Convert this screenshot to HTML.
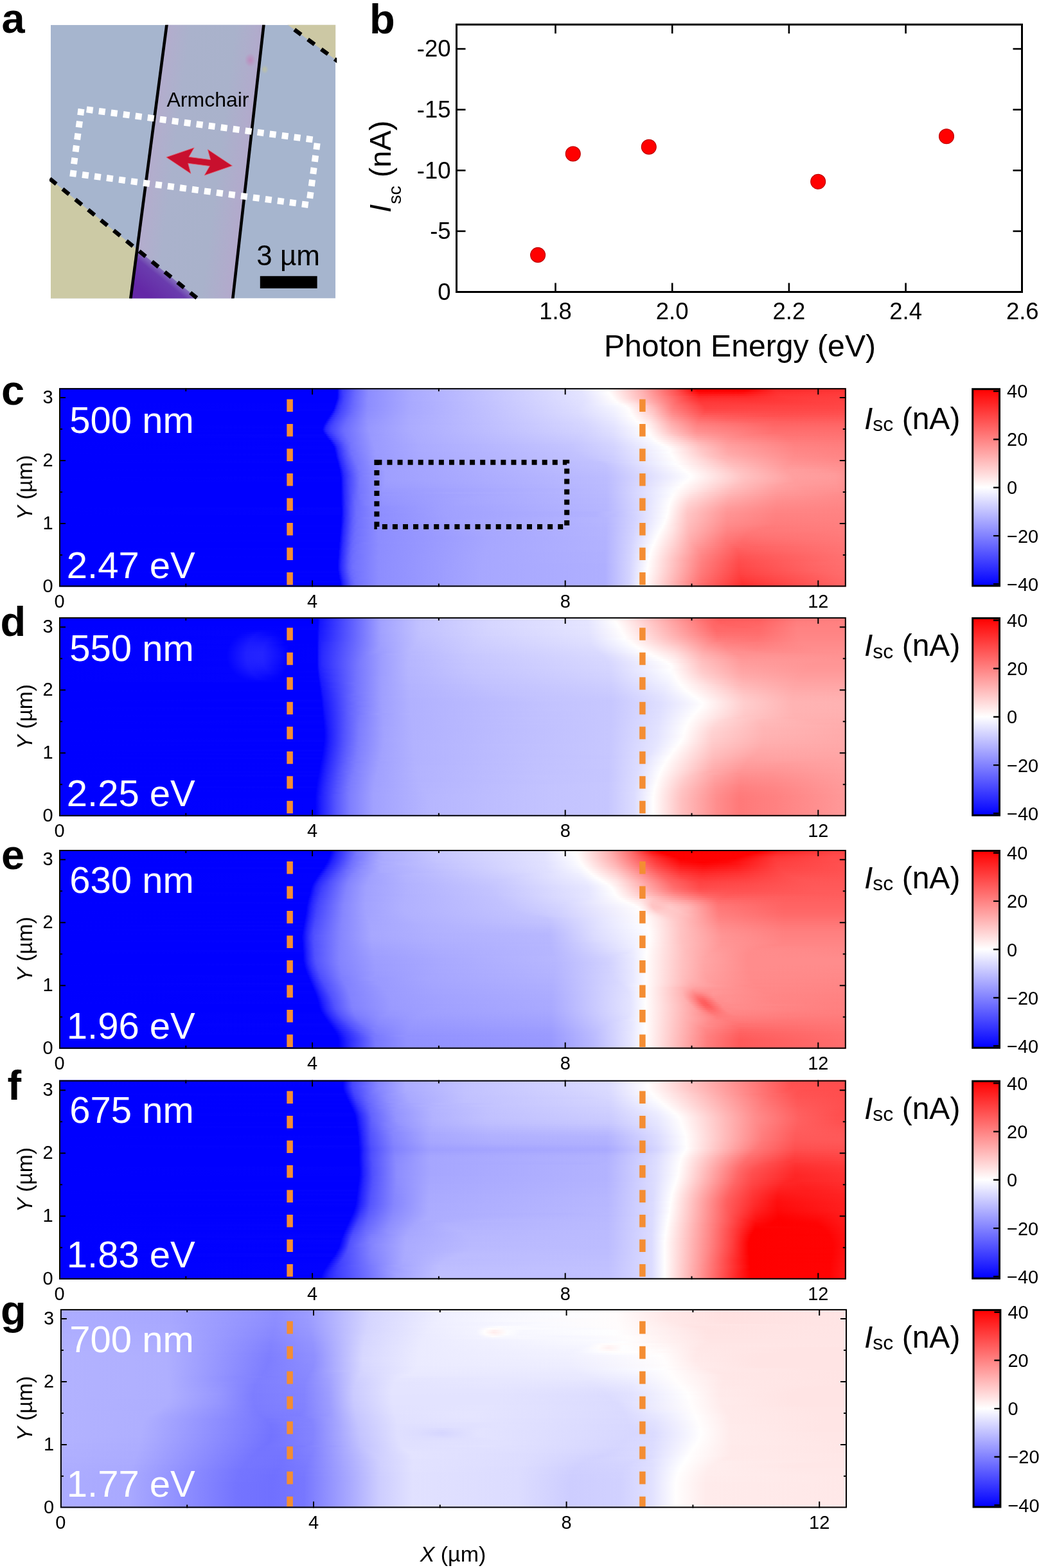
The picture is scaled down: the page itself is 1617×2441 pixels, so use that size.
<!DOCTYPE html><html><head><meta charset="utf-8"><title>Figure</title><style>html,body{margin:0;padding:0;background:#fff;}body{width:1617px;height:2441px;overflow:hidden;}svg{display:block;}</style></head><body><svg width="1617" height="2441" viewBox="0 0 1617 2441" font-family="'Liberation Sans', sans-serif" shape-rendering="auto"><defs><linearGradient id="c0"><stop offset="0.0004" stop-color="#0000ff"/><stop offset="0.3531" stop-color="#0000ff"/><stop offset="0.3539" stop-color="#0505ff"/><stop offset="0.3563" stop-color="#2222ff"/><stop offset="0.3604" stop-color="#3b3bff"/><stop offset="0.3792" stop-color="#7070ff"/><stop offset="0.3931" stop-color="#8d8dff"/><stop offset="0.4461" stop-color="#aaaaff"/><stop offset="0.6624" stop-color="#e5e5ff"/><stop offset="0.6959" stop-color="#fffefe"/><stop offset="0.7392" stop-color="#ffb3b3"/><stop offset="0.7816" stop-color="#ff5454"/><stop offset="0.8029" stop-color="#ff1616"/><stop offset="0.8086" stop-color="#ff0000"/><stop offset="0.8771" stop-color="#ff0202"/><stop offset="0.9106" stop-color="#ff2929"/><stop offset="0.9996" stop-color="#ff3535"/></linearGradient><linearGradient id="c1"><stop offset="0.0004" stop-color="#0000ff"/><stop offset="0.3531" stop-color="#0000ff"/><stop offset="0.3539" stop-color="#0505ff"/><stop offset="0.3563" stop-color="#2222ff"/><stop offset="0.3604" stop-color="#3b3bff"/><stop offset="0.3767" stop-color="#6a6aff"/><stop offset="0.3931" stop-color="#8d8dff"/><stop offset="0.4469" stop-color="#aaaaff"/><stop offset="0.6633" stop-color="#e5e5ff"/><stop offset="0.6976" stop-color="#fffdfd"/><stop offset="0.7408" stop-color="#ffb1b1"/><stop offset="0.7833" stop-color="#ff5353"/><stop offset="0.8037" stop-color="#ff1919"/><stop offset="0.8110" stop-color="#ff0101"/><stop offset="0.8714" stop-color="#ff0303"/><stop offset="0.9106" stop-color="#ff2c2c"/><stop offset="0.9996" stop-color="#ff3636"/></linearGradient><linearGradient id="c2"><stop offset="0.0004" stop-color="#0000ff"/><stop offset="0.3531" stop-color="#0000ff"/><stop offset="0.3539" stop-color="#0505ff"/><stop offset="0.3563" stop-color="#2222ff"/><stop offset="0.3604" stop-color="#3c3cff"/><stop offset="0.3751" stop-color="#6767ff"/><stop offset="0.3931" stop-color="#8d8dff"/><stop offset="0.4469" stop-color="#aaaaff"/><stop offset="0.6641" stop-color="#e4e4ff"/><stop offset="0.6984" stop-color="#fffefe"/><stop offset="0.7416" stop-color="#ffb2b2"/><stop offset="0.7873" stop-color="#ff4d4d"/><stop offset="0.8061" stop-color="#ff1a1a"/><stop offset="0.8135" stop-color="#ff0a0a"/><stop offset="0.8673" stop-color="#ff0c0c"/><stop offset="0.9122" stop-color="#ff3030"/><stop offset="0.9996" stop-color="#ff3939"/></linearGradient><linearGradient id="c3"><stop offset="0.0004" stop-color="#0000ff"/><stop offset="0.3531" stop-color="#0000ff"/><stop offset="0.3539" stop-color="#0505ff"/><stop offset="0.3571" stop-color="#2a2aff"/><stop offset="0.3620" stop-color="#4343ff"/><stop offset="0.3759" stop-color="#6a6aff"/><stop offset="0.3931" stop-color="#8d8dff"/><stop offset="0.4478" stop-color="#aaaaff"/><stop offset="0.6657" stop-color="#e4e4ff"/><stop offset="0.7000" stop-color="#fffefe"/><stop offset="0.7449" stop-color="#ffaeae"/><stop offset="0.8045" stop-color="#ff2a2a"/><stop offset="0.8135" stop-color="#ff1818"/><stop offset="0.8698" stop-color="#ff1b1b"/><stop offset="0.9147" stop-color="#ff3434"/><stop offset="0.9996" stop-color="#ff3c3c"/></linearGradient><linearGradient id="c4"><stop offset="0.0004" stop-color="#0000ff"/><stop offset="0.3531" stop-color="#0000ff"/><stop offset="0.3571" stop-color="#2a2aff"/><stop offset="0.3629" stop-color="#4646ff"/><stop offset="0.3767" stop-color="#6d6dff"/><stop offset="0.3931" stop-color="#8d8dff"/><stop offset="0.4478" stop-color="#aaaaff"/><stop offset="0.6673" stop-color="#e4e4ff"/><stop offset="0.7024" stop-color="#fffdfd"/><stop offset="0.7490" stop-color="#ffa8a8"/><stop offset="0.8127" stop-color="#ff2525"/><stop offset="0.8731" stop-color="#ff2727"/><stop offset="0.9188" stop-color="#ff3838"/><stop offset="0.9996" stop-color="#ff3e3e"/></linearGradient><linearGradient id="c5"><stop offset="0.0004" stop-color="#0000ff"/><stop offset="0.3531" stop-color="#0000ff"/><stop offset="0.3563" stop-color="#2626ff"/><stop offset="0.3612" stop-color="#4242ff"/><stop offset="0.3735" stop-color="#6666ff"/><stop offset="0.3922" stop-color="#8d8dff"/><stop offset="0.4469" stop-color="#aaaaff"/><stop offset="0.6682" stop-color="#e4e4ff"/><stop offset="0.7041" stop-color="#fffdfd"/><stop offset="0.7473" stop-color="#ffafaf"/><stop offset="0.8045" stop-color="#ff3a3a"/><stop offset="0.8151" stop-color="#ff2d2d"/><stop offset="0.8780" stop-color="#ff2f2f"/><stop offset="0.9302" stop-color="#ff3b3b"/><stop offset="0.9996" stop-color="#ff4040"/></linearGradient><linearGradient id="c6"><stop offset="0.0004" stop-color="#0000ff"/><stop offset="0.3522" stop-color="#0000ff"/><stop offset="0.3563" stop-color="#2b2bff"/><stop offset="0.3620" stop-color="#4747ff"/><stop offset="0.3751" stop-color="#6b6bff"/><stop offset="0.3922" stop-color="#8d8dff"/><stop offset="0.4469" stop-color="#aaaaff"/><stop offset="0.6673" stop-color="#e2e2ff"/><stop offset="0.7065" stop-color="#fffdfd"/><stop offset="0.7392" stop-color="#ffc6c6"/><stop offset="0.7922" stop-color="#ff5656"/><stop offset="0.8143" stop-color="#ff3333"/><stop offset="0.8804" stop-color="#ff3434"/><stop offset="0.9604" stop-color="#ff3f3f"/><stop offset="0.9996" stop-color="#ff4141"/></linearGradient><linearGradient id="c7"><stop offset="0.0004" stop-color="#0000ff"/><stop offset="0.3514" stop-color="#0000ff"/><stop offset="0.3555" stop-color="#2b2bff"/><stop offset="0.3612" stop-color="#4646ff"/><stop offset="0.3751" stop-color="#6c6cff"/><stop offset="0.3922" stop-color="#8d8dff"/><stop offset="0.4469" stop-color="#a9a9ff"/><stop offset="0.6665" stop-color="#e1e1ff"/><stop offset="0.7090" stop-color="#fffdfd"/><stop offset="0.7318" stop-color="#ffdbdb"/><stop offset="0.7645" stop-color="#ff9595"/><stop offset="0.7865" stop-color="#ff6565"/><stop offset="0.8151" stop-color="#ff3939"/><stop offset="0.8820" stop-color="#ff3838"/><stop offset="0.9996" stop-color="#ff4343"/></linearGradient><linearGradient id="c8"><stop offset="0.0004" stop-color="#0000ff"/><stop offset="0.3506" stop-color="#0101ff"/><stop offset="0.3547" stop-color="#2b2bff"/><stop offset="0.3604" stop-color="#4646ff"/><stop offset="0.3751" stop-color="#6c6cff"/><stop offset="0.3922" stop-color="#8d8dff"/><stop offset="0.4461" stop-color="#a9a9ff"/><stop offset="0.6641" stop-color="#e0e0ff"/><stop offset="0.7082" stop-color="#fbfbff"/><stop offset="0.7163" stop-color="#fffbfb"/><stop offset="0.7335" stop-color="#ffe0e0"/><stop offset="0.7604" stop-color="#ffa5a5"/><stop offset="0.7816" stop-color="#ff7272"/><stop offset="0.8176" stop-color="#ff3c3c"/><stop offset="0.9024" stop-color="#ff3e3e"/><stop offset="0.9996" stop-color="#ff4444"/></linearGradient><linearGradient id="c9"><stop offset="0.0004" stop-color="#0000ff"/><stop offset="0.3498" stop-color="#0101ff"/><stop offset="0.3531" stop-color="#2525ff"/><stop offset="0.3571" stop-color="#3d3dff"/><stop offset="0.3710" stop-color="#6565ff"/><stop offset="0.3922" stop-color="#8d8dff"/><stop offset="0.4461" stop-color="#a9a9ff"/><stop offset="0.6608" stop-color="#dedeff"/><stop offset="0.7049" stop-color="#f5f5ff"/><stop offset="0.7196" stop-color="#fffdfd"/><stop offset="0.7465" stop-color="#ffcccc"/><stop offset="0.7808" stop-color="#ff7878"/><stop offset="0.8200" stop-color="#ff3f3f"/><stop offset="0.9996" stop-color="#ff4646"/></linearGradient><linearGradient id="c10"><stop offset="0.0004" stop-color="#0000ff"/><stop offset="0.3490" stop-color="#0101ff"/><stop offset="0.3531" stop-color="#2b2bff"/><stop offset="0.3588" stop-color="#4545ff"/><stop offset="0.3743" stop-color="#6d6dff"/><stop offset="0.3922" stop-color="#8e8eff"/><stop offset="0.4461" stop-color="#a9a9ff"/><stop offset="0.6592" stop-color="#ddddff"/><stop offset="0.7033" stop-color="#f2f2ff"/><stop offset="0.7229" stop-color="#fffdfd"/><stop offset="0.7555" stop-color="#ffbcbc"/><stop offset="0.7800" stop-color="#ff7c7c"/><stop offset="0.8208" stop-color="#ff4242"/><stop offset="0.9286" stop-color="#ff4545"/><stop offset="0.9996" stop-color="#ff4747"/></linearGradient><linearGradient id="c11"><stop offset="0.0004" stop-color="#0000ff"/><stop offset="0.3482" stop-color="#0202ff"/><stop offset="0.3514" stop-color="#2626ff"/><stop offset="0.3563" stop-color="#4040ff"/><stop offset="0.3710" stop-color="#6868ff"/><stop offset="0.3914" stop-color="#8d8dff"/><stop offset="0.4453" stop-color="#a9a9ff"/><stop offset="0.6592" stop-color="#dcdcff"/><stop offset="0.7033" stop-color="#f1f1ff"/><stop offset="0.7245" stop-color="#fffdfd"/><stop offset="0.7555" stop-color="#ffc0c0"/><stop offset="0.7792" stop-color="#ff8282"/><stop offset="0.8208" stop-color="#ff4747"/><stop offset="0.9253" stop-color="#ff4747"/><stop offset="0.9996" stop-color="#ff4a4a"/></linearGradient><linearGradient id="c12"><stop offset="0.0004" stop-color="#0000ff"/><stop offset="0.3465" stop-color="#0000ff"/><stop offset="0.3514" stop-color="#2e2eff"/><stop offset="0.3588" stop-color="#4b4bff"/><stop offset="0.3767" stop-color="#7575ff"/><stop offset="0.3922" stop-color="#8f8fff"/><stop offset="0.4453" stop-color="#a9a9ff"/><stop offset="0.6600" stop-color="#dcdcff"/><stop offset="0.7041" stop-color="#f0f0ff"/><stop offset="0.7253" stop-color="#fffdfd"/><stop offset="0.7547" stop-color="#ffc6c6"/><stop offset="0.7792" stop-color="#ff8787"/><stop offset="0.8200" stop-color="#ff4d4d"/><stop offset="0.9212" stop-color="#ff4a4a"/><stop offset="0.9996" stop-color="#ff4d4d"/></linearGradient><linearGradient id="c13"><stop offset="0.0004" stop-color="#0000ff"/><stop offset="0.3449" stop-color="#0000ff"/><stop offset="0.3465" stop-color="#0d0dff"/><stop offset="0.3498" stop-color="#2c2cff"/><stop offset="0.3563" stop-color="#4747ff"/><stop offset="0.3718" stop-color="#6d6dff"/><stop offset="0.3914" stop-color="#8f8fff"/><stop offset="0.4445" stop-color="#a9a9ff"/><stop offset="0.6608" stop-color="#dbdbff"/><stop offset="0.7041" stop-color="#eeeeff"/><stop offset="0.7269" stop-color="#fffdfd"/><stop offset="0.7539" stop-color="#ffcccc"/><stop offset="0.7792" stop-color="#ff8c8c"/><stop offset="0.8184" stop-color="#ff5555"/><stop offset="0.9171" stop-color="#ff4d4d"/><stop offset="0.9996" stop-color="#ff5050"/></linearGradient><linearGradient id="c14"><stop offset="0.0004" stop-color="#0000ff"/><stop offset="0.3433" stop-color="#0000ff"/><stop offset="0.3449" stop-color="#0c0cff"/><stop offset="0.3482" stop-color="#2b2bff"/><stop offset="0.3539" stop-color="#4444ff"/><stop offset="0.3694" stop-color="#6b6bff"/><stop offset="0.3914" stop-color="#9090ff"/><stop offset="0.4445" stop-color="#aaaaff"/><stop offset="0.6616" stop-color="#dadaff"/><stop offset="0.7041" stop-color="#ededff"/><stop offset="0.7278" stop-color="#fffefe"/><stop offset="0.7522" stop-color="#ffd5d5"/><stop offset="0.7792" stop-color="#ff9292"/><stop offset="0.8159" stop-color="#ff5e5e"/><stop offset="0.8984" stop-color="#ff5050"/><stop offset="0.9996" stop-color="#ff5454"/></linearGradient><linearGradient id="c15"><stop offset="0.0004" stop-color="#0000ff"/><stop offset="0.3416" stop-color="#0000ff"/><stop offset="0.3433" stop-color="#0c0cff"/><stop offset="0.3465" stop-color="#2a2aff"/><stop offset="0.3522" stop-color="#4343ff"/><stop offset="0.3678" stop-color="#6b6bff"/><stop offset="0.3914" stop-color="#9191ff"/><stop offset="0.4445" stop-color="#aaaaff"/><stop offset="0.6633" stop-color="#d9d9ff"/><stop offset="0.7049" stop-color="#ebebff"/><stop offset="0.7302" stop-color="#fffdfd"/><stop offset="0.7522" stop-color="#ffdada"/><stop offset="0.7792" stop-color="#ff9999"/><stop offset="0.8143" stop-color="#ff6767"/><stop offset="0.8494" stop-color="#ff5d5d"/><stop offset="0.9180" stop-color="#ff5656"/><stop offset="0.9996" stop-color="#ff5858"/></linearGradient><linearGradient id="c16"><stop offset="0.0004" stop-color="#0000ff"/><stop offset="0.3400" stop-color="#0000ff"/><stop offset="0.3416" stop-color="#0c0cff"/><stop offset="0.3449" stop-color="#2a2aff"/><stop offset="0.3514" stop-color="#4545ff"/><stop offset="0.3669" stop-color="#6c6cff"/><stop offset="0.3922" stop-color="#9393ff"/><stop offset="0.4453" stop-color="#ababff"/><stop offset="0.6649" stop-color="#d8d8ff"/><stop offset="0.7049" stop-color="#eaeaff"/><stop offset="0.7318" stop-color="#fffdfd"/><stop offset="0.7514" stop-color="#ffe1e1"/><stop offset="0.7784" stop-color="#ffa0a0"/><stop offset="0.8127" stop-color="#ff6f6f"/><stop offset="0.8469" stop-color="#ff6464"/><stop offset="0.9155" stop-color="#ff5a5a"/><stop offset="0.9996" stop-color="#ff5c5c"/></linearGradient><linearGradient id="c17"><stop offset="0.0004" stop-color="#0000ff"/><stop offset="0.3384" stop-color="#0000ff"/><stop offset="0.3400" stop-color="#0c0cff"/><stop offset="0.3433" stop-color="#2a2aff"/><stop offset="0.3498" stop-color="#4545ff"/><stop offset="0.3653" stop-color="#6b6bff"/><stop offset="0.3922" stop-color="#9494ff"/><stop offset="0.4453" stop-color="#ababff"/><stop offset="0.6665" stop-color="#d7d7ff"/><stop offset="0.7041" stop-color="#e7e7ff"/><stop offset="0.7343" stop-color="#fffefe"/><stop offset="0.7506" stop-color="#ffe7e7"/><stop offset="0.7784" stop-color="#ffa7a7"/><stop offset="0.8118" stop-color="#ff7676"/><stop offset="0.8804" stop-color="#ff6363"/><stop offset="0.9294" stop-color="#ff5f5f"/><stop offset="0.9996" stop-color="#ff6060"/></linearGradient><linearGradient id="c18"><stop offset="0.0004" stop-color="#0000ff"/><stop offset="0.3367" stop-color="#0000ff"/><stop offset="0.3384" stop-color="#0b0bff"/><stop offset="0.3424" stop-color="#2e2eff"/><stop offset="0.3514" stop-color="#4d4dff"/><stop offset="0.3653" stop-color="#6d6dff"/><stop offset="0.3931" stop-color="#9595ff"/><stop offset="0.4461" stop-color="#ababff"/><stop offset="0.6682" stop-color="#d6d6ff"/><stop offset="0.7041" stop-color="#e6e6ff"/><stop offset="0.7376" stop-color="#fffefe"/><stop offset="0.7514" stop-color="#ffeaea"/><stop offset="0.7776" stop-color="#ffaeae"/><stop offset="0.8110" stop-color="#ff7d7d"/><stop offset="0.9098" stop-color="#ff6363"/><stop offset="0.9996" stop-color="#ff6464"/></linearGradient><linearGradient id="c19"><stop offset="0.0004" stop-color="#0000ff"/><stop offset="0.3359" stop-color="#0101ff"/><stop offset="0.3400" stop-color="#2727ff"/><stop offset="0.3457" stop-color="#4040ff"/><stop offset="0.3629" stop-color="#6b6bff"/><stop offset="0.3931" stop-color="#9696ff"/><stop offset="0.4461" stop-color="#acacff"/><stop offset="0.6698" stop-color="#d6d6ff"/><stop offset="0.7041" stop-color="#e4e4ff"/><stop offset="0.7408" stop-color="#fffefe"/><stop offset="0.7522" stop-color="#ffecec"/><stop offset="0.7776" stop-color="#ffb3b3"/><stop offset="0.8102" stop-color="#ff8383"/><stop offset="0.9090" stop-color="#ff6666"/><stop offset="0.9996" stop-color="#ff6767"/></linearGradient><linearGradient id="c20"><stop offset="0.0004" stop-color="#0000ff"/><stop offset="0.3351" stop-color="#0202ff"/><stop offset="0.3392" stop-color="#2828ff"/><stop offset="0.3457" stop-color="#4343ff"/><stop offset="0.3620" stop-color="#6b6bff"/><stop offset="0.3931" stop-color="#9797ff"/><stop offset="0.4461" stop-color="#acacff"/><stop offset="0.6706" stop-color="#d5d5ff"/><stop offset="0.7033" stop-color="#e2e2ff"/><stop offset="0.7449" stop-color="#fffdfd"/><stop offset="0.7784" stop-color="#ffb6b6"/><stop offset="0.8102" stop-color="#ff8888"/><stop offset="0.9090" stop-color="#ff6a6a"/><stop offset="0.9996" stop-color="#ff6a6a"/></linearGradient><linearGradient id="c21"><stop offset="0.0004" stop-color="#0000ff"/><stop offset="0.3343" stop-color="#0000ff"/><stop offset="0.3392" stop-color="#2a2aff"/><stop offset="0.3465" stop-color="#4646ff"/><stop offset="0.3620" stop-color="#6c6cff"/><stop offset="0.3931" stop-color="#9797ff"/><stop offset="0.4461" stop-color="#acacff"/><stop offset="0.6706" stop-color="#d4d4ff"/><stop offset="0.7033" stop-color="#e1e1ff"/><stop offset="0.7465" stop-color="#fffefe"/><stop offset="0.7776" stop-color="#ffbcbc"/><stop offset="0.8102" stop-color="#ff8c8c"/><stop offset="0.9090" stop-color="#ff6c6c"/><stop offset="0.9996" stop-color="#ff6c6c"/></linearGradient><linearGradient id="c22"><stop offset="0.0004" stop-color="#0000ff"/><stop offset="0.3351" stop-color="#0101ff"/><stop offset="0.3392" stop-color="#2626ff"/><stop offset="0.3449" stop-color="#3f3fff"/><stop offset="0.3612" stop-color="#6b6bff"/><stop offset="0.3939" stop-color="#9898ff"/><stop offset="0.4469" stop-color="#acacff"/><stop offset="0.6690" stop-color="#d3d3ff"/><stop offset="0.7024" stop-color="#e0e0ff"/><stop offset="0.7482" stop-color="#fffdfd"/><stop offset="0.7776" stop-color="#ffc0c0"/><stop offset="0.8102" stop-color="#ff9090"/><stop offset="0.9090" stop-color="#ff6f6f"/><stop offset="0.9996" stop-color="#ff6e6e"/></linearGradient><linearGradient id="c23"><stop offset="0.0004" stop-color="#0000ff"/><stop offset="0.3359" stop-color="#0000ff"/><stop offset="0.3376" stop-color="#0b0bff"/><stop offset="0.3416" stop-color="#2c2cff"/><stop offset="0.3514" stop-color="#5050ff"/><stop offset="0.3637" stop-color="#6e6eff"/><stop offset="0.3947" stop-color="#9898ff"/><stop offset="0.4486" stop-color="#acacff"/><stop offset="0.6665" stop-color="#d1d1ff"/><stop offset="0.7024" stop-color="#dedeff"/><stop offset="0.7490" stop-color="#fffefe"/><stop offset="0.7792" stop-color="#ffc3c3"/><stop offset="0.8102" stop-color="#ff9696"/><stop offset="0.9033" stop-color="#ff7272"/><stop offset="0.9996" stop-color="#ff7070"/></linearGradient><linearGradient id="c24"><stop offset="0.0004" stop-color="#0000ff"/><stop offset="0.3384" stop-color="#0303ff"/><stop offset="0.3433" stop-color="#2c2cff"/><stop offset="0.3522" stop-color="#4e4eff"/><stop offset="0.3645" stop-color="#6f6fff"/><stop offset="0.3955" stop-color="#9898ff"/><stop offset="0.4502" stop-color="#acacff"/><stop offset="0.6641" stop-color="#cfcfff"/><stop offset="0.7024" stop-color="#ddddff"/><stop offset="0.7506" stop-color="#fffdfd"/><stop offset="0.7865" stop-color="#ffbebe"/><stop offset="0.8110" stop-color="#ff9c9c"/><stop offset="0.8755" stop-color="#ff7f7f"/><stop offset="0.9253" stop-color="#ff7373"/><stop offset="0.9996" stop-color="#ff7272"/></linearGradient><linearGradient id="c25"><stop offset="0.0004" stop-color="#0000ff"/><stop offset="0.3400" stop-color="#0202ff"/><stop offset="0.3449" stop-color="#2a2aff"/><stop offset="0.3531" stop-color="#4c4cff"/><stop offset="0.3653" stop-color="#6f6fff"/><stop offset="0.3963" stop-color="#9999ff"/><stop offset="0.4518" stop-color="#acacff"/><stop offset="0.6608" stop-color="#cdcdff"/><stop offset="0.7024" stop-color="#dbdbff"/><stop offset="0.7498" stop-color="#fcfcff"/><stop offset="0.7547" stop-color="#fff9f9"/><stop offset="0.8094" stop-color="#ffa5a5"/><stop offset="0.8600" stop-color="#ff8888"/><stop offset="0.9229" stop-color="#ff7777"/><stop offset="0.9996" stop-color="#ff7474"/></linearGradient><linearGradient id="c26"><stop offset="0.0004" stop-color="#0000ff"/><stop offset="0.3416" stop-color="#0000ff"/><stop offset="0.3473" stop-color="#2d2dff"/><stop offset="0.3588" stop-color="#5b5bff"/><stop offset="0.3686" stop-color="#7373ff"/><stop offset="0.3971" stop-color="#9999ff"/><stop offset="0.4543" stop-color="#acacff"/><stop offset="0.6584" stop-color="#cbcbff"/><stop offset="0.7024" stop-color="#d9d9ff"/><stop offset="0.7498" stop-color="#f9f9ff"/><stop offset="0.7555" stop-color="#fffcfc"/><stop offset="0.8110" stop-color="#ffabab"/><stop offset="0.8551" stop-color="#ff8f8f"/><stop offset="0.9261" stop-color="#ff7979"/><stop offset="0.9996" stop-color="#ff7676"/></linearGradient><linearGradient id="c27"><stop offset="0.0004" stop-color="#0000ff"/><stop offset="0.3441" stop-color="#0202ff"/><stop offset="0.3490" stop-color="#2b2bff"/><stop offset="0.3588" stop-color="#5656ff"/><stop offset="0.3686" stop-color="#7373ff"/><stop offset="0.3980" stop-color="#9999ff"/><stop offset="0.4559" stop-color="#acacff"/><stop offset="0.6559" stop-color="#c9c9ff"/><stop offset="0.7033" stop-color="#d8d8ff"/><stop offset="0.7514" stop-color="#f8f8ff"/><stop offset="0.7580" stop-color="#fffdfd"/><stop offset="0.8118" stop-color="#ffb2b2"/><stop offset="0.8527" stop-color="#ff9494"/><stop offset="0.9302" stop-color="#ff7c7c"/><stop offset="0.9996" stop-color="#ff7979"/></linearGradient><linearGradient id="c28"><stop offset="0.0004" stop-color="#0000ff"/><stop offset="0.3457" stop-color="#0101ff"/><stop offset="0.3514" stop-color="#3030ff"/><stop offset="0.3645" stop-color="#6666ff"/><stop offset="0.3751" stop-color="#7c7cff"/><stop offset="0.3996" stop-color="#9a9aff"/><stop offset="0.4584" stop-color="#acacff"/><stop offset="0.6543" stop-color="#c7c7ff"/><stop offset="0.7033" stop-color="#d6d6ff"/><stop offset="0.7522" stop-color="#f6f6ff"/><stop offset="0.7620" stop-color="#fffdfd"/><stop offset="0.7890" stop-color="#ffd9d9"/><stop offset="0.8135" stop-color="#ffb8b8"/><stop offset="0.8510" stop-color="#ff9999"/><stop offset="0.9335" stop-color="#ff7f7f"/><stop offset="0.9996" stop-color="#ff7b7b"/></linearGradient><linearGradient id="c29"><stop offset="0.0004" stop-color="#0000ff"/><stop offset="0.3473" stop-color="#0101ff"/><stop offset="0.3522" stop-color="#2b2bff"/><stop offset="0.3629" stop-color="#5c5cff"/><stop offset="0.3710" stop-color="#7575ff"/><stop offset="0.3996" stop-color="#9a9aff"/><stop offset="0.4592" stop-color="#ababff"/><stop offset="0.6527" stop-color="#c5c5ff"/><stop offset="0.7041" stop-color="#d5d5ff"/><stop offset="0.7555" stop-color="#f6f6ff"/><stop offset="0.7669" stop-color="#fffdfd"/><stop offset="0.7898" stop-color="#ffdede"/><stop offset="0.8151" stop-color="#ffbcbc"/><stop offset="0.8502" stop-color="#ff9e9e"/><stop offset="0.9351" stop-color="#ff8181"/><stop offset="0.9996" stop-color="#ff7d7d"/></linearGradient><linearGradient id="c30"><stop offset="0.0004" stop-color="#0000ff"/><stop offset="0.3490" stop-color="#0202ff"/><stop offset="0.3531" stop-color="#2929ff"/><stop offset="0.3620" stop-color="#5555ff"/><stop offset="0.3710" stop-color="#7474ff"/><stop offset="0.4004" stop-color="#9a9aff"/><stop offset="0.4600" stop-color="#ababff"/><stop offset="0.6518" stop-color="#c4c4ff"/><stop offset="0.7049" stop-color="#d4d4ff"/><stop offset="0.7604" stop-color="#f7f7ff"/><stop offset="0.7718" stop-color="#fffdfd"/><stop offset="0.8143" stop-color="#ffc2c2"/><stop offset="0.8494" stop-color="#ffa1a1"/><stop offset="0.9351" stop-color="#ff8383"/><stop offset="0.9996" stop-color="#ff7e7e"/></linearGradient><linearGradient id="c31"><stop offset="0.0004" stop-color="#0000ff"/><stop offset="0.3498" stop-color="#0202ff"/><stop offset="0.3539" stop-color="#2929ff"/><stop offset="0.3629" stop-color="#5656ff"/><stop offset="0.3710" stop-color="#7373ff"/><stop offset="0.4004" stop-color="#9a9aff"/><stop offset="0.4600" stop-color="#ababff"/><stop offset="0.6518" stop-color="#c3c3ff"/><stop offset="0.7049" stop-color="#d3d3ff"/><stop offset="0.7694" stop-color="#fcfcff"/><stop offset="0.7759" stop-color="#fffcfc"/><stop offset="0.8135" stop-color="#ffc7c7"/><stop offset="0.8494" stop-color="#ffa4a4"/><stop offset="0.9351" stop-color="#ff8585"/><stop offset="0.9996" stop-color="#ff8080"/></linearGradient><linearGradient id="c32"><stop offset="0.0004" stop-color="#0000ff"/><stop offset="0.3498" stop-color="#0000ff"/><stop offset="0.3555" stop-color="#3030ff"/><stop offset="0.3686" stop-color="#6b6bff"/><stop offset="0.3800" stop-color="#8080ff"/><stop offset="0.4020" stop-color="#9a9aff"/><stop offset="0.4608" stop-color="#ababff"/><stop offset="0.6527" stop-color="#c3c3ff"/><stop offset="0.7041" stop-color="#d2d2ff"/><stop offset="0.7767" stop-color="#fffdfd"/><stop offset="0.8143" stop-color="#ffc9c9"/><stop offset="0.8494" stop-color="#ffa6a6"/><stop offset="0.9351" stop-color="#ff8686"/><stop offset="0.9996" stop-color="#ff8181"/></linearGradient><linearGradient id="c33"><stop offset="0.0004" stop-color="#0000ff"/><stop offset="0.3506" stop-color="#0000ff"/><stop offset="0.3547" stop-color="#2727ff"/><stop offset="0.3629" stop-color="#5151ff"/><stop offset="0.3718" stop-color="#7373ff"/><stop offset="0.4012" stop-color="#9a9aff"/><stop offset="0.4608" stop-color="#aaaaff"/><stop offset="0.6551" stop-color="#c2c2ff"/><stop offset="0.7041" stop-color="#d1d1ff"/><stop offset="0.7751" stop-color="#fefeff"/><stop offset="0.8200" stop-color="#ffc5c5"/><stop offset="0.8502" stop-color="#ffa8a8"/><stop offset="0.9351" stop-color="#ff8888"/><stop offset="0.9996" stop-color="#ff8282"/></linearGradient><linearGradient id="c34"><stop offset="0.0004" stop-color="#0000ff"/><stop offset="0.3514" stop-color="#0202ff"/><stop offset="0.3547" stop-color="#2323ff"/><stop offset="0.3612" stop-color="#4848ff"/><stop offset="0.3718" stop-color="#7171ff"/><stop offset="0.4004" stop-color="#9999ff"/><stop offset="0.4592" stop-color="#aaaaff"/><stop offset="0.6576" stop-color="#c2c2ff"/><stop offset="0.7033" stop-color="#d0d0ff"/><stop offset="0.7784" stop-color="#fffdfd"/><stop offset="0.8208" stop-color="#ffc7c7"/><stop offset="0.8502" stop-color="#ffabab"/><stop offset="0.9351" stop-color="#ff8a8a"/><stop offset="0.9996" stop-color="#ff8383"/></linearGradient><linearGradient id="c35"><stop offset="0.0004" stop-color="#0000ff"/><stop offset="0.3514" stop-color="#0000ff"/><stop offset="0.3563" stop-color="#2b2bff"/><stop offset="0.3669" stop-color="#5d5dff"/><stop offset="0.3751" stop-color="#7676ff"/><stop offset="0.4029" stop-color="#9a9aff"/><stop offset="0.4616" stop-color="#aaaaff"/><stop offset="0.6624" stop-color="#c2c2ff"/><stop offset="0.7033" stop-color="#ceceff"/><stop offset="0.7792" stop-color="#fffefe"/><stop offset="0.8290" stop-color="#ffc1c1"/><stop offset="0.8543" stop-color="#ffadad"/><stop offset="0.9351" stop-color="#ff8b8b"/><stop offset="0.9996" stop-color="#ff8484"/></linearGradient><linearGradient id="c36"><stop offset="0.0004" stop-color="#0000ff"/><stop offset="0.3522" stop-color="#0000ff"/><stop offset="0.3563" stop-color="#2626ff"/><stop offset="0.3637" stop-color="#4d4dff"/><stop offset="0.3743" stop-color="#7373ff"/><stop offset="0.4020" stop-color="#9999ff"/><stop offset="0.4600" stop-color="#a9a9ff"/><stop offset="0.6682" stop-color="#c2c2ff"/><stop offset="0.7041" stop-color="#ceceff"/><stop offset="0.7808" stop-color="#fffdfd"/><stop offset="0.8429" stop-color="#ffb7b7"/><stop offset="0.9310" stop-color="#ff8e8e"/><stop offset="0.9996" stop-color="#ff8686"/></linearGradient><linearGradient id="c37"><stop offset="0.0004" stop-color="#0000ff"/><stop offset="0.3531" stop-color="#0101ff"/><stop offset="0.3571" stop-color="#2828ff"/><stop offset="0.3653" stop-color="#5050ff"/><stop offset="0.3751" stop-color="#7373ff"/><stop offset="0.4020" stop-color="#9898ff"/><stop offset="0.4478" stop-color="#a7a7ff"/><stop offset="0.6763" stop-color="#c2c2ff"/><stop offset="0.7090" stop-color="#cfcfff"/><stop offset="0.7824" stop-color="#fffdfd"/><stop offset="0.8478" stop-color="#ffb8b8"/><stop offset="0.9327" stop-color="#ff9090"/><stop offset="0.9963" stop-color="#ff8888"/><stop offset="0.9996" stop-color="#ff8888"/></linearGradient><linearGradient id="c38"><stop offset="0.0004" stop-color="#0000ff"/><stop offset="0.3539" stop-color="#0202ff"/><stop offset="0.3580" stop-color="#2929ff"/><stop offset="0.3661" stop-color="#5151ff"/><stop offset="0.3767" stop-color="#7575ff"/><stop offset="0.4053" stop-color="#9a9aff"/><stop offset="0.4657" stop-color="#a8a8ff"/><stop offset="0.6878" stop-color="#c2c2ff"/><stop offset="0.7800" stop-color="#fcfcff"/><stop offset="0.7865" stop-color="#fffbfb"/><stop offset="0.8494" stop-color="#ffbbbb"/><stop offset="0.9302" stop-color="#ff9393"/><stop offset="0.9931" stop-color="#ff8b8b"/><stop offset="0.9996" stop-color="#ff8989"/></linearGradient><linearGradient id="c39"><stop offset="0.0004" stop-color="#0000ff"/><stop offset="0.3539" stop-color="#0000ff"/><stop offset="0.3547" stop-color="#0303ff"/><stop offset="0.3580" stop-color="#2424ff"/><stop offset="0.3645" stop-color="#4747ff"/><stop offset="0.3767" stop-color="#7373ff"/><stop offset="0.4012" stop-color="#9696ff"/><stop offset="0.4233" stop-color="#a1a1ff"/><stop offset="0.6927" stop-color="#c2c2ff"/><stop offset="0.7833" stop-color="#fefeff"/><stop offset="0.8518" stop-color="#ffbebe"/><stop offset="0.9286" stop-color="#ff9595"/><stop offset="0.9906" stop-color="#ff8e8e"/><stop offset="0.9996" stop-color="#ff8b8b"/></linearGradient><linearGradient id="c40"><stop offset="0.0004" stop-color="#0000ff"/><stop offset="0.3547" stop-color="#0000ff"/><stop offset="0.3596" stop-color="#2b2bff"/><stop offset="0.3686" stop-color="#5454ff"/><stop offset="0.3800" stop-color="#7979ff"/><stop offset="0.4102" stop-color="#9d9dff"/><stop offset="0.5457" stop-color="#afafff"/><stop offset="0.6951" stop-color="#c2c2ff"/><stop offset="0.7882" stop-color="#fffefe"/><stop offset="0.8535" stop-color="#ffc0c0"/><stop offset="0.9253" stop-color="#ff9999"/><stop offset="0.9898" stop-color="#ff9090"/><stop offset="0.9996" stop-color="#ff8d8d"/></linearGradient><linearGradient id="c41"><stop offset="0.0004" stop-color="#0000ff"/><stop offset="0.3555" stop-color="#0000ff"/><stop offset="0.3596" stop-color="#2626ff"/><stop offset="0.3669" stop-color="#4b4bff"/><stop offset="0.3800" stop-color="#7878ff"/><stop offset="0.4110" stop-color="#9e9eff"/><stop offset="0.6959" stop-color="#c1c1ff"/><stop offset="0.7914" stop-color="#fffdfd"/><stop offset="0.8559" stop-color="#ffc3c3"/><stop offset="0.9229" stop-color="#ff9c9c"/><stop offset="0.9890" stop-color="#ff9393"/><stop offset="0.9996" stop-color="#ff8e8e"/></linearGradient><linearGradient id="c42"><stop offset="0.0004" stop-color="#0000ff"/><stop offset="0.3563" stop-color="#0101ff"/><stop offset="0.3604" stop-color="#2828ff"/><stop offset="0.3678" stop-color="#4c4cff"/><stop offset="0.3808" stop-color="#7878ff"/><stop offset="0.4127" stop-color="#9f9fff"/><stop offset="0.6959" stop-color="#c0c0ff"/><stop offset="0.7939" stop-color="#fffefe"/><stop offset="0.8592" stop-color="#ffc4c4"/><stop offset="0.9220" stop-color="#ff9f9f"/><stop offset="0.9653" stop-color="#ff9a9a"/><stop offset="0.9914" stop-color="#ff9393"/><stop offset="0.9996" stop-color="#ff9090"/></linearGradient><linearGradient id="c43"><stop offset="0.0004" stop-color="#0000ff"/><stop offset="0.3563" stop-color="#0000ff"/><stop offset="0.3580" stop-color="#0e0eff"/><stop offset="0.3620" stop-color="#2f2fff"/><stop offset="0.3759" stop-color="#6868ff"/><stop offset="0.3849" stop-color="#7e7eff"/><stop offset="0.4143" stop-color="#9f9fff"/><stop offset="0.6959" stop-color="#bfbfff"/><stop offset="0.7971" stop-color="#fffefe"/><stop offset="0.8633" stop-color="#ffc3c3"/><stop offset="0.9253" stop-color="#ff9f9f"/><stop offset="0.9873" stop-color="#ff9797"/><stop offset="0.9996" stop-color="#ff9191"/></linearGradient><linearGradient id="c44"><stop offset="0.0004" stop-color="#0000ff"/><stop offset="0.3571" stop-color="#0000ff"/><stop offset="0.3612" stop-color="#2727ff"/><stop offset="0.3686" stop-color="#4a4aff"/><stop offset="0.3816" stop-color="#7878ff"/><stop offset="0.4143" stop-color="#9f9fff"/><stop offset="0.6959" stop-color="#bebeff"/><stop offset="0.8004" stop-color="#fffefe"/><stop offset="0.8657" stop-color="#ffc4c4"/><stop offset="0.9286" stop-color="#ff9f9f"/><stop offset="0.9857" stop-color="#ff9a9a"/><stop offset="0.9996" stop-color="#ff9292"/></linearGradient><linearGradient id="c45"><stop offset="0.0004" stop-color="#0000ff"/><stop offset="0.3571" stop-color="#0000ff"/><stop offset="0.3629" stop-color="#2f2fff"/><stop offset="0.3784" stop-color="#6e6eff"/><stop offset="0.3873" stop-color="#8181ff"/><stop offset="0.4151" stop-color="#9f9fff"/><stop offset="0.6959" stop-color="#bdbdff"/><stop offset="0.8020" stop-color="#fffefe"/><stop offset="0.8682" stop-color="#ffc3c3"/><stop offset="0.9318" stop-color="#ff9f9f"/><stop offset="0.9857" stop-color="#ff9b9b"/><stop offset="0.9996" stop-color="#ff9393"/></linearGradient><linearGradient id="c46"><stop offset="0.0004" stop-color="#0000ff"/><stop offset="0.3580" stop-color="#0202ff"/><stop offset="0.3612" stop-color="#2323ff"/><stop offset="0.3678" stop-color="#4545ff"/><stop offset="0.3824" stop-color="#7979ff"/><stop offset="0.4143" stop-color="#9f9fff"/><stop offset="0.6959" stop-color="#bcbcff"/><stop offset="0.8020" stop-color="#fffefe"/><stop offset="0.8690" stop-color="#ffc3c3"/><stop offset="0.9327" stop-color="#ff9f9f"/><stop offset="0.9857" stop-color="#ff9b9b"/><stop offset="0.9996" stop-color="#ff9393"/></linearGradient><linearGradient id="c47"><stop offset="0.0004" stop-color="#0000ff"/><stop offset="0.3580" stop-color="#0101ff"/><stop offset="0.3612" stop-color="#2222ff"/><stop offset="0.3669" stop-color="#4242ff"/><stop offset="0.3824" stop-color="#7979ff"/><stop offset="0.4143" stop-color="#9f9fff"/><stop offset="0.6959" stop-color="#bcbcff"/><stop offset="0.7996" stop-color="#fffefe"/><stop offset="0.8706" stop-color="#ffc0c0"/><stop offset="0.9343" stop-color="#ff9e9e"/><stop offset="0.9857" stop-color="#ff9a9a"/><stop offset="0.9996" stop-color="#ff9393"/></linearGradient><linearGradient id="c48"><stop offset="0.0004" stop-color="#0000ff"/><stop offset="0.3580" stop-color="#0101ff"/><stop offset="0.3612" stop-color="#2222ff"/><stop offset="0.3669" stop-color="#4242ff"/><stop offset="0.3816" stop-color="#7777ff"/><stop offset="0.4143" stop-color="#9e9eff"/><stop offset="0.6959" stop-color="#bcbcff"/><stop offset="0.7963" stop-color="#fffefe"/><stop offset="0.8714" stop-color="#ffbebe"/><stop offset="0.9351" stop-color="#ff9d9d"/><stop offset="0.9857" stop-color="#ff9999"/><stop offset="0.9996" stop-color="#ff9292"/></linearGradient><linearGradient id="c49"><stop offset="0.0004" stop-color="#0000ff"/><stop offset="0.3580" stop-color="#0000ff"/><stop offset="0.3612" stop-color="#2222ff"/><stop offset="0.3669" stop-color="#4242ff"/><stop offset="0.3816" stop-color="#7777ff"/><stop offset="0.4135" stop-color="#9d9dff"/><stop offset="0.6959" stop-color="#bcbcff"/><stop offset="0.7931" stop-color="#fffefe"/><stop offset="0.8673" stop-color="#ffbebe"/><stop offset="0.9286" stop-color="#ff9d9d"/><stop offset="0.9865" stop-color="#ff9898"/><stop offset="0.9996" stop-color="#ff9191"/></linearGradient><linearGradient id="c50"><stop offset="0.0004" stop-color="#0000ff"/><stop offset="0.3580" stop-color="#0000ff"/><stop offset="0.3612" stop-color="#2121ff"/><stop offset="0.3678" stop-color="#4545ff"/><stop offset="0.3816" stop-color="#7676ff"/><stop offset="0.4135" stop-color="#9c9cff"/><stop offset="0.6959" stop-color="#bbbbff"/><stop offset="0.7906" stop-color="#fffdfd"/><stop offset="0.8616" stop-color="#ffbfbf"/><stop offset="0.9147" stop-color="#ffa1a1"/><stop offset="0.9465" stop-color="#ff9a9a"/><stop offset="0.9873" stop-color="#ff9696"/><stop offset="0.9996" stop-color="#ff9090"/></linearGradient><linearGradient id="c51"><stop offset="0.0004" stop-color="#0000ff"/><stop offset="0.3580" stop-color="#0000ff"/><stop offset="0.3620" stop-color="#2727ff"/><stop offset="0.3694" stop-color="#4c4cff"/><stop offset="0.3816" stop-color="#7676ff"/><stop offset="0.4127" stop-color="#9b9bff"/><stop offset="0.6959" stop-color="#bbbbff"/><stop offset="0.7873" stop-color="#fffefe"/><stop offset="0.8567" stop-color="#ffc0c0"/><stop offset="0.9106" stop-color="#ffa1a1"/><stop offset="0.9449" stop-color="#ff9898"/><stop offset="0.9873" stop-color="#ff9595"/><stop offset="0.9996" stop-color="#ff8f8f"/></linearGradient><linearGradient id="c52"><stop offset="0.0004" stop-color="#0000ff"/><stop offset="0.3580" stop-color="#0000ff"/><stop offset="0.3620" stop-color="#2727ff"/><stop offset="0.3694" stop-color="#4c4cff"/><stop offset="0.3808" stop-color="#7474ff"/><stop offset="0.4110" stop-color="#9999ff"/><stop offset="0.6412" stop-color="#b3b3ff"/><stop offset="0.6967" stop-color="#bbbbff"/><stop offset="0.7808" stop-color="#fbfbff"/><stop offset="0.7865" stop-color="#fffcfc"/><stop offset="0.8535" stop-color="#ffbebe"/><stop offset="0.9098" stop-color="#ff9f9f"/><stop offset="0.9465" stop-color="#ff9797"/><stop offset="0.9890" stop-color="#ff9393"/><stop offset="0.9996" stop-color="#ff8e8e"/></linearGradient><linearGradient id="c53"><stop offset="0.0004" stop-color="#0000ff"/><stop offset="0.3580" stop-color="#0000ff"/><stop offset="0.3620" stop-color="#2626ff"/><stop offset="0.3694" stop-color="#4c4cff"/><stop offset="0.3808" stop-color="#7474ff"/><stop offset="0.4110" stop-color="#9898ff"/><stop offset="0.6094" stop-color="#b0b0ff"/><stop offset="0.6959" stop-color="#babaff"/><stop offset="0.7792" stop-color="#fbfbff"/><stop offset="0.7849" stop-color="#fffbfb"/><stop offset="0.8510" stop-color="#ffbcbc"/><stop offset="0.9090" stop-color="#ff9d9d"/><stop offset="0.9482" stop-color="#ff9595"/><stop offset="0.9898" stop-color="#ff9191"/><stop offset="0.9996" stop-color="#ff8d8d"/></linearGradient><linearGradient id="c54"><stop offset="0.0004" stop-color="#0000ff"/><stop offset="0.3580" stop-color="#0000ff"/><stop offset="0.3620" stop-color="#2626ff"/><stop offset="0.3694" stop-color="#4c4cff"/><stop offset="0.3800" stop-color="#7272ff"/><stop offset="0.4078" stop-color="#9595ff"/><stop offset="0.4976" stop-color="#a5a5ff"/><stop offset="0.6959" stop-color="#babaff"/><stop offset="0.7776" stop-color="#fbfbff"/><stop offset="0.7824" stop-color="#fffcfc"/><stop offset="0.8192" stop-color="#ffd4d4"/><stop offset="0.8567" stop-color="#ffb5b5"/><stop offset="0.9131" stop-color="#ff9999"/><stop offset="0.9563" stop-color="#ff9393"/><stop offset="0.9931" stop-color="#ff8e8e"/><stop offset="0.9996" stop-color="#ff8c8c"/></linearGradient><linearGradient id="c55"><stop offset="0.0004" stop-color="#0000ff"/><stop offset="0.3580" stop-color="#0000ff"/><stop offset="0.3629" stop-color="#2c2cff"/><stop offset="0.3735" stop-color="#5e5eff"/><stop offset="0.3833" stop-color="#7979ff"/><stop offset="0.4118" stop-color="#9797ff"/><stop offset="0.5857" stop-color="#adadff"/><stop offset="0.6959" stop-color="#b9b9ff"/><stop offset="0.7735" stop-color="#f7f7ff"/><stop offset="0.7800" stop-color="#fffefe"/><stop offset="0.8037" stop-color="#ffe0e0"/><stop offset="0.8518" stop-color="#ffb4b4"/><stop offset="0.9114" stop-color="#ff9797"/><stop offset="0.9596" stop-color="#ff9191"/><stop offset="0.9996" stop-color="#ff8b8b"/></linearGradient><linearGradient id="c56"><stop offset="0.0004" stop-color="#0000ff"/><stop offset="0.3580" stop-color="#0000ff"/><stop offset="0.3629" stop-color="#2b2bff"/><stop offset="0.3735" stop-color="#5e5eff"/><stop offset="0.3824" stop-color="#7777ff"/><stop offset="0.4102" stop-color="#9595ff"/><stop offset="0.5294" stop-color="#a7a7ff"/><stop offset="0.6959" stop-color="#b9b9ff"/><stop offset="0.7669" stop-color="#f2f2ff"/><stop offset="0.7792" stop-color="#fffdfd"/><stop offset="0.8020" stop-color="#ffdede"/><stop offset="0.8510" stop-color="#ffb0b0"/><stop offset="0.9114" stop-color="#ff9494"/><stop offset="0.9996" stop-color="#ff8a8a"/></linearGradient><linearGradient id="c57"><stop offset="0.0004" stop-color="#0000ff"/><stop offset="0.3580" stop-color="#0000ff"/><stop offset="0.3629" stop-color="#2b2bff"/><stop offset="0.3735" stop-color="#5f5fff"/><stop offset="0.3824" stop-color="#7777ff"/><stop offset="0.4094" stop-color="#9494ff"/><stop offset="0.5106" stop-color="#a5a5ff"/><stop offset="0.6959" stop-color="#b8b8ff"/><stop offset="0.7514" stop-color="#e5e5ff"/><stop offset="0.7776" stop-color="#fffefe"/><stop offset="0.8004" stop-color="#ffdbdb"/><stop offset="0.8510" stop-color="#ffacac"/><stop offset="0.9122" stop-color="#ff9292"/><stop offset="0.9996" stop-color="#ff8989"/></linearGradient><linearGradient id="c58"><stop offset="0.0004" stop-color="#0000ff"/><stop offset="0.3580" stop-color="#0000ff"/><stop offset="0.3637" stop-color="#3030ff"/><stop offset="0.3759" stop-color="#6868ff"/><stop offset="0.3882" stop-color="#7e7eff"/><stop offset="0.4110" stop-color="#9494ff"/><stop offset="0.5220" stop-color="#a6a6ff"/><stop offset="0.6959" stop-color="#b8b8ff"/><stop offset="0.7457" stop-color="#e0e0ff"/><stop offset="0.7767" stop-color="#fffefe"/><stop offset="0.7996" stop-color="#ffd8d8"/><stop offset="0.8502" stop-color="#ffa9a9"/><stop offset="0.9122" stop-color="#ff8f8f"/><stop offset="0.9996" stop-color="#ff8888"/></linearGradient><linearGradient id="c59"><stop offset="0.0004" stop-color="#0000ff"/><stop offset="0.3580" stop-color="#0000ff"/><stop offset="0.3596" stop-color="#0e0eff"/><stop offset="0.3645" stop-color="#3535ff"/><stop offset="0.3759" stop-color="#6969ff"/><stop offset="0.3890" stop-color="#7f7fff"/><stop offset="0.4110" stop-color="#9393ff"/><stop offset="0.5147" stop-color="#a5a5ff"/><stop offset="0.6959" stop-color="#b8b8ff"/><stop offset="0.7416" stop-color="#dcdcff"/><stop offset="0.7759" stop-color="#fffefe"/><stop offset="0.7996" stop-color="#ffd4d4"/><stop offset="0.8502" stop-color="#ffa5a5"/><stop offset="0.9122" stop-color="#ff8d8d"/><stop offset="0.9996" stop-color="#ff8787"/></linearGradient><linearGradient id="c60"><stop offset="0.0004" stop-color="#0000ff"/><stop offset="0.3580" stop-color="#0000ff"/><stop offset="0.3596" stop-color="#0e0eff"/><stop offset="0.3645" stop-color="#3535ff"/><stop offset="0.3759" stop-color="#6969ff"/><stop offset="0.3898" stop-color="#8080ff"/><stop offset="0.4102" stop-color="#9292ff"/><stop offset="0.5041" stop-color="#a3a3ff"/><stop offset="0.6959" stop-color="#b7b7ff"/><stop offset="0.7384" stop-color="#d9d9ff"/><stop offset="0.7751" stop-color="#fffefe"/><stop offset="0.7988" stop-color="#ffd2d2"/><stop offset="0.8494" stop-color="#ffa2a2"/><stop offset="0.9114" stop-color="#ff8b8b"/><stop offset="0.9996" stop-color="#ff8686"/></linearGradient><linearGradient id="c61"><stop offset="0.0004" stop-color="#0000ff"/><stop offset="0.3580" stop-color="#0000ff"/><stop offset="0.3588" stop-color="#0303ff"/><stop offset="0.3620" stop-color="#2424ff"/><stop offset="0.3694" stop-color="#4e4eff"/><stop offset="0.3776" stop-color="#6e6eff"/><stop offset="0.4053" stop-color="#8f8fff"/><stop offset="0.4869" stop-color="#a0a0ff"/><stop offset="0.6959" stop-color="#b7b7ff"/><stop offset="0.7367" stop-color="#d8d8ff"/><stop offset="0.7743" stop-color="#fffefe"/><stop offset="0.7988" stop-color="#ffcfcf"/><stop offset="0.8494" stop-color="#ff9e9e"/><stop offset="0.9114" stop-color="#ff8989"/><stop offset="0.9996" stop-color="#ff8585"/></linearGradient><linearGradient id="c62"><stop offset="0.0004" stop-color="#0000ff"/><stop offset="0.3588" stop-color="#0303ff"/><stop offset="0.3620" stop-color="#2424ff"/><stop offset="0.3702" stop-color="#5252ff"/><stop offset="0.3776" stop-color="#6e6eff"/><stop offset="0.4053" stop-color="#8e8eff"/><stop offset="0.4878" stop-color="#a0a0ff"/><stop offset="0.6959" stop-color="#b7b7ff"/><stop offset="0.7359" stop-color="#d7d7ff"/><stop offset="0.7743" stop-color="#fffdfd"/><stop offset="0.7988" stop-color="#ffcccc"/><stop offset="0.8486" stop-color="#ff9b9b"/><stop offset="0.9106" stop-color="#ff8787"/><stop offset="0.9996" stop-color="#ff8484"/></linearGradient><linearGradient id="c63"><stop offset="0.0004" stop-color="#0000ff"/><stop offset="0.3588" stop-color="#0202ff"/><stop offset="0.3620" stop-color="#2323ff"/><stop offset="0.3702" stop-color="#5252ff"/><stop offset="0.3776" stop-color="#6e6eff"/><stop offset="0.4053" stop-color="#8e8eff"/><stop offset="0.4886" stop-color="#a0a0ff"/><stop offset="0.6959" stop-color="#b6b6ff"/><stop offset="0.7343" stop-color="#d5d5ff"/><stop offset="0.7735" stop-color="#fffefe"/><stop offset="0.7980" stop-color="#ffcaca"/><stop offset="0.8486" stop-color="#ff9999"/><stop offset="0.9106" stop-color="#ff8585"/><stop offset="0.9996" stop-color="#ff8383"/></linearGradient><linearGradient id="c64"><stop offset="0.0004" stop-color="#0000ff"/><stop offset="0.3588" stop-color="#0202ff"/><stop offset="0.3620" stop-color="#2323ff"/><stop offset="0.3702" stop-color="#5252ff"/><stop offset="0.3776" stop-color="#6f6fff"/><stop offset="0.4053" stop-color="#8e8eff"/><stop offset="0.4886" stop-color="#a0a0ff"/><stop offset="0.6829" stop-color="#b2b2ff"/><stop offset="0.7098" stop-color="#c0c0ff"/><stop offset="0.7441" stop-color="#e0e0ff"/><stop offset="0.7735" stop-color="#fffdfd"/><stop offset="0.7980" stop-color="#ffc8c8"/><stop offset="0.8486" stop-color="#ff9696"/><stop offset="0.9106" stop-color="#ff8484"/><stop offset="0.9996" stop-color="#ff8383"/></linearGradient><linearGradient id="c65"><stop offset="0.0004" stop-color="#0000ff"/><stop offset="0.3588" stop-color="#0202ff"/><stop offset="0.3620" stop-color="#2323ff"/><stop offset="0.3702" stop-color="#5252ff"/><stop offset="0.3776" stop-color="#6f6fff"/><stop offset="0.4053" stop-color="#8d8dff"/><stop offset="0.4894" stop-color="#a0a0ff"/><stop offset="0.6812" stop-color="#b2b2ff"/><stop offset="0.7049" stop-color="#bcbcff"/><stop offset="0.7367" stop-color="#d8d8ff"/><stop offset="0.7727" stop-color="#fffefe"/><stop offset="0.7980" stop-color="#ffc6c6"/><stop offset="0.8486" stop-color="#ff9494"/><stop offset="0.9106" stop-color="#ff8282"/><stop offset="0.9996" stop-color="#ff8282"/></linearGradient><linearGradient id="c66"><stop offset="0.0004" stop-color="#0000ff"/><stop offset="0.3580" stop-color="#0000ff"/><stop offset="0.3588" stop-color="#0303ff"/><stop offset="0.3620" stop-color="#2424ff"/><stop offset="0.3702" stop-color="#5353ff"/><stop offset="0.3776" stop-color="#6f6fff"/><stop offset="0.4053" stop-color="#8d8dff"/><stop offset="0.4910" stop-color="#a0a0ff"/><stop offset="0.6812" stop-color="#b2b2ff"/><stop offset="0.7041" stop-color="#bbbbff"/><stop offset="0.7359" stop-color="#d7d7ff"/><stop offset="0.7718" stop-color="#fffefe"/><stop offset="0.7980" stop-color="#ffc5c5"/><stop offset="0.8486" stop-color="#ff9393"/><stop offset="0.9106" stop-color="#ff8181"/><stop offset="0.9996" stop-color="#ff8282"/></linearGradient><linearGradient id="c67"><stop offset="0.0004" stop-color="#0000ff"/><stop offset="0.3580" stop-color="#0000ff"/><stop offset="0.3596" stop-color="#0e0eff"/><stop offset="0.3645" stop-color="#3535ff"/><stop offset="0.3751" stop-color="#6969ff"/><stop offset="0.3873" stop-color="#7c7cff"/><stop offset="0.4069" stop-color="#8e8eff"/><stop offset="0.4951" stop-color="#a0a0ff"/><stop offset="0.6959" stop-color="#b6b6ff"/><stop offset="0.7327" stop-color="#d4d4ff"/><stop offset="0.7718" stop-color="#fffdfd"/><stop offset="0.7980" stop-color="#ffc4c4"/><stop offset="0.8486" stop-color="#ff9191"/><stop offset="0.9098" stop-color="#ff8080"/><stop offset="0.9996" stop-color="#ff8181"/></linearGradient><linearGradient id="c68"><stop offset="0.0004" stop-color="#0000ff"/><stop offset="0.3580" stop-color="#0000ff"/><stop offset="0.3629" stop-color="#2b2bff"/><stop offset="0.3735" stop-color="#6363ff"/><stop offset="0.3800" stop-color="#7373ff"/><stop offset="0.4061" stop-color="#8d8dff"/><stop offset="0.4976" stop-color="#a1a1ff"/><stop offset="0.6959" stop-color="#b6b6ff"/><stop offset="0.7327" stop-color="#d4d4ff"/><stop offset="0.7702" stop-color="#fffefe"/><stop offset="0.7988" stop-color="#ffc2c2"/><stop offset="0.8486" stop-color="#ff9090"/><stop offset="0.9098" stop-color="#ff7f7f"/><stop offset="0.9996" stop-color="#ff8181"/></linearGradient><linearGradient id="c69"><stop offset="0.0004" stop-color="#0000ff"/><stop offset="0.3580" stop-color="#0000ff"/><stop offset="0.3629" stop-color="#2c2cff"/><stop offset="0.3735" stop-color="#6464ff"/><stop offset="0.3808" stop-color="#7474ff"/><stop offset="0.4061" stop-color="#8d8dff"/><stop offset="0.5016" stop-color="#a1a1ff"/><stop offset="0.6959" stop-color="#b6b6ff"/><stop offset="0.7318" stop-color="#d4d4ff"/><stop offset="0.7694" stop-color="#fffefe"/><stop offset="0.7988" stop-color="#ffc1c1"/><stop offset="0.8486" stop-color="#ff8e8e"/><stop offset="0.9098" stop-color="#ff7e7e"/><stop offset="0.9996" stop-color="#ff8080"/></linearGradient><linearGradient id="c70"><stop offset="0.0004" stop-color="#0000ff"/><stop offset="0.3580" stop-color="#0000ff"/><stop offset="0.3620" stop-color="#2828ff"/><stop offset="0.3718" stop-color="#5d5dff"/><stop offset="0.3784" stop-color="#7171ff"/><stop offset="0.4061" stop-color="#8d8dff"/><stop offset="0.5073" stop-color="#a2a2ff"/><stop offset="0.6959" stop-color="#b5b5ff"/><stop offset="0.7318" stop-color="#d4d4ff"/><stop offset="0.7686" stop-color="#fffefe"/><stop offset="0.7865" stop-color="#ffd8d8"/><stop offset="0.8004" stop-color="#ffbdbd"/><stop offset="0.8486" stop-color="#ff8c8c"/><stop offset="0.9098" stop-color="#ff7d7d"/><stop offset="0.9996" stop-color="#ff7f7f"/></linearGradient><linearGradient id="c71"><stop offset="0.0004" stop-color="#0000ff"/><stop offset="0.3580" stop-color="#0101ff"/><stop offset="0.3612" stop-color="#2323ff"/><stop offset="0.3694" stop-color="#5252ff"/><stop offset="0.3767" stop-color="#6f6fff"/><stop offset="0.4053" stop-color="#8d8dff"/><stop offset="0.5131" stop-color="#a3a3ff"/><stop offset="0.6951" stop-color="#b5b5ff"/><stop offset="0.7310" stop-color="#d4d4ff"/><stop offset="0.7669" stop-color="#fffefe"/><stop offset="0.7816" stop-color="#ffe2e2"/><stop offset="0.7996" stop-color="#ffbdbd"/><stop offset="0.8486" stop-color="#ff8a8a"/><stop offset="0.9057" stop-color="#ff7b7b"/><stop offset="0.9996" stop-color="#ff7f7f"/></linearGradient><linearGradient id="c72"><stop offset="0.0004" stop-color="#0000ff"/><stop offset="0.3571" stop-color="#0000ff"/><stop offset="0.3580" stop-color="#0404ff"/><stop offset="0.3612" stop-color="#2424ff"/><stop offset="0.3694" stop-color="#5353ff"/><stop offset="0.3759" stop-color="#6d6dff"/><stop offset="0.4053" stop-color="#8d8dff"/><stop offset="0.5196" stop-color="#a4a4ff"/><stop offset="0.6951" stop-color="#b4b4ff"/><stop offset="0.7302" stop-color="#d3d3ff"/><stop offset="0.7661" stop-color="#fffefe"/><stop offset="0.7808" stop-color="#ffe3e3"/><stop offset="0.7996" stop-color="#ffbbbb"/><stop offset="0.8486" stop-color="#ff8787"/><stop offset="0.8992" stop-color="#ff7979"/><stop offset="0.9996" stop-color="#ff7e7e"/></linearGradient><linearGradient id="c73"><stop offset="0.0004" stop-color="#0000ff"/><stop offset="0.3571" stop-color="#0000ff"/><stop offset="0.3620" stop-color="#2c2cff"/><stop offset="0.3727" stop-color="#6363ff"/><stop offset="0.3800" stop-color="#7474ff"/><stop offset="0.4061" stop-color="#8d8dff"/><stop offset="0.5278" stop-color="#a5a5ff"/><stop offset="0.6951" stop-color="#b4b4ff"/><stop offset="0.7302" stop-color="#d4d4ff"/><stop offset="0.7645" stop-color="#fffefe"/><stop offset="0.7792" stop-color="#ffe5e5"/><stop offset="0.7996" stop-color="#ffbaba"/><stop offset="0.8494" stop-color="#ff8585"/><stop offset="0.8902" stop-color="#ff7979"/><stop offset="0.9996" stop-color="#ff7d7d"/></linearGradient><linearGradient id="c74"><stop offset="0.0004" stop-color="#0000ff"/><stop offset="0.3571" stop-color="#0000ff"/><stop offset="0.3612" stop-color="#2727ff"/><stop offset="0.3710" stop-color="#5d5dff"/><stop offset="0.3776" stop-color="#7171ff"/><stop offset="0.4061" stop-color="#8d8dff"/><stop offset="0.5343" stop-color="#a6a6ff"/><stop offset="0.6951" stop-color="#b4b4ff"/><stop offset="0.7294" stop-color="#d3d3ff"/><stop offset="0.7629" stop-color="#fffefe"/><stop offset="0.7792" stop-color="#ffe3e3"/><stop offset="0.7996" stop-color="#ffb8b8"/><stop offset="0.8494" stop-color="#ff8282"/><stop offset="0.8812" stop-color="#ff7878"/><stop offset="0.9841" stop-color="#ff7b7b"/><stop offset="0.9996" stop-color="#ff7c7c"/></linearGradient><linearGradient id="c75"><stop offset="0.0004" stop-color="#0000ff"/><stop offset="0.3571" stop-color="#0101ff"/><stop offset="0.3604" stop-color="#2222ff"/><stop offset="0.3686" stop-color="#5252ff"/><stop offset="0.3759" stop-color="#6f6fff"/><stop offset="0.4053" stop-color="#8d8dff"/><stop offset="0.5384" stop-color="#a6a6ff"/><stop offset="0.6951" stop-color="#b4b4ff"/><stop offset="0.7294" stop-color="#d4d4ff"/><stop offset="0.7620" stop-color="#fffefe"/><stop offset="0.7792" stop-color="#ffe1e1"/><stop offset="0.8004" stop-color="#ffb5b5"/><stop offset="0.8494" stop-color="#ff7f7f"/><stop offset="0.8763" stop-color="#ff7676"/><stop offset="0.9563" stop-color="#ff7878"/><stop offset="0.9996" stop-color="#ff7c7c"/></linearGradient><linearGradient id="c76"><stop offset="0.0004" stop-color="#0000ff"/><stop offset="0.3563" stop-color="#0000ff"/><stop offset="0.3571" stop-color="#0303ff"/><stop offset="0.3604" stop-color="#2424ff"/><stop offset="0.3686" stop-color="#5454ff"/><stop offset="0.3751" stop-color="#6d6dff"/><stop offset="0.4053" stop-color="#8d8dff"/><stop offset="0.5449" stop-color="#a7a7ff"/><stop offset="0.6951" stop-color="#b4b4ff"/><stop offset="0.7286" stop-color="#d3d3ff"/><stop offset="0.7604" stop-color="#fffefe"/><stop offset="0.7792" stop-color="#ffdfdf"/><stop offset="0.8004" stop-color="#ffb3b3"/><stop offset="0.8478" stop-color="#ff7e7e"/><stop offset="0.8722" stop-color="#ff7474"/><stop offset="0.9563" stop-color="#ff7777"/><stop offset="0.9996" stop-color="#ff7b7b"/></linearGradient><linearGradient id="c77"><stop offset="0.0004" stop-color="#0000ff"/><stop offset="0.3563" stop-color="#0000ff"/><stop offset="0.3612" stop-color="#2c2cff"/><stop offset="0.3718" stop-color="#6464ff"/><stop offset="0.3792" stop-color="#7474ff"/><stop offset="0.4061" stop-color="#8d8dff"/><stop offset="0.5498" stop-color="#a7a7ff"/><stop offset="0.6943" stop-color="#b3b3ff"/><stop offset="0.7286" stop-color="#d4d4ff"/><stop offset="0.7596" stop-color="#fffefe"/><stop offset="0.7792" stop-color="#ffdddd"/><stop offset="0.8012" stop-color="#ffb0b0"/><stop offset="0.8478" stop-color="#ff7b7b"/><stop offset="0.8706" stop-color="#ff7171"/><stop offset="0.9816" stop-color="#ff7878"/><stop offset="0.9996" stop-color="#ff7a7a"/></linearGradient><linearGradient id="c78"><stop offset="0.0004" stop-color="#0000ff"/><stop offset="0.3563" stop-color="#0000ff"/><stop offset="0.3604" stop-color="#2727ff"/><stop offset="0.3702" stop-color="#5e5eff"/><stop offset="0.3767" stop-color="#7171ff"/><stop offset="0.4061" stop-color="#8d8dff"/><stop offset="0.5490" stop-color="#a7a7ff"/><stop offset="0.6943" stop-color="#b3b3ff"/><stop offset="0.7278" stop-color="#d3d3ff"/><stop offset="0.7580" stop-color="#fffeff"/><stop offset="0.7792" stop-color="#ffdbdb"/><stop offset="0.8020" stop-color="#ffadad"/><stop offset="0.8469" stop-color="#ff7979"/><stop offset="0.8690" stop-color="#ff6e6e"/><stop offset="0.9996" stop-color="#ff7979"/></linearGradient><linearGradient id="c79"><stop offset="0.0004" stop-color="#0000ff"/><stop offset="0.3563" stop-color="#0101ff"/><stop offset="0.3596" stop-color="#2323ff"/><stop offset="0.3678" stop-color="#5353ff"/><stop offset="0.3743" stop-color="#6d6dff"/><stop offset="0.4053" stop-color="#8d8dff"/><stop offset="0.5473" stop-color="#a7a7ff"/><stop offset="0.6943" stop-color="#b2b2ff"/><stop offset="0.7278" stop-color="#d4d4ff"/><stop offset="0.7571" stop-color="#fffefe"/><stop offset="0.7800" stop-color="#ffd7d7"/><stop offset="0.8029" stop-color="#ffaaaa"/><stop offset="0.8478" stop-color="#ff7676"/><stop offset="0.8682" stop-color="#ff6b6b"/><stop offset="0.9996" stop-color="#ff7878"/></linearGradient><linearGradient id="c80"><stop offset="0.0004" stop-color="#0000ff"/><stop offset="0.3555" stop-color="#0000ff"/><stop offset="0.3571" stop-color="#0e0eff"/><stop offset="0.3620" stop-color="#3535ff"/><stop offset="0.3727" stop-color="#6969ff"/><stop offset="0.3873" stop-color="#7d7dff"/><stop offset="0.4078" stop-color="#8e8eff"/><stop offset="0.5465" stop-color="#a7a7ff"/><stop offset="0.6943" stop-color="#b2b2ff"/><stop offset="0.7269" stop-color="#d3d3ff"/><stop offset="0.7563" stop-color="#fffefe"/><stop offset="0.7800" stop-color="#ffd5d5"/><stop offset="0.8037" stop-color="#ffa6a6"/><stop offset="0.8478" stop-color="#ff7373"/><stop offset="0.8673" stop-color="#ff6868"/><stop offset="0.9996" stop-color="#ff7777"/></linearGradient><linearGradient id="c81"><stop offset="0.0004" stop-color="#0000ff"/><stop offset="0.3555" stop-color="#0000ff"/><stop offset="0.3604" stop-color="#2c2cff"/><stop offset="0.3710" stop-color="#6464ff"/><stop offset="0.3784" stop-color="#7474ff"/><stop offset="0.4069" stop-color="#8d8dff"/><stop offset="0.5449" stop-color="#a7a7ff"/><stop offset="0.6943" stop-color="#b2b2ff"/><stop offset="0.7269" stop-color="#d4d4ff"/><stop offset="0.7547" stop-color="#ffffff"/><stop offset="0.7808" stop-color="#ffd2d2"/><stop offset="0.8061" stop-color="#ffa0a0"/><stop offset="0.8543" stop-color="#ff6b6b"/><stop offset="0.8706" stop-color="#ff6565"/><stop offset="0.9996" stop-color="#ff7676"/></linearGradient><linearGradient id="c82"><stop offset="0.0004" stop-color="#0000ff"/><stop offset="0.3555" stop-color="#0000ff"/><stop offset="0.3596" stop-color="#2828ff"/><stop offset="0.3694" stop-color="#5e5eff"/><stop offset="0.3759" stop-color="#7171ff"/><stop offset="0.4061" stop-color="#8d8dff"/><stop offset="0.5441" stop-color="#a7a7ff"/><stop offset="0.6943" stop-color="#b2b2ff"/><stop offset="0.7269" stop-color="#d4d4ff"/><stop offset="0.7539" stop-color="#fffefe"/><stop offset="0.7816" stop-color="#ffcece"/><stop offset="0.8086" stop-color="#ff9a9a"/><stop offset="0.8576" stop-color="#ff6565"/><stop offset="0.8820" stop-color="#ff6363"/><stop offset="0.9996" stop-color="#ff7575"/></linearGradient><linearGradient id="c83"><stop offset="0.0004" stop-color="#0000ff"/><stop offset="0.3555" stop-color="#0202ff"/><stop offset="0.3588" stop-color="#2323ff"/><stop offset="0.3669" stop-color="#5454ff"/><stop offset="0.3735" stop-color="#6e6eff"/><stop offset="0.4053" stop-color="#8d8dff"/><stop offset="0.5424" stop-color="#a7a7ff"/><stop offset="0.6943" stop-color="#b2b2ff"/><stop offset="0.7261" stop-color="#d3d3ff"/><stop offset="0.7531" stop-color="#fffefe"/><stop offset="0.7824" stop-color="#ffcaca"/><stop offset="0.8110" stop-color="#ff9494"/><stop offset="0.8608" stop-color="#ff5f5f"/><stop offset="0.9996" stop-color="#ff7474"/></linearGradient><linearGradient id="c84"><stop offset="0.0004" stop-color="#0000ff"/><stop offset="0.3547" stop-color="#0000ff"/><stop offset="0.3563" stop-color="#0e0eff"/><stop offset="0.3612" stop-color="#3535ff"/><stop offset="0.3710" stop-color="#6767ff"/><stop offset="0.3800" stop-color="#7676ff"/><stop offset="0.4069" stop-color="#8d8dff"/><stop offset="0.5416" stop-color="#a7a7ff"/><stop offset="0.6943" stop-color="#b1b1ff"/><stop offset="0.7261" stop-color="#d4d4ff"/><stop offset="0.7522" stop-color="#fffefe"/><stop offset="0.7833" stop-color="#ffc7c7"/><stop offset="0.8127" stop-color="#ff9090"/><stop offset="0.8616" stop-color="#ff5c5c"/><stop offset="0.9996" stop-color="#ff7474"/></linearGradient><linearGradient id="c85"><stop offset="0.0004" stop-color="#0000ff"/><stop offset="0.3547" stop-color="#0000ff"/><stop offset="0.3596" stop-color="#2c2cff"/><stop offset="0.3702" stop-color="#6565ff"/><stop offset="0.3776" stop-color="#7474ff"/><stop offset="0.4069" stop-color="#8d8dff"/><stop offset="0.5408" stop-color="#a7a7ff"/><stop offset="0.6935" stop-color="#b0b0ff"/><stop offset="0.7261" stop-color="#d4d4ff"/><stop offset="0.7514" stop-color="#fffefe"/><stop offset="0.7849" stop-color="#ffc2c2"/><stop offset="0.8151" stop-color="#ff8b8b"/><stop offset="0.8624" stop-color="#ff5959"/><stop offset="0.9996" stop-color="#ff7373"/></linearGradient><linearGradient id="c86"><stop offset="0.0004" stop-color="#0000ff"/><stop offset="0.3547" stop-color="#0000ff"/><stop offset="0.3588" stop-color="#2727ff"/><stop offset="0.3686" stop-color="#5f5fff"/><stop offset="0.3743" stop-color="#7070ff"/><stop offset="0.4061" stop-color="#8d8dff"/><stop offset="0.5400" stop-color="#a7a7ff"/><stop offset="0.6935" stop-color="#b0b0ff"/><stop offset="0.7261" stop-color="#d5d5ff"/><stop offset="0.7506" stop-color="#ffffff"/><stop offset="0.7865" stop-color="#ffbdbd"/><stop offset="0.8159" stop-color="#ff8787"/><stop offset="0.8633" stop-color="#ff5656"/><stop offset="0.9996" stop-color="#ff7272"/></linearGradient><linearGradient id="c87"><stop offset="0.0004" stop-color="#0000ff"/><stop offset="0.3547" stop-color="#0101ff"/><stop offset="0.3580" stop-color="#2323ff"/><stop offset="0.3661" stop-color="#5454ff"/><stop offset="0.3727" stop-color="#6e6eff"/><stop offset="0.4053" stop-color="#8d8dff"/><stop offset="0.5400" stop-color="#a7a7ff"/><stop offset="0.6935" stop-color="#b0b0ff"/><stop offset="0.7253" stop-color="#d4d4ff"/><stop offset="0.7506" stop-color="#fffdfd"/><stop offset="0.7890" stop-color="#ffb6b6"/><stop offset="0.8159" stop-color="#ff8585"/><stop offset="0.8633" stop-color="#ff5353"/><stop offset="0.9996" stop-color="#ff7171"/></linearGradient><linearGradient id="c88"><stop offset="0.0004" stop-color="#0000ff"/><stop offset="0.3539" stop-color="#0000ff"/><stop offset="0.3547" stop-color="#0303ff"/><stop offset="0.3580" stop-color="#2424ff"/><stop offset="0.3669" stop-color="#5959ff"/><stop offset="0.3727" stop-color="#6e6eff"/><stop offset="0.4053" stop-color="#8d8dff"/><stop offset="0.5392" stop-color="#a7a7ff"/><stop offset="0.6935" stop-color="#b0b0ff"/><stop offset="0.7253" stop-color="#d4d4ff"/><stop offset="0.7498" stop-color="#fffefe"/><stop offset="0.7914" stop-color="#ffafaf"/><stop offset="0.8167" stop-color="#ff8383"/><stop offset="0.8633" stop-color="#ff5151"/><stop offset="0.9996" stop-color="#ff7171"/></linearGradient><linearGradient id="c89"><stop offset="0.0004" stop-color="#0000ff"/><stop offset="0.3539" stop-color="#0000ff"/><stop offset="0.3596" stop-color="#3131ff"/><stop offset="0.3702" stop-color="#6868ff"/><stop offset="0.3792" stop-color="#7676ff"/><stop offset="0.4069" stop-color="#8d8dff"/><stop offset="0.5384" stop-color="#a7a7ff"/><stop offset="0.6935" stop-color="#b0b0ff"/><stop offset="0.7253" stop-color="#d4d4ff"/><stop offset="0.7490" stop-color="#fffefe"/><stop offset="0.7963" stop-color="#ffa4a4"/><stop offset="0.8176" stop-color="#ff8080"/><stop offset="0.8633" stop-color="#ff4e4e"/><stop offset="0.9906" stop-color="#ff6e6e"/><stop offset="0.9996" stop-color="#ff7070"/></linearGradient><linearGradient id="c90"><stop offset="0.0004" stop-color="#0000ff"/><stop offset="0.3539" stop-color="#0000ff"/><stop offset="0.3588" stop-color="#2c2cff"/><stop offset="0.3694" stop-color="#6565ff"/><stop offset="0.3767" stop-color="#7474ff"/><stop offset="0.4069" stop-color="#8d8dff"/><stop offset="0.5384" stop-color="#a7a7ff"/><stop offset="0.6935" stop-color="#b0b0ff"/><stop offset="0.7253" stop-color="#d5d5ff"/><stop offset="0.7490" stop-color="#fffdfd"/><stop offset="0.8159" stop-color="#ff8080"/><stop offset="0.8633" stop-color="#ff4c4c"/><stop offset="0.9718" stop-color="#ff6a6a"/><stop offset="0.9996" stop-color="#ff6f6f"/></linearGradient><linearGradient id="c91"><stop offset="0.0004" stop-color="#0000ff"/><stop offset="0.3539" stop-color="#0000ff"/><stop offset="0.3580" stop-color="#2727ff"/><stop offset="0.3678" stop-color="#5f5fff"/><stop offset="0.3735" stop-color="#7070ff"/><stop offset="0.4061" stop-color="#8d8dff"/><stop offset="0.5376" stop-color="#a7a7ff"/><stop offset="0.6935" stop-color="#afafff"/><stop offset="0.7253" stop-color="#d5d5ff"/><stop offset="0.7482" stop-color="#fffefe"/><stop offset="0.8159" stop-color="#ff7f7f"/><stop offset="0.8633" stop-color="#ff4a4a"/><stop offset="0.9612" stop-color="#ff6767"/><stop offset="0.9996" stop-color="#ff6f6f"/></linearGradient><linearGradient id="c92"><stop offset="0.0004" stop-color="#0000ff"/><stop offset="0.3539" stop-color="#0000ff"/><stop offset="0.3580" stop-color="#2828ff"/><stop offset="0.3678" stop-color="#5f5fff"/><stop offset="0.3735" stop-color="#7171ff"/><stop offset="0.4061" stop-color="#8d8dff"/><stop offset="0.5376" stop-color="#a7a7ff"/><stop offset="0.6935" stop-color="#afafff"/><stop offset="0.7253" stop-color="#d5d5ff"/><stop offset="0.7482" stop-color="#fffefe"/><stop offset="0.8159" stop-color="#ff7e7e"/><stop offset="0.8633" stop-color="#ff4949"/><stop offset="0.9555" stop-color="#ff6464"/><stop offset="0.9996" stop-color="#ff6e6e"/></linearGradient><linearGradient id="c93"><stop offset="0.0004" stop-color="#0000ff"/><stop offset="0.3539" stop-color="#0000ff"/><stop offset="0.3580" stop-color="#2727ff"/><stop offset="0.3678" stop-color="#5f5fff"/><stop offset="0.3735" stop-color="#7171ff"/><stop offset="0.4061" stop-color="#8d8dff"/><stop offset="0.5376" stop-color="#a7a7ff"/><stop offset="0.6935" stop-color="#afafff"/><stop offset="0.7245" stop-color="#d4d4ff"/><stop offset="0.7473" stop-color="#fffefe"/><stop offset="0.8159" stop-color="#ff7c7c"/><stop offset="0.8633" stop-color="#ff4747"/><stop offset="0.9547" stop-color="#ff6363"/><stop offset="0.9996" stop-color="#ff6e6e"/></linearGradient><linearGradient id="c94"><stop offset="0.0004" stop-color="#0000ff"/><stop offset="0.3539" stop-color="#0000ff"/><stop offset="0.3588" stop-color="#2c2cff"/><stop offset="0.3694" stop-color="#6565ff"/><stop offset="0.3767" stop-color="#7474ff"/><stop offset="0.4069" stop-color="#8d8dff"/><stop offset="0.5367" stop-color="#a7a7ff"/><stop offset="0.6935" stop-color="#afafff"/><stop offset="0.7245" stop-color="#d4d4ff"/><stop offset="0.7473" stop-color="#fffefe"/><stop offset="0.8159" stop-color="#ff7b7b"/><stop offset="0.8641" stop-color="#ff4545"/><stop offset="0.9555" stop-color="#ff6363"/><stop offset="0.9996" stop-color="#ff6d6d"/></linearGradient><linearGradient id="c95"><stop offset="0.0004" stop-color="#0000ff"/><stop offset="0.3547" stop-color="#0202ff"/><stop offset="0.3580" stop-color="#2323ff"/><stop offset="0.3669" stop-color="#5959ff"/><stop offset="0.3727" stop-color="#6e6eff"/><stop offset="0.4053" stop-color="#8d8dff"/><stop offset="0.5367" stop-color="#a7a7ff"/><stop offset="0.6935" stop-color="#afafff"/><stop offset="0.7245" stop-color="#d4d4ff"/><stop offset="0.7465" stop-color="#ffffff"/><stop offset="0.8159" stop-color="#ff7a7a"/><stop offset="0.8641" stop-color="#ff4343"/><stop offset="0.9645" stop-color="#ff6464"/><stop offset="0.9996" stop-color="#ff6c6c"/></linearGradient><linearGradient id="c96"><stop offset="0.0004" stop-color="#0000ff"/><stop offset="0.3547" stop-color="#0000ff"/><stop offset="0.3596" stop-color="#2c2cff"/><stop offset="0.3702" stop-color="#6666ff"/><stop offset="0.3776" stop-color="#7474ff"/><stop offset="0.4061" stop-color="#8d8dff"/><stop offset="0.5367" stop-color="#a7a7ff"/><stop offset="0.6935" stop-color="#afafff"/><stop offset="0.7245" stop-color="#d4d4ff"/><stop offset="0.7465" stop-color="#fffefe"/><stop offset="0.8159" stop-color="#ff7878"/><stop offset="0.8641" stop-color="#ff4141"/><stop offset="0.9808" stop-color="#ff6767"/><stop offset="0.9996" stop-color="#ff6c6c"/></linearGradient><linearGradient id="c97"><stop offset="0.0004" stop-color="#0000ff"/><stop offset="0.3555" stop-color="#0101ff"/><stop offset="0.3596" stop-color="#2929ff"/><stop offset="0.3694" stop-color="#6060ff"/><stop offset="0.3751" stop-color="#7171ff"/><stop offset="0.4061" stop-color="#8d8dff"/><stop offset="0.5367" stop-color="#a7a7ff"/><stop offset="0.6935" stop-color="#afafff"/><stop offset="0.7245" stop-color="#d4d4ff"/><stop offset="0.7457" stop-color="#fffefe"/><stop offset="0.8159" stop-color="#ff7676"/><stop offset="0.8649" stop-color="#ff3e3e"/><stop offset="0.9873" stop-color="#ff6767"/><stop offset="0.9996" stop-color="#ff6b6b"/></linearGradient><linearGradient id="c98"><stop offset="0.0004" stop-color="#0000ff"/><stop offset="0.3555" stop-color="#0000ff"/><stop offset="0.3612" stop-color="#3131ff"/><stop offset="0.3718" stop-color="#6868ff"/><stop offset="0.3816" stop-color="#7878ff"/><stop offset="0.4069" stop-color="#8d8dff"/><stop offset="0.5367" stop-color="#a7a7ff"/><stop offset="0.6935" stop-color="#afafff"/><stop offset="0.7237" stop-color="#d3d3ff"/><stop offset="0.7457" stop-color="#fffdfd"/><stop offset="0.8159" stop-color="#ff7474"/><stop offset="0.8657" stop-color="#ff3b3b"/><stop offset="0.9873" stop-color="#ff6666"/><stop offset="0.9996" stop-color="#ff6969"/></linearGradient><linearGradient id="c99"><stop offset="0.0004" stop-color="#0000ff"/><stop offset="0.3563" stop-color="#0000ff"/><stop offset="0.3604" stop-color="#2727ff"/><stop offset="0.3702" stop-color="#5f5fff"/><stop offset="0.3759" stop-color="#7171ff"/><stop offset="0.4061" stop-color="#8d8dff"/><stop offset="0.5367" stop-color="#a7a7ff"/><stop offset="0.6935" stop-color="#afafff"/><stop offset="0.7237" stop-color="#d3d3ff"/><stop offset="0.7449" stop-color="#fffefe"/><stop offset="0.8159" stop-color="#ff7272"/><stop offset="0.8665" stop-color="#ff3838"/><stop offset="0.9824" stop-color="#ff6363"/><stop offset="0.9996" stop-color="#ff6868"/></linearGradient><linearGradient id="c100"><stop offset="0.0004" stop-color="#0000ff"/><stop offset="0.3571" stop-color="#0303ff"/><stop offset="0.3604" stop-color="#2424ff"/><stop offset="0.3694" stop-color="#5959ff"/><stop offset="0.3751" stop-color="#6f6fff"/><stop offset="0.4053" stop-color="#8d8dff"/><stop offset="0.5367" stop-color="#a7a7ff"/><stop offset="0.6935" stop-color="#afafff"/><stop offset="0.7237" stop-color="#d3d3ff"/><stop offset="0.7441" stop-color="#ffffff"/><stop offset="0.8061" stop-color="#ff8181"/><stop offset="0.8298" stop-color="#ff6060"/><stop offset="0.8673" stop-color="#ff3535"/><stop offset="0.9751" stop-color="#ff6060"/><stop offset="0.9996" stop-color="#ff6767"/></linearGradient><linearGradient id="c101"><stop offset="0.0004" stop-color="#0000ff"/><stop offset="0.3571" stop-color="#0000ff"/><stop offset="0.3612" stop-color="#2727ff"/><stop offset="0.3710" stop-color="#5f5fff"/><stop offset="0.3767" stop-color="#7171ff"/><stop offset="0.4053" stop-color="#8d8dff"/><stop offset="0.5367" stop-color="#a7a7ff"/><stop offset="0.6935" stop-color="#afafff"/><stop offset="0.7237" stop-color="#d3d3ff"/><stop offset="0.7441" stop-color="#fffefe"/><stop offset="0.8159" stop-color="#ff6f6f"/><stop offset="0.8682" stop-color="#ff3232"/><stop offset="0.9686" stop-color="#ff5c5c"/><stop offset="0.9996" stop-color="#ff6767"/></linearGradient><linearGradient id="c102"><stop offset="0.0004" stop-color="#0000ff"/><stop offset="0.3571" stop-color="#0000ff"/><stop offset="0.3629" stop-color="#3131ff"/><stop offset="0.3735" stop-color="#6868ff"/><stop offset="0.3833" stop-color="#7878ff"/><stop offset="0.4061" stop-color="#8d8dff"/><stop offset="0.5367" stop-color="#a7a7ff"/><stop offset="0.6935" stop-color="#afafff"/><stop offset="0.7237" stop-color="#d3d3ff"/><stop offset="0.7441" stop-color="#fffefe"/><stop offset="0.8053" stop-color="#ff8181"/><stop offset="0.8249" stop-color="#ff6363"/><stop offset="0.8682" stop-color="#ff3030"/><stop offset="0.9702" stop-color="#ff5c5c"/><stop offset="0.9996" stop-color="#ff6666"/></linearGradient><linearGradient id="c103"><stop offset="0.0004" stop-color="#0000ff"/><stop offset="0.3571" stop-color="#0000ff"/><stop offset="0.3580" stop-color="#0404ff"/><stop offset="0.3620" stop-color="#2a2aff"/><stop offset="0.3727" stop-color="#6565ff"/><stop offset="0.3792" stop-color="#7474ff"/><stop offset="0.4061" stop-color="#8d8dff"/><stop offset="0.5367" stop-color="#a7a7ff"/><stop offset="0.6935" stop-color="#afafff"/><stop offset="0.7237" stop-color="#d3d3ff"/><stop offset="0.7433" stop-color="#ffffff"/><stop offset="0.8020" stop-color="#ff8787"/><stop offset="0.8192" stop-color="#ff6a6a"/><stop offset="0.8682" stop-color="#ff2f2f"/><stop offset="0.9702" stop-color="#ff5b5b"/><stop offset="0.9996" stop-color="#ff6666"/></linearGradient><clipPath id="hcc"><rect x="92.0" y="604.2" width="1224.8" height="309.3"/></clipPath><linearGradient id="cbc" x1="0" y1="0" x2="0" y2="1"><stop offset="0" stop-color="#ff0000"/><stop offset="0.5" stop-color="#ffffff"/><stop offset="1" stop-color="#0000ff"/></linearGradient><linearGradient id="d0"><stop offset="0.0004" stop-color="#0000ff"/><stop offset="0.3286" stop-color="#0000ff"/><stop offset="0.3327" stop-color="#1515ff"/><stop offset="0.4086" stop-color="#a1a1ff"/><stop offset="0.4592" stop-color="#c2c2ff"/><stop offset="0.5482" stop-color="#d6d6ff"/><stop offset="0.6706" stop-color="#e4e4ff"/><stop offset="0.7041" stop-color="#fffefe"/><stop offset="0.8167" stop-color="#ff6f6f"/><stop offset="0.8388" stop-color="#ff5a5a"/><stop offset="0.8886" stop-color="#ff5e5e"/><stop offset="0.9384" stop-color="#ff7b7b"/><stop offset="0.9996" stop-color="#ff8080"/></linearGradient><linearGradient id="d1"><stop offset="0.0004" stop-color="#0000ff"/><stop offset="0.3286" stop-color="#0000ff"/><stop offset="0.3318" stop-color="#1414ff"/><stop offset="0.4086" stop-color="#a1a1ff"/><stop offset="0.4592" stop-color="#c2c2ff"/><stop offset="0.5482" stop-color="#d6d6ff"/><stop offset="0.6706" stop-color="#e4e4ff"/><stop offset="0.7049" stop-color="#fffefe"/><stop offset="0.8184" stop-color="#ff6f6f"/><stop offset="0.8388" stop-color="#ff5c5c"/><stop offset="0.8886" stop-color="#ff5f5f"/><stop offset="0.9384" stop-color="#ff7c7c"/><stop offset="0.9996" stop-color="#ff8080"/></linearGradient><linearGradient id="d2"><stop offset="0.0004" stop-color="#0000ff"/><stop offset="0.3286" stop-color="#0000ff"/><stop offset="0.3318" stop-color="#1515ff"/><stop offset="0.4086" stop-color="#a1a1ff"/><stop offset="0.4592" stop-color="#c2c2ff"/><stop offset="0.5482" stop-color="#d6d6ff"/><stop offset="0.6714" stop-color="#e5e5ff"/><stop offset="0.7065" stop-color="#fffdfd"/><stop offset="0.8224" stop-color="#ff6c6c"/><stop offset="0.8396" stop-color="#ff5e5e"/><stop offset="0.8886" stop-color="#ff6161"/><stop offset="0.9376" stop-color="#ff7d7d"/><stop offset="0.9996" stop-color="#ff8080"/></linearGradient><linearGradient id="d3"><stop offset="0.0004" stop-color="#0000ff"/><stop offset="0.3286" stop-color="#0000ff"/><stop offset="0.3318" stop-color="#1616ff"/><stop offset="0.4094" stop-color="#a2a2ff"/><stop offset="0.4592" stop-color="#c2c2ff"/><stop offset="0.5482" stop-color="#d6d6ff"/><stop offset="0.6714" stop-color="#e5e5ff"/><stop offset="0.7082" stop-color="#fffefe"/><stop offset="0.8273" stop-color="#ff6969"/><stop offset="0.8412" stop-color="#ff6060"/><stop offset="0.8894" stop-color="#ff6464"/><stop offset="0.9376" stop-color="#ff7f7f"/><stop offset="0.9996" stop-color="#ff8181"/></linearGradient><linearGradient id="d4"><stop offset="0.0004" stop-color="#0000ff"/><stop offset="0.3286" stop-color="#0000ff"/><stop offset="0.3310" stop-color="#1414ff"/><stop offset="0.4086" stop-color="#a1a1ff"/><stop offset="0.4592" stop-color="#c2c2ff"/><stop offset="0.5482" stop-color="#d6d6ff"/><stop offset="0.6714" stop-color="#e4e4ff"/><stop offset="0.7098" stop-color="#fffefe"/><stop offset="0.8314" stop-color="#ff6767"/><stop offset="0.8527" stop-color="#ff6262"/><stop offset="0.8894" stop-color="#ff6666"/><stop offset="0.9376" stop-color="#ff8080"/><stop offset="0.9996" stop-color="#ff8282"/></linearGradient><linearGradient id="d5"><stop offset="0.0004" stop-color="#0000ff"/><stop offset="0.3286" stop-color="#0101ff"/><stop offset="0.3310" stop-color="#1515ff"/><stop offset="0.4094" stop-color="#a2a2ff"/><stop offset="0.4592" stop-color="#c2c2ff"/><stop offset="0.5482" stop-color="#d6d6ff"/><stop offset="0.6722" stop-color="#e5e5ff"/><stop offset="0.7114" stop-color="#fffefe"/><stop offset="0.8322" stop-color="#ff6868"/><stop offset="0.8698" stop-color="#ff6464"/><stop offset="0.8935" stop-color="#ff6a6a"/><stop offset="0.9376" stop-color="#ff8282"/><stop offset="0.9996" stop-color="#ff8282"/></linearGradient><linearGradient id="d6"><stop offset="0.0004" stop-color="#0000ff"/><stop offset="0.2624" stop-color="#0101ff"/><stop offset="0.3286" stop-color="#0202ff"/><stop offset="0.3310" stop-color="#1616ff"/><stop offset="0.4094" stop-color="#a2a2ff"/><stop offset="0.4592" stop-color="#c2c2ff"/><stop offset="0.5473" stop-color="#d5d5ff"/><stop offset="0.6722" stop-color="#e4e4ff"/><stop offset="0.7131" stop-color="#fffdfd"/><stop offset="0.8339" stop-color="#ff6969"/><stop offset="0.8886" stop-color="#ff6969"/><stop offset="0.9376" stop-color="#ff8383"/><stop offset="0.9996" stop-color="#ff8383"/></linearGradient><linearGradient id="d7"><stop offset="0.0004" stop-color="#0000ff"/><stop offset="0.2347" stop-color="#0303ff"/><stop offset="0.2576" stop-color="#0707ff"/><stop offset="0.2812" stop-color="#0000ff"/><stop offset="0.3278" stop-color="#0000ff"/><stop offset="0.3318" stop-color="#1a1aff"/><stop offset="0.4094" stop-color="#a2a2ff"/><stop offset="0.4592" stop-color="#c2c2ff"/><stop offset="0.5465" stop-color="#d4d4ff"/><stop offset="0.6722" stop-color="#e3e3ff"/><stop offset="0.7139" stop-color="#fffdfd"/><stop offset="0.8355" stop-color="#ff6a6a"/><stop offset="0.8886" stop-color="#ff6b6b"/><stop offset="0.9384" stop-color="#ff8383"/><stop offset="0.9996" stop-color="#ff8383"/></linearGradient><linearGradient id="d8"><stop offset="0.0004" stop-color="#0000ff"/><stop offset="0.2298" stop-color="#0303ff"/><stop offset="0.2527" stop-color="#0c0cff"/><stop offset="0.2820" stop-color="#0000ff"/><stop offset="0.3278" stop-color="#0000ff"/><stop offset="0.3310" stop-color="#1818ff"/><stop offset="0.4086" stop-color="#a1a1ff"/><stop offset="0.4584" stop-color="#c1c1ff"/><stop offset="0.5433" stop-color="#d3d3ff"/><stop offset="0.6722" stop-color="#e3e3ff"/><stop offset="0.7155" stop-color="#fffdfd"/><stop offset="0.8355" stop-color="#ff6e6e"/><stop offset="0.8886" stop-color="#ff6d6d"/><stop offset="0.9384" stop-color="#ff8484"/><stop offset="0.9996" stop-color="#ff8484"/></linearGradient><linearGradient id="d9"><stop offset="0.0004" stop-color="#0000ff"/><stop offset="0.2265" stop-color="#0303ff"/><stop offset="0.2494" stop-color="#1010ff"/><stop offset="0.2722" stop-color="#0505ff"/><stop offset="0.2861" stop-color="#0000ff"/><stop offset="0.3278" stop-color="#0000ff"/><stop offset="0.3310" stop-color="#1919ff"/><stop offset="0.4086" stop-color="#a0a0ff"/><stop offset="0.4584" stop-color="#c1c1ff"/><stop offset="0.5424" stop-color="#d3d3ff"/><stop offset="0.6731" stop-color="#e2e2ff"/><stop offset="0.7171" stop-color="#fffdfd"/><stop offset="0.8355" stop-color="#ff7171"/><stop offset="0.8878" stop-color="#ff6f6f"/><stop offset="0.9392" stop-color="#ff8585"/><stop offset="0.9996" stop-color="#ff8585"/></linearGradient><linearGradient id="d10"><stop offset="0.0004" stop-color="#0000ff"/><stop offset="0.2233" stop-color="#0202ff"/><stop offset="0.2469" stop-color="#1313ff"/><stop offset="0.2690" stop-color="#0c0cff"/><stop offset="0.2845" stop-color="#0000ff"/><stop offset="0.3278" stop-color="#0000ff"/><stop offset="0.3310" stop-color="#1a1aff"/><stop offset="0.4086" stop-color="#a0a0ff"/><stop offset="0.4576" stop-color="#c0c0ff"/><stop offset="0.5400" stop-color="#d1d1ff"/><stop offset="0.6731" stop-color="#e1e1ff"/><stop offset="0.7188" stop-color="#fffdfd"/><stop offset="0.8363" stop-color="#ff7575"/><stop offset="0.8878" stop-color="#ff7272"/><stop offset="0.9400" stop-color="#ff8686"/><stop offset="0.9996" stop-color="#ff8686"/></linearGradient><linearGradient id="d11"><stop offset="0.0004" stop-color="#0000ff"/><stop offset="0.2208" stop-color="#0202ff"/><stop offset="0.2445" stop-color="#1616ff"/><stop offset="0.2657" stop-color="#1111ff"/><stop offset="0.2861" stop-color="#0000ff"/><stop offset="0.3278" stop-color="#0000ff"/><stop offset="0.3310" stop-color="#1b1bff"/><stop offset="0.4086" stop-color="#a0a0ff"/><stop offset="0.4567" stop-color="#bfbfff"/><stop offset="0.5376" stop-color="#d0d0ff"/><stop offset="0.6739" stop-color="#e0e0ff"/><stop offset="0.7180" stop-color="#fefeff"/><stop offset="0.7906" stop-color="#ffaeae"/><stop offset="0.8363" stop-color="#ff7a7a"/><stop offset="0.8861" stop-color="#ff7474"/><stop offset="0.9408" stop-color="#ff8787"/><stop offset="0.9996" stop-color="#ff8787"/></linearGradient><linearGradient id="d12"><stop offset="0.0004" stop-color="#0000ff"/><stop offset="0.2192" stop-color="#0303ff"/><stop offset="0.2429" stop-color="#1818ff"/><stop offset="0.2641" stop-color="#1515ff"/><stop offset="0.2869" stop-color="#0000ff"/><stop offset="0.3278" stop-color="#0000ff"/><stop offset="0.3310" stop-color="#1c1cff"/><stop offset="0.4086" stop-color="#a0a0ff"/><stop offset="0.4551" stop-color="#bebeff"/><stop offset="0.5351" stop-color="#cfcfff"/><stop offset="0.6747" stop-color="#e0e0ff"/><stop offset="0.7180" stop-color="#fbfbff"/><stop offset="0.7245" stop-color="#fffcfc"/><stop offset="0.7906" stop-color="#ffb3b3"/><stop offset="0.8347" stop-color="#ff7f7f"/><stop offset="0.8829" stop-color="#ff7676"/><stop offset="0.9424" stop-color="#ff8888"/><stop offset="0.9996" stop-color="#ff8888"/></linearGradient><linearGradient id="d13"><stop offset="0.0004" stop-color="#0000ff"/><stop offset="0.2176" stop-color="#0303ff"/><stop offset="0.2420" stop-color="#1b1bff"/><stop offset="0.2633" stop-color="#1919ff"/><stop offset="0.2886" stop-color="#0000ff"/><stop offset="0.3278" stop-color="#0000ff"/><stop offset="0.3302" stop-color="#1818ff"/><stop offset="0.3343" stop-color="#2525ff"/><stop offset="0.4086" stop-color="#9f9fff"/><stop offset="0.4543" stop-color="#bdbdff"/><stop offset="0.5327" stop-color="#ceceff"/><stop offset="0.6755" stop-color="#dfdfff"/><stop offset="0.7188" stop-color="#f9f9ff"/><stop offset="0.7269" stop-color="#fffcfc"/><stop offset="0.7873" stop-color="#ffbcbc"/><stop offset="0.8290" stop-color="#ff8a8a"/><stop offset="0.8559" stop-color="#ff7d7d"/><stop offset="0.8935" stop-color="#ff7d7d"/><stop offset="0.9449" stop-color="#ff8a8a"/><stop offset="0.9996" stop-color="#ff8a8a"/></linearGradient><linearGradient id="d14"><stop offset="0.0004" stop-color="#0000ff"/><stop offset="0.2159" stop-color="#0202ff"/><stop offset="0.2404" stop-color="#1c1cff"/><stop offset="0.2608" stop-color="#1c1cff"/><stop offset="0.2861" stop-color="#0101ff"/><stop offset="0.3278" stop-color="#0000ff"/><stop offset="0.3302" stop-color="#1919ff"/><stop offset="0.3343" stop-color="#2626ff"/><stop offset="0.4086" stop-color="#9f9fff"/><stop offset="0.4527" stop-color="#bcbcff"/><stop offset="0.5302" stop-color="#cdcdff"/><stop offset="0.6763" stop-color="#dedeff"/><stop offset="0.7196" stop-color="#f8f8ff"/><stop offset="0.7294" stop-color="#fffdfd"/><stop offset="0.7857" stop-color="#ffc3c3"/><stop offset="0.8249" stop-color="#ff9393"/><stop offset="0.8469" stop-color="#ff8484"/><stop offset="0.8869" stop-color="#ff7e7e"/><stop offset="0.9465" stop-color="#ff8b8b"/><stop offset="0.9996" stop-color="#ff8b8b"/></linearGradient><linearGradient id="d15"><stop offset="0.0004" stop-color="#0000ff"/><stop offset="0.2151" stop-color="#0303ff"/><stop offset="0.2396" stop-color="#1e1eff"/><stop offset="0.2600" stop-color="#1f1fff"/><stop offset="0.2845" stop-color="#0505ff"/><stop offset="0.2935" stop-color="#0000ff"/><stop offset="0.3278" stop-color="#0000ff"/><stop offset="0.3302" stop-color="#1a1aff"/><stop offset="0.3343" stop-color="#2727ff"/><stop offset="0.4078" stop-color="#9e9eff"/><stop offset="0.4510" stop-color="#bbbbff"/><stop offset="0.5278" stop-color="#ccccff"/><stop offset="0.6780" stop-color="#ddddff"/><stop offset="0.7204" stop-color="#f6f6ff"/><stop offset="0.7327" stop-color="#fffefe"/><stop offset="0.7841" stop-color="#ffcbcb"/><stop offset="0.8224" stop-color="#ff9a9a"/><stop offset="0.8469" stop-color="#ff8888"/><stop offset="0.8853" stop-color="#ff8181"/><stop offset="0.9514" stop-color="#ff8c8c"/><stop offset="0.9996" stop-color="#ff8c8c"/></linearGradient><linearGradient id="d16"><stop offset="0.0004" stop-color="#0000ff"/><stop offset="0.2143" stop-color="#0303ff"/><stop offset="0.2388" stop-color="#1f1fff"/><stop offset="0.2592" stop-color="#2121ff"/><stop offset="0.2829" stop-color="#0909ff"/><stop offset="0.2918" stop-color="#0000ff"/><stop offset="0.3278" stop-color="#0101ff"/><stop offset="0.3302" stop-color="#1a1aff"/><stop offset="0.3343" stop-color="#2828ff"/><stop offset="0.4061" stop-color="#9c9cff"/><stop offset="0.4486" stop-color="#babaff"/><stop offset="0.5245" stop-color="#cbcbff"/><stop offset="0.6796" stop-color="#dcdcff"/><stop offset="0.7220" stop-color="#f4f4ff"/><stop offset="0.7367" stop-color="#fffefe"/><stop offset="0.7833" stop-color="#ffd1d1"/><stop offset="0.8208" stop-color="#ffa0a0"/><stop offset="0.8486" stop-color="#ff8c8c"/><stop offset="0.8845" stop-color="#ff8484"/><stop offset="0.9580" stop-color="#ff8d8d"/><stop offset="0.9996" stop-color="#ff8d8d"/></linearGradient><linearGradient id="d17"><stop offset="0.0004" stop-color="#0000ff"/><stop offset="0.2135" stop-color="#0202ff"/><stop offset="0.2388" stop-color="#2020ff"/><stop offset="0.2592" stop-color="#2222ff"/><stop offset="0.2829" stop-color="#0a0aff"/><stop offset="0.2918" stop-color="#0000ff"/><stop offset="0.3278" stop-color="#0101ff"/><stop offset="0.3302" stop-color="#1b1bff"/><stop offset="0.3343" stop-color="#2828ff"/><stop offset="0.4045" stop-color="#9a9aff"/><stop offset="0.4469" stop-color="#b9b9ff"/><stop offset="0.5229" stop-color="#cacaff"/><stop offset="0.6820" stop-color="#dbdbff"/><stop offset="0.7261" stop-color="#f5f5ff"/><stop offset="0.7416" stop-color="#fffdfd"/><stop offset="0.7824" stop-color="#ffd7d7"/><stop offset="0.8192" stop-color="#ffa6a6"/><stop offset="0.8510" stop-color="#ff8f8f"/><stop offset="0.8861" stop-color="#ff8888"/><stop offset="0.9735" stop-color="#ff8f8f"/><stop offset="0.9996" stop-color="#ff8f8f"/></linearGradient><linearGradient id="d18"><stop offset="0.0004" stop-color="#0000ff"/><stop offset="0.2127" stop-color="#0202ff"/><stop offset="0.2380" stop-color="#2121ff"/><stop offset="0.2584" stop-color="#2424ff"/><stop offset="0.2812" stop-color="#0d0dff"/><stop offset="0.2918" stop-color="#0000ff"/><stop offset="0.3278" stop-color="#0101ff"/><stop offset="0.3302" stop-color="#1b1bff"/><stop offset="0.3343" stop-color="#2929ff"/><stop offset="0.4012" stop-color="#9696ff"/><stop offset="0.4437" stop-color="#b7b7ff"/><stop offset="0.5196" stop-color="#c9c9ff"/><stop offset="0.6853" stop-color="#dadaff"/><stop offset="0.7343" stop-color="#f8f8ff"/><stop offset="0.7465" stop-color="#fffdfd"/><stop offset="0.7824" stop-color="#ffdddd"/><stop offset="0.8184" stop-color="#ffacac"/><stop offset="0.8559" stop-color="#ff9191"/><stop offset="0.9008" stop-color="#ff8c8c"/><stop offset="0.9996" stop-color="#ff9090"/></linearGradient><linearGradient id="d19"><stop offset="0.0004" stop-color="#0000ff"/><stop offset="0.2127" stop-color="#0202ff"/><stop offset="0.2380" stop-color="#2121ff"/><stop offset="0.2584" stop-color="#2424ff"/><stop offset="0.2812" stop-color="#0d0dff"/><stop offset="0.2927" stop-color="#0000ff"/><stop offset="0.3278" stop-color="#0101ff"/><stop offset="0.3302" stop-color="#1b1bff"/><stop offset="0.3343" stop-color="#2929ff"/><stop offset="0.3955" stop-color="#8d8dff"/><stop offset="0.4184" stop-color="#a6a6ff"/><stop offset="0.4486" stop-color="#b9b9ff"/><stop offset="0.5237" stop-color="#c8c8ff"/><stop offset="0.6894" stop-color="#dadaff"/><stop offset="0.7506" stop-color="#fffdfd"/><stop offset="0.7816" stop-color="#ffe3e3"/><stop offset="0.8176" stop-color="#ffb1b1"/><stop offset="0.8616" stop-color="#ff9191"/><stop offset="0.9996" stop-color="#ff9191"/></linearGradient><linearGradient id="d20"><stop offset="0.0004" stop-color="#0000ff"/><stop offset="0.2127" stop-color="#0202ff"/><stop offset="0.2380" stop-color="#2121ff"/><stop offset="0.2584" stop-color="#2424ff"/><stop offset="0.2812" stop-color="#0e0eff"/><stop offset="0.2927" stop-color="#0000ff"/><stop offset="0.3278" stop-color="#0101ff"/><stop offset="0.3302" stop-color="#1c1cff"/><stop offset="0.3343" stop-color="#2a2aff"/><stop offset="0.3890" stop-color="#8383ff"/><stop offset="0.4110" stop-color="#9f9fff"/><stop offset="0.4453" stop-color="#b7b7ff"/><stop offset="0.5212" stop-color="#c7c7ff"/><stop offset="0.6918" stop-color="#d9d9ff"/><stop offset="0.7563" stop-color="#fffdfd"/><stop offset="0.7816" stop-color="#ffe7e7"/><stop offset="0.8176" stop-color="#ffb5b5"/><stop offset="0.8649" stop-color="#ff9494"/><stop offset="0.9996" stop-color="#ff9292"/></linearGradient><linearGradient id="d21"><stop offset="0.0004" stop-color="#0000ff"/><stop offset="0.2127" stop-color="#0202ff"/><stop offset="0.2380" stop-color="#2121ff"/><stop offset="0.2584" stop-color="#2424ff"/><stop offset="0.2812" stop-color="#0d0dff"/><stop offset="0.2927" stop-color="#0000ff"/><stop offset="0.3278" stop-color="#0101ff"/><stop offset="0.3302" stop-color="#1c1cff"/><stop offset="0.3343" stop-color="#2a2aff"/><stop offset="0.3865" stop-color="#8080ff"/><stop offset="0.4102" stop-color="#9e9eff"/><stop offset="0.4445" stop-color="#b7b7ff"/><stop offset="0.5212" stop-color="#c7c7ff"/><stop offset="0.6935" stop-color="#d8d8ff"/><stop offset="0.7612" stop-color="#fffdfd"/><stop offset="0.7824" stop-color="#ffeaea"/><stop offset="0.8167" stop-color="#ffb9b9"/><stop offset="0.8665" stop-color="#ff9696"/><stop offset="0.9996" stop-color="#ff9393"/></linearGradient><linearGradient id="d22"><stop offset="0.0004" stop-color="#0000ff"/><stop offset="0.2135" stop-color="#0303ff"/><stop offset="0.2388" stop-color="#2121ff"/><stop offset="0.2592" stop-color="#2323ff"/><stop offset="0.2829" stop-color="#0a0aff"/><stop offset="0.2918" stop-color="#0000ff"/><stop offset="0.3278" stop-color="#0101ff"/><stop offset="0.3302" stop-color="#1c1cff"/><stop offset="0.3343" stop-color="#2a2aff"/><stop offset="0.3841" stop-color="#7d7dff"/><stop offset="0.4102" stop-color="#9e9eff"/><stop offset="0.4445" stop-color="#b6b6ff"/><stop offset="0.5212" stop-color="#c6c6ff"/><stop offset="0.6959" stop-color="#d8d8ff"/><stop offset="0.7661" stop-color="#fffefe"/><stop offset="0.7833" stop-color="#ffeded"/><stop offset="0.8167" stop-color="#ffbdbd"/><stop offset="0.8673" stop-color="#ff9999"/><stop offset="0.9857" stop-color="#ff9494"/><stop offset="0.9996" stop-color="#ff9494"/></linearGradient><linearGradient id="d23"><stop offset="0.0004" stop-color="#0000ff"/><stop offset="0.2135" stop-color="#0202ff"/><stop offset="0.2388" stop-color="#2020ff"/><stop offset="0.2592" stop-color="#2222ff"/><stop offset="0.2829" stop-color="#0909ff"/><stop offset="0.2918" stop-color="#0000ff"/><stop offset="0.3278" stop-color="#0101ff"/><stop offset="0.3302" stop-color="#1b1bff"/><stop offset="0.3343" stop-color="#2a2aff"/><stop offset="0.3824" stop-color="#7b7bff"/><stop offset="0.4094" stop-color="#9d9dff"/><stop offset="0.4437" stop-color="#b6b6ff"/><stop offset="0.5204" stop-color="#c6c6ff"/><stop offset="0.6967" stop-color="#d7d7ff"/><stop offset="0.7718" stop-color="#fffdfd"/><stop offset="0.7947" stop-color="#ffdede"/><stop offset="0.8176" stop-color="#ffbfbf"/><stop offset="0.8673" stop-color="#ff9b9b"/><stop offset="0.9669" stop-color="#ff9595"/><stop offset="0.9996" stop-color="#ff9595"/></linearGradient><linearGradient id="d24"><stop offset="0.0004" stop-color="#0000ff"/><stop offset="0.2143" stop-color="#0202ff"/><stop offset="0.2396" stop-color="#1f1fff"/><stop offset="0.2600" stop-color="#2020ff"/><stop offset="0.2845" stop-color="#0606ff"/><stop offset="0.2927" stop-color="#0000ff"/><stop offset="0.3278" stop-color="#0000ff"/><stop offset="0.3302" stop-color="#1b1bff"/><stop offset="0.3343" stop-color="#2a2aff"/><stop offset="0.3816" stop-color="#7a7aff"/><stop offset="0.4094" stop-color="#9d9dff"/><stop offset="0.4437" stop-color="#b6b6ff"/><stop offset="0.5212" stop-color="#c5c5ff"/><stop offset="0.6984" stop-color="#d7d7ff"/><stop offset="0.7751" stop-color="#fffefe"/><stop offset="0.8167" stop-color="#ffc2c2"/><stop offset="0.8673" stop-color="#ff9d9d"/><stop offset="0.9588" stop-color="#ff9595"/><stop offset="0.9996" stop-color="#ff9595"/></linearGradient><linearGradient id="d25"><stop offset="0.0004" stop-color="#0000ff"/><stop offset="0.2151" stop-color="#0202ff"/><stop offset="0.2396" stop-color="#1d1dff"/><stop offset="0.2600" stop-color="#1e1eff"/><stop offset="0.2845" stop-color="#0404ff"/><stop offset="0.2943" stop-color="#0000ff"/><stop offset="0.3278" stop-color="#0000ff"/><stop offset="0.3302" stop-color="#1a1aff"/><stop offset="0.3343" stop-color="#2929ff"/><stop offset="0.3808" stop-color="#7979ff"/><stop offset="0.4094" stop-color="#9d9dff"/><stop offset="0.4437" stop-color="#b6b6ff"/><stop offset="0.5212" stop-color="#c5c5ff"/><stop offset="0.6984" stop-color="#d6d6ff"/><stop offset="0.7776" stop-color="#fffdfd"/><stop offset="0.8159" stop-color="#ffc5c5"/><stop offset="0.8673" stop-color="#ff9f9f"/><stop offset="0.9547" stop-color="#ff9696"/><stop offset="0.9996" stop-color="#ff9696"/></linearGradient><linearGradient id="d26"><stop offset="0.0004" stop-color="#0000ff"/><stop offset="0.2167" stop-color="#0303ff"/><stop offset="0.2412" stop-color="#1c1cff"/><stop offset="0.2616" stop-color="#1b1bff"/><stop offset="0.2894" stop-color="#0000ff"/><stop offset="0.3278" stop-color="#0000ff"/><stop offset="0.3310" stop-color="#1e1eff"/><stop offset="0.3384" stop-color="#3030ff"/><stop offset="0.3808" stop-color="#7979ff"/><stop offset="0.4094" stop-color="#9d9dff"/><stop offset="0.4429" stop-color="#b5b5ff"/><stop offset="0.5220" stop-color="#c5c5ff"/><stop offset="0.6992" stop-color="#d6d6ff"/><stop offset="0.7784" stop-color="#fffdfd"/><stop offset="0.8159" stop-color="#ffc7c7"/><stop offset="0.8673" stop-color="#ffa1a1"/><stop offset="0.9514" stop-color="#ff9797"/><stop offset="0.9996" stop-color="#ff9797"/></linearGradient><linearGradient id="d27"><stop offset="0.0004" stop-color="#0000ff"/><stop offset="0.2184" stop-color="#0303ff"/><stop offset="0.2429" stop-color="#1a1aff"/><stop offset="0.2641" stop-color="#1717ff"/><stop offset="0.2878" stop-color="#0000ff"/><stop offset="0.3278" stop-color="#0000ff"/><stop offset="0.3318" stop-color="#2121ff"/><stop offset="0.3784" stop-color="#7575ff"/><stop offset="0.4094" stop-color="#9d9dff"/><stop offset="0.4437" stop-color="#b5b5ff"/><stop offset="0.5229" stop-color="#c4c4ff"/><stop offset="0.6992" stop-color="#d5d5ff"/><stop offset="0.7767" stop-color="#fefeff"/><stop offset="0.8176" stop-color="#ffc8c8"/><stop offset="0.8673" stop-color="#ffa3a3"/><stop offset="0.9490" stop-color="#ff9898"/><stop offset="0.9996" stop-color="#ff9898"/></linearGradient><linearGradient id="d28"><stop offset="0.0004" stop-color="#0000ff"/><stop offset="0.2200" stop-color="#0303ff"/><stop offset="0.2437" stop-color="#1717ff"/><stop offset="0.2649" stop-color="#1313ff"/><stop offset="0.2869" stop-color="#0000ff"/><stop offset="0.3286" stop-color="#0202ff"/><stop offset="0.3310" stop-color="#1b1bff"/><stop offset="0.3359" stop-color="#2a2aff"/><stop offset="0.3800" stop-color="#7777ff"/><stop offset="0.4094" stop-color="#9d9dff"/><stop offset="0.4437" stop-color="#b5b5ff"/><stop offset="0.5237" stop-color="#c4c4ff"/><stop offset="0.6992" stop-color="#d4d4ff"/><stop offset="0.7767" stop-color="#fdfdff"/><stop offset="0.7824" stop-color="#fffafa"/><stop offset="0.8167" stop-color="#ffcbcb"/><stop offset="0.8673" stop-color="#ffa5a5"/><stop offset="0.9465" stop-color="#ff9999"/><stop offset="0.9996" stop-color="#ff9999"/></linearGradient><linearGradient id="d29"><stop offset="0.0004" stop-color="#0000ff"/><stop offset="0.2216" stop-color="#0202ff"/><stop offset="0.2453" stop-color="#1515ff"/><stop offset="0.2673" stop-color="#0f0fff"/><stop offset="0.2853" stop-color="#0000ff"/><stop offset="0.3286" stop-color="#0000ff"/><stop offset="0.3318" stop-color="#1d1dff"/><stop offset="0.3457" stop-color="#3a3aff"/><stop offset="0.3792" stop-color="#7676ff"/><stop offset="0.4094" stop-color="#9d9dff"/><stop offset="0.4437" stop-color="#b5b5ff"/><stop offset="0.5253" stop-color="#c4c4ff"/><stop offset="0.6992" stop-color="#d3d3ff"/><stop offset="0.7759" stop-color="#fbfbff"/><stop offset="0.7816" stop-color="#fffcfc"/><stop offset="0.8176" stop-color="#ffcdcd"/><stop offset="0.8673" stop-color="#ffa7a7"/><stop offset="0.9441" stop-color="#ff9b9b"/><stop offset="0.9996" stop-color="#ff9b9b"/></linearGradient><linearGradient id="d30"><stop offset="0.0004" stop-color="#0000ff"/><stop offset="0.2249" stop-color="#0303ff"/><stop offset="0.2486" stop-color="#1212ff"/><stop offset="0.2714" stop-color="#0808ff"/><stop offset="0.2845" stop-color="#0000ff"/><stop offset="0.3286" stop-color="#0000ff"/><stop offset="0.3327" stop-color="#1f1fff"/><stop offset="0.3776" stop-color="#7474ff"/><stop offset="0.4094" stop-color="#9d9dff"/><stop offset="0.4437" stop-color="#b5b5ff"/><stop offset="0.5269" stop-color="#c3c3ff"/><stop offset="0.6992" stop-color="#d3d3ff"/><stop offset="0.7759" stop-color="#f9f9ff"/><stop offset="0.7824" stop-color="#fffdfd"/><stop offset="0.8184" stop-color="#ffd0d0"/><stop offset="0.8673" stop-color="#ffaaaa"/><stop offset="0.9416" stop-color="#ff9c9c"/><stop offset="0.9996" stop-color="#ff9c9c"/></linearGradient><linearGradient id="d31"><stop offset="0.0004" stop-color="#0000ff"/><stop offset="0.2282" stop-color="#0303ff"/><stop offset="0.2510" stop-color="#0e0eff"/><stop offset="0.2837" stop-color="#0000ff"/><stop offset="0.3294" stop-color="#0101ff"/><stop offset="0.3318" stop-color="#1919ff"/><stop offset="0.3384" stop-color="#2b2bff"/><stop offset="0.3792" stop-color="#7676ff"/><stop offset="0.4094" stop-color="#9e9eff"/><stop offset="0.4437" stop-color="#b4b4ff"/><stop offset="0.5286" stop-color="#c3c3ff"/><stop offset="0.7000" stop-color="#d2d2ff"/><stop offset="0.7759" stop-color="#f8f8ff"/><stop offset="0.7833" stop-color="#fffdfd"/><stop offset="0.8192" stop-color="#ffd2d2"/><stop offset="0.8673" stop-color="#ffacac"/><stop offset="0.9400" stop-color="#ff9e9e"/><stop offset="0.9996" stop-color="#ff9e9e"/></linearGradient><linearGradient id="d32"><stop offset="0.0004" stop-color="#0000ff"/><stop offset="0.2322" stop-color="#0303ff"/><stop offset="0.2551" stop-color="#0a0aff"/><stop offset="0.2812" stop-color="#0000ff"/><stop offset="0.3294" stop-color="#0000ff"/><stop offset="0.3327" stop-color="#1b1bff"/><stop offset="0.3498" stop-color="#4040ff"/><stop offset="0.3792" stop-color="#7676ff"/><stop offset="0.4094" stop-color="#9e9eff"/><stop offset="0.4437" stop-color="#b4b4ff"/><stop offset="0.5310" stop-color="#c2c2ff"/><stop offset="0.7000" stop-color="#d1d1ff"/><stop offset="0.7751" stop-color="#f6f6ff"/><stop offset="0.7849" stop-color="#fffdfd"/><stop offset="0.8208" stop-color="#ffd5d5"/><stop offset="0.8682" stop-color="#ffafaf"/><stop offset="0.9392" stop-color="#ffa0a0"/><stop offset="0.9996" stop-color="#ffa0a0"/></linearGradient><linearGradient id="d33"><stop offset="0.0004" stop-color="#0000ff"/><stop offset="0.2380" stop-color="#0303ff"/><stop offset="0.2608" stop-color="#0404ff"/><stop offset="0.2967" stop-color="#0000ff"/><stop offset="0.3302" stop-color="#0303ff"/><stop offset="0.3327" stop-color="#1919ff"/><stop offset="0.3433" stop-color="#3333ff"/><stop offset="0.3784" stop-color="#7575ff"/><stop offset="0.4094" stop-color="#9e9eff"/><stop offset="0.4437" stop-color="#b4b4ff"/><stop offset="0.5343" stop-color="#c2c2ff"/><stop offset="0.7000" stop-color="#d0d0ff"/><stop offset="0.7743" stop-color="#f4f4ff"/><stop offset="0.7865" stop-color="#fffdfd"/><stop offset="0.8249" stop-color="#ffd5d5"/><stop offset="0.8682" stop-color="#ffb2b2"/><stop offset="0.9376" stop-color="#ffa2a2"/><stop offset="0.9996" stop-color="#ffa1a1"/></linearGradient><linearGradient id="d34"><stop offset="0.0004" stop-color="#0000ff"/><stop offset="0.3302" stop-color="#0000ff"/><stop offset="0.3335" stop-color="#1a1aff"/><stop offset="0.3727" stop-color="#6d6dff"/><stop offset="0.4094" stop-color="#9e9eff"/><stop offset="0.4445" stop-color="#b4b4ff"/><stop offset="0.5376" stop-color="#c2c2ff"/><stop offset="0.7008" stop-color="#cfcfff"/><stop offset="0.7735" stop-color="#f2f2ff"/><stop offset="0.7882" stop-color="#fffdfd"/><stop offset="0.8363" stop-color="#ffcece"/><stop offset="0.8690" stop-color="#ffb5b5"/><stop offset="0.9367" stop-color="#ffa4a4"/><stop offset="0.9996" stop-color="#ffa3a3"/></linearGradient><linearGradient id="d35"><stop offset="0.0004" stop-color="#0000ff"/><stop offset="0.3302" stop-color="#0000ff"/><stop offset="0.3343" stop-color="#1c1cff"/><stop offset="0.3767" stop-color="#7373ff"/><stop offset="0.4094" stop-color="#9e9eff"/><stop offset="0.4445" stop-color="#b3b3ff"/><stop offset="0.5416" stop-color="#c1c1ff"/><stop offset="0.7008" stop-color="#ceceff"/><stop offset="0.7718" stop-color="#efefff"/><stop offset="0.7898" stop-color="#fffefe"/><stop offset="0.8649" stop-color="#ffb9b9"/><stop offset="0.9351" stop-color="#ffa5a5"/><stop offset="0.9996" stop-color="#ffa5a5"/></linearGradient><linearGradient id="d36"><stop offset="0.0004" stop-color="#0000ff"/><stop offset="0.3310" stop-color="#0000ff"/><stop offset="0.3335" stop-color="#1616ff"/><stop offset="0.3449" stop-color="#3333ff"/><stop offset="0.3784" stop-color="#7575ff"/><stop offset="0.4102" stop-color="#9f9fff"/><stop offset="0.4445" stop-color="#b3b3ff"/><stop offset="0.5465" stop-color="#c1c1ff"/><stop offset="0.7008" stop-color="#cdcdff"/><stop offset="0.7710" stop-color="#ededff"/><stop offset="0.7922" stop-color="#fffdfd"/><stop offset="0.8673" stop-color="#ffbbbb"/><stop offset="0.9343" stop-color="#ffa7a7"/><stop offset="0.9996" stop-color="#ffa7a7"/></linearGradient><linearGradient id="d37"><stop offset="0.0004" stop-color="#0000ff"/><stop offset="0.3310" stop-color="#0000ff"/><stop offset="0.3351" stop-color="#1b1bff"/><stop offset="0.3767" stop-color="#7373ff"/><stop offset="0.4102" stop-color="#9f9fff"/><stop offset="0.4445" stop-color="#b3b3ff"/><stop offset="0.5522" stop-color="#c1c1ff"/><stop offset="0.7008" stop-color="#ccccff"/><stop offset="0.7694" stop-color="#ebebff"/><stop offset="0.7947" stop-color="#fffdfd"/><stop offset="0.8682" stop-color="#ffbebe"/><stop offset="0.9335" stop-color="#ffa9a9"/><stop offset="0.9996" stop-color="#ffa8a8"/></linearGradient><linearGradient id="d38"><stop offset="0.0004" stop-color="#0000ff"/><stop offset="0.3318" stop-color="#0101ff"/><stop offset="0.3343" stop-color="#1515ff"/><stop offset="0.3514" stop-color="#3f3fff"/><stop offset="0.3784" stop-color="#7575ff"/><stop offset="0.4102" stop-color="#9f9fff"/><stop offset="0.4453" stop-color="#b2b2ff"/><stop offset="0.5612" stop-color="#c1c1ff"/><stop offset="0.7016" stop-color="#ccccff"/><stop offset="0.7686" stop-color="#e9e9ff"/><stop offset="0.7971" stop-color="#fffefe"/><stop offset="0.8690" stop-color="#ffc1c1"/><stop offset="0.9335" stop-color="#ffabab"/><stop offset="0.9996" stop-color="#ffaaaa"/></linearGradient><linearGradient id="d39"><stop offset="0.0004" stop-color="#0000ff"/><stop offset="0.3318" stop-color="#0000ff"/><stop offset="0.3351" stop-color="#1717ff"/><stop offset="0.3612" stop-color="#5353ff"/><stop offset="0.3800" stop-color="#7878ff"/><stop offset="0.4102" stop-color="#9f9fff"/><stop offset="0.4453" stop-color="#b2b2ff"/><stop offset="0.5702" stop-color="#c1c1ff"/><stop offset="0.7016" stop-color="#cbcbff"/><stop offset="0.7678" stop-color="#e7e7ff"/><stop offset="0.8004" stop-color="#fffefe"/><stop offset="0.8690" stop-color="#ffc3c3"/><stop offset="0.9327" stop-color="#ffadad"/><stop offset="0.9996" stop-color="#ffacac"/></linearGradient><linearGradient id="d40"><stop offset="0.0004" stop-color="#0000ff"/><stop offset="0.3318" stop-color="#0000ff"/><stop offset="0.3359" stop-color="#1818ff"/><stop offset="0.3735" stop-color="#6e6eff"/><stop offset="0.4094" stop-color="#9e9eff"/><stop offset="0.4453" stop-color="#b2b2ff"/><stop offset="0.5816" stop-color="#c2c2ff"/><stop offset="0.7016" stop-color="#cacaff"/><stop offset="0.7669" stop-color="#e5e5ff"/><stop offset="0.8037" stop-color="#fffefe"/><stop offset="0.8698" stop-color="#ffc6c6"/><stop offset="0.9327" stop-color="#ffaeae"/><stop offset="0.9996" stop-color="#ffadad"/></linearGradient><linearGradient id="d41"><stop offset="0.0004" stop-color="#0000ff"/><stop offset="0.3327" stop-color="#0000ff"/><stop offset="0.3359" stop-color="#1717ff"/><stop offset="0.3678" stop-color="#6262ff"/><stop offset="0.3898" stop-color="#8585ff"/><stop offset="0.4110" stop-color="#a0a0ff"/><stop offset="0.4453" stop-color="#b2b2ff"/><stop offset="0.5955" stop-color="#c2c2ff"/><stop offset="0.7016" stop-color="#c9c9ff"/><stop offset="0.7661" stop-color="#e3e3ff"/><stop offset="0.8069" stop-color="#fffefe"/><stop offset="0.8698" stop-color="#ffc8c8"/><stop offset="0.9318" stop-color="#ffb0b0"/><stop offset="0.9996" stop-color="#ffafaf"/></linearGradient><linearGradient id="d42"><stop offset="0.0004" stop-color="#0000ff"/><stop offset="0.3327" stop-color="#0000ff"/><stop offset="0.3367" stop-color="#1818ff"/><stop offset="0.3743" stop-color="#6f6fff"/><stop offset="0.4102" stop-color="#9f9fff"/><stop offset="0.4453" stop-color="#b1b1ff"/><stop offset="0.6127" stop-color="#c3c3ff"/><stop offset="0.7016" stop-color="#c8c8ff"/><stop offset="0.7653" stop-color="#e2e2ff"/><stop offset="0.8110" stop-color="#fffefe"/><stop offset="0.8698" stop-color="#ffcaca"/><stop offset="0.9318" stop-color="#ffb1b1"/><stop offset="0.9996" stop-color="#ffb0b0"/></linearGradient><linearGradient id="d43"><stop offset="0.0004" stop-color="#0000ff"/><stop offset="0.3335" stop-color="#0303ff"/><stop offset="0.3367" stop-color="#1717ff"/><stop offset="0.3718" stop-color="#6a6aff"/><stop offset="0.4094" stop-color="#9f9fff"/><stop offset="0.4453" stop-color="#b1b1ff"/><stop offset="0.6216" stop-color="#c4c4ff"/><stop offset="0.7016" stop-color="#c7c7ff"/><stop offset="0.7653" stop-color="#e1e1ff"/><stop offset="0.8143" stop-color="#fffefe"/><stop offset="0.8698" stop-color="#ffcccc"/><stop offset="0.9318" stop-color="#ffb2b2"/><stop offset="0.9996" stop-color="#ffb1b1"/></linearGradient><linearGradient id="d44"><stop offset="0.0004" stop-color="#0000ff"/><stop offset="0.3335" stop-color="#0101ff"/><stop offset="0.3367" stop-color="#1515ff"/><stop offset="0.3645" stop-color="#5959ff"/><stop offset="0.3808" stop-color="#7979ff"/><stop offset="0.4102" stop-color="#9f9fff"/><stop offset="0.4461" stop-color="#b1b1ff"/><stop offset="0.6257" stop-color="#c3c3ff"/><stop offset="0.7016" stop-color="#c7c7ff"/><stop offset="0.7645" stop-color="#dfdfff"/><stop offset="0.8167" stop-color="#fffefe"/><stop offset="0.8690" stop-color="#ffcece"/><stop offset="0.9310" stop-color="#ffb3b3"/><stop offset="0.9996" stop-color="#ffb2b2"/></linearGradient><linearGradient id="d45"><stop offset="0.0004" stop-color="#0000ff"/><stop offset="0.3335" stop-color="#0000ff"/><stop offset="0.3367" stop-color="#1414ff"/><stop offset="0.3612" stop-color="#5151ff"/><stop offset="0.3792" stop-color="#7676ff"/><stop offset="0.4102" stop-color="#9f9fff"/><stop offset="0.4461" stop-color="#b1b1ff"/><stop offset="0.6273" stop-color="#c3c3ff"/><stop offset="0.7016" stop-color="#c7c7ff"/><stop offset="0.7645" stop-color="#dfdfff"/><stop offset="0.8176" stop-color="#fffdfd"/><stop offset="0.8690" stop-color="#ffcece"/><stop offset="0.9310" stop-color="#ffb3b3"/><stop offset="0.9996" stop-color="#ffb2b2"/></linearGradient><linearGradient id="d46"><stop offset="0.0004" stop-color="#0000ff"/><stop offset="0.3335" stop-color="#0000ff"/><stop offset="0.3376" stop-color="#1616ff"/><stop offset="0.3710" stop-color="#6868ff"/><stop offset="0.4094" stop-color="#9f9fff"/><stop offset="0.4461" stop-color="#b1b1ff"/><stop offset="0.6273" stop-color="#c3c3ff"/><stop offset="0.7016" stop-color="#c7c7ff"/><stop offset="0.7645" stop-color="#dfdfff"/><stop offset="0.8159" stop-color="#fffefe"/><stop offset="0.8698" stop-color="#ffcdcd"/><stop offset="0.9318" stop-color="#ffb3b3"/><stop offset="0.9996" stop-color="#ffb2b2"/></linearGradient><linearGradient id="d47"><stop offset="0.0004" stop-color="#0000ff"/><stop offset="0.3343" stop-color="#0303ff"/><stop offset="0.3376" stop-color="#1515ff"/><stop offset="0.3678" stop-color="#6060ff"/><stop offset="0.3849" stop-color="#7f7fff"/><stop offset="0.4110" stop-color="#a0a0ff"/><stop offset="0.4461" stop-color="#b1b1ff"/><stop offset="0.6257" stop-color="#c3c3ff"/><stop offset="0.7016" stop-color="#c7c7ff"/><stop offset="0.7637" stop-color="#dfdfff"/><stop offset="0.8143" stop-color="#fffefe"/><stop offset="0.8698" stop-color="#ffcdcd"/><stop offset="0.9318" stop-color="#ffb3b3"/><stop offset="0.9996" stop-color="#ffb2b2"/></linearGradient><linearGradient id="d48"><stop offset="0.0004" stop-color="#0000ff"/><stop offset="0.3343" stop-color="#0101ff"/><stop offset="0.3376" stop-color="#1414ff"/><stop offset="0.3645" stop-color="#5959ff"/><stop offset="0.3808" stop-color="#7979ff"/><stop offset="0.4110" stop-color="#a0a0ff"/><stop offset="0.4461" stop-color="#b1b1ff"/><stop offset="0.6241" stop-color="#c3c3ff"/><stop offset="0.7016" stop-color="#c7c7ff"/><stop offset="0.7637" stop-color="#e0e0ff"/><stop offset="0.8118" stop-color="#fffefe"/><stop offset="0.8706" stop-color="#ffcbcb"/><stop offset="0.9318" stop-color="#ffb3b3"/><stop offset="0.9996" stop-color="#ffb1b1"/></linearGradient><linearGradient id="d49"><stop offset="0.0004" stop-color="#0000ff"/><stop offset="0.3343" stop-color="#0000ff"/><stop offset="0.3384" stop-color="#1515ff"/><stop offset="0.3694" stop-color="#6464ff"/><stop offset="0.3890" stop-color="#8585ff"/><stop offset="0.4118" stop-color="#a1a1ff"/><stop offset="0.4469" stop-color="#b1b1ff"/><stop offset="0.6233" stop-color="#c2c2ff"/><stop offset="0.7016" stop-color="#c7c7ff"/><stop offset="0.7629" stop-color="#dfdfff"/><stop offset="0.8094" stop-color="#fffefe"/><stop offset="0.8706" stop-color="#ffcaca"/><stop offset="0.9327" stop-color="#ffb3b3"/><stop offset="0.9996" stop-color="#ffb1b1"/></linearGradient><linearGradient id="d50"><stop offset="0.0004" stop-color="#0000ff"/><stop offset="0.3343" stop-color="#0000ff"/><stop offset="0.3392" stop-color="#1717ff"/><stop offset="0.3710" stop-color="#6868ff"/><stop offset="0.4045" stop-color="#9b9bff"/><stop offset="0.4437" stop-color="#b1b1ff"/><stop offset="0.6078" stop-color="#c1c1ff"/><stop offset="0.7016" stop-color="#c7c7ff"/><stop offset="0.7629" stop-color="#e0e0ff"/><stop offset="0.8069" stop-color="#fffefe"/><stop offset="0.8706" stop-color="#ffc9c9"/><stop offset="0.9335" stop-color="#ffb2b2"/><stop offset="0.9996" stop-color="#ffb0b0"/></linearGradient><linearGradient id="d51"><stop offset="0.0004" stop-color="#0000ff"/><stop offset="0.3351" stop-color="#0202ff"/><stop offset="0.3392" stop-color="#1616ff"/><stop offset="0.3678" stop-color="#6060ff"/><stop offset="0.3833" stop-color="#7e7eff"/><stop offset="0.4110" stop-color="#a0a0ff"/><stop offset="0.4469" stop-color="#b1b1ff"/><stop offset="0.6143" stop-color="#c1c1ff"/><stop offset="0.7016" stop-color="#c7c7ff"/><stop offset="0.7620" stop-color="#e0e0ff"/><stop offset="0.8053" stop-color="#fffdfd"/><stop offset="0.8706" stop-color="#ffc7c7"/><stop offset="0.9343" stop-color="#ffb2b2"/><stop offset="0.9996" stop-color="#ffb0b0"/></linearGradient><linearGradient id="d52"><stop offset="0.0004" stop-color="#0000ff"/><stop offset="0.3351" stop-color="#0000ff"/><stop offset="0.3392" stop-color="#1515ff"/><stop offset="0.3645" stop-color="#5858ff"/><stop offset="0.3808" stop-color="#7a7aff"/><stop offset="0.4110" stop-color="#a0a0ff"/><stop offset="0.4469" stop-color="#b1b1ff"/><stop offset="0.6053" stop-color="#c1c1ff"/><stop offset="0.7016" stop-color="#c7c7ff"/><stop offset="0.7620" stop-color="#e0e0ff"/><stop offset="0.8029" stop-color="#fffefe"/><stop offset="0.8633" stop-color="#ffcaca"/><stop offset="0.9286" stop-color="#ffb2b2"/><stop offset="0.9996" stop-color="#ffafaf"/></linearGradient><linearGradient id="d53"><stop offset="0.0004" stop-color="#0000ff"/><stop offset="0.3351" stop-color="#0000ff"/><stop offset="0.3408" stop-color="#1919ff"/><stop offset="0.3678" stop-color="#6060ff"/><stop offset="0.3824" stop-color="#7d7dff"/><stop offset="0.4118" stop-color="#a1a1ff"/><stop offset="0.4478" stop-color="#b1b1ff"/><stop offset="0.6012" stop-color="#c0c0ff"/><stop offset="0.7008" stop-color="#c7c7ff"/><stop offset="0.7620" stop-color="#e1e1ff"/><stop offset="0.8012" stop-color="#fffefe"/><stop offset="0.8469" stop-color="#ffd4d4"/><stop offset="0.8943" stop-color="#ffbbbb"/><stop offset="0.9490" stop-color="#ffb0b0"/><stop offset="0.9996" stop-color="#ffaeae"/></linearGradient><linearGradient id="d54"><stop offset="0.0004" stop-color="#0000ff"/><stop offset="0.3359" stop-color="#0202ff"/><stop offset="0.3408" stop-color="#1818ff"/><stop offset="0.3653" stop-color="#5a5aff"/><stop offset="0.3816" stop-color="#7c7cff"/><stop offset="0.4118" stop-color="#a1a1ff"/><stop offset="0.4478" stop-color="#b1b1ff"/><stop offset="0.5939" stop-color="#bfbfff"/><stop offset="0.7008" stop-color="#c7c7ff"/><stop offset="0.7612" stop-color="#e1e1ff"/><stop offset="0.7996" stop-color="#fffefe"/><stop offset="0.8388" stop-color="#ffd8d8"/><stop offset="0.8902" stop-color="#ffbbbb"/><stop offset="0.9539" stop-color="#ffb0b0"/><stop offset="0.9996" stop-color="#ffaeae"/></linearGradient><linearGradient id="d55"><stop offset="0.0004" stop-color="#0000ff"/><stop offset="0.3359" stop-color="#0101ff"/><stop offset="0.3400" stop-color="#1515ff"/><stop offset="0.3629" stop-color="#5454ff"/><stop offset="0.3808" stop-color="#7c7cff"/><stop offset="0.4118" stop-color="#a1a1ff"/><stop offset="0.4478" stop-color="#b1b1ff"/><stop offset="0.5873" stop-color="#bfbfff"/><stop offset="0.7008" stop-color="#c7c7ff"/><stop offset="0.7612" stop-color="#e1e1ff"/><stop offset="0.7988" stop-color="#fffdfd"/><stop offset="0.8355" stop-color="#ffd8d8"/><stop offset="0.8910" stop-color="#ffb9b9"/><stop offset="0.9686" stop-color="#ffaeae"/><stop offset="0.9996" stop-color="#ffadad"/></linearGradient><linearGradient id="d56"><stop offset="0.0004" stop-color="#0000ff"/><stop offset="0.3359" stop-color="#0000ff"/><stop offset="0.3416" stop-color="#1919ff"/><stop offset="0.3637" stop-color="#5656ff"/><stop offset="0.3808" stop-color="#7c7cff"/><stop offset="0.4118" stop-color="#a1a1ff"/><stop offset="0.4486" stop-color="#b1b1ff"/><stop offset="0.5849" stop-color="#bebeff"/><stop offset="0.7008" stop-color="#c7c7ff"/><stop offset="0.7612" stop-color="#e2e2ff"/><stop offset="0.7971" stop-color="#fffefe"/><stop offset="0.8331" stop-color="#ffd8d8"/><stop offset="0.8927" stop-color="#ffb8b8"/><stop offset="0.9914" stop-color="#ffadad"/><stop offset="0.9996" stop-color="#ffadad"/></linearGradient><linearGradient id="d57"><stop offset="0.0004" stop-color="#0000ff"/><stop offset="0.3359" stop-color="#0000ff"/><stop offset="0.3433" stop-color="#1e1eff"/><stop offset="0.3653" stop-color="#5b5bff"/><stop offset="0.3816" stop-color="#7d7dff"/><stop offset="0.4118" stop-color="#a2a2ff"/><stop offset="0.4486" stop-color="#b1b1ff"/><stop offset="0.5800" stop-color="#bebeff"/><stop offset="0.7008" stop-color="#c7c7ff"/><stop offset="0.7604" stop-color="#e2e2ff"/><stop offset="0.7963" stop-color="#fffefe"/><stop offset="0.8314" stop-color="#ffd6d6"/><stop offset="0.8943" stop-color="#ffb6b6"/><stop offset="0.9996" stop-color="#ffacac"/></linearGradient><linearGradient id="d58"><stop offset="0.0004" stop-color="#0000ff"/><stop offset="0.3367" stop-color="#0202ff"/><stop offset="0.3424" stop-color="#1a1aff"/><stop offset="0.3629" stop-color="#5454ff"/><stop offset="0.3808" stop-color="#7d7dff"/><stop offset="0.4118" stop-color="#a2a2ff"/><stop offset="0.4486" stop-color="#b1b1ff"/><stop offset="0.5759" stop-color="#bdbdff"/><stop offset="0.7000" stop-color="#c7c7ff"/><stop offset="0.7604" stop-color="#e2e2ff"/><stop offset="0.7955" stop-color="#fffefe"/><stop offset="0.8306" stop-color="#ffd5d5"/><stop offset="0.8951" stop-color="#ffb5b5"/><stop offset="0.9996" stop-color="#ffabab"/></linearGradient><linearGradient id="d59"><stop offset="0.0004" stop-color="#0000ff"/><stop offset="0.3367" stop-color="#0101ff"/><stop offset="0.3424" stop-color="#1a1aff"/><stop offset="0.3620" stop-color="#5252ff"/><stop offset="0.3808" stop-color="#7d7dff"/><stop offset="0.4127" stop-color="#a2a2ff"/><stop offset="0.4494" stop-color="#b1b1ff"/><stop offset="0.5751" stop-color="#bdbdff"/><stop offset="0.7000" stop-color="#c7c7ff"/><stop offset="0.7604" stop-color="#e3e3ff"/><stop offset="0.7947" stop-color="#fffefe"/><stop offset="0.8298" stop-color="#ffd3d3"/><stop offset="0.8951" stop-color="#ffb4b4"/><stop offset="0.9996" stop-color="#ffabab"/></linearGradient><linearGradient id="d60"><stop offset="0.0004" stop-color="#0000ff"/><stop offset="0.3367" stop-color="#0000ff"/><stop offset="0.3416" stop-color="#1717ff"/><stop offset="0.3612" stop-color="#5050ff"/><stop offset="0.3808" stop-color="#7d7dff"/><stop offset="0.4127" stop-color="#a2a2ff"/><stop offset="0.4494" stop-color="#b1b1ff"/><stop offset="0.5727" stop-color="#bdbdff"/><stop offset="0.7000" stop-color="#c7c7ff"/><stop offset="0.7604" stop-color="#e3e3ff"/><stop offset="0.7939" stop-color="#fffefe"/><stop offset="0.8298" stop-color="#ffd2d2"/><stop offset="0.8951" stop-color="#ffb4b4"/><stop offset="0.9996" stop-color="#ffabab"/></linearGradient><linearGradient id="d61"><stop offset="0.0004" stop-color="#0000ff"/><stop offset="0.3367" stop-color="#0000ff"/><stop offset="0.3424" stop-color="#1919ff"/><stop offset="0.3612" stop-color="#5151ff"/><stop offset="0.3808" stop-color="#7d7dff"/><stop offset="0.4127" stop-color="#a2a2ff"/><stop offset="0.4494" stop-color="#b1b1ff"/><stop offset="0.5710" stop-color="#bdbdff"/><stop offset="0.7000" stop-color="#c7c7ff"/><stop offset="0.7596" stop-color="#e3e3ff"/><stop offset="0.7939" stop-color="#fffdfd"/><stop offset="0.8290" stop-color="#ffd1d1"/><stop offset="0.8951" stop-color="#ffb3b3"/><stop offset="0.9996" stop-color="#ffaaaa"/></linearGradient><linearGradient id="d62"><stop offset="0.0004" stop-color="#0000ff"/><stop offset="0.3367" stop-color="#0000ff"/><stop offset="0.3424" stop-color="#1919ff"/><stop offset="0.3612" stop-color="#5151ff"/><stop offset="0.3808" stop-color="#7e7eff"/><stop offset="0.4127" stop-color="#a2a2ff"/><stop offset="0.4494" stop-color="#b1b1ff"/><stop offset="0.5702" stop-color="#bdbdff"/><stop offset="0.7000" stop-color="#c7c7ff"/><stop offset="0.7596" stop-color="#e3e3ff"/><stop offset="0.7931" stop-color="#fffdfd"/><stop offset="0.8290" stop-color="#ffd0d0"/><stop offset="0.8951" stop-color="#ffb2b2"/><stop offset="0.9996" stop-color="#ffaaaa"/></linearGradient><linearGradient id="d63"><stop offset="0.0004" stop-color="#0000ff"/><stop offset="0.3367" stop-color="#0101ff"/><stop offset="0.3424" stop-color="#1a1aff"/><stop offset="0.3612" stop-color="#5151ff"/><stop offset="0.3808" stop-color="#7e7eff"/><stop offset="0.4127" stop-color="#a3a3ff"/><stop offset="0.4494" stop-color="#b1b1ff"/><stop offset="0.5710" stop-color="#bdbdff"/><stop offset="0.7000" stop-color="#c7c7ff"/><stop offset="0.7596" stop-color="#e4e4ff"/><stop offset="0.7914" stop-color="#fffefe"/><stop offset="0.8290" stop-color="#ffcece"/><stop offset="0.8943" stop-color="#ffb1b1"/><stop offset="0.9996" stop-color="#ffaaaa"/></linearGradient><linearGradient id="d64"><stop offset="0.0004" stop-color="#0000ff"/><stop offset="0.3367" stop-color="#0303ff"/><stop offset="0.3449" stop-color="#2323ff"/><stop offset="0.3645" stop-color="#5a5aff"/><stop offset="0.3808" stop-color="#7e7eff"/><stop offset="0.4127" stop-color="#a3a3ff"/><stop offset="0.4502" stop-color="#b2b2ff"/><stop offset="0.5743" stop-color="#bdbdff"/><stop offset="0.7000" stop-color="#c7c7ff"/><stop offset="0.7596" stop-color="#e5e5ff"/><stop offset="0.7898" stop-color="#fffefe"/><stop offset="0.8298" stop-color="#ffcdcd"/><stop offset="0.8943" stop-color="#ffb0b0"/><stop offset="0.9996" stop-color="#ffa9a9"/></linearGradient><linearGradient id="d65"><stop offset="0.0004" stop-color="#0000ff"/><stop offset="0.3359" stop-color="#0000ff"/><stop offset="0.3433" stop-color="#1e1eff"/><stop offset="0.3620" stop-color="#5555ff"/><stop offset="0.3800" stop-color="#7e7eff"/><stop offset="0.4118" stop-color="#a2a2ff"/><stop offset="0.4502" stop-color="#b2b2ff"/><stop offset="0.5759" stop-color="#bdbdff"/><stop offset="0.6992" stop-color="#c7c7ff"/><stop offset="0.7588" stop-color="#e5e5ff"/><stop offset="0.7882" stop-color="#fffefe"/><stop offset="0.8298" stop-color="#ffcbcb"/><stop offset="0.8935" stop-color="#ffafaf"/><stop offset="0.9996" stop-color="#ffa9a9"/></linearGradient><linearGradient id="d66"><stop offset="0.0004" stop-color="#0000ff"/><stop offset="0.3359" stop-color="#0101ff"/><stop offset="0.3424" stop-color="#1c1cff"/><stop offset="0.3612" stop-color="#5353ff"/><stop offset="0.3800" stop-color="#7e7eff"/><stop offset="0.4118" stop-color="#a2a2ff"/><stop offset="0.4502" stop-color="#b2b2ff"/><stop offset="0.5776" stop-color="#bebeff"/><stop offset="0.6992" stop-color="#c7c7ff"/><stop offset="0.7588" stop-color="#e6e6ff"/><stop offset="0.7865" stop-color="#fffefe"/><stop offset="0.8298" stop-color="#ffc9c9"/><stop offset="0.8935" stop-color="#ffadad"/><stop offset="0.9996" stop-color="#ffa8a8"/></linearGradient><linearGradient id="d67"><stop offset="0.0004" stop-color="#0000ff"/><stop offset="0.3351" stop-color="#0000ff"/><stop offset="0.3457" stop-color="#2828ff"/><stop offset="0.3694" stop-color="#6969ff"/><stop offset="0.3833" stop-color="#8383ff"/><stop offset="0.4118" stop-color="#a2a2ff"/><stop offset="0.4510" stop-color="#b2b2ff"/><stop offset="0.5824" stop-color="#bebeff"/><stop offset="0.6992" stop-color="#c7c7ff"/><stop offset="0.7571" stop-color="#e5e5ff"/><stop offset="0.7849" stop-color="#fffdfd"/><stop offset="0.8298" stop-color="#ffc8c8"/><stop offset="0.8927" stop-color="#ffacac"/><stop offset="0.9996" stop-color="#ffa8a8"/></linearGradient><linearGradient id="d68"><stop offset="0.0004" stop-color="#0000ff"/><stop offset="0.3351" stop-color="#0000ff"/><stop offset="0.3416" stop-color="#1c1cff"/><stop offset="0.3604" stop-color="#5353ff"/><stop offset="0.3792" stop-color="#7e7eff"/><stop offset="0.4110" stop-color="#a2a2ff"/><stop offset="0.4510" stop-color="#b2b2ff"/><stop offset="0.5841" stop-color="#bebeff"/><stop offset="0.6992" stop-color="#c7c7ff"/><stop offset="0.7555" stop-color="#e5e5ff"/><stop offset="0.7824" stop-color="#fffefe"/><stop offset="0.8306" stop-color="#ffc5c5"/><stop offset="0.8910" stop-color="#ffaaaa"/><stop offset="0.9996" stop-color="#ffa7a7"/></linearGradient><linearGradient id="d69"><stop offset="0.0004" stop-color="#0000ff"/><stop offset="0.3351" stop-color="#0303ff"/><stop offset="0.3441" stop-color="#2525ff"/><stop offset="0.3653" stop-color="#6060ff"/><stop offset="0.3808" stop-color="#8080ff"/><stop offset="0.4110" stop-color="#a2a2ff"/><stop offset="0.4510" stop-color="#b2b2ff"/><stop offset="0.5865" stop-color="#bfbfff"/><stop offset="0.6992" stop-color="#c7c7ff"/><stop offset="0.7539" stop-color="#e4e4ff"/><stop offset="0.7808" stop-color="#fffefe"/><stop offset="0.8306" stop-color="#ffc3c3"/><stop offset="0.8894" stop-color="#ffa8a8"/><stop offset="0.9996" stop-color="#ffa7a7"/></linearGradient><linearGradient id="d70"><stop offset="0.0004" stop-color="#0000ff"/><stop offset="0.3343" stop-color="#0000ff"/><stop offset="0.3416" stop-color="#1e1eff"/><stop offset="0.3604" stop-color="#5555ff"/><stop offset="0.3792" stop-color="#7f7fff"/><stop offset="0.4102" stop-color="#a2a2ff"/><stop offset="0.4510" stop-color="#b2b2ff"/><stop offset="0.5882" stop-color="#bfbfff"/><stop offset="0.6992" stop-color="#c7c7ff"/><stop offset="0.7522" stop-color="#e4e4ff"/><stop offset="0.7792" stop-color="#fffdfd"/><stop offset="0.8306" stop-color="#ffc1c1"/><stop offset="0.8869" stop-color="#ffa7a7"/><stop offset="0.9996" stop-color="#ffa6a6"/></linearGradient><linearGradient id="d71"><stop offset="0.0004" stop-color="#0000ff"/><stop offset="0.3343" stop-color="#0202ff"/><stop offset="0.3433" stop-color="#2525ff"/><stop offset="0.3645" stop-color="#6060ff"/><stop offset="0.3800" stop-color="#8080ff"/><stop offset="0.4102" stop-color="#a2a2ff"/><stop offset="0.4518" stop-color="#b2b2ff"/><stop offset="0.5914" stop-color="#bfbfff"/><stop offset="0.6992" stop-color="#c7c7ff"/><stop offset="0.7490" stop-color="#e2e2ff"/><stop offset="0.7776" stop-color="#fffdfd"/><stop offset="0.8306" stop-color="#ffbfbf"/><stop offset="0.8853" stop-color="#ffa5a5"/><stop offset="0.9996" stop-color="#ffa6a6"/></linearGradient><linearGradient id="d72"><stop offset="0.0004" stop-color="#0000ff"/><stop offset="0.3335" stop-color="#0000ff"/><stop offset="0.3408" stop-color="#1e1eff"/><stop offset="0.3596" stop-color="#5555ff"/><stop offset="0.3784" stop-color="#7f7fff"/><stop offset="0.4094" stop-color="#a2a2ff"/><stop offset="0.4518" stop-color="#b2b2ff"/><stop offset="0.5931" stop-color="#bfbfff"/><stop offset="0.6984" stop-color="#c6c6ff"/><stop offset="0.7449" stop-color="#e0e0ff"/><stop offset="0.7751" stop-color="#fffefe"/><stop offset="0.8306" stop-color="#ffbdbd"/><stop offset="0.8820" stop-color="#ffa4a4"/><stop offset="0.9996" stop-color="#ffa5a5"/></linearGradient><linearGradient id="d73"><stop offset="0.0004" stop-color="#0000ff"/><stop offset="0.3335" stop-color="#0303ff"/><stop offset="0.3433" stop-color="#2828ff"/><stop offset="0.3669" stop-color="#6969ff"/><stop offset="0.3824" stop-color="#8585ff"/><stop offset="0.4102" stop-color="#a2a2ff"/><stop offset="0.4535" stop-color="#b2b2ff"/><stop offset="0.5996" stop-color="#c0c0ff"/><stop offset="0.6984" stop-color="#c6c6ff"/><stop offset="0.7424" stop-color="#dfdfff"/><stop offset="0.7735" stop-color="#fffefe"/><stop offset="0.8306" stop-color="#ffbbbb"/><stop offset="0.8788" stop-color="#ffa2a2"/><stop offset="0.9996" stop-color="#ffa4a4"/></linearGradient><linearGradient id="d74"><stop offset="0.0004" stop-color="#0000ff"/><stop offset="0.3327" stop-color="#0000ff"/><stop offset="0.3400" stop-color="#1e1eff"/><stop offset="0.3588" stop-color="#5555ff"/><stop offset="0.3776" stop-color="#7f7fff"/><stop offset="0.4086" stop-color="#a2a2ff"/><stop offset="0.4527" stop-color="#b2b2ff"/><stop offset="0.5980" stop-color="#c0c0ff"/><stop offset="0.6984" stop-color="#c7c7ff"/><stop offset="0.7408" stop-color="#dfdfff"/><stop offset="0.7718" stop-color="#fffefe"/><stop offset="0.8306" stop-color="#ffb8b8"/><stop offset="0.8755" stop-color="#ffa1a1"/><stop offset="0.9767" stop-color="#ffa2a2"/><stop offset="0.9996" stop-color="#ffa4a4"/></linearGradient><linearGradient id="d75"><stop offset="0.0004" stop-color="#0000ff"/><stop offset="0.3318" stop-color="#0000ff"/><stop offset="0.3441" stop-color="#2d2dff"/><stop offset="0.3718" stop-color="#7676ff"/><stop offset="0.4045" stop-color="#9f9fff"/><stop offset="0.4502" stop-color="#b2b2ff"/><stop offset="0.5922" stop-color="#c0c0ff"/><stop offset="0.6984" stop-color="#c7c7ff"/><stop offset="0.7392" stop-color="#dedeff"/><stop offset="0.7710" stop-color="#fffdfd"/><stop offset="0.8306" stop-color="#ffb6b6"/><stop offset="0.8739" stop-color="#ff9f9f"/><stop offset="0.9343" stop-color="#ff9f9f"/><stop offset="0.9996" stop-color="#ffa3a3"/></linearGradient><linearGradient id="d76"><stop offset="0.0004" stop-color="#0000ff"/><stop offset="0.3318" stop-color="#0101ff"/><stop offset="0.3392" stop-color="#1f1fff"/><stop offset="0.3588" stop-color="#5757ff"/><stop offset="0.3767" stop-color="#7f7fff"/><stop offset="0.4069" stop-color="#a1a1ff"/><stop offset="0.4527" stop-color="#b2b2ff"/><stop offset="0.6004" stop-color="#c0c0ff"/><stop offset="0.6984" stop-color="#c7c7ff"/><stop offset="0.7376" stop-color="#ddddff"/><stop offset="0.7694" stop-color="#fffdfd"/><stop offset="0.8306" stop-color="#ffb3b3"/><stop offset="0.8722" stop-color="#ff9d9d"/><stop offset="0.9204" stop-color="#ff9c9c"/><stop offset="0.9996" stop-color="#ffa2a2"/></linearGradient><linearGradient id="d77"><stop offset="0.0004" stop-color="#0000ff"/><stop offset="0.3310" stop-color="#0000ff"/><stop offset="0.3408" stop-color="#2626ff"/><stop offset="0.3629" stop-color="#6363ff"/><stop offset="0.3784" stop-color="#8282ff"/><stop offset="0.4069" stop-color="#a1a1ff"/><stop offset="0.4543" stop-color="#b3b3ff"/><stop offset="0.6061" stop-color="#c1c1ff"/><stop offset="0.6984" stop-color="#c7c7ff"/><stop offset="0.7367" stop-color="#ddddff"/><stop offset="0.7678" stop-color="#fffefe"/><stop offset="0.8306" stop-color="#ffb1b1"/><stop offset="0.8706" stop-color="#ff9b9b"/><stop offset="0.9139" stop-color="#ff9a9a"/><stop offset="0.9996" stop-color="#ffa2a2"/></linearGradient><linearGradient id="d78"><stop offset="0.0004" stop-color="#0000ff"/><stop offset="0.3310" stop-color="#0101ff"/><stop offset="0.3392" stop-color="#2222ff"/><stop offset="0.3588" stop-color="#5a5aff"/><stop offset="0.3759" stop-color="#7f7fff"/><stop offset="0.4053" stop-color="#a1a1ff"/><stop offset="0.4535" stop-color="#b3b3ff"/><stop offset="0.6045" stop-color="#c1c1ff"/><stop offset="0.6984" stop-color="#c7c7ff"/><stop offset="0.7359" stop-color="#ddddff"/><stop offset="0.7661" stop-color="#fffefe"/><stop offset="0.8306" stop-color="#ffafaf"/><stop offset="0.8698" stop-color="#ff9999"/><stop offset="0.9122" stop-color="#ff9898"/><stop offset="0.9996" stop-color="#ffa1a1"/></linearGradient><linearGradient id="d79"><stop offset="0.0004" stop-color="#0000ff"/><stop offset="0.3302" stop-color="#0000ff"/><stop offset="0.3384" stop-color="#2121ff"/><stop offset="0.3580" stop-color="#5959ff"/><stop offset="0.3751" stop-color="#7f7fff"/><stop offset="0.4045" stop-color="#a0a0ff"/><stop offset="0.4535" stop-color="#b3b3ff"/><stop offset="0.6053" stop-color="#c1c1ff"/><stop offset="0.6976" stop-color="#c6c6ff"/><stop offset="0.7351" stop-color="#dcdcff"/><stop offset="0.7653" stop-color="#fffefe"/><stop offset="0.8306" stop-color="#ffacac"/><stop offset="0.8690" stop-color="#ff9696"/><stop offset="0.9114" stop-color="#ff9696"/><stop offset="0.9996" stop-color="#ffa0a0"/></linearGradient><linearGradient id="d80"><stop offset="0.0004" stop-color="#0000ff"/><stop offset="0.3302" stop-color="#0202ff"/><stop offset="0.3400" stop-color="#2727ff"/><stop offset="0.3645" stop-color="#6b6bff"/><stop offset="0.3808" stop-color="#8787ff"/><stop offset="0.4053" stop-color="#a1a1ff"/><stop offset="0.4551" stop-color="#b3b3ff"/><stop offset="0.6118" stop-color="#c1c1ff"/><stop offset="0.6976" stop-color="#c6c6ff"/><stop offset="0.7343" stop-color="#dcdcff"/><stop offset="0.7637" stop-color="#fffefe"/><stop offset="0.8273" stop-color="#ffacac"/><stop offset="0.8673" stop-color="#ff9494"/><stop offset="0.9082" stop-color="#ff9494"/><stop offset="0.9996" stop-color="#ffa0a0"/></linearGradient><linearGradient id="d81"><stop offset="0.0004" stop-color="#0000ff"/><stop offset="0.3294" stop-color="#0000ff"/><stop offset="0.3367" stop-color="#1e1eff"/><stop offset="0.3555" stop-color="#5555ff"/><stop offset="0.3735" stop-color="#7d7dff"/><stop offset="0.4029" stop-color="#a0a0ff"/><stop offset="0.4535" stop-color="#b3b3ff"/><stop offset="0.6069" stop-color="#c1c1ff"/><stop offset="0.6976" stop-color="#c6c6ff"/><stop offset="0.7343" stop-color="#dcdcff"/><stop offset="0.7629" stop-color="#fffefe"/><stop offset="0.8192" stop-color="#ffb3b3"/><stop offset="0.8624" stop-color="#ff9292"/><stop offset="0.9033" stop-color="#ff9191"/><stop offset="0.9996" stop-color="#ff9f9f"/></linearGradient><linearGradient id="d82"><stop offset="0.0004" stop-color="#0000ff"/><stop offset="0.3294" stop-color="#0303ff"/><stop offset="0.3416" stop-color="#3030ff"/><stop offset="0.3702" stop-color="#7979ff"/><stop offset="0.4020" stop-color="#a0a0ff"/><stop offset="0.4543" stop-color="#b3b3ff"/><stop offset="0.6102" stop-color="#c2c2ff"/><stop offset="0.6976" stop-color="#c6c6ff"/><stop offset="0.7335" stop-color="#dcdcff"/><stop offset="0.7620" stop-color="#fffefe"/><stop offset="0.8037" stop-color="#ffc4c4"/><stop offset="0.8331" stop-color="#ffa3a3"/><stop offset="0.8665" stop-color="#ff8f8f"/><stop offset="0.9082" stop-color="#ff9090"/><stop offset="0.9996" stop-color="#ff9e9e"/></linearGradient><linearGradient id="d83"><stop offset="0.0004" stop-color="#0000ff"/><stop offset="0.3286" stop-color="#0000ff"/><stop offset="0.3359" stop-color="#1e1eff"/><stop offset="0.3547" stop-color="#5555ff"/><stop offset="0.3727" stop-color="#7e7eff"/><stop offset="0.4020" stop-color="#a0a0ff"/><stop offset="0.4551" stop-color="#b3b3ff"/><stop offset="0.6135" stop-color="#c2c2ff"/><stop offset="0.6976" stop-color="#c6c6ff"/><stop offset="0.7335" stop-color="#dcdcff"/><stop offset="0.7612" stop-color="#fffdfd"/><stop offset="0.7980" stop-color="#ffc9c9"/><stop offset="0.8331" stop-color="#ffa1a1"/><stop offset="0.8665" stop-color="#ff8c8c"/><stop offset="0.9090" stop-color="#ff8e8e"/><stop offset="0.9996" stop-color="#ff9e9e"/></linearGradient><linearGradient id="d84"><stop offset="0.0004" stop-color="#0000ff"/><stop offset="0.3278" stop-color="#0000ff"/><stop offset="0.3408" stop-color="#3030ff"/><stop offset="0.3694" stop-color="#7979ff"/><stop offset="0.4012" stop-color="#a0a0ff"/><stop offset="0.4559" stop-color="#b3b3ff"/><stop offset="0.6167" stop-color="#c2c2ff"/><stop offset="0.6976" stop-color="#c6c6ff"/><stop offset="0.7327" stop-color="#dcdcff"/><stop offset="0.7604" stop-color="#fffdfd"/><stop offset="0.7955" stop-color="#ffcaca"/><stop offset="0.8331" stop-color="#ff9f9f"/><stop offset="0.8657" stop-color="#ff8a8a"/><stop offset="0.9082" stop-color="#ff8c8c"/><stop offset="0.9996" stop-color="#ff9d9d"/></linearGradient><linearGradient id="d85"><stop offset="0.0004" stop-color="#0000ff"/><stop offset="0.3278" stop-color="#0101ff"/><stop offset="0.3351" stop-color="#1e1eff"/><stop offset="0.3539" stop-color="#5555ff"/><stop offset="0.3718" stop-color="#7e7eff"/><stop offset="0.4012" stop-color="#a0a0ff"/><stop offset="0.4567" stop-color="#b3b3ff"/><stop offset="0.6200" stop-color="#c2c2ff"/><stop offset="0.6976" stop-color="#c6c6ff"/><stop offset="0.7327" stop-color="#dcdcff"/><stop offset="0.7596" stop-color="#fffdfd"/><stop offset="0.7939" stop-color="#ffcaca"/><stop offset="0.8331" stop-color="#ff9d9d"/><stop offset="0.8657" stop-color="#ff8888"/><stop offset="0.9090" stop-color="#ff8b8b"/><stop offset="0.9996" stop-color="#ff9c9c"/></linearGradient><linearGradient id="d86"><stop offset="0.0004" stop-color="#0000ff"/><stop offset="0.3269" stop-color="#0000ff"/><stop offset="0.3400" stop-color="#3030ff"/><stop offset="0.3686" stop-color="#7979ff"/><stop offset="0.4004" stop-color="#a0a0ff"/><stop offset="0.4576" stop-color="#b4b4ff"/><stop offset="0.6216" stop-color="#c2c2ff"/><stop offset="0.6976" stop-color="#c7c7ff"/><stop offset="0.7327" stop-color="#dcdcff"/><stop offset="0.7588" stop-color="#fffdfd"/><stop offset="0.7931" stop-color="#ffc9c9"/><stop offset="0.8331" stop-color="#ff9a9a"/><stop offset="0.8657" stop-color="#ff8686"/><stop offset="0.9098" stop-color="#ff8989"/><stop offset="0.9996" stop-color="#ff9c9c"/></linearGradient><linearGradient id="d87"><stop offset="0.0004" stop-color="#0000ff"/><stop offset="0.3269" stop-color="#0000ff"/><stop offset="0.3343" stop-color="#1e1eff"/><stop offset="0.3531" stop-color="#5555ff"/><stop offset="0.3710" stop-color="#7e7eff"/><stop offset="0.4004" stop-color="#a0a0ff"/><stop offset="0.4592" stop-color="#b4b4ff"/><stop offset="0.6208" stop-color="#c3c3ff"/><stop offset="0.6976" stop-color="#c7c7ff"/><stop offset="0.7318" stop-color="#dcdcff"/><stop offset="0.7580" stop-color="#fffefe"/><stop offset="0.7922" stop-color="#ffc8c8"/><stop offset="0.8339" stop-color="#ff9898"/><stop offset="0.8649" stop-color="#ff8383"/><stop offset="0.9090" stop-color="#ff8888"/><stop offset="0.9996" stop-color="#ff9b9b"/></linearGradient><linearGradient id="d88"><stop offset="0.0004" stop-color="#0000ff"/><stop offset="0.3269" stop-color="#0303ff"/><stop offset="0.3384" stop-color="#2d2dff"/><stop offset="0.3669" stop-color="#7878ff"/><stop offset="0.3996" stop-color="#a0a0ff"/><stop offset="0.4600" stop-color="#b4b4ff"/><stop offset="0.6200" stop-color="#c3c3ff"/><stop offset="0.6976" stop-color="#c7c7ff"/><stop offset="0.7318" stop-color="#dcdcff"/><stop offset="0.7571" stop-color="#fffefe"/><stop offset="0.7922" stop-color="#ffc6c6"/><stop offset="0.8339" stop-color="#ff9696"/><stop offset="0.8649" stop-color="#ff8181"/><stop offset="0.9090" stop-color="#ff8686"/><stop offset="0.9996" stop-color="#ff9b9b"/></linearGradient><linearGradient id="d89"><stop offset="0.0004" stop-color="#0000ff"/><stop offset="0.3261" stop-color="#0000ff"/><stop offset="0.3343" stop-color="#2020ff"/><stop offset="0.3531" stop-color="#5757ff"/><stop offset="0.3702" stop-color="#7d7dff"/><stop offset="0.4004" stop-color="#a1a1ff"/><stop offset="0.4624" stop-color="#b5b5ff"/><stop offset="0.6208" stop-color="#c3c3ff"/><stop offset="0.6976" stop-color="#c7c7ff"/><stop offset="0.7318" stop-color="#dcdcff"/><stop offset="0.7563" stop-color="#fffefe"/><stop offset="0.7914" stop-color="#ffc5c5"/><stop offset="0.8339" stop-color="#ff9494"/><stop offset="0.8649" stop-color="#ff8080"/><stop offset="0.9098" stop-color="#ff8585"/><stop offset="0.9996" stop-color="#ff9a9a"/></linearGradient><linearGradient id="d90"><stop offset="0.0004" stop-color="#0000ff"/><stop offset="0.3261" stop-color="#0101ff"/><stop offset="0.3343" stop-color="#2222ff"/><stop offset="0.3539" stop-color="#5a5aff"/><stop offset="0.3702" stop-color="#7e7eff"/><stop offset="0.3996" stop-color="#a0a0ff"/><stop offset="0.4633" stop-color="#b5b5ff"/><stop offset="0.6200" stop-color="#c3c3ff"/><stop offset="0.6967" stop-color="#c6c6ff"/><stop offset="0.7318" stop-color="#dcdcff"/><stop offset="0.7563" stop-color="#fffdfd"/><stop offset="0.7914" stop-color="#ffc3c3"/><stop offset="0.8347" stop-color="#ff9292"/><stop offset="0.8649" stop-color="#ff7e7e"/><stop offset="0.9106" stop-color="#ff8484"/><stop offset="0.9996" stop-color="#ff9a9a"/></linearGradient><linearGradient id="d91"><stop offset="0.0004" stop-color="#0000ff"/><stop offset="0.3253" stop-color="#0000ff"/><stop offset="0.3384" stop-color="#3030ff"/><stop offset="0.3678" stop-color="#7b7bff"/><stop offset="0.3996" stop-color="#a1a1ff"/><stop offset="0.4649" stop-color="#b5b5ff"/><stop offset="0.6200" stop-color="#c3c3ff"/><stop offset="0.6967" stop-color="#c6c6ff"/><stop offset="0.7318" stop-color="#ddddff"/><stop offset="0.7555" stop-color="#fffefe"/><stop offset="0.7906" stop-color="#ffc3c3"/><stop offset="0.8347" stop-color="#ff9191"/><stop offset="0.8641" stop-color="#ff7c7c"/><stop offset="0.9090" stop-color="#ff8383"/><stop offset="0.9996" stop-color="#ff9a9a"/></linearGradient><linearGradient id="d92"><stop offset="0.0004" stop-color="#0000ff"/><stop offset="0.3253" stop-color="#0000ff"/><stop offset="0.3335" stop-color="#2020ff"/><stop offset="0.3522" stop-color="#5757ff"/><stop offset="0.3694" stop-color="#7e7eff"/><stop offset="0.3996" stop-color="#a1a1ff"/><stop offset="0.4673" stop-color="#b6b6ff"/><stop offset="0.6200" stop-color="#c3c3ff"/><stop offset="0.6967" stop-color="#c6c6ff"/><stop offset="0.7310" stop-color="#dcdcff"/><stop offset="0.7555" stop-color="#fffdfd"/><stop offset="0.7906" stop-color="#ffc2c2"/><stop offset="0.8347" stop-color="#ff8f8f"/><stop offset="0.8641" stop-color="#ff7b7b"/><stop offset="0.9098" stop-color="#ff8282"/><stop offset="0.9996" stop-color="#ff9999"/></linearGradient><linearGradient id="d93"><stop offset="0.0004" stop-color="#0000ff"/><stop offset="0.3253" stop-color="#0000ff"/><stop offset="0.3318" stop-color="#1c1cff"/><stop offset="0.3506" stop-color="#5353ff"/><stop offset="0.3694" stop-color="#7e7eff"/><stop offset="0.3996" stop-color="#a1a1ff"/><stop offset="0.4682" stop-color="#b6b6ff"/><stop offset="0.6200" stop-color="#c3c3ff"/><stop offset="0.6967" stop-color="#c6c6ff"/><stop offset="0.7310" stop-color="#dcdcff"/><stop offset="0.7547" stop-color="#fffefe"/><stop offset="0.7906" stop-color="#ffc1c1"/><stop offset="0.8355" stop-color="#ff8e8e"/><stop offset="0.8641" stop-color="#ff7a7a"/><stop offset="0.9098" stop-color="#ff8181"/><stop offset="0.9996" stop-color="#ff9999"/></linearGradient><linearGradient id="d94"><stop offset="0.0004" stop-color="#0000ff"/><stop offset="0.3253" stop-color="#0101ff"/><stop offset="0.3327" stop-color="#1f1fff"/><stop offset="0.3514" stop-color="#5555ff"/><stop offset="0.3694" stop-color="#7e7eff"/><stop offset="0.3996" stop-color="#a1a1ff"/><stop offset="0.4690" stop-color="#b6b6ff"/><stop offset="0.6200" stop-color="#c3c3ff"/><stop offset="0.6967" stop-color="#c6c6ff"/><stop offset="0.7310" stop-color="#dcdcff"/><stop offset="0.7547" stop-color="#fffefe"/><stop offset="0.7906" stop-color="#ffc0c0"/><stop offset="0.8355" stop-color="#ff8d8d"/><stop offset="0.8641" stop-color="#ff7979"/><stop offset="0.9098" stop-color="#ff8181"/><stop offset="0.9996" stop-color="#ff9999"/></linearGradient><linearGradient id="d95"><stop offset="0.0004" stop-color="#0000ff"/><stop offset="0.3253" stop-color="#0101ff"/><stop offset="0.3335" stop-color="#2121ff"/><stop offset="0.3522" stop-color="#5757ff"/><stop offset="0.3694" stop-color="#7e7eff"/><stop offset="0.3996" stop-color="#a1a1ff"/><stop offset="0.4698" stop-color="#b6b6ff"/><stop offset="0.6208" stop-color="#c3c3ff"/><stop offset="0.6967" stop-color="#c6c6ff"/><stop offset="0.7310" stop-color="#dcdcff"/><stop offset="0.7547" stop-color="#fffefe"/><stop offset="0.7906" stop-color="#ffc0c0"/><stop offset="0.8355" stop-color="#ff8d8d"/><stop offset="0.8641" stop-color="#ff7979"/><stop offset="0.9106" stop-color="#ff8181"/><stop offset="0.9996" stop-color="#ff9999"/></linearGradient><linearGradient id="d96"><stop offset="0.0004" stop-color="#0000ff"/><stop offset="0.3253" stop-color="#0101ff"/><stop offset="0.3335" stop-color="#2121ff"/><stop offset="0.3522" stop-color="#5757ff"/><stop offset="0.3694" stop-color="#7e7eff"/><stop offset="0.3996" stop-color="#a1a1ff"/><stop offset="0.4698" stop-color="#b6b6ff"/><stop offset="0.6208" stop-color="#c3c3ff"/><stop offset="0.6967" stop-color="#c6c6ff"/><stop offset="0.7310" stop-color="#dcdcff"/><stop offset="0.7547" stop-color="#fffefe"/><stop offset="0.7906" stop-color="#ffc0c0"/><stop offset="0.8355" stop-color="#ff8d8d"/><stop offset="0.8641" stop-color="#ff7979"/><stop offset="0.9106" stop-color="#ff8181"/><stop offset="0.9996" stop-color="#ff9999"/></linearGradient><linearGradient id="d97"><stop offset="0.0004" stop-color="#0000ff"/><stop offset="0.3253" stop-color="#0101ff"/><stop offset="0.3335" stop-color="#2121ff"/><stop offset="0.3522" stop-color="#5757ff"/><stop offset="0.3694" stop-color="#7e7eff"/><stop offset="0.3996" stop-color="#a1a1ff"/><stop offset="0.4698" stop-color="#b6b6ff"/><stop offset="0.6208" stop-color="#c3c3ff"/><stop offset="0.6967" stop-color="#c6c6ff"/><stop offset="0.7310" stop-color="#dcdcff"/><stop offset="0.7547" stop-color="#fffefe"/><stop offset="0.7906" stop-color="#ffc0c0"/><stop offset="0.8355" stop-color="#ff8d8d"/><stop offset="0.8641" stop-color="#ff7979"/><stop offset="0.9106" stop-color="#ff8181"/><stop offset="0.9996" stop-color="#ff9999"/></linearGradient><linearGradient id="d98"><stop offset="0.0004" stop-color="#0000ff"/><stop offset="0.3253" stop-color="#0101ff"/><stop offset="0.3335" stop-color="#2121ff"/><stop offset="0.3522" stop-color="#5757ff"/><stop offset="0.3694" stop-color="#7e7eff"/><stop offset="0.3996" stop-color="#a1a1ff"/><stop offset="0.4698" stop-color="#b6b6ff"/><stop offset="0.6208" stop-color="#c3c3ff"/><stop offset="0.6967" stop-color="#c6c6ff"/><stop offset="0.7310" stop-color="#dcdcff"/><stop offset="0.7547" stop-color="#fffefe"/><stop offset="0.7906" stop-color="#ffc0c0"/><stop offset="0.8355" stop-color="#ff8d8d"/><stop offset="0.8641" stop-color="#ff7979"/><stop offset="0.9106" stop-color="#ff8181"/><stop offset="0.9996" stop-color="#ff9999"/></linearGradient><linearGradient id="d99"><stop offset="0.0004" stop-color="#0000ff"/><stop offset="0.3253" stop-color="#0101ff"/><stop offset="0.3335" stop-color="#2121ff"/><stop offset="0.3522" stop-color="#5757ff"/><stop offset="0.3694" stop-color="#7e7eff"/><stop offset="0.3996" stop-color="#a1a1ff"/><stop offset="0.4698" stop-color="#b6b6ff"/><stop offset="0.6208" stop-color="#c3c3ff"/><stop offset="0.6967" stop-color="#c6c6ff"/><stop offset="0.7310" stop-color="#dcdcff"/><stop offset="0.7547" stop-color="#fffefe"/><stop offset="0.7906" stop-color="#ffc0c0"/><stop offset="0.8355" stop-color="#ff8d8d"/><stop offset="0.8641" stop-color="#ff7979"/><stop offset="0.9106" stop-color="#ff8181"/><stop offset="0.9996" stop-color="#ff9999"/></linearGradient><linearGradient id="d100"><stop offset="0.0004" stop-color="#0000ff"/><stop offset="0.3253" stop-color="#0101ff"/><stop offset="0.3335" stop-color="#2121ff"/><stop offset="0.3522" stop-color="#5757ff"/><stop offset="0.3694" stop-color="#7e7eff"/><stop offset="0.3996" stop-color="#a1a1ff"/><stop offset="0.4698" stop-color="#b6b6ff"/><stop offset="0.6208" stop-color="#c3c3ff"/><stop offset="0.6967" stop-color="#c6c6ff"/><stop offset="0.7310" stop-color="#dcdcff"/><stop offset="0.7547" stop-color="#fffefe"/><stop offset="0.7906" stop-color="#ffc0c0"/><stop offset="0.8355" stop-color="#ff8d8d"/><stop offset="0.8641" stop-color="#ff7979"/><stop offset="0.9106" stop-color="#ff8181"/><stop offset="0.9996" stop-color="#ff9999"/></linearGradient><linearGradient id="d101"><stop offset="0.0004" stop-color="#0000ff"/><stop offset="0.3253" stop-color="#0101ff"/><stop offset="0.3335" stop-color="#2121ff"/><stop offset="0.3522" stop-color="#5757ff"/><stop offset="0.3694" stop-color="#7e7eff"/><stop offset="0.3996" stop-color="#a1a1ff"/><stop offset="0.4698" stop-color="#b6b6ff"/><stop offset="0.6208" stop-color="#c3c3ff"/><stop offset="0.6967" stop-color="#c6c6ff"/><stop offset="0.7310" stop-color="#dcdcff"/><stop offset="0.7547" stop-color="#fffefe"/><stop offset="0.7906" stop-color="#ffc0c0"/><stop offset="0.8355" stop-color="#ff8d8d"/><stop offset="0.8641" stop-color="#ff7979"/><stop offset="0.9106" stop-color="#ff8181"/><stop offset="0.9996" stop-color="#ff9999"/></linearGradient><linearGradient id="d102"><stop offset="0.0004" stop-color="#0000ff"/><stop offset="0.3253" stop-color="#0101ff"/><stop offset="0.3335" stop-color="#2121ff"/><stop offset="0.3522" stop-color="#5757ff"/><stop offset="0.3694" stop-color="#7e7eff"/><stop offset="0.3996" stop-color="#a1a1ff"/><stop offset="0.4698" stop-color="#b6b6ff"/><stop offset="0.6208" stop-color="#c3c3ff"/><stop offset="0.6967" stop-color="#c6c6ff"/><stop offset="0.7310" stop-color="#dcdcff"/><stop offset="0.7547" stop-color="#fffefe"/><stop offset="0.7906" stop-color="#ffc0c0"/><stop offset="0.8355" stop-color="#ff8d8d"/><stop offset="0.8641" stop-color="#ff7979"/><stop offset="0.9106" stop-color="#ff8181"/><stop offset="0.9996" stop-color="#ff9999"/></linearGradient><linearGradient id="d103"><stop offset="0.0004" stop-color="#0000ff"/><stop offset="0.3253" stop-color="#0101ff"/><stop offset="0.3335" stop-color="#2121ff"/><stop offset="0.3522" stop-color="#5757ff"/><stop offset="0.3694" stop-color="#7e7eff"/><stop offset="0.3996" stop-color="#a1a1ff"/><stop offset="0.4698" stop-color="#b6b6ff"/><stop offset="0.6208" stop-color="#c3c3ff"/><stop offset="0.6967" stop-color="#c6c6ff"/><stop offset="0.7310" stop-color="#dcdcff"/><stop offset="0.7547" stop-color="#fffefe"/><stop offset="0.7906" stop-color="#ffc0c0"/><stop offset="0.8355" stop-color="#ff8d8d"/><stop offset="0.8641" stop-color="#ff7979"/><stop offset="0.9106" stop-color="#ff8181"/><stop offset="0.9996" stop-color="#ff9999"/></linearGradient><clipPath id="hcd"><rect x="92.0" y="960.9" width="1224.8" height="309.8"/></clipPath><linearGradient id="cbd" x1="0" y1="0" x2="0" y2="1"><stop offset="0" stop-color="#ff0000"/><stop offset="0.5" stop-color="#ffffff"/><stop offset="1" stop-color="#0000ff"/></linearGradient><linearGradient id="e0"><stop offset="0.0004" stop-color="#0000ff"/><stop offset="0.3457" stop-color="#0000ff"/><stop offset="0.3514" stop-color="#1e1eff"/><stop offset="0.3743" stop-color="#6b6bff"/><stop offset="0.3865" stop-color="#8686ff"/><stop offset="0.4127" stop-color="#acacff"/><stop offset="0.4804" stop-color="#c6c6ff"/><stop offset="0.6167" stop-color="#e2e2ff"/><stop offset="0.6559" stop-color="#fffdfd"/><stop offset="0.6951" stop-color="#ffb7b7"/><stop offset="0.7253" stop-color="#ff6f6f"/><stop offset="0.7514" stop-color="#ff1616"/><stop offset="0.7612" stop-color="#ff0000"/><stop offset="0.8910" stop-color="#ff0202"/><stop offset="0.9147" stop-color="#ff1f1f"/><stop offset="0.9833" stop-color="#ff4242"/><stop offset="0.9996" stop-color="#ff4242"/></linearGradient><linearGradient id="e1"><stop offset="0.0004" stop-color="#0000ff"/><stop offset="0.3449" stop-color="#0000ff"/><stop offset="0.3522" stop-color="#2424ff"/><stop offset="0.3784" stop-color="#7878ff"/><stop offset="0.4110" stop-color="#ababff"/><stop offset="0.4804" stop-color="#c6c6ff"/><stop offset="0.6167" stop-color="#e2e2ff"/><stop offset="0.6535" stop-color="#fdfdff"/><stop offset="0.6584" stop-color="#fffbfb"/><stop offset="0.6976" stop-color="#ffb3b3"/><stop offset="0.7269" stop-color="#ff6d6d"/><stop offset="0.7522" stop-color="#ff1d1d"/><stop offset="0.7661" stop-color="#ff0000"/><stop offset="0.8853" stop-color="#ff0303"/><stop offset="0.9139" stop-color="#ff2525"/><stop offset="0.9841" stop-color="#ff4545"/><stop offset="0.9996" stop-color="#ff4545"/></linearGradient><linearGradient id="e2"><stop offset="0.0004" stop-color="#0000ff"/><stop offset="0.3441" stop-color="#0101ff"/><stop offset="0.3514" stop-color="#2525ff"/><stop offset="0.3776" stop-color="#7878ff"/><stop offset="0.4102" stop-color="#ababff"/><stop offset="0.4804" stop-color="#c6c6ff"/><stop offset="0.6167" stop-color="#e2e2ff"/><stop offset="0.6535" stop-color="#fcfcff"/><stop offset="0.6584" stop-color="#fffcfc"/><stop offset="0.6992" stop-color="#ffb3b3"/><stop offset="0.7294" stop-color="#ff6c6c"/><stop offset="0.7547" stop-color="#ff2424"/><stop offset="0.7727" stop-color="#ff0101"/><stop offset="0.8755" stop-color="#ff0303"/><stop offset="0.9122" stop-color="#ff2d2d"/><stop offset="0.9841" stop-color="#ff4848"/><stop offset="0.9996" stop-color="#ff4848"/></linearGradient><linearGradient id="e3"><stop offset="0.0004" stop-color="#0000ff"/><stop offset="0.3433" stop-color="#0202ff"/><stop offset="0.3498" stop-color="#2222ff"/><stop offset="0.3743" stop-color="#7171ff"/><stop offset="0.3996" stop-color="#9d9dff"/><stop offset="0.4135" stop-color="#adadff"/><stop offset="0.4820" stop-color="#c6c6ff"/><stop offset="0.6176" stop-color="#e3e3ff"/><stop offset="0.6535" stop-color="#fafaff"/><stop offset="0.6592" stop-color="#fffdfd"/><stop offset="0.7024" stop-color="#ffafaf"/><stop offset="0.7351" stop-color="#ff6363"/><stop offset="0.7563" stop-color="#ff2d2d"/><stop offset="0.7808" stop-color="#ff0101"/><stop offset="0.8665" stop-color="#ff0303"/><stop offset="0.9098" stop-color="#ff3434"/><stop offset="0.9824" stop-color="#ff4b4b"/><stop offset="0.9996" stop-color="#ff4b4b"/></linearGradient><linearGradient id="e4"><stop offset="0.0004" stop-color="#0000ff"/><stop offset="0.3424" stop-color="#0303ff"/><stop offset="0.3490" stop-color="#2323ff"/><stop offset="0.3735" stop-color="#7070ff"/><stop offset="0.3955" stop-color="#9898ff"/><stop offset="0.4118" stop-color="#acacff"/><stop offset="0.4820" stop-color="#c5c5ff"/><stop offset="0.6176" stop-color="#e2e2ff"/><stop offset="0.6543" stop-color="#fafaff"/><stop offset="0.6600" stop-color="#fffdfd"/><stop offset="0.7041" stop-color="#ffaeae"/><stop offset="0.7408" stop-color="#ff5a5a"/><stop offset="0.7588" stop-color="#ff3131"/><stop offset="0.7873" stop-color="#ff0101"/><stop offset="0.8592" stop-color="#ff0303"/><stop offset="0.9090" stop-color="#ff3838"/><stop offset="0.9824" stop-color="#ff4c4c"/><stop offset="0.9996" stop-color="#ff4c4c"/></linearGradient><linearGradient id="e5"><stop offset="0.0004" stop-color="#0000ff"/><stop offset="0.3408" stop-color="#0000ff"/><stop offset="0.3482" stop-color="#2424ff"/><stop offset="0.3735" stop-color="#7272ff"/><stop offset="0.4053" stop-color="#a7a7ff"/><stop offset="0.4788" stop-color="#c4c4ff"/><stop offset="0.6167" stop-color="#e2e2ff"/><stop offset="0.6543" stop-color="#f9f9ff"/><stop offset="0.6608" stop-color="#fffdfd"/><stop offset="0.7049" stop-color="#ffb0b0"/><stop offset="0.7588" stop-color="#ff3737"/><stop offset="0.7898" stop-color="#ff0404"/><stop offset="0.8339" stop-color="#ff0000"/><stop offset="0.8576" stop-color="#ff0808"/><stop offset="0.9098" stop-color="#ff3b3b"/><stop offset="0.9849" stop-color="#ff4d4d"/><stop offset="0.9996" stop-color="#ff4d4d"/></linearGradient><linearGradient id="e6"><stop offset="0.0004" stop-color="#0000ff"/><stop offset="0.3400" stop-color="#0101ff"/><stop offset="0.3465" stop-color="#2222ff"/><stop offset="0.3694" stop-color="#6a6aff"/><stop offset="0.3824" stop-color="#8686ff"/><stop offset="0.4094" stop-color="#ababff"/><stop offset="0.4829" stop-color="#c4c4ff"/><stop offset="0.6176" stop-color="#e1e1ff"/><stop offset="0.6551" stop-color="#f8f8ff"/><stop offset="0.6624" stop-color="#fffdfd"/><stop offset="0.7057" stop-color="#ffb3b3"/><stop offset="0.7588" stop-color="#ff3d3d"/><stop offset="0.7898" stop-color="#ff0b0b"/><stop offset="0.8167" stop-color="#ff0000"/><stop offset="0.8494" stop-color="#ff0808"/><stop offset="0.9131" stop-color="#ff3f3f"/><stop offset="0.9914" stop-color="#ff4e4e"/><stop offset="0.9996" stop-color="#ff4e4e"/></linearGradient><linearGradient id="e7"><stop offset="0.0004" stop-color="#0000ff"/><stop offset="0.3384" stop-color="#0000ff"/><stop offset="0.3457" stop-color="#2525ff"/><stop offset="0.3718" stop-color="#7373ff"/><stop offset="0.4020" stop-color="#a4a4ff"/><stop offset="0.4322" stop-color="#b4b4ff"/><stop offset="0.4943" stop-color="#c5c5ff"/><stop offset="0.6208" stop-color="#e2e2ff"/><stop offset="0.6576" stop-color="#f9f9ff"/><stop offset="0.6641" stop-color="#fffdfd"/><stop offset="0.7065" stop-color="#ffb6b6"/><stop offset="0.7588" stop-color="#ff4444"/><stop offset="0.7898" stop-color="#ff1212"/><stop offset="0.8200" stop-color="#ff0606"/><stop offset="0.8592" stop-color="#ff1313"/><stop offset="0.9114" stop-color="#ff4040"/><stop offset="0.9906" stop-color="#ff4f4f"/><stop offset="0.9996" stop-color="#ff4f4f"/></linearGradient><linearGradient id="e8"><stop offset="0.0004" stop-color="#0000ff"/><stop offset="0.3367" stop-color="#0000ff"/><stop offset="0.3441" stop-color="#2525ff"/><stop offset="0.3694" stop-color="#7070ff"/><stop offset="0.3882" stop-color="#9292ff"/><stop offset="0.4102" stop-color="#ababff"/><stop offset="0.4861" stop-color="#c3c3ff"/><stop offset="0.6184" stop-color="#e1e1ff"/><stop offset="0.6576" stop-color="#f7f7ff"/><stop offset="0.6657" stop-color="#fffdfd"/><stop offset="0.7073" stop-color="#ffb9b9"/><stop offset="0.7596" stop-color="#ff4949"/><stop offset="0.7898" stop-color="#ff1a1a"/><stop offset="0.8192" stop-color="#ff0d0d"/><stop offset="0.8608" stop-color="#ff1a1a"/><stop offset="0.9131" stop-color="#ff4242"/><stop offset="0.9955" stop-color="#ff5050"/><stop offset="0.9996" stop-color="#ff5050"/></linearGradient><linearGradient id="e9"><stop offset="0.0004" stop-color="#0000ff"/><stop offset="0.3359" stop-color="#0303ff"/><stop offset="0.3416" stop-color="#2222ff"/><stop offset="0.3604" stop-color="#5b5bff"/><stop offset="0.3767" stop-color="#8282ff"/><stop offset="0.4069" stop-color="#a9a9ff"/><stop offset="0.4853" stop-color="#c2c2ff"/><stop offset="0.6184" stop-color="#e0e0ff"/><stop offset="0.6592" stop-color="#f6f6ff"/><stop offset="0.6682" stop-color="#fffdfd"/><stop offset="0.7073" stop-color="#ffbfbf"/><stop offset="0.7596" stop-color="#ff5151"/><stop offset="0.7898" stop-color="#ff2222"/><stop offset="0.8184" stop-color="#ff1414"/><stop offset="0.8616" stop-color="#ff2020"/><stop offset="0.9147" stop-color="#ff4545"/><stop offset="0.9996" stop-color="#ff5151"/></linearGradient><linearGradient id="e10"><stop offset="0.0004" stop-color="#0000ff"/><stop offset="0.3335" stop-color="#0000ff"/><stop offset="0.3408" stop-color="#2626ff"/><stop offset="0.3661" stop-color="#6f6fff"/><stop offset="0.3824" stop-color="#8d8dff"/><stop offset="0.4086" stop-color="#aaaaff"/><stop offset="0.4886" stop-color="#c1c1ff"/><stop offset="0.6200" stop-color="#e0e0ff"/><stop offset="0.6600" stop-color="#f4f4ff"/><stop offset="0.6706" stop-color="#fffdfd"/><stop offset="0.7082" stop-color="#ffc4c4"/><stop offset="0.7604" stop-color="#ff5757"/><stop offset="0.7898" stop-color="#ff2a2a"/><stop offset="0.8184" stop-color="#ff1c1c"/><stop offset="0.8633" stop-color="#ff2727"/><stop offset="0.9163" stop-color="#ff4747"/><stop offset="0.9996" stop-color="#ff5151"/></linearGradient><linearGradient id="e11"><stop offset="0.0004" stop-color="#0000ff"/><stop offset="0.3318" stop-color="#0000ff"/><stop offset="0.3392" stop-color="#2727ff"/><stop offset="0.3653" stop-color="#7070ff"/><stop offset="0.3833" stop-color="#9090ff"/><stop offset="0.4094" stop-color="#aaaaff"/><stop offset="0.4918" stop-color="#c0c0ff"/><stop offset="0.6233" stop-color="#e0e0ff"/><stop offset="0.6624" stop-color="#f4f4ff"/><stop offset="0.6731" stop-color="#fffdfd"/><stop offset="0.7082" stop-color="#ffcaca"/><stop offset="0.7612" stop-color="#ff5d5d"/><stop offset="0.7890" stop-color="#ff3333"/><stop offset="0.8176" stop-color="#ff2323"/><stop offset="0.8649" stop-color="#ff2e2e"/><stop offset="0.9196" stop-color="#ff4a4a"/><stop offset="0.9996" stop-color="#ff5252"/></linearGradient><linearGradient id="e12"><stop offset="0.0004" stop-color="#0000ff"/><stop offset="0.3302" stop-color="#0101ff"/><stop offset="0.3367" stop-color="#2424ff"/><stop offset="0.3555" stop-color="#5b5bff"/><stop offset="0.3735" stop-color="#8484ff"/><stop offset="0.3996" stop-color="#a3a3ff"/><stop offset="0.4502" stop-color="#b7b7ff"/><stop offset="0.5963" stop-color="#d7d7ff"/><stop offset="0.6600" stop-color="#efefff"/><stop offset="0.6763" stop-color="#fffdfd"/><stop offset="0.7082" stop-color="#ffd0d0"/><stop offset="0.7629" stop-color="#ff6262"/><stop offset="0.7890" stop-color="#ff3b3b"/><stop offset="0.8167" stop-color="#ff2a2a"/><stop offset="0.8665" stop-color="#ff3434"/><stop offset="0.9237" stop-color="#ff4d4d"/><stop offset="0.9996" stop-color="#ff5353"/></linearGradient><linearGradient id="e13"><stop offset="0.0004" stop-color="#0000ff"/><stop offset="0.3286" stop-color="#0101ff"/><stop offset="0.3351" stop-color="#2525ff"/><stop offset="0.3531" stop-color="#5858ff"/><stop offset="0.3718" stop-color="#8383ff"/><stop offset="0.3963" stop-color="#a1a1ff"/><stop offset="0.4396" stop-color="#b4b4ff"/><stop offset="0.5857" stop-color="#d3d3ff"/><stop offset="0.6616" stop-color="#eeeeff"/><stop offset="0.6796" stop-color="#fffdfd"/><stop offset="0.7082" stop-color="#ffd6d6"/><stop offset="0.7653" stop-color="#ff6565"/><stop offset="0.7898" stop-color="#ff4242"/><stop offset="0.8167" stop-color="#ff3030"/><stop offset="0.8682" stop-color="#ff3939"/><stop offset="0.9294" stop-color="#ff5050"/><stop offset="0.9996" stop-color="#ff5454"/></linearGradient><linearGradient id="e14"><stop offset="0.0004" stop-color="#0000ff"/><stop offset="0.3269" stop-color="#0101ff"/><stop offset="0.3335" stop-color="#2626ff"/><stop offset="0.3506" stop-color="#5656ff"/><stop offset="0.3702" stop-color="#8383ff"/><stop offset="0.3947" stop-color="#a1a1ff"/><stop offset="0.4404" stop-color="#b3b3ff"/><stop offset="0.5727" stop-color="#cfcfff"/><stop offset="0.6641" stop-color="#ededff"/><stop offset="0.6829" stop-color="#fffefe"/><stop offset="0.7082" stop-color="#ffdcdc"/><stop offset="0.7686" stop-color="#ff6666"/><stop offset="0.7914" stop-color="#ff4747"/><stop offset="0.8159" stop-color="#ff3636"/><stop offset="0.8698" stop-color="#ff3e3e"/><stop offset="0.9351" stop-color="#ff5353"/><stop offset="0.9996" stop-color="#ff5555"/></linearGradient><linearGradient id="e15"><stop offset="0.0004" stop-color="#0000ff"/><stop offset="0.3253" stop-color="#0101ff"/><stop offset="0.3318" stop-color="#2626ff"/><stop offset="0.3473" stop-color="#5252ff"/><stop offset="0.3694" stop-color="#8484ff"/><stop offset="0.3931" stop-color="#a0a0ff"/><stop offset="0.4412" stop-color="#b3b3ff"/><stop offset="0.5637" stop-color="#cbcbff"/><stop offset="0.6665" stop-color="#ececff"/><stop offset="0.6869" stop-color="#fffefe"/><stop offset="0.7082" stop-color="#ffe2e2"/><stop offset="0.7735" stop-color="#ff6464"/><stop offset="0.8037" stop-color="#ff4242"/><stop offset="0.8208" stop-color="#ff3b3b"/><stop offset="0.8739" stop-color="#ff4343"/><stop offset="0.9424" stop-color="#ff5555"/><stop offset="0.9996" stop-color="#ff5656"/></linearGradient><linearGradient id="e16"><stop offset="0.0004" stop-color="#0000ff"/><stop offset="0.3237" stop-color="#0101ff"/><stop offset="0.3302" stop-color="#2626ff"/><stop offset="0.3433" stop-color="#4c4cff"/><stop offset="0.3678" stop-color="#8383ff"/><stop offset="0.3922" stop-color="#a0a0ff"/><stop offset="0.4420" stop-color="#b3b3ff"/><stop offset="0.5580" stop-color="#c9c9ff"/><stop offset="0.6690" stop-color="#ebebff"/><stop offset="0.6910" stop-color="#fffefe"/><stop offset="0.7090" stop-color="#ffe5e5"/><stop offset="0.7767" stop-color="#ff6464"/><stop offset="0.8135" stop-color="#ff4040"/><stop offset="0.8739" stop-color="#ff4646"/><stop offset="0.9473" stop-color="#ff5656"/><stop offset="0.9996" stop-color="#ff5757"/></linearGradient><linearGradient id="e17"><stop offset="0.0004" stop-color="#0000ff"/><stop offset="0.3220" stop-color="#0000ff"/><stop offset="0.3294" stop-color="#2929ff"/><stop offset="0.3441" stop-color="#5151ff"/><stop offset="0.3669" stop-color="#8484ff"/><stop offset="0.3914" stop-color="#a0a0ff"/><stop offset="0.4429" stop-color="#b2b2ff"/><stop offset="0.5531" stop-color="#c7c7ff"/><stop offset="0.6706" stop-color="#eaeaff"/><stop offset="0.6951" stop-color="#fffefe"/><stop offset="0.7106" stop-color="#ffe7e7"/><stop offset="0.7784" stop-color="#ff6767"/><stop offset="0.8143" stop-color="#ff4444"/><stop offset="0.8763" stop-color="#ff4a4a"/><stop offset="0.9514" stop-color="#ff5757"/><stop offset="0.9996" stop-color="#ff5858"/></linearGradient><linearGradient id="e18"><stop offset="0.0004" stop-color="#0000ff"/><stop offset="0.3212" stop-color="#0101ff"/><stop offset="0.3269" stop-color="#2323ff"/><stop offset="0.3359" stop-color="#4040ff"/><stop offset="0.3661" stop-color="#8484ff"/><stop offset="0.3906" stop-color="#a1a1ff"/><stop offset="0.4429" stop-color="#b2b2ff"/><stop offset="0.5498" stop-color="#c5c5ff"/><stop offset="0.6714" stop-color="#e8e8ff"/><stop offset="0.6992" stop-color="#fffdfd"/><stop offset="0.7310" stop-color="#ffc3c3"/><stop offset="0.7808" stop-color="#ff6868"/><stop offset="0.8143" stop-color="#ff4747"/><stop offset="0.8796" stop-color="#ff4d4d"/><stop offset="0.9547" stop-color="#ff5858"/><stop offset="0.9996" stop-color="#ff5858"/></linearGradient><linearGradient id="e19"><stop offset="0.0004" stop-color="#0000ff"/><stop offset="0.3204" stop-color="#0101ff"/><stop offset="0.3261" stop-color="#2424ff"/><stop offset="0.3351" stop-color="#4141ff"/><stop offset="0.3653" stop-color="#8484ff"/><stop offset="0.3898" stop-color="#a1a1ff"/><stop offset="0.4429" stop-color="#b2b2ff"/><stop offset="0.5482" stop-color="#c4c4ff"/><stop offset="0.6722" stop-color="#e7e7ff"/><stop offset="0.7016" stop-color="#fffefe"/><stop offset="0.7808" stop-color="#ff6c6c"/><stop offset="0.8143" stop-color="#ff4a4a"/><stop offset="0.8812" stop-color="#ff4f4f"/><stop offset="0.9571" stop-color="#ff5959"/><stop offset="0.9996" stop-color="#ff5959"/></linearGradient><linearGradient id="e20"><stop offset="0.0004" stop-color="#0000ff"/><stop offset="0.3196" stop-color="#0000ff"/><stop offset="0.3253" stop-color="#2323ff"/><stop offset="0.3335" stop-color="#3f3fff"/><stop offset="0.3653" stop-color="#8585ff"/><stop offset="0.3898" stop-color="#a1a1ff"/><stop offset="0.4437" stop-color="#b2b2ff"/><stop offset="0.5473" stop-color="#c3c3ff"/><stop offset="0.6722" stop-color="#e6e6ff"/><stop offset="0.7033" stop-color="#fffefe"/><stop offset="0.7808" stop-color="#ff7272"/><stop offset="0.8143" stop-color="#ff4f4f"/><stop offset="0.8796" stop-color="#ff5151"/><stop offset="0.9604" stop-color="#ff5a5a"/><stop offset="0.9996" stop-color="#ff5a5a"/></linearGradient><linearGradient id="e21"><stop offset="0.0004" stop-color="#0000ff"/><stop offset="0.3188" stop-color="#0000ff"/><stop offset="0.3261" stop-color="#2a2aff"/><stop offset="0.3359" stop-color="#4646ff"/><stop offset="0.3645" stop-color="#8484ff"/><stop offset="0.3898" stop-color="#a1a1ff"/><stop offset="0.4429" stop-color="#b2b2ff"/><stop offset="0.5482" stop-color="#c3c3ff"/><stop offset="0.6731" stop-color="#e6e6ff"/><stop offset="0.7049" stop-color="#fffdfd"/><stop offset="0.7808" stop-color="#ff7979"/><stop offset="0.8151" stop-color="#ff5555"/><stop offset="0.8698" stop-color="#ff5252"/><stop offset="0.9669" stop-color="#ff5b5b"/><stop offset="0.9996" stop-color="#ff5b5b"/></linearGradient><linearGradient id="e22"><stop offset="0.0004" stop-color="#0000ff"/><stop offset="0.3188" stop-color="#0202ff"/><stop offset="0.3237" stop-color="#2121ff"/><stop offset="0.3318" stop-color="#3f3fff"/><stop offset="0.3645" stop-color="#8585ff"/><stop offset="0.3898" stop-color="#a1a1ff"/><stop offset="0.4429" stop-color="#b2b2ff"/><stop offset="0.5498" stop-color="#c3c3ff"/><stop offset="0.6731" stop-color="#e6e6ff"/><stop offset="0.7057" stop-color="#fffefe"/><stop offset="0.7816" stop-color="#ff8282"/><stop offset="0.8167" stop-color="#ff5d5d"/><stop offset="0.8559" stop-color="#ff5555"/><stop offset="0.9922" stop-color="#ff5c5c"/><stop offset="0.9996" stop-color="#ff5c5c"/></linearGradient><linearGradient id="e23"><stop offset="0.0004" stop-color="#0000ff"/><stop offset="0.3180" stop-color="#0101ff"/><stop offset="0.3229" stop-color="#2020ff"/><stop offset="0.3310" stop-color="#3f3fff"/><stop offset="0.3637" stop-color="#8585ff"/><stop offset="0.3898" stop-color="#a1a1ff"/><stop offset="0.4420" stop-color="#b1b1ff"/><stop offset="0.5514" stop-color="#c3c3ff"/><stop offset="0.6739" stop-color="#e6e6ff"/><stop offset="0.7073" stop-color="#fffefe"/><stop offset="0.7637" stop-color="#ffa6a6"/><stop offset="0.7857" stop-color="#ff8888"/><stop offset="0.8184" stop-color="#ff6565"/><stop offset="0.8469" stop-color="#ff5a5a"/><stop offset="0.9996" stop-color="#ff5d5d"/></linearGradient><linearGradient id="e24"><stop offset="0.0004" stop-color="#0000ff"/><stop offset="0.3171" stop-color="#0000ff"/><stop offset="0.3229" stop-color="#2424ff"/><stop offset="0.3302" stop-color="#3f3fff"/><stop offset="0.3629" stop-color="#8484ff"/><stop offset="0.3898" stop-color="#a2a2ff"/><stop offset="0.4404" stop-color="#b1b1ff"/><stop offset="0.5531" stop-color="#c2c2ff"/><stop offset="0.6747" stop-color="#e6e6ff"/><stop offset="0.7098" stop-color="#fffdfd"/><stop offset="0.7465" stop-color="#ffcaca"/><stop offset="0.7833" stop-color="#ff9696"/><stop offset="0.8233" stop-color="#ff6a6a"/><stop offset="0.8453" stop-color="#ff5f5f"/><stop offset="0.9996" stop-color="#ff5e5e"/></linearGradient><linearGradient id="e25"><stop offset="0.0004" stop-color="#0000ff"/><stop offset="0.3163" stop-color="#0000ff"/><stop offset="0.3229" stop-color="#2727ff"/><stop offset="0.3302" stop-color="#4242ff"/><stop offset="0.3629" stop-color="#8585ff"/><stop offset="0.3890" stop-color="#a1a1ff"/><stop offset="0.4396" stop-color="#b1b1ff"/><stop offset="0.5555" stop-color="#c2c2ff"/><stop offset="0.6698" stop-color="#e3e3ff"/><stop offset="0.7131" stop-color="#fffdfd"/><stop offset="0.7408" stop-color="#ffdada"/><stop offset="0.7580" stop-color="#ffbfbf"/><stop offset="0.8069" stop-color="#ff8585"/><stop offset="0.8388" stop-color="#ff6666"/><stop offset="0.9286" stop-color="#ff5f5f"/><stop offset="0.9996" stop-color="#ff6060"/></linearGradient><linearGradient id="e26"><stop offset="0.0004" stop-color="#0000ff"/><stop offset="0.3155" stop-color="#0000ff"/><stop offset="0.3237" stop-color="#2e2eff"/><stop offset="0.3318" stop-color="#4848ff"/><stop offset="0.3629" stop-color="#8686ff"/><stop offset="0.3890" stop-color="#a1a1ff"/><stop offset="0.4388" stop-color="#b1b1ff"/><stop offset="0.5588" stop-color="#c2c2ff"/><stop offset="0.6567" stop-color="#dedeff"/><stop offset="0.7171" stop-color="#fffdfd"/><stop offset="0.7384" stop-color="#ffe5e5"/><stop offset="0.7539" stop-color="#ffc6c6"/><stop offset="0.7971" stop-color="#ff9f9f"/><stop offset="0.8355" stop-color="#ff6d6d"/><stop offset="0.9237" stop-color="#ff6060"/><stop offset="0.9996" stop-color="#ff6161"/></linearGradient><linearGradient id="e27"><stop offset="0.0004" stop-color="#0000ff"/><stop offset="0.3155" stop-color="#0202ff"/><stop offset="0.3204" stop-color="#2121ff"/><stop offset="0.3286" stop-color="#4242ff"/><stop offset="0.3620" stop-color="#8686ff"/><stop offset="0.3890" stop-color="#a2a2ff"/><stop offset="0.4380" stop-color="#b1b1ff"/><stop offset="0.5612" stop-color="#c2c2ff"/><stop offset="0.6445" stop-color="#d9d9ff"/><stop offset="0.7229" stop-color="#fffdfd"/><stop offset="0.7384" stop-color="#ffebeb"/><stop offset="0.7531" stop-color="#ffc6c6"/><stop offset="0.7767" stop-color="#ffbcbc"/><stop offset="0.8012" stop-color="#ffa3a3"/><stop offset="0.8380" stop-color="#ff7070"/><stop offset="0.9229" stop-color="#ff6262"/><stop offset="0.9996" stop-color="#ff6262"/></linearGradient><linearGradient id="e28"><stop offset="0.0004" stop-color="#0000ff"/><stop offset="0.3147" stop-color="#0000ff"/><stop offset="0.3204" stop-color="#2424ff"/><stop offset="0.3278" stop-color="#4242ff"/><stop offset="0.3612" stop-color="#8686ff"/><stop offset="0.3890" stop-color="#a2a2ff"/><stop offset="0.4371" stop-color="#b1b1ff"/><stop offset="0.5645" stop-color="#c2c2ff"/><stop offset="0.6396" stop-color="#d6d6ff"/><stop offset="0.7294" stop-color="#fffdfd"/><stop offset="0.7408" stop-color="#ffebeb"/><stop offset="0.7531" stop-color="#ffc4c4"/><stop offset="0.7620" stop-color="#ffc4c4"/><stop offset="0.7767" stop-color="#ffc4c4"/><stop offset="0.7996" stop-color="#ffaeae"/><stop offset="0.8371" stop-color="#ff7575"/><stop offset="0.9212" stop-color="#ff6363"/><stop offset="0.9996" stop-color="#ff6363"/></linearGradient><linearGradient id="e29"><stop offset="0.0004" stop-color="#0000ff"/><stop offset="0.3139" stop-color="#0000ff"/><stop offset="0.3229" stop-color="#3232ff"/><stop offset="0.3310" stop-color="#4b4bff"/><stop offset="0.3612" stop-color="#8686ff"/><stop offset="0.3890" stop-color="#a2a2ff"/><stop offset="0.4371" stop-color="#b1b1ff"/><stop offset="0.5678" stop-color="#c2c2ff"/><stop offset="0.6363" stop-color="#d4d4ff"/><stop offset="0.7343" stop-color="#fffdfd"/><stop offset="0.7433" stop-color="#ffeaea"/><stop offset="0.7539" stop-color="#ffc4c4"/><stop offset="0.7612" stop-color="#ffc2c2"/><stop offset="0.7759" stop-color="#ffc9c9"/><stop offset="0.7988" stop-color="#ffb5b5"/><stop offset="0.8371" stop-color="#ff7878"/><stop offset="0.9204" stop-color="#ff6464"/><stop offset="0.9996" stop-color="#ff6464"/></linearGradient><linearGradient id="e30"><stop offset="0.0004" stop-color="#0000ff"/><stop offset="0.3139" stop-color="#0000ff"/><stop offset="0.3196" stop-color="#2424ff"/><stop offset="0.3278" stop-color="#4545ff"/><stop offset="0.3612" stop-color="#8686ff"/><stop offset="0.3890" stop-color="#a2a2ff"/><stop offset="0.4371" stop-color="#b1b1ff"/><stop offset="0.5710" stop-color="#c2c2ff"/><stop offset="0.6347" stop-color="#d2d2ff"/><stop offset="0.7376" stop-color="#fffcfc"/><stop offset="0.7457" stop-color="#ffe7e7"/><stop offset="0.7555" stop-color="#ffc6c6"/><stop offset="0.7637" stop-color="#ffc4c4"/><stop offset="0.7784" stop-color="#ffcaca"/><stop offset="0.7996" stop-color="#ffb7b7"/><stop offset="0.8371" stop-color="#ff7a7a"/><stop offset="0.9196" stop-color="#ff6565"/><stop offset="0.9996" stop-color="#ff6565"/></linearGradient><linearGradient id="e31"><stop offset="0.0004" stop-color="#0000ff"/><stop offset="0.3139" stop-color="#0101ff"/><stop offset="0.3188" stop-color="#2121ff"/><stop offset="0.3269" stop-color="#4444ff"/><stop offset="0.3604" stop-color="#8686ff"/><stop offset="0.3898" stop-color="#a2a2ff"/><stop offset="0.4380" stop-color="#b1b1ff"/><stop offset="0.5759" stop-color="#c2c2ff"/><stop offset="0.6339" stop-color="#d1d1ff"/><stop offset="0.7392" stop-color="#fffdfd"/><stop offset="0.7482" stop-color="#ffe6e6"/><stop offset="0.7580" stop-color="#ffcaca"/><stop offset="0.7702" stop-color="#ffcaca"/><stop offset="0.7857" stop-color="#ffc6c6"/><stop offset="0.8029" stop-color="#ffb2b2"/><stop offset="0.8380" stop-color="#ff7b7b"/><stop offset="0.9204" stop-color="#ff6767"/><stop offset="0.9996" stop-color="#ff6767"/></linearGradient><linearGradient id="e32"><stop offset="0.0004" stop-color="#0000ff"/><stop offset="0.3131" stop-color="#0000ff"/><stop offset="0.3204" stop-color="#2b2bff"/><stop offset="0.3278" stop-color="#4747ff"/><stop offset="0.3612" stop-color="#8787ff"/><stop offset="0.3898" stop-color="#a2a2ff"/><stop offset="0.4396" stop-color="#b1b1ff"/><stop offset="0.5824" stop-color="#c2c2ff"/><stop offset="0.6331" stop-color="#d0d0ff"/><stop offset="0.7408" stop-color="#fffdfd"/><stop offset="0.7604" stop-color="#ffd0d0"/><stop offset="0.7890" stop-color="#ffc4c4"/><stop offset="0.8102" stop-color="#ffa7a7"/><stop offset="0.8380" stop-color="#ff7d7d"/><stop offset="0.9204" stop-color="#ff6868"/><stop offset="0.9996" stop-color="#ff6868"/></linearGradient><linearGradient id="e33"><stop offset="0.0004" stop-color="#0000ff"/><stop offset="0.3131" stop-color="#0101ff"/><stop offset="0.3180" stop-color="#2121ff"/><stop offset="0.3261" stop-color="#4545ff"/><stop offset="0.3604" stop-color="#8686ff"/><stop offset="0.3906" stop-color="#a3a3ff"/><stop offset="0.4412" stop-color="#b1b1ff"/><stop offset="0.5931" stop-color="#c3c3ff"/><stop offset="0.6339" stop-color="#cfcfff"/><stop offset="0.7424" stop-color="#fffdfd"/><stop offset="0.7645" stop-color="#ffd4d4"/><stop offset="0.7971" stop-color="#ffbcbc"/><stop offset="0.8380" stop-color="#ff7f7f"/><stop offset="0.9204" stop-color="#ff6a6a"/><stop offset="0.9996" stop-color="#ff6a6a"/></linearGradient><linearGradient id="e34"><stop offset="0.0004" stop-color="#0000ff"/><stop offset="0.3122" stop-color="#0000ff"/><stop offset="0.3204" stop-color="#2f2fff"/><stop offset="0.3278" stop-color="#4a4aff"/><stop offset="0.3604" stop-color="#8686ff"/><stop offset="0.3914" stop-color="#a3a3ff"/><stop offset="0.4445" stop-color="#b1b1ff"/><stop offset="0.6102" stop-color="#c4c4ff"/><stop offset="0.7441" stop-color="#fffdfd"/><stop offset="0.7702" stop-color="#ffd3d3"/><stop offset="0.8004" stop-color="#ffb7b7"/><stop offset="0.8380" stop-color="#ff8181"/><stop offset="0.9204" stop-color="#ff6c6c"/><stop offset="0.9996" stop-color="#ff6c6c"/></linearGradient><linearGradient id="e35"><stop offset="0.0004" stop-color="#0000ff"/><stop offset="0.3122" stop-color="#0101ff"/><stop offset="0.3171" stop-color="#2121ff"/><stop offset="0.3253" stop-color="#4646ff"/><stop offset="0.3596" stop-color="#8686ff"/><stop offset="0.3922" stop-color="#a4a4ff"/><stop offset="0.4478" stop-color="#b1b1ff"/><stop offset="0.6192" stop-color="#c4c4ff"/><stop offset="0.7082" stop-color="#eeeeff"/><stop offset="0.7449" stop-color="#fffdfd"/><stop offset="0.7759" stop-color="#ffd0d0"/><stop offset="0.8045" stop-color="#ffb1b1"/><stop offset="0.8388" stop-color="#ff8383"/><stop offset="0.9204" stop-color="#ff6f6f"/><stop offset="0.9996" stop-color="#ff6f6f"/></linearGradient><linearGradient id="e36"><stop offset="0.0004" stop-color="#0000ff"/><stop offset="0.3114" stop-color="#0000ff"/><stop offset="0.3188" stop-color="#2c2cff"/><stop offset="0.3261" stop-color="#4a4aff"/><stop offset="0.3596" stop-color="#8686ff"/><stop offset="0.3931" stop-color="#a4a4ff"/><stop offset="0.4527" stop-color="#b1b1ff"/><stop offset="0.6216" stop-color="#c3c3ff"/><stop offset="0.6992" stop-color="#eaeaff"/><stop offset="0.7457" stop-color="#fffdfd"/><stop offset="0.7808" stop-color="#ffcccc"/><stop offset="0.8094" stop-color="#ffabab"/><stop offset="0.8388" stop-color="#ff8585"/><stop offset="0.9204" stop-color="#ff7171"/><stop offset="0.9996" stop-color="#ff7171"/></linearGradient><linearGradient id="e37"><stop offset="0.0004" stop-color="#0000ff"/><stop offset="0.3114" stop-color="#0202ff"/><stop offset="0.3163" stop-color="#2222ff"/><stop offset="0.3253" stop-color="#4a4aff"/><stop offset="0.3596" stop-color="#8686ff"/><stop offset="0.3939" stop-color="#a5a5ff"/><stop offset="0.4584" stop-color="#b1b1ff"/><stop offset="0.6241" stop-color="#c3c3ff"/><stop offset="0.6943" stop-color="#e7e7ff"/><stop offset="0.7465" stop-color="#fffdfd"/><stop offset="0.7849" stop-color="#ffc8c8"/><stop offset="0.8396" stop-color="#ff8787"/><stop offset="0.9204" stop-color="#ff7474"/><stop offset="0.9996" stop-color="#ff7474"/></linearGradient><linearGradient id="e38"><stop offset="0.0004" stop-color="#0000ff"/><stop offset="0.3106" stop-color="#0000ff"/><stop offset="0.3163" stop-color="#2525ff"/><stop offset="0.3245" stop-color="#4949ff"/><stop offset="0.3588" stop-color="#8686ff"/><stop offset="0.3947" stop-color="#a5a5ff"/><stop offset="0.4649" stop-color="#b1b1ff"/><stop offset="0.6241" stop-color="#c1c1ff"/><stop offset="0.6894" stop-color="#e4e4ff"/><stop offset="0.7433" stop-color="#fdfdff"/><stop offset="0.7514" stop-color="#fff7f7"/><stop offset="0.7865" stop-color="#ffc6c6"/><stop offset="0.8396" stop-color="#ff8a8a"/><stop offset="0.9204" stop-color="#ff7676"/><stop offset="0.9996" stop-color="#ff7676"/></linearGradient><linearGradient id="e39"><stop offset="0.0004" stop-color="#0000ff"/><stop offset="0.3106" stop-color="#0303ff"/><stop offset="0.3163" stop-color="#2727ff"/><stop offset="0.3245" stop-color="#4b4bff"/><stop offset="0.3588" stop-color="#8686ff"/><stop offset="0.3955" stop-color="#a6a6ff"/><stop offset="0.4698" stop-color="#b1b1ff"/><stop offset="0.6241" stop-color="#bfbfff"/><stop offset="0.6853" stop-color="#e2e2ff"/><stop offset="0.7416" stop-color="#fbfbff"/><stop offset="0.7482" stop-color="#fffcfc"/><stop offset="0.7882" stop-color="#ffc4c4"/><stop offset="0.8404" stop-color="#ff8c8c"/><stop offset="0.9204" stop-color="#ff7979"/><stop offset="0.9996" stop-color="#ff7979"/></linearGradient><linearGradient id="e40"><stop offset="0.0004" stop-color="#0000ff"/><stop offset="0.3098" stop-color="#0000ff"/><stop offset="0.3155" stop-color="#2525ff"/><stop offset="0.3237" stop-color="#4b4bff"/><stop offset="0.3588" stop-color="#8686ff"/><stop offset="0.3963" stop-color="#a6a6ff"/><stop offset="0.4714" stop-color="#b1b1ff"/><stop offset="0.6233" stop-color="#bdbdff"/><stop offset="0.6829" stop-color="#e0e0ff"/><stop offset="0.7400" stop-color="#fafaff"/><stop offset="0.7482" stop-color="#fffdfd"/><stop offset="0.7898" stop-color="#ffc3c3"/><stop offset="0.8404" stop-color="#ff8e8e"/><stop offset="0.9204" stop-color="#ff7b7b"/><stop offset="0.9996" stop-color="#ff7b7b"/></linearGradient><linearGradient id="e41"><stop offset="0.0004" stop-color="#0000ff"/><stop offset="0.3098" stop-color="#0303ff"/><stop offset="0.3155" stop-color="#2727ff"/><stop offset="0.3237" stop-color="#4d4dff"/><stop offset="0.3588" stop-color="#8686ff"/><stop offset="0.3963" stop-color="#a6a6ff"/><stop offset="0.4722" stop-color="#b1b1ff"/><stop offset="0.6233" stop-color="#bbbbff"/><stop offset="0.6812" stop-color="#dedeff"/><stop offset="0.7384" stop-color="#f8f8ff"/><stop offset="0.7490" stop-color="#fffdfd"/><stop offset="0.7898" stop-color="#ffc3c3"/><stop offset="0.8412" stop-color="#ff9090"/><stop offset="0.9212" stop-color="#ff7d7d"/><stop offset="0.9996" stop-color="#ff7d7d"/></linearGradient><linearGradient id="e42"><stop offset="0.0004" stop-color="#0000ff"/><stop offset="0.3090" stop-color="#0000ff"/><stop offset="0.3147" stop-color="#2525ff"/><stop offset="0.3237" stop-color="#4e4eff"/><stop offset="0.3580" stop-color="#8686ff"/><stop offset="0.3971" stop-color="#a7a7ff"/><stop offset="0.4739" stop-color="#b1b1ff"/><stop offset="0.6233" stop-color="#babaff"/><stop offset="0.6796" stop-color="#ddddff"/><stop offset="0.7367" stop-color="#f7f7ff"/><stop offset="0.7490" stop-color="#fffefe"/><stop offset="0.7898" stop-color="#ffc3c3"/><stop offset="0.8412" stop-color="#ff9191"/><stop offset="0.9212" stop-color="#ff7f7f"/><stop offset="0.9996" stop-color="#ff7f7f"/></linearGradient><linearGradient id="e43"><stop offset="0.0004" stop-color="#0000ff"/><stop offset="0.3090" stop-color="#0101ff"/><stop offset="0.3139" stop-color="#2222ff"/><stop offset="0.3229" stop-color="#4d4dff"/><stop offset="0.3580" stop-color="#8686ff"/><stop offset="0.3971" stop-color="#a7a7ff"/><stop offset="0.4739" stop-color="#b0b0ff"/><stop offset="0.6224" stop-color="#b8b8ff"/><stop offset="0.6788" stop-color="#dcdcff"/><stop offset="0.7351" stop-color="#f5f5ff"/><stop offset="0.7498" stop-color="#fffdfd"/><stop offset="0.7898" stop-color="#ffc3c3"/><stop offset="0.8412" stop-color="#ff9393"/><stop offset="0.9212" stop-color="#ff8080"/><stop offset="0.9996" stop-color="#ff8080"/></linearGradient><linearGradient id="e44"><stop offset="0.0004" stop-color="#0000ff"/><stop offset="0.3082" stop-color="#0000ff"/><stop offset="0.3188" stop-color="#3d3dff"/><stop offset="0.3253" stop-color="#5454ff"/><stop offset="0.3588" stop-color="#8787ff"/><stop offset="0.3971" stop-color="#a7a7ff"/><stop offset="0.4739" stop-color="#b0b0ff"/><stop offset="0.6224" stop-color="#b7b7ff"/><stop offset="0.6788" stop-color="#dbdbff"/><stop offset="0.7343" stop-color="#f4f4ff"/><stop offset="0.7498" stop-color="#fffdfd"/><stop offset="0.7906" stop-color="#ffc2c2"/><stop offset="0.8420" stop-color="#ff9494"/><stop offset="0.9212" stop-color="#ff8181"/><stop offset="0.9996" stop-color="#ff8181"/></linearGradient><linearGradient id="e45"><stop offset="0.0004" stop-color="#0000ff"/><stop offset="0.3082" stop-color="#0000ff"/><stop offset="0.3180" stop-color="#3939ff"/><stop offset="0.3245" stop-color="#5252ff"/><stop offset="0.3588" stop-color="#8787ff"/><stop offset="0.3971" stop-color="#a6a6ff"/><stop offset="0.4747" stop-color="#b0b0ff"/><stop offset="0.6224" stop-color="#b7b7ff"/><stop offset="0.6788" stop-color="#dadaff"/><stop offset="0.7335" stop-color="#f3f3ff"/><stop offset="0.7498" stop-color="#fffdfd"/><stop offset="0.7906" stop-color="#ffc2c2"/><stop offset="0.8420" stop-color="#ff9595"/><stop offset="0.9212" stop-color="#ff8282"/><stop offset="0.9996" stop-color="#ff8282"/></linearGradient><linearGradient id="e46"><stop offset="0.0004" stop-color="#0000ff"/><stop offset="0.3082" stop-color="#0000ff"/><stop offset="0.3188" stop-color="#3d3dff"/><stop offset="0.3253" stop-color="#5454ff"/><stop offset="0.3588" stop-color="#8787ff"/><stop offset="0.3971" stop-color="#a6a6ff"/><stop offset="0.4747" stop-color="#afafff"/><stop offset="0.6233" stop-color="#b7b7ff"/><stop offset="0.6796" stop-color="#dadaff"/><stop offset="0.7327" stop-color="#f2f2ff"/><stop offset="0.7498" stop-color="#fffdfd"/><stop offset="0.7906" stop-color="#ffc2c2"/><stop offset="0.8420" stop-color="#ff9595"/><stop offset="0.9212" stop-color="#ff8383"/><stop offset="0.9996" stop-color="#ff8383"/></linearGradient><linearGradient id="e47"><stop offset="0.0004" stop-color="#0000ff"/><stop offset="0.3090" stop-color="#0202ff"/><stop offset="0.3139" stop-color="#2323ff"/><stop offset="0.3229" stop-color="#4e4eff"/><stop offset="0.3563" stop-color="#8484ff"/><stop offset="0.3971" stop-color="#a5a5ff"/><stop offset="0.4755" stop-color="#afafff"/><stop offset="0.6233" stop-color="#b7b7ff"/><stop offset="0.6812" stop-color="#d9d9ff"/><stop offset="0.7318" stop-color="#f1f1ff"/><stop offset="0.7490" stop-color="#fffefe"/><stop offset="0.7914" stop-color="#ffc1c1"/><stop offset="0.8420" stop-color="#ff9595"/><stop offset="0.9212" stop-color="#ff8484"/><stop offset="0.9996" stop-color="#ff8484"/></linearGradient><linearGradient id="e48"><stop offset="0.0004" stop-color="#0000ff"/><stop offset="0.3090" stop-color="#0000ff"/><stop offset="0.3139" stop-color="#2222ff"/><stop offset="0.3237" stop-color="#5050ff"/><stop offset="0.3571" stop-color="#8585ff"/><stop offset="0.3980" stop-color="#a4a4ff"/><stop offset="0.4763" stop-color="#aeaeff"/><stop offset="0.6233" stop-color="#b6b6ff"/><stop offset="0.6845" stop-color="#d8d8ff"/><stop offset="0.7318" stop-color="#f1f1ff"/><stop offset="0.7490" stop-color="#fffdfd"/><stop offset="0.7914" stop-color="#ffc1c1"/><stop offset="0.8420" stop-color="#ff9696"/><stop offset="0.9180" stop-color="#ff8585"/><stop offset="0.9996" stop-color="#ff8585"/></linearGradient><linearGradient id="e49"><stop offset="0.0004" stop-color="#0000ff"/><stop offset="0.3090" stop-color="#0000ff"/><stop offset="0.3139" stop-color="#2121ff"/><stop offset="0.3237" stop-color="#4f4fff"/><stop offset="0.3571" stop-color="#8585ff"/><stop offset="0.3980" stop-color="#a3a3ff"/><stop offset="0.4771" stop-color="#adadff"/><stop offset="0.6241" stop-color="#b7b7ff"/><stop offset="0.7302" stop-color="#efefff"/><stop offset="0.7482" stop-color="#fffefe"/><stop offset="0.7931" stop-color="#ffc0c0"/><stop offset="0.8404" stop-color="#ff9797"/><stop offset="0.9090" stop-color="#ff8686"/><stop offset="0.9996" stop-color="#ff8686"/></linearGradient><linearGradient id="e50"><stop offset="0.0004" stop-color="#0000ff"/><stop offset="0.3090" stop-color="#0000ff"/><stop offset="0.3155" stop-color="#2929ff"/><stop offset="0.3237" stop-color="#4f4fff"/><stop offset="0.3563" stop-color="#8484ff"/><stop offset="0.3980" stop-color="#a2a2ff"/><stop offset="0.4780" stop-color="#adadff"/><stop offset="0.6241" stop-color="#b6b6ff"/><stop offset="0.7294" stop-color="#eeeeff"/><stop offset="0.7473" stop-color="#fffefe"/><stop offset="0.7939" stop-color="#ffbfbf"/><stop offset="0.8380" stop-color="#ff9999"/><stop offset="0.8918" stop-color="#ff8989"/><stop offset="0.9996" stop-color="#ff8787"/></linearGradient><linearGradient id="e51"><stop offset="0.0004" stop-color="#0000ff"/><stop offset="0.3090" stop-color="#0000ff"/><stop offset="0.3180" stop-color="#3535ff"/><stop offset="0.3253" stop-color="#5353ff"/><stop offset="0.3571" stop-color="#8585ff"/><stop offset="0.3988" stop-color="#a1a1ff"/><stop offset="0.4796" stop-color="#acacff"/><stop offset="0.6249" stop-color="#b6b6ff"/><stop offset="0.7278" stop-color="#ebebff"/><stop offset="0.7473" stop-color="#fffdfd"/><stop offset="0.7947" stop-color="#ffbebe"/><stop offset="0.8339" stop-color="#ff9c9c"/><stop offset="0.8820" stop-color="#ff8b8b"/><stop offset="0.9996" stop-color="#ff8888"/></linearGradient><linearGradient id="e52"><stop offset="0.0004" stop-color="#0000ff"/><stop offset="0.3098" stop-color="#0303ff"/><stop offset="0.3155" stop-color="#2727ff"/><stop offset="0.3245" stop-color="#5151ff"/><stop offset="0.3563" stop-color="#8484ff"/><stop offset="0.3988" stop-color="#a0a0ff"/><stop offset="0.4804" stop-color="#ababff"/><stop offset="0.6257" stop-color="#b6b6ff"/><stop offset="0.7253" stop-color="#e8e8ff"/><stop offset="0.7465" stop-color="#fffefe"/><stop offset="0.7963" stop-color="#ffbcbc"/><stop offset="0.8306" stop-color="#ff9e9e"/><stop offset="0.8780" stop-color="#ff8c8c"/><stop offset="0.9996" stop-color="#ff8888"/></linearGradient><linearGradient id="e53"><stop offset="0.0004" stop-color="#0000ff"/><stop offset="0.3098" stop-color="#0101ff"/><stop offset="0.3147" stop-color="#2222ff"/><stop offset="0.3245" stop-color="#5050ff"/><stop offset="0.3563" stop-color="#8484ff"/><stop offset="0.3996" stop-color="#a0a0ff"/><stop offset="0.4820" stop-color="#ababff"/><stop offset="0.6265" stop-color="#b6b6ff"/><stop offset="0.7212" stop-color="#e3e3ff"/><stop offset="0.7465" stop-color="#fffefe"/><stop offset="0.7963" stop-color="#ffbcbc"/><stop offset="0.8257" stop-color="#ffa2a2"/><stop offset="0.8755" stop-color="#ff8c8c"/><stop offset="0.9996" stop-color="#ff8989"/></linearGradient><linearGradient id="e54"><stop offset="0.0004" stop-color="#0000ff"/><stop offset="0.3098" stop-color="#0000ff"/><stop offset="0.3147" stop-color="#2121ff"/><stop offset="0.3245" stop-color="#5050ff"/><stop offset="0.3563" stop-color="#8484ff"/><stop offset="0.3996" stop-color="#9f9fff"/><stop offset="0.4837" stop-color="#aaaaff"/><stop offset="0.6273" stop-color="#b6b6ff"/><stop offset="0.7090" stop-color="#dbdbff"/><stop offset="0.7310" stop-color="#ededff"/><stop offset="0.7457" stop-color="#fffefe"/><stop offset="0.7955" stop-color="#ffbdbd"/><stop offset="0.8233" stop-color="#ffa4a4"/><stop offset="0.8747" stop-color="#ff8c8c"/><stop offset="0.9996" stop-color="#ff8a8a"/></linearGradient><linearGradient id="e55"><stop offset="0.0004" stop-color="#0000ff"/><stop offset="0.3098" stop-color="#0000ff"/><stop offset="0.3155" stop-color="#2525ff"/><stop offset="0.3253" stop-color="#5252ff"/><stop offset="0.3563" stop-color="#8484ff"/><stop offset="0.4004" stop-color="#9e9eff"/><stop offset="0.4853" stop-color="#aaaaff"/><stop offset="0.6290" stop-color="#b7b7ff"/><stop offset="0.7024" stop-color="#d6d6ff"/><stop offset="0.7294" stop-color="#ebebff"/><stop offset="0.7457" stop-color="#fffefe"/><stop offset="0.7939" stop-color="#ffbfbf"/><stop offset="0.8208" stop-color="#ffa5a5"/><stop offset="0.8747" stop-color="#ff8c8c"/><stop offset="0.9996" stop-color="#ff8b8b"/></linearGradient><linearGradient id="e56"><stop offset="0.0004" stop-color="#0000ff"/><stop offset="0.3098" stop-color="#0000ff"/><stop offset="0.3171" stop-color="#2d2dff"/><stop offset="0.3253" stop-color="#5252ff"/><stop offset="0.3563" stop-color="#8484ff"/><stop offset="0.4012" stop-color="#9e9eff"/><stop offset="0.4869" stop-color="#a9a9ff"/><stop offset="0.6298" stop-color="#b7b7ff"/><stop offset="0.6992" stop-color="#d3d3ff"/><stop offset="0.7286" stop-color="#e9e9ff"/><stop offset="0.7457" stop-color="#fffefe"/><stop offset="0.7931" stop-color="#ffc0c0"/><stop offset="0.8200" stop-color="#ffa6a6"/><stop offset="0.8747" stop-color="#ff8c8c"/><stop offset="0.9996" stop-color="#ff8c8c"/></linearGradient><linearGradient id="e57"><stop offset="0.0004" stop-color="#0000ff"/><stop offset="0.3098" stop-color="#0000ff"/><stop offset="0.3204" stop-color="#3c3cff"/><stop offset="0.3269" stop-color="#5555ff"/><stop offset="0.3571" stop-color="#8484ff"/><stop offset="0.4012" stop-color="#9d9dff"/><stop offset="0.4861" stop-color="#a9a9ff"/><stop offset="0.6306" stop-color="#b7b7ff"/><stop offset="0.6976" stop-color="#d2d2ff"/><stop offset="0.7286" stop-color="#e9e9ff"/><stop offset="0.7457" stop-color="#fffdfd"/><stop offset="0.7922" stop-color="#ffc0c0"/><stop offset="0.8192" stop-color="#ffa6a6"/><stop offset="0.8739" stop-color="#ff8c8c"/><stop offset="0.9996" stop-color="#ff8c8c"/></linearGradient><linearGradient id="e58"><stop offset="0.0004" stop-color="#0000ff"/><stop offset="0.3106" stop-color="#0000ff"/><stop offset="0.3163" stop-color="#2525ff"/><stop offset="0.3261" stop-color="#5252ff"/><stop offset="0.3563" stop-color="#8383ff"/><stop offset="0.4012" stop-color="#9d9dff"/><stop offset="0.4853" stop-color="#a9a9ff"/><stop offset="0.6306" stop-color="#b6b6ff"/><stop offset="0.6976" stop-color="#d1d1ff"/><stop offset="0.7278" stop-color="#e8e8ff"/><stop offset="0.7457" stop-color="#fffdfd"/><stop offset="0.7914" stop-color="#ffc1c1"/><stop offset="0.8192" stop-color="#ffa6a6"/><stop offset="0.8747" stop-color="#ff8c8c"/><stop offset="0.9996" stop-color="#ff8c8c"/></linearGradient><linearGradient id="e59"><stop offset="0.0004" stop-color="#0000ff"/><stop offset="0.3114" stop-color="#0202ff"/><stop offset="0.3163" stop-color="#2222ff"/><stop offset="0.3261" stop-color="#5050ff"/><stop offset="0.3563" stop-color="#8383ff"/><stop offset="0.4012" stop-color="#9c9cff"/><stop offset="0.4837" stop-color="#a8a8ff"/><stop offset="0.6306" stop-color="#b6b6ff"/><stop offset="0.6976" stop-color="#d1d1ff"/><stop offset="0.7278" stop-color="#e8e8ff"/><stop offset="0.7457" stop-color="#fffdfd"/><stop offset="0.7914" stop-color="#ffc1c1"/><stop offset="0.8192" stop-color="#ffa5a5"/><stop offset="0.8747" stop-color="#ff8c8c"/><stop offset="0.9996" stop-color="#ff8c8c"/></linearGradient><linearGradient id="e60"><stop offset="0.0004" stop-color="#0000ff"/><stop offset="0.3114" stop-color="#0000ff"/><stop offset="0.3212" stop-color="#3838ff"/><stop offset="0.3286" stop-color="#5454ff"/><stop offset="0.3580" stop-color="#8383ff"/><stop offset="0.4020" stop-color="#9c9cff"/><stop offset="0.4820" stop-color="#a8a8ff"/><stop offset="0.6298" stop-color="#b5b5ff"/><stop offset="0.6984" stop-color="#d2d2ff"/><stop offset="0.7278" stop-color="#e8e8ff"/><stop offset="0.7457" stop-color="#fffdfd"/><stop offset="0.7914" stop-color="#ffc1c1"/><stop offset="0.8192" stop-color="#ffa5a5"/><stop offset="0.8747" stop-color="#ff8c8c"/><stop offset="0.9996" stop-color="#ff8b8b"/></linearGradient><linearGradient id="e61"><stop offset="0.0004" stop-color="#0000ff"/><stop offset="0.3122" stop-color="#0000ff"/><stop offset="0.3204" stop-color="#3030ff"/><stop offset="0.3286" stop-color="#5252ff"/><stop offset="0.3580" stop-color="#8383ff"/><stop offset="0.4020" stop-color="#9c9cff"/><stop offset="0.4804" stop-color="#a8a8ff"/><stop offset="0.6298" stop-color="#b5b5ff"/><stop offset="0.6992" stop-color="#d2d2ff"/><stop offset="0.7278" stop-color="#e8e8ff"/><stop offset="0.7457" stop-color="#fffdfd"/><stop offset="0.7914" stop-color="#ffc1c1"/><stop offset="0.8200" stop-color="#ffa4a4"/><stop offset="0.8755" stop-color="#ff8c8c"/><stop offset="0.9996" stop-color="#ff8b8b"/></linearGradient><linearGradient id="e62"><stop offset="0.0004" stop-color="#0000ff"/><stop offset="0.3131" stop-color="#0000ff"/><stop offset="0.3204" stop-color="#2b2bff"/><stop offset="0.3286" stop-color="#4f4fff"/><stop offset="0.3580" stop-color="#8282ff"/><stop offset="0.4020" stop-color="#9c9cff"/><stop offset="0.4780" stop-color="#a7a7ff"/><stop offset="0.6290" stop-color="#b4b4ff"/><stop offset="0.7000" stop-color="#d3d3ff"/><stop offset="0.7278" stop-color="#e7e7ff"/><stop offset="0.7457" stop-color="#fffdfd"/><stop offset="0.7914" stop-color="#ffc0c0"/><stop offset="0.8200" stop-color="#ffa4a4"/><stop offset="0.8755" stop-color="#ff8c8c"/><stop offset="0.9996" stop-color="#ff8a8a"/></linearGradient><linearGradient id="e63"><stop offset="0.0004" stop-color="#0000ff"/><stop offset="0.3139" stop-color="#0000ff"/><stop offset="0.3220" stop-color="#2f2fff"/><stop offset="0.3302" stop-color="#5050ff"/><stop offset="0.3588" stop-color="#8282ff"/><stop offset="0.4029" stop-color="#9b9bff"/><stop offset="0.4771" stop-color="#a7a7ff"/><stop offset="0.6290" stop-color="#b4b4ff"/><stop offset="0.7008" stop-color="#d3d3ff"/><stop offset="0.7278" stop-color="#e7e7ff"/><stop offset="0.7457" stop-color="#fffdfd"/><stop offset="0.7914" stop-color="#ffc0c0"/><stop offset="0.8200" stop-color="#ffa3a3"/><stop offset="0.8763" stop-color="#ff8b8b"/><stop offset="0.9996" stop-color="#ff8a8a"/></linearGradient><linearGradient id="e64"><stop offset="0.0004" stop-color="#0000ff"/><stop offset="0.3147" stop-color="#0000ff"/><stop offset="0.3237" stop-color="#3232ff"/><stop offset="0.3318" stop-color="#5151ff"/><stop offset="0.3596" stop-color="#8282ff"/><stop offset="0.4029" stop-color="#9b9bff"/><stop offset="0.4755" stop-color="#a6a6ff"/><stop offset="0.6282" stop-color="#b3b3ff"/><stop offset="0.7016" stop-color="#d4d4ff"/><stop offset="0.7286" stop-color="#e8e8ff"/><stop offset="0.7457" stop-color="#fffdfd"/><stop offset="0.7914" stop-color="#ffc0c0"/><stop offset="0.8208" stop-color="#ffa2a2"/><stop offset="0.8771" stop-color="#ff8b8b"/><stop offset="0.9996" stop-color="#ff8989"/></linearGradient><linearGradient id="e65"><stop offset="0.0004" stop-color="#0000ff"/><stop offset="0.3163" stop-color="#0202ff"/><stop offset="0.3220" stop-color="#2525ff"/><stop offset="0.3310" stop-color="#4c4cff"/><stop offset="0.3580" stop-color="#7f7fff"/><stop offset="0.4004" stop-color="#9a9aff"/><stop offset="0.4714" stop-color="#a6a6ff"/><stop offset="0.6282" stop-color="#b3b3ff"/><stop offset="0.7033" stop-color="#d5d5ff"/><stop offset="0.7286" stop-color="#e8e8ff"/><stop offset="0.7457" stop-color="#fffdfd"/><stop offset="0.7922" stop-color="#ffbebe"/><stop offset="0.8216" stop-color="#ffa1a1"/><stop offset="0.8780" stop-color="#ff8b8b"/><stop offset="0.9996" stop-color="#ff8989"/></linearGradient><linearGradient id="e66"><stop offset="0.0004" stop-color="#0000ff"/><stop offset="0.3171" stop-color="#0101ff"/><stop offset="0.3229" stop-color="#2424ff"/><stop offset="0.3318" stop-color="#4b4bff"/><stop offset="0.3580" stop-color="#7d7dff"/><stop offset="0.3939" stop-color="#9797ff"/><stop offset="0.4641" stop-color="#a5a5ff"/><stop offset="0.6273" stop-color="#b2b2ff"/><stop offset="0.7049" stop-color="#d6d6ff"/><stop offset="0.7286" stop-color="#e8e8ff"/><stop offset="0.7457" stop-color="#fffdfd"/><stop offset="0.7939" stop-color="#ffbcbc"/><stop offset="0.8224" stop-color="#ffa0a0"/><stop offset="0.8788" stop-color="#ff8b8b"/><stop offset="0.9996" stop-color="#ff8888"/></linearGradient><linearGradient id="e67"><stop offset="0.0004" stop-color="#0000ff"/><stop offset="0.3180" stop-color="#0101ff"/><stop offset="0.3245" stop-color="#2727ff"/><stop offset="0.3335" stop-color="#4c4cff"/><stop offset="0.3596" stop-color="#7e7eff"/><stop offset="0.3971" stop-color="#9898ff"/><stop offset="0.4657" stop-color="#a5a5ff"/><stop offset="0.6273" stop-color="#b1b1ff"/><stop offset="0.7073" stop-color="#d7d7ff"/><stop offset="0.7286" stop-color="#e8e8ff"/><stop offset="0.7457" stop-color="#fffdfd"/><stop offset="0.7963" stop-color="#ffb8b8"/><stop offset="0.8241" stop-color="#ff9f9f"/><stop offset="0.8796" stop-color="#ff8a8a"/><stop offset="0.9996" stop-color="#ff8787"/></linearGradient><linearGradient id="e68"><stop offset="0.0004" stop-color="#0000ff"/><stop offset="0.3188" stop-color="#0000ff"/><stop offset="0.3269" stop-color="#2d2dff"/><stop offset="0.3359" stop-color="#4f4fff"/><stop offset="0.3629" stop-color="#8181ff"/><stop offset="0.4061" stop-color="#9a9aff"/><stop offset="0.4731" stop-color="#a5a5ff"/><stop offset="0.6273" stop-color="#b1b1ff"/><stop offset="0.7098" stop-color="#d8d8ff"/><stop offset="0.7294" stop-color="#e9e9ff"/><stop offset="0.7457" stop-color="#fffdfd"/><stop offset="0.7996" stop-color="#ffb3b3"/><stop offset="0.8282" stop-color="#ff9c9c"/><stop offset="0.8820" stop-color="#ff8a8a"/><stop offset="0.9996" stop-color="#ff8787"/></linearGradient><linearGradient id="e69"><stop offset="0.0004" stop-color="#0000ff"/><stop offset="0.3204" stop-color="#0303ff"/><stop offset="0.3261" stop-color="#2424ff"/><stop offset="0.3359" stop-color="#4b4bff"/><stop offset="0.3620" stop-color="#7f7fff"/><stop offset="0.4029" stop-color="#9999ff"/><stop offset="0.4673" stop-color="#a4a4ff"/><stop offset="0.6265" stop-color="#b0b0ff"/><stop offset="0.7131" stop-color="#dadaff"/><stop offset="0.7310" stop-color="#ececff"/><stop offset="0.7457" stop-color="#fffdfd"/><stop offset="0.8029" stop-color="#ffadad"/><stop offset="0.8355" stop-color="#ff9999"/><stop offset="0.8845" stop-color="#ff8989"/><stop offset="0.9996" stop-color="#ff8686"/></linearGradient><linearGradient id="e70"><stop offset="0.0004" stop-color="#0000ff"/><stop offset="0.3212" stop-color="#0101ff"/><stop offset="0.3269" stop-color="#2323ff"/><stop offset="0.3376" stop-color="#4c4cff"/><stop offset="0.3645" stop-color="#8181ff"/><stop offset="0.4086" stop-color="#9a9aff"/><stop offset="0.4731" stop-color="#a4a4ff"/><stop offset="0.6265" stop-color="#afafff"/><stop offset="0.7171" stop-color="#ddddff"/><stop offset="0.7400" stop-color="#f8f8ff"/><stop offset="0.7457" stop-color="#fffdfd"/><stop offset="0.8037" stop-color="#ffa9a9"/><stop offset="0.8722" stop-color="#ff8b8b"/><stop offset="0.9996" stop-color="#ff8585"/></linearGradient><linearGradient id="e71"><stop offset="0.0004" stop-color="#0000ff"/><stop offset="0.3220" stop-color="#0000ff"/><stop offset="0.3294" stop-color="#2929ff"/><stop offset="0.3400" stop-color="#5050ff"/><stop offset="0.3661" stop-color="#8282ff"/><stop offset="0.4118" stop-color="#9a9aff"/><stop offset="0.4755" stop-color="#a4a4ff"/><stop offset="0.6265" stop-color="#afafff"/><stop offset="0.7204" stop-color="#dfdfff"/><stop offset="0.7457" stop-color="#fffdfd"/><stop offset="0.7947" stop-color="#ffb0b0"/><stop offset="0.8086" stop-color="#ffa0a0"/><stop offset="0.8878" stop-color="#ff8888"/><stop offset="0.9996" stop-color="#ff8585"/></linearGradient><linearGradient id="e72"><stop offset="0.0004" stop-color="#0000ff"/><stop offset="0.3229" stop-color="#0000ff"/><stop offset="0.3310" stop-color="#2b2bff"/><stop offset="0.3424" stop-color="#5353ff"/><stop offset="0.3678" stop-color="#8383ff"/><stop offset="0.4143" stop-color="#9b9bff"/><stop offset="0.4771" stop-color="#a3a3ff"/><stop offset="0.6257" stop-color="#aeaeff"/><stop offset="0.7220" stop-color="#e0e0ff"/><stop offset="0.7449" stop-color="#fffefe"/><stop offset="0.7914" stop-color="#ffb5b5"/><stop offset="0.8053" stop-color="#ff9b9b"/><stop offset="0.8461" stop-color="#ff9393"/><stop offset="0.8951" stop-color="#ff8888"/><stop offset="0.9996" stop-color="#ff8484"/></linearGradient><linearGradient id="e73"><stop offset="0.0004" stop-color="#0000ff"/><stop offset="0.3245" stop-color="#0303ff"/><stop offset="0.3302" stop-color="#2222ff"/><stop offset="0.3416" stop-color="#4e4eff"/><stop offset="0.3678" stop-color="#8282ff"/><stop offset="0.4151" stop-color="#9a9aff"/><stop offset="0.4763" stop-color="#a3a3ff"/><stop offset="0.6257" stop-color="#adadff"/><stop offset="0.7229" stop-color="#e0e0ff"/><stop offset="0.7449" stop-color="#fffefe"/><stop offset="0.7906" stop-color="#ffb7b7"/><stop offset="0.8053" stop-color="#ff9393"/><stop offset="0.8159" stop-color="#ff9393"/><stop offset="0.8339" stop-color="#ff9797"/><stop offset="0.8927" stop-color="#ff8888"/><stop offset="0.9996" stop-color="#ff8484"/></linearGradient><linearGradient id="e74"><stop offset="0.0004" stop-color="#0000ff"/><stop offset="0.3253" stop-color="#0202ff"/><stop offset="0.3310" stop-color="#2121ff"/><stop offset="0.3433" stop-color="#4f4fff"/><stop offset="0.3686" stop-color="#8282ff"/><stop offset="0.4167" stop-color="#9b9bff"/><stop offset="0.4780" stop-color="#a3a3ff"/><stop offset="0.6257" stop-color="#adadff"/><stop offset="0.7237" stop-color="#e1e1ff"/><stop offset="0.7449" stop-color="#fffefe"/><stop offset="0.7914" stop-color="#ffb5b5"/><stop offset="0.8069" stop-color="#ff8989"/><stop offset="0.8151" stop-color="#ff8888"/><stop offset="0.8306" stop-color="#ff9797"/><stop offset="0.8984" stop-color="#ff8787"/><stop offset="0.9996" stop-color="#ff8383"/></linearGradient><linearGradient id="e75"><stop offset="0.0004" stop-color="#0000ff"/><stop offset="0.3261" stop-color="#0101ff"/><stop offset="0.3318" stop-color="#2020ff"/><stop offset="0.3449" stop-color="#5151ff"/><stop offset="0.3694" stop-color="#8282ff"/><stop offset="0.4184" stop-color="#9b9bff"/><stop offset="0.4804" stop-color="#a2a2ff"/><stop offset="0.6257" stop-color="#acacff"/><stop offset="0.7245" stop-color="#e2e2ff"/><stop offset="0.7449" stop-color="#fffefe"/><stop offset="0.7922" stop-color="#ffb4b4"/><stop offset="0.8086" stop-color="#ff7e7e"/><stop offset="0.8151" stop-color="#ff7b7b"/><stop offset="0.8306" stop-color="#ff9494"/><stop offset="0.9073" stop-color="#ff8686"/><stop offset="0.9996" stop-color="#ff8282"/></linearGradient><linearGradient id="e76"><stop offset="0.0004" stop-color="#0000ff"/><stop offset="0.3269" stop-color="#0101ff"/><stop offset="0.3335" stop-color="#2323ff"/><stop offset="0.3465" stop-color="#5252ff"/><stop offset="0.3702" stop-color="#8383ff"/><stop offset="0.4200" stop-color="#9b9bff"/><stop offset="0.4829" stop-color="#a2a2ff"/><stop offset="0.6257" stop-color="#acacff"/><stop offset="0.7245" stop-color="#e2e2ff"/><stop offset="0.7449" stop-color="#fffefe"/><stop offset="0.7931" stop-color="#ffb4b4"/><stop offset="0.8037" stop-color="#ff8d8d"/><stop offset="0.8110" stop-color="#ff7373"/><stop offset="0.8176" stop-color="#ff7171"/><stop offset="0.8314" stop-color="#ff9090"/><stop offset="0.8486" stop-color="#ff9191"/><stop offset="0.9024" stop-color="#ff8686"/><stop offset="0.9996" stop-color="#ff8282"/></linearGradient><linearGradient id="e77"><stop offset="0.0004" stop-color="#0000ff"/><stop offset="0.3278" stop-color="#0101ff"/><stop offset="0.3335" stop-color="#1f1fff"/><stop offset="0.3473" stop-color="#5252ff"/><stop offset="0.3710" stop-color="#8383ff"/><stop offset="0.4216" stop-color="#9b9bff"/><stop offset="0.4878" stop-color="#a2a2ff"/><stop offset="0.6249" stop-color="#ababff"/><stop offset="0.7253" stop-color="#e3e3ff"/><stop offset="0.7449" stop-color="#fffefe"/><stop offset="0.7947" stop-color="#ffb2b2"/><stop offset="0.8037" stop-color="#ff9191"/><stop offset="0.8127" stop-color="#ff6a6a"/><stop offset="0.8184" stop-color="#ff6666"/><stop offset="0.8339" stop-color="#ff8e8e"/><stop offset="0.8494" stop-color="#ff9191"/><stop offset="0.9041" stop-color="#ff8686"/><stop offset="0.9996" stop-color="#ff8181"/></linearGradient><linearGradient id="e78"><stop offset="0.0004" stop-color="#0000ff"/><stop offset="0.3286" stop-color="#0101ff"/><stop offset="0.3343" stop-color="#1f1fff"/><stop offset="0.3482" stop-color="#5252ff"/><stop offset="0.3718" stop-color="#8383ff"/><stop offset="0.4224" stop-color="#9b9bff"/><stop offset="0.4894" stop-color="#a2a2ff"/><stop offset="0.6249" stop-color="#aaaaff"/><stop offset="0.7261" stop-color="#e4e4ff"/><stop offset="0.7449" stop-color="#fffefe"/><stop offset="0.7971" stop-color="#ffaeae"/><stop offset="0.8061" stop-color="#ff8b8b"/><stop offset="0.8151" stop-color="#ff6363"/><stop offset="0.8200" stop-color="#ff5f5f"/><stop offset="0.8355" stop-color="#ff8c8c"/><stop offset="0.8478" stop-color="#ff9191"/><stop offset="0.9049" stop-color="#ff8585"/><stop offset="0.9996" stop-color="#ff8181"/></linearGradient><linearGradient id="e79"><stop offset="0.0004" stop-color="#0000ff"/><stop offset="0.3294" stop-color="#0202ff"/><stop offset="0.3351" stop-color="#1f1fff"/><stop offset="0.3490" stop-color="#5252ff"/><stop offset="0.3718" stop-color="#8282ff"/><stop offset="0.4224" stop-color="#9b9bff"/><stop offset="0.4878" stop-color="#a2a2ff"/><stop offset="0.6249" stop-color="#aaaaff"/><stop offset="0.7261" stop-color="#e4e4ff"/><stop offset="0.7449" stop-color="#fffefe"/><stop offset="0.7988" stop-color="#ffadad"/><stop offset="0.8078" stop-color="#ff8b8b"/><stop offset="0.8167" stop-color="#ff6161"/><stop offset="0.8216" stop-color="#ff5c5c"/><stop offset="0.8298" stop-color="#ff7373"/><stop offset="0.8388" stop-color="#ff8c8c"/><stop offset="0.8535" stop-color="#ff8f8f"/><stop offset="0.9073" stop-color="#ff8585"/><stop offset="0.9996" stop-color="#ff8080"/></linearGradient><linearGradient id="e80"><stop offset="0.0004" stop-color="#0000ff"/><stop offset="0.3294" stop-color="#0000ff"/><stop offset="0.3392" stop-color="#2d2dff"/><stop offset="0.3506" stop-color="#5555ff"/><stop offset="0.3727" stop-color="#8383ff"/><stop offset="0.4233" stop-color="#9b9bff"/><stop offset="0.4910" stop-color="#a1a1ff"/><stop offset="0.6249" stop-color="#aaaaff"/><stop offset="0.7261" stop-color="#e4e4ff"/><stop offset="0.7449" stop-color="#fffefe"/><stop offset="0.7890" stop-color="#ffbdbd"/><stop offset="0.8029" stop-color="#ffa5a5"/><stop offset="0.8118" stop-color="#ff8080"/><stop offset="0.8192" stop-color="#ff6060"/><stop offset="0.8241" stop-color="#ff5c5c"/><stop offset="0.8339" stop-color="#ff7a7a"/><stop offset="0.8429" stop-color="#ff8d8d"/><stop offset="0.8673" stop-color="#ff8b8b"/><stop offset="0.9612" stop-color="#ff8282"/><stop offset="0.9996" stop-color="#ff8080"/></linearGradient><linearGradient id="e81"><stop offset="0.0004" stop-color="#0000ff"/><stop offset="0.3302" stop-color="#0000ff"/><stop offset="0.3376" stop-color="#2424ff"/><stop offset="0.3506" stop-color="#5353ff"/><stop offset="0.3727" stop-color="#8282ff"/><stop offset="0.4224" stop-color="#9a9aff"/><stop offset="0.4845" stop-color="#a1a1ff"/><stop offset="0.6249" stop-color="#a9a9ff"/><stop offset="0.7261" stop-color="#e4e4ff"/><stop offset="0.7449" stop-color="#fffefe"/><stop offset="0.7882" stop-color="#ffbebe"/><stop offset="0.8045" stop-color="#ffa5a5"/><stop offset="0.8143" stop-color="#ff7f7f"/><stop offset="0.8216" stop-color="#ff6363"/><stop offset="0.8273" stop-color="#ff6161"/><stop offset="0.8429" stop-color="#ff8a8a"/><stop offset="0.8576" stop-color="#ff8d8d"/><stop offset="0.9114" stop-color="#ff8484"/><stop offset="0.9996" stop-color="#ff8080"/></linearGradient><linearGradient id="e82"><stop offset="0.0004" stop-color="#0000ff"/><stop offset="0.3310" stop-color="#0000ff"/><stop offset="0.3392" stop-color="#2727ff"/><stop offset="0.3514" stop-color="#5353ff"/><stop offset="0.3735" stop-color="#8181ff"/><stop offset="0.4224" stop-color="#9a9aff"/><stop offset="0.4820" stop-color="#a0a0ff"/><stop offset="0.6249" stop-color="#a9a9ff"/><stop offset="0.7261" stop-color="#e4e4ff"/><stop offset="0.7449" stop-color="#fffefe"/><stop offset="0.7890" stop-color="#ffbdbd"/><stop offset="0.8069" stop-color="#ffa2a2"/><stop offset="0.8233" stop-color="#ff6969"/><stop offset="0.8298" stop-color="#ff6767"/><stop offset="0.8453" stop-color="#ff8989"/><stop offset="0.8633" stop-color="#ff8b8b"/><stop offset="0.9253" stop-color="#ff8383"/><stop offset="0.9996" stop-color="#ff7f7f"/></linearGradient><linearGradient id="e83"><stop offset="0.0004" stop-color="#0000ff"/><stop offset="0.3318" stop-color="#0000ff"/><stop offset="0.3416" stop-color="#2d2dff"/><stop offset="0.3531" stop-color="#5353ff"/><stop offset="0.3735" stop-color="#7f7fff"/><stop offset="0.4200" stop-color="#9898ff"/><stop offset="0.4722" stop-color="#a0a0ff"/><stop offset="0.6249" stop-color="#a8a8ff"/><stop offset="0.7261" stop-color="#e4e4ff"/><stop offset="0.7449" stop-color="#fffefe"/><stop offset="0.7890" stop-color="#ffbdbd"/><stop offset="0.8102" stop-color="#ff9d9d"/><stop offset="0.8257" stop-color="#ff6f6f"/><stop offset="0.8331" stop-color="#ff6e6e"/><stop offset="0.8486" stop-color="#ff8989"/><stop offset="0.9743" stop-color="#ff7f7f"/><stop offset="0.9996" stop-color="#ff7e7e"/></linearGradient><linearGradient id="e84"><stop offset="0.0004" stop-color="#0000ff"/><stop offset="0.3335" stop-color="#0101ff"/><stop offset="0.3408" stop-color="#2424ff"/><stop offset="0.3539" stop-color="#5151ff"/><stop offset="0.3743" stop-color="#7d7dff"/><stop offset="0.4176" stop-color="#9696ff"/><stop offset="0.4657" stop-color="#9f9fff"/><stop offset="0.6249" stop-color="#a7a7ff"/><stop offset="0.7253" stop-color="#e3e3ff"/><stop offset="0.7449" stop-color="#fffefe"/><stop offset="0.7898" stop-color="#ffbbbb"/><stop offset="0.8135" stop-color="#ff9898"/><stop offset="0.8290" stop-color="#ff7474"/><stop offset="0.8371" stop-color="#ff7676"/><stop offset="0.8518" stop-color="#ff8787"/><stop offset="0.9327" stop-color="#ff8080"/><stop offset="0.9996" stop-color="#ff7e7e"/></linearGradient><linearGradient id="e85"><stop offset="0.0004" stop-color="#0000ff"/><stop offset="0.3351" stop-color="#0202ff"/><stop offset="0.3433" stop-color="#2828ff"/><stop offset="0.3555" stop-color="#5151ff"/><stop offset="0.3759" stop-color="#7c7cff"/><stop offset="0.4151" stop-color="#9595ff"/><stop offset="0.4616" stop-color="#9e9eff"/><stop offset="0.6249" stop-color="#a6a6ff"/><stop offset="0.7245" stop-color="#e2e2ff"/><stop offset="0.7449" stop-color="#fffefe"/><stop offset="0.7906" stop-color="#ffbaba"/><stop offset="0.8176" stop-color="#ff9292"/><stop offset="0.8331" stop-color="#ff7878"/><stop offset="0.8576" stop-color="#ff8585"/><stop offset="0.9253" stop-color="#ff7e7e"/><stop offset="0.9996" stop-color="#ff7d7d"/></linearGradient><linearGradient id="e86"><stop offset="0.0004" stop-color="#0000ff"/><stop offset="0.3367" stop-color="#0202ff"/><stop offset="0.3449" stop-color="#2828ff"/><stop offset="0.3571" stop-color="#4f4fff"/><stop offset="0.3767" stop-color="#7979ff"/><stop offset="0.4110" stop-color="#9292ff"/><stop offset="0.4567" stop-color="#9d9dff"/><stop offset="0.6249" stop-color="#a5a5ff"/><stop offset="0.7229" stop-color="#e0e0ff"/><stop offset="0.7449" stop-color="#fffefe"/><stop offset="0.7922" stop-color="#ffb7b7"/><stop offset="0.8363" stop-color="#ff7c7c"/><stop offset="0.8633" stop-color="#ff8080"/><stop offset="0.9971" stop-color="#ff7b7b"/><stop offset="0.9996" stop-color="#ff7b7b"/></linearGradient><linearGradient id="e87"><stop offset="0.0004" stop-color="#0000ff"/><stop offset="0.3384" stop-color="#0202ff"/><stop offset="0.3465" stop-color="#2727ff"/><stop offset="0.3596" stop-color="#5050ff"/><stop offset="0.3784" stop-color="#7777ff"/><stop offset="0.4086" stop-color="#8f8fff"/><stop offset="0.4535" stop-color="#9c9cff"/><stop offset="0.6249" stop-color="#a4a4ff"/><stop offset="0.7204" stop-color="#dedeff"/><stop offset="0.7449" stop-color="#fffefe"/><stop offset="0.7947" stop-color="#ffb3b3"/><stop offset="0.8363" stop-color="#ff7f7f"/><stop offset="0.9359" stop-color="#ff7a7a"/><stop offset="0.9996" stop-color="#ff7a7a"/></linearGradient><linearGradient id="e88"><stop offset="0.0004" stop-color="#0000ff"/><stop offset="0.3400" stop-color="#0101ff"/><stop offset="0.3482" stop-color="#2525ff"/><stop offset="0.3620" stop-color="#5050ff"/><stop offset="0.3800" stop-color="#7575ff"/><stop offset="0.4061" stop-color="#8c8cff"/><stop offset="0.4510" stop-color="#9a9aff"/><stop offset="0.6249" stop-color="#a3a3ff"/><stop offset="0.7106" stop-color="#d7d7ff"/><stop offset="0.7310" stop-color="#ececff"/><stop offset="0.7449" stop-color="#fffefe"/><stop offset="0.7971" stop-color="#ffafaf"/><stop offset="0.8282" stop-color="#ff8989"/><stop offset="0.8486" stop-color="#ff7c7c"/><stop offset="0.9196" stop-color="#ff7777"/><stop offset="0.9996" stop-color="#ff7979"/></linearGradient><linearGradient id="e89"><stop offset="0.0004" stop-color="#0000ff"/><stop offset="0.3416" stop-color="#0101ff"/><stop offset="0.3514" stop-color="#2a2aff"/><stop offset="0.3669" stop-color="#5555ff"/><stop offset="0.3833" stop-color="#7575ff"/><stop offset="0.4053" stop-color="#8a8aff"/><stop offset="0.4486" stop-color="#9999ff"/><stop offset="0.6249" stop-color="#a2a2ff"/><stop offset="0.7008" stop-color="#d0d0ff"/><stop offset="0.7278" stop-color="#e7e7ff"/><stop offset="0.7449" stop-color="#fffefe"/><stop offset="0.8004" stop-color="#ffa9a9"/><stop offset="0.8257" stop-color="#ff8a8a"/><stop offset="0.8567" stop-color="#ff7777"/><stop offset="0.9335" stop-color="#ff7575"/><stop offset="0.9996" stop-color="#ff7878"/></linearGradient><linearGradient id="e90"><stop offset="0.0004" stop-color="#0000ff"/><stop offset="0.3441" stop-color="#0303ff"/><stop offset="0.3522" stop-color="#2525ff"/><stop offset="0.3678" stop-color="#5151ff"/><stop offset="0.3849" stop-color="#7373ff"/><stop offset="0.4045" stop-color="#8888ff"/><stop offset="0.4469" stop-color="#9898ff"/><stop offset="0.6249" stop-color="#a1a1ff"/><stop offset="0.6943" stop-color="#cbcbff"/><stop offset="0.7278" stop-color="#e7e7ff"/><stop offset="0.7449" stop-color="#fffefe"/><stop offset="0.8061" stop-color="#ffa0a0"/><stop offset="0.8265" stop-color="#ff8888"/><stop offset="0.8649" stop-color="#ff7171"/><stop offset="0.9996" stop-color="#ff7676"/></linearGradient><linearGradient id="e91"><stop offset="0.0004" stop-color="#0000ff"/><stop offset="0.3457" stop-color="#0202ff"/><stop offset="0.3539" stop-color="#2323ff"/><stop offset="0.3710" stop-color="#5353ff"/><stop offset="0.3898" stop-color="#7676ff"/><stop offset="0.4069" stop-color="#8787ff"/><stop offset="0.4469" stop-color="#9797ff"/><stop offset="0.6249" stop-color="#a0a0ff"/><stop offset="0.6902" stop-color="#c7c7ff"/><stop offset="0.7269" stop-color="#e6e6ff"/><stop offset="0.7449" stop-color="#fffefe"/><stop offset="0.8143" stop-color="#ff9393"/><stop offset="0.8576" stop-color="#ff7070"/><stop offset="0.9310" stop-color="#ff7070"/><stop offset="0.9996" stop-color="#ff7575"/></linearGradient><linearGradient id="e92"><stop offset="0.0004" stop-color="#0000ff"/><stop offset="0.3473" stop-color="#0101ff"/><stop offset="0.3563" stop-color="#2525ff"/><stop offset="0.3767" stop-color="#5a5aff"/><stop offset="0.3996" stop-color="#8181ff"/><stop offset="0.4445" stop-color="#9696ff"/><stop offset="0.6249" stop-color="#9e9eff"/><stop offset="0.6869" stop-color="#c4c4ff"/><stop offset="0.7269" stop-color="#e6e6ff"/><stop offset="0.7449" stop-color="#fffefe"/><stop offset="0.8184" stop-color="#ff8b8b"/><stop offset="0.8657" stop-color="#ff6a6a"/><stop offset="0.9996" stop-color="#ff7474"/></linearGradient><linearGradient id="e93"><stop offset="0.0004" stop-color="#0000ff"/><stop offset="0.3490" stop-color="#0101ff"/><stop offset="0.3580" stop-color="#2323ff"/><stop offset="0.3800" stop-color="#5c5cff"/><stop offset="0.4012" stop-color="#8080ff"/><stop offset="0.4437" stop-color="#9595ff"/><stop offset="0.6249" stop-color="#9d9dff"/><stop offset="0.6845" stop-color="#c1c1ff"/><stop offset="0.7269" stop-color="#e6e6ff"/><stop offset="0.7449" stop-color="#fffefe"/><stop offset="0.8208" stop-color="#ff8787"/><stop offset="0.8657" stop-color="#ff6666"/><stop offset="0.9996" stop-color="#ff7373"/></linearGradient><linearGradient id="e94"><stop offset="0.0004" stop-color="#0000ff"/><stop offset="0.3506" stop-color="#0101ff"/><stop offset="0.3596" stop-color="#2222ff"/><stop offset="0.3841" stop-color="#6060ff"/><stop offset="0.4020" stop-color="#7f7fff"/><stop offset="0.4437" stop-color="#9494ff"/><stop offset="0.6249" stop-color="#9c9cff"/><stop offset="0.6829" stop-color="#bfbfff"/><stop offset="0.7269" stop-color="#e7e7ff"/><stop offset="0.7449" stop-color="#fffefe"/><stop offset="0.8216" stop-color="#ff8585"/><stop offset="0.8657" stop-color="#ff6363"/><stop offset="0.9996" stop-color="#ff7171"/></linearGradient><linearGradient id="e95"><stop offset="0.0004" stop-color="#0000ff"/><stop offset="0.3522" stop-color="#0202ff"/><stop offset="0.3620" stop-color="#2424ff"/><stop offset="0.3906" stop-color="#6969ff"/><stop offset="0.4037" stop-color="#7e7eff"/><stop offset="0.4429" stop-color="#9393ff"/><stop offset="0.6249" stop-color="#9b9bff"/><stop offset="0.6820" stop-color="#bebeff"/><stop offset="0.7261" stop-color="#e6e6ff"/><stop offset="0.7449" stop-color="#fffefe"/><stop offset="0.8233" stop-color="#ff8282"/><stop offset="0.8649" stop-color="#ff6060"/><stop offset="0.9996" stop-color="#ff7070"/></linearGradient><linearGradient id="e96"><stop offset="0.0004" stop-color="#0000ff"/><stop offset="0.3531" stop-color="#0000ff"/><stop offset="0.3637" stop-color="#2525ff"/><stop offset="0.3980" stop-color="#7676ff"/><stop offset="0.4347" stop-color="#9191ff"/><stop offset="0.6249" stop-color="#9a9aff"/><stop offset="0.6804" stop-color="#bcbcff"/><stop offset="0.7261" stop-color="#e6e6ff"/><stop offset="0.7449" stop-color="#fffefe"/><stop offset="0.8233" stop-color="#ff8080"/><stop offset="0.8649" stop-color="#ff5e5e"/><stop offset="0.9996" stop-color="#ff6f6f"/></linearGradient><linearGradient id="e97"><stop offset="0.0004" stop-color="#0000ff"/><stop offset="0.3539" stop-color="#0000ff"/><stop offset="0.3669" stop-color="#2a2aff"/><stop offset="0.4012" stop-color="#7979ff"/><stop offset="0.4420" stop-color="#9292ff"/><stop offset="0.6249" stop-color="#9a9aff"/><stop offset="0.6796" stop-color="#bbbbff"/><stop offset="0.7261" stop-color="#e6e6ff"/><stop offset="0.7449" stop-color="#fffefe"/><stop offset="0.8233" stop-color="#ff7f7f"/><stop offset="0.8649" stop-color="#ff5c5c"/><stop offset="0.9996" stop-color="#ff6f6f"/></linearGradient><linearGradient id="e98"><stop offset="0.0004" stop-color="#0000ff"/><stop offset="0.3547" stop-color="#0000ff"/><stop offset="0.3645" stop-color="#2121ff"/><stop offset="0.4004" stop-color="#7777ff"/><stop offset="0.4412" stop-color="#9191ff"/><stop offset="0.6249" stop-color="#9999ff"/><stop offset="0.6796" stop-color="#babaff"/><stop offset="0.7261" stop-color="#e6e6ff"/><stop offset="0.7449" stop-color="#fffefe"/><stop offset="0.8233" stop-color="#ff7f7f"/><stop offset="0.8649" stop-color="#ff5a5a"/><stop offset="0.9996" stop-color="#ff6e6e"/></linearGradient><linearGradient id="e99"><stop offset="0.0004" stop-color="#0000ff"/><stop offset="0.3547" stop-color="#0000ff"/><stop offset="0.3694" stop-color="#2e2eff"/><stop offset="0.4020" stop-color="#7979ff"/><stop offset="0.4420" stop-color="#9191ff"/><stop offset="0.6249" stop-color="#9999ff"/><stop offset="0.6796" stop-color="#babaff"/><stop offset="0.7261" stop-color="#e6e6ff"/><stop offset="0.7449" stop-color="#fffefe"/><stop offset="0.8233" stop-color="#ff7e7e"/><stop offset="0.8649" stop-color="#ff5a5a"/><stop offset="0.9996" stop-color="#ff6e6e"/></linearGradient><linearGradient id="e100"><stop offset="0.0004" stop-color="#0000ff"/><stop offset="0.3547" stop-color="#0000ff"/><stop offset="0.3710" stop-color="#3232ff"/><stop offset="0.4020" stop-color="#7979ff"/><stop offset="0.4420" stop-color="#9191ff"/><stop offset="0.6249" stop-color="#9999ff"/><stop offset="0.6796" stop-color="#babaff"/><stop offset="0.7261" stop-color="#e6e6ff"/><stop offset="0.7449" stop-color="#fffefe"/><stop offset="0.8233" stop-color="#ff7e7e"/><stop offset="0.8649" stop-color="#ff5a5a"/><stop offset="0.9996" stop-color="#ff6e6e"/></linearGradient><linearGradient id="e101"><stop offset="0.0004" stop-color="#0000ff"/><stop offset="0.3547" stop-color="#0000ff"/><stop offset="0.3710" stop-color="#3232ff"/><stop offset="0.4020" stop-color="#7979ff"/><stop offset="0.4420" stop-color="#9191ff"/><stop offset="0.6249" stop-color="#9999ff"/><stop offset="0.6796" stop-color="#babaff"/><stop offset="0.7261" stop-color="#e6e6ff"/><stop offset="0.7449" stop-color="#fffefe"/><stop offset="0.8233" stop-color="#ff7e7e"/><stop offset="0.8649" stop-color="#ff5a5a"/><stop offset="0.9996" stop-color="#ff6e6e"/></linearGradient><linearGradient id="e102"><stop offset="0.0004" stop-color="#0000ff"/><stop offset="0.3555" stop-color="#0303ff"/><stop offset="0.3751" stop-color="#3c3cff"/><stop offset="0.4029" stop-color="#7a7aff"/><stop offset="0.4420" stop-color="#9191ff"/><stop offset="0.6249" stop-color="#9999ff"/><stop offset="0.6796" stop-color="#babaff"/><stop offset="0.7261" stop-color="#e6e6ff"/><stop offset="0.7449" stop-color="#fffefe"/><stop offset="0.8233" stop-color="#ff7e7e"/><stop offset="0.8649" stop-color="#ff5a5a"/><stop offset="0.9996" stop-color="#ff6e6e"/></linearGradient><linearGradient id="e103"><stop offset="0.0004" stop-color="#0000ff"/><stop offset="0.3555" stop-color="#0303ff"/><stop offset="0.3751" stop-color="#3c3cff"/><stop offset="0.4029" stop-color="#7a7aff"/><stop offset="0.4420" stop-color="#9191ff"/><stop offset="0.6249" stop-color="#9999ff"/><stop offset="0.6796" stop-color="#babaff"/><stop offset="0.7261" stop-color="#e6e6ff"/><stop offset="0.7449" stop-color="#fffefe"/><stop offset="0.8233" stop-color="#ff7e7e"/><stop offset="0.8649" stop-color="#ff5a5a"/><stop offset="0.9996" stop-color="#ff6e6e"/></linearGradient><clipPath id="hce"><rect x="92.0" y="1323.0" width="1224.8" height="309.7"/></clipPath><linearGradient id="cbe" x1="0" y1="0" x2="0" y2="1"><stop offset="0" stop-color="#ff0000"/><stop offset="0.5" stop-color="#ffffff"/><stop offset="1" stop-color="#0000ff"/></linearGradient><linearGradient id="f0"><stop offset="0.0004" stop-color="#0000ff"/><stop offset="0.3604" stop-color="#0303ff"/><stop offset="0.3727" stop-color="#4747ff"/><stop offset="0.4053" stop-color="#8686ff"/><stop offset="0.4404" stop-color="#acacff"/><stop offset="0.5171" stop-color="#c2c2ff"/><stop offset="0.6567" stop-color="#d5d5ff"/><stop offset="0.6976" stop-color="#dbdbff"/><stop offset="0.7482" stop-color="#fffdfd"/><stop offset="0.7955" stop-color="#ffcaca"/><stop offset="0.9302" stop-color="#ff5151"/><stop offset="0.9996" stop-color="#ff4d4d"/></linearGradient><linearGradient id="f1"><stop offset="0.0004" stop-color="#0000ff"/><stop offset="0.3604" stop-color="#0303ff"/><stop offset="0.3727" stop-color="#4747ff"/><stop offset="0.4053" stop-color="#8686ff"/><stop offset="0.4404" stop-color="#acacff"/><stop offset="0.5171" stop-color="#c2c2ff"/><stop offset="0.6567" stop-color="#d5d5ff"/><stop offset="0.6976" stop-color="#dbdbff"/><stop offset="0.7482" stop-color="#fffdfd"/><stop offset="0.7955" stop-color="#ffcaca"/><stop offset="0.9302" stop-color="#ff5151"/><stop offset="0.9996" stop-color="#ff4d4d"/></linearGradient><linearGradient id="f2"><stop offset="0.0004" stop-color="#0000ff"/><stop offset="0.3604" stop-color="#0202ff"/><stop offset="0.3727" stop-color="#4747ff"/><stop offset="0.4053" stop-color="#8686ff"/><stop offset="0.4404" stop-color="#acacff"/><stop offset="0.5171" stop-color="#c2c2ff"/><stop offset="0.6567" stop-color="#d5d5ff"/><stop offset="0.6976" stop-color="#dbdbff"/><stop offset="0.7482" stop-color="#fffefe"/><stop offset="0.7955" stop-color="#ffcaca"/><stop offset="0.9302" stop-color="#ff5151"/><stop offset="0.9996" stop-color="#ff4d4d"/></linearGradient><linearGradient id="f3"><stop offset="0.0004" stop-color="#0000ff"/><stop offset="0.3604" stop-color="#0101ff"/><stop offset="0.3718" stop-color="#4343ff"/><stop offset="0.3873" stop-color="#6666ff"/><stop offset="0.4086" stop-color="#8a8aff"/><stop offset="0.4412" stop-color="#acacff"/><stop offset="0.5171" stop-color="#c2c2ff"/><stop offset="0.6576" stop-color="#d5d5ff"/><stop offset="0.6976" stop-color="#dbdbff"/><stop offset="0.7482" stop-color="#fffefe"/><stop offset="0.7963" stop-color="#ffcaca"/><stop offset="0.9294" stop-color="#ff5252"/><stop offset="0.9996" stop-color="#ff4d4d"/></linearGradient><linearGradient id="f4"><stop offset="0.0004" stop-color="#0000ff"/><stop offset="0.3604" stop-color="#0000ff"/><stop offset="0.3735" stop-color="#4747ff"/><stop offset="0.4053" stop-color="#8686ff"/><stop offset="0.4404" stop-color="#ababff"/><stop offset="0.5171" stop-color="#c2c2ff"/><stop offset="0.6584" stop-color="#d4d4ff"/><stop offset="0.6976" stop-color="#dbdbff"/><stop offset="0.7490" stop-color="#fffefe"/><stop offset="0.7971" stop-color="#ffcbcb"/><stop offset="0.9286" stop-color="#ff5353"/><stop offset="0.9996" stop-color="#ff4d4d"/></linearGradient><linearGradient id="f5"><stop offset="0.0004" stop-color="#0000ff"/><stop offset="0.3612" stop-color="#0000ff"/><stop offset="0.3735" stop-color="#4444ff"/><stop offset="0.4020" stop-color="#8080ff"/><stop offset="0.4404" stop-color="#ababff"/><stop offset="0.5163" stop-color="#c2c2ff"/><stop offset="0.6600" stop-color="#d4d4ff"/><stop offset="0.6976" stop-color="#dadaff"/><stop offset="0.7506" stop-color="#fffdfd"/><stop offset="0.8004" stop-color="#ffc9c9"/><stop offset="0.9245" stop-color="#ff5757"/><stop offset="0.9457" stop-color="#ff5050"/><stop offset="0.9996" stop-color="#ff4d4d"/></linearGradient><linearGradient id="f6"><stop offset="0.0004" stop-color="#0000ff"/><stop offset="0.3620" stop-color="#0000ff"/><stop offset="0.3743" stop-color="#4444ff"/><stop offset="0.3996" stop-color="#7b7bff"/><stop offset="0.4388" stop-color="#a9a9ff"/><stop offset="0.5155" stop-color="#c2c2ff"/><stop offset="0.6616" stop-color="#d3d3ff"/><stop offset="0.6976" stop-color="#d9d9ff"/><stop offset="0.7522" stop-color="#fffdfd"/><stop offset="0.8086" stop-color="#ffc4c4"/><stop offset="0.9188" stop-color="#ff5d5d"/><stop offset="0.9392" stop-color="#ff5252"/><stop offset="0.9996" stop-color="#ff4d4d"/></linearGradient><linearGradient id="f7"><stop offset="0.0004" stop-color="#0000ff"/><stop offset="0.3637" stop-color="#0303ff"/><stop offset="0.3751" stop-color="#4343ff"/><stop offset="0.3963" stop-color="#7373ff"/><stop offset="0.4224" stop-color="#9898ff"/><stop offset="0.4453" stop-color="#ababff"/><stop offset="0.5180" stop-color="#c2c2ff"/><stop offset="0.6657" stop-color="#d3d3ff"/><stop offset="0.6984" stop-color="#d9d9ff"/><stop offset="0.7539" stop-color="#fffefe"/><stop offset="0.8886" stop-color="#ff7878"/><stop offset="0.9367" stop-color="#ff5353"/><stop offset="0.9996" stop-color="#ff4d4d"/></linearGradient><linearGradient id="f8"><stop offset="0.0004" stop-color="#0000ff"/><stop offset="0.3645" stop-color="#0101ff"/><stop offset="0.3751" stop-color="#3e3eff"/><stop offset="0.3898" stop-color="#6565ff"/><stop offset="0.4127" stop-color="#8b8bff"/><stop offset="0.4429" stop-color="#a9a9ff"/><stop offset="0.5171" stop-color="#c1c1ff"/><stop offset="0.6682" stop-color="#d2d2ff"/><stop offset="0.6992" stop-color="#d8d8ff"/><stop offset="0.7563" stop-color="#fffdfd"/><stop offset="0.9049" stop-color="#ff6b6b"/><stop offset="0.9376" stop-color="#ff5454"/><stop offset="0.9996" stop-color="#ff4d4d"/></linearGradient><linearGradient id="f9"><stop offset="0.0004" stop-color="#0000ff"/><stop offset="0.3653" stop-color="#0000ff"/><stop offset="0.3767" stop-color="#4040ff"/><stop offset="0.3939" stop-color="#6c6cff"/><stop offset="0.4184" stop-color="#9191ff"/><stop offset="0.4445" stop-color="#a9a9ff"/><stop offset="0.5180" stop-color="#c1c1ff"/><stop offset="0.6739" stop-color="#d1d1ff"/><stop offset="0.7016" stop-color="#d8d8ff"/><stop offset="0.7588" stop-color="#fffdfd"/><stop offset="0.9024" stop-color="#ff6f6f"/><stop offset="0.9376" stop-color="#ff5555"/><stop offset="0.9996" stop-color="#ff4e4e"/></linearGradient><linearGradient id="f10"><stop offset="0.0004" stop-color="#0000ff"/><stop offset="0.3669" stop-color="#0101ff"/><stop offset="0.3767" stop-color="#3a3aff"/><stop offset="0.3906" stop-color="#6464ff"/><stop offset="0.4151" stop-color="#8c8cff"/><stop offset="0.4445" stop-color="#a8a8ff"/><stop offset="0.5139" stop-color="#c0c0ff"/><stop offset="0.6976" stop-color="#d5d5ff"/><stop offset="0.7563" stop-color="#fbfbff"/><stop offset="0.7629" stop-color="#fffcfc"/><stop offset="0.9008" stop-color="#ff7272"/><stop offset="0.9376" stop-color="#ff5757"/><stop offset="0.9996" stop-color="#ff4e4e"/></linearGradient><linearGradient id="f11"><stop offset="0.0004" stop-color="#0000ff"/><stop offset="0.3678" stop-color="#0000ff"/><stop offset="0.3784" stop-color="#3c3cff"/><stop offset="0.3931" stop-color="#6767ff"/><stop offset="0.4200" stop-color="#9292ff"/><stop offset="0.4478" stop-color="#a9a9ff"/><stop offset="0.5147" stop-color="#c0c0ff"/><stop offset="0.6984" stop-color="#d4d4ff"/><stop offset="0.7571" stop-color="#f9f9ff"/><stop offset="0.7645" stop-color="#fffdfd"/><stop offset="0.8984" stop-color="#ff7676"/><stop offset="0.9376" stop-color="#ff5858"/><stop offset="0.9996" stop-color="#ff4e4e"/></linearGradient><linearGradient id="f12"><stop offset="0.0004" stop-color="#0000ff"/><stop offset="0.3694" stop-color="#0101ff"/><stop offset="0.3776" stop-color="#3232ff"/><stop offset="0.3882" stop-color="#5858ff"/><stop offset="0.4045" stop-color="#7a7aff"/><stop offset="0.4331" stop-color="#9e9eff"/><stop offset="0.4820" stop-color="#b7b7ff"/><stop offset="0.5669" stop-color="#c6c6ff"/><stop offset="0.6984" stop-color="#d3d3ff"/><stop offset="0.7580" stop-color="#f7f7ff"/><stop offset="0.7678" stop-color="#fffdfd"/><stop offset="0.8959" stop-color="#ff7979"/><stop offset="0.9384" stop-color="#ff5959"/><stop offset="0.9996" stop-color="#ff4e4e"/></linearGradient><linearGradient id="f13"><stop offset="0.0004" stop-color="#0000ff"/><stop offset="0.3702" stop-color="#0000ff"/><stop offset="0.3800" stop-color="#3737ff"/><stop offset="0.3939" stop-color="#6565ff"/><stop offset="0.4233" stop-color="#9494ff"/><stop offset="0.4592" stop-color="#aeaeff"/><stop offset="0.5335" stop-color="#c2c2ff"/><stop offset="0.6984" stop-color="#d2d2ff"/><stop offset="0.7580" stop-color="#f5f5ff"/><stop offset="0.7702" stop-color="#fffdfd"/><stop offset="0.8935" stop-color="#ff7d7d"/><stop offset="0.9384" stop-color="#ff5a5a"/><stop offset="0.9971" stop-color="#ff4f4f"/><stop offset="0.9996" stop-color="#ff4e4e"/></linearGradient><linearGradient id="f14"><stop offset="0.0004" stop-color="#0000ff"/><stop offset="0.3718" stop-color="#0101ff"/><stop offset="0.3792" stop-color="#2d2dff"/><stop offset="0.3914" stop-color="#5c5cff"/><stop offset="0.4086" stop-color="#7e7eff"/><stop offset="0.4331" stop-color="#9c9cff"/><stop offset="0.4788" stop-color="#b5b5ff"/><stop offset="0.5522" stop-color="#c3c3ff"/><stop offset="0.6984" stop-color="#d0d0ff"/><stop offset="0.7588" stop-color="#f3f3ff"/><stop offset="0.7735" stop-color="#fffdfd"/><stop offset="0.8918" stop-color="#ff8080"/><stop offset="0.9384" stop-color="#ff5c5c"/><stop offset="0.9947" stop-color="#ff4f4f"/><stop offset="0.9996" stop-color="#ff4f4f"/></linearGradient><linearGradient id="f15"><stop offset="0.0004" stop-color="#0000ff"/><stop offset="0.3727" stop-color="#0000ff"/><stop offset="0.3808" stop-color="#3030ff"/><stop offset="0.3947" stop-color="#6363ff"/><stop offset="0.4249" stop-color="#9494ff"/><stop offset="0.4714" stop-color="#b2b2ff"/><stop offset="0.5465" stop-color="#c2c2ff"/><stop offset="0.6992" stop-color="#d0d0ff"/><stop offset="0.7596" stop-color="#f1f1ff"/><stop offset="0.7767" stop-color="#fffdfd"/><stop offset="0.8894" stop-color="#ff8383"/><stop offset="0.9392" stop-color="#ff5d5d"/><stop offset="0.9931" stop-color="#ff4f4f"/><stop offset="0.9996" stop-color="#ff4f4f"/></linearGradient><linearGradient id="f16"><stop offset="0.0004" stop-color="#0000ff"/><stop offset="0.3735" stop-color="#0000ff"/><stop offset="0.3833" stop-color="#3636ff"/><stop offset="0.3963" stop-color="#6666ff"/><stop offset="0.4273" stop-color="#9595ff"/><stop offset="0.4755" stop-color="#b3b3ff"/><stop offset="0.5465" stop-color="#c2c2ff"/><stop offset="0.6992" stop-color="#cfcfff"/><stop offset="0.7596" stop-color="#eeeeff"/><stop offset="0.7800" stop-color="#fffdfd"/><stop offset="0.8878" stop-color="#ff8686"/><stop offset="0.9392" stop-color="#ff5e5e"/><stop offset="0.9914" stop-color="#ff4f4f"/><stop offset="0.9996" stop-color="#ff4f4f"/></linearGradient><linearGradient id="f17"><stop offset="0.0004" stop-color="#0000ff"/><stop offset="0.3751" stop-color="#0202ff"/><stop offset="0.3808" stop-color="#2525ff"/><stop offset="0.3955" stop-color="#6161ff"/><stop offset="0.4249" stop-color="#9292ff"/><stop offset="0.4739" stop-color="#b2b2ff"/><stop offset="0.5449" stop-color="#c1c1ff"/><stop offset="0.6992" stop-color="#ceceff"/><stop offset="0.7596" stop-color="#ececff"/><stop offset="0.7824" stop-color="#fffefe"/><stop offset="0.8861" stop-color="#ff8989"/><stop offset="0.9392" stop-color="#ff5f5f"/><stop offset="0.9906" stop-color="#ff4f4f"/><stop offset="0.9996" stop-color="#ff4f4f"/></linearGradient><linearGradient id="f18"><stop offset="0.0004" stop-color="#0000ff"/><stop offset="0.3759" stop-color="#0202ff"/><stop offset="0.3816" stop-color="#2525ff"/><stop offset="0.3963" stop-color="#6262ff"/><stop offset="0.4273" stop-color="#9494ff"/><stop offset="0.4747" stop-color="#b2b2ff"/><stop offset="0.5441" stop-color="#c1c1ff"/><stop offset="0.6992" stop-color="#cdcdff"/><stop offset="0.7604" stop-color="#ebebff"/><stop offset="0.7857" stop-color="#fffdfd"/><stop offset="0.8845" stop-color="#ff8b8b"/><stop offset="0.9400" stop-color="#ff5f5f"/><stop offset="0.9898" stop-color="#ff4f4f"/><stop offset="0.9996" stop-color="#ff4f4f"/></linearGradient><linearGradient id="f19"><stop offset="0.0004" stop-color="#0000ff"/><stop offset="0.3759" stop-color="#0000ff"/><stop offset="0.3841" stop-color="#2e2eff"/><stop offset="0.3980" stop-color="#6565ff"/><stop offset="0.4290" stop-color="#9595ff"/><stop offset="0.4755" stop-color="#b2b2ff"/><stop offset="0.5441" stop-color="#c1c1ff"/><stop offset="0.7000" stop-color="#ccccff"/><stop offset="0.7604" stop-color="#e9e9ff"/><stop offset="0.7873" stop-color="#fffefe"/><stop offset="0.8845" stop-color="#ff8c8c"/><stop offset="0.9400" stop-color="#ff6060"/><stop offset="0.9898" stop-color="#ff5050"/><stop offset="0.9996" stop-color="#ff5050"/></linearGradient><linearGradient id="f20"><stop offset="0.0004" stop-color="#0000ff"/><stop offset="0.3767" stop-color="#0000ff"/><stop offset="0.3816" stop-color="#2020ff"/><stop offset="0.3971" stop-color="#6262ff"/><stop offset="0.4282" stop-color="#9494ff"/><stop offset="0.4747" stop-color="#b2b2ff"/><stop offset="0.5433" stop-color="#c0c0ff"/><stop offset="0.6992" stop-color="#cbcbff"/><stop offset="0.7604" stop-color="#e8e8ff"/><stop offset="0.7890" stop-color="#fffdfd"/><stop offset="0.8837" stop-color="#ff8d8d"/><stop offset="0.9400" stop-color="#ff6060"/><stop offset="0.9898" stop-color="#ff5050"/><stop offset="0.9996" stop-color="#ff5050"/></linearGradient><linearGradient id="f21"><stop offset="0.0004" stop-color="#0000ff"/><stop offset="0.3767" stop-color="#0000ff"/><stop offset="0.3849" stop-color="#2e2eff"/><stop offset="0.3980" stop-color="#6363ff"/><stop offset="0.4290" stop-color="#9494ff"/><stop offset="0.4747" stop-color="#b1b1ff"/><stop offset="0.5433" stop-color="#bfbfff"/><stop offset="0.6992" stop-color="#c9c9ff"/><stop offset="0.7604" stop-color="#e7e7ff"/><stop offset="0.7898" stop-color="#fffdfd"/><stop offset="0.8845" stop-color="#ff8c8c"/><stop offset="0.9392" stop-color="#ff6060"/><stop offset="0.9906" stop-color="#ff5151"/><stop offset="0.9996" stop-color="#ff5151"/></linearGradient><linearGradient id="f22"><stop offset="0.0004" stop-color="#0000ff"/><stop offset="0.3776" stop-color="#0101ff"/><stop offset="0.3824" stop-color="#2121ff"/><stop offset="0.3963" stop-color="#5d5dff"/><stop offset="0.4135" stop-color="#7d7dff"/><stop offset="0.4322" stop-color="#9595ff"/><stop offset="0.4747" stop-color="#b0b0ff"/><stop offset="0.5441" stop-color="#bebeff"/><stop offset="0.6992" stop-color="#c8c8ff"/><stop offset="0.7604" stop-color="#e6e6ff"/><stop offset="0.7906" stop-color="#fffdfd"/><stop offset="0.8861" stop-color="#ff8a8a"/><stop offset="0.9384" stop-color="#ff6060"/><stop offset="0.9914" stop-color="#ff5151"/><stop offset="0.9996" stop-color="#ff5151"/></linearGradient><linearGradient id="f23"><stop offset="0.0004" stop-color="#0000ff"/><stop offset="0.3776" stop-color="#0000ff"/><stop offset="0.3833" stop-color="#2323ff"/><stop offset="0.3963" stop-color="#5b5bff"/><stop offset="0.4151" stop-color="#7f7fff"/><stop offset="0.4339" stop-color="#9595ff"/><stop offset="0.4739" stop-color="#afafff"/><stop offset="0.5449" stop-color="#bcbcff"/><stop offset="0.6984" stop-color="#c5c5ff"/><stop offset="0.7604" stop-color="#e5e5ff"/><stop offset="0.7914" stop-color="#fffdfd"/><stop offset="0.8878" stop-color="#ff8787"/><stop offset="0.9384" stop-color="#ff5f5f"/><stop offset="0.9939" stop-color="#ff5252"/><stop offset="0.9996" stop-color="#ff5252"/></linearGradient><linearGradient id="f24"><stop offset="0.0004" stop-color="#0000ff"/><stop offset="0.3784" stop-color="#0303ff"/><stop offset="0.3841" stop-color="#2626ff"/><stop offset="0.3963" stop-color="#5a5aff"/><stop offset="0.4192" stop-color="#8484ff"/><stop offset="0.4469" stop-color="#9d9dff"/><stop offset="0.4763" stop-color="#aeaeff"/><stop offset="0.5465" stop-color="#babaff"/><stop offset="0.6976" stop-color="#c2c2ff"/><stop offset="0.7604" stop-color="#e3e3ff"/><stop offset="0.7922" stop-color="#fffdfd"/><stop offset="0.8894" stop-color="#ff8585"/><stop offset="0.9376" stop-color="#ff5e5e"/><stop offset="0.9971" stop-color="#ff5353"/><stop offset="0.9996" stop-color="#ff5353"/></linearGradient><linearGradient id="f25"><stop offset="0.0004" stop-color="#0000ff"/><stop offset="0.3784" stop-color="#0000ff"/><stop offset="0.3833" stop-color="#2020ff"/><stop offset="0.3955" stop-color="#5555ff"/><stop offset="0.4127" stop-color="#7878ff"/><stop offset="0.4314" stop-color="#9090ff"/><stop offset="0.4731" stop-color="#acacff"/><stop offset="0.5465" stop-color="#b8b8ff"/><stop offset="0.6976" stop-color="#bfbfff"/><stop offset="0.7604" stop-color="#e2e2ff"/><stop offset="0.7931" stop-color="#fffdfd"/><stop offset="0.8902" stop-color="#ff8383"/><stop offset="0.9367" stop-color="#ff5e5e"/><stop offset="0.9996" stop-color="#ff5454"/></linearGradient><linearGradient id="f26"><stop offset="0.0004" stop-color="#0000ff"/><stop offset="0.3784" stop-color="#0000ff"/><stop offset="0.3873" stop-color="#3232ff"/><stop offset="0.3971" stop-color="#5959ff"/><stop offset="0.4257" stop-color="#8a8aff"/><stop offset="0.4722" stop-color="#ababff"/><stop offset="0.5473" stop-color="#b6b6ff"/><stop offset="0.6967" stop-color="#bcbcff"/><stop offset="0.7604" stop-color="#e0e0ff"/><stop offset="0.7939" stop-color="#fffefe"/><stop offset="0.8918" stop-color="#ff8181"/><stop offset="0.9367" stop-color="#ff5d5d"/><stop offset="0.9996" stop-color="#ff5656"/></linearGradient><linearGradient id="f27"><stop offset="0.0004" stop-color="#0000ff"/><stop offset="0.3792" stop-color="#0000ff"/><stop offset="0.3841" stop-color="#2121ff"/><stop offset="0.3955" stop-color="#5353ff"/><stop offset="0.4224" stop-color="#8585ff"/><stop offset="0.4714" stop-color="#a9a9ff"/><stop offset="0.5482" stop-color="#b4b4ff"/><stop offset="0.6967" stop-color="#b9b9ff"/><stop offset="0.7604" stop-color="#dfdfff"/><stop offset="0.7947" stop-color="#fffefe"/><stop offset="0.8927" stop-color="#ff7f7f"/><stop offset="0.9359" stop-color="#ff5c5c"/><stop offset="0.9996" stop-color="#ff5757"/></linearGradient><linearGradient id="f28"><stop offset="0.0004" stop-color="#0000ff"/><stop offset="0.3792" stop-color="#0000ff"/><stop offset="0.3865" stop-color="#2c2cff"/><stop offset="0.3955" stop-color="#5252ff"/><stop offset="0.4241" stop-color="#8686ff"/><stop offset="0.4714" stop-color="#a8a8ff"/><stop offset="0.5490" stop-color="#b2b2ff"/><stop offset="0.6967" stop-color="#b7b7ff"/><stop offset="0.7604" stop-color="#ddddff"/><stop offset="0.7955" stop-color="#fffefe"/><stop offset="0.8927" stop-color="#ff7e7e"/><stop offset="0.9359" stop-color="#ff5b5b"/><stop offset="0.9996" stop-color="#ff5858"/></linearGradient><linearGradient id="f29"><stop offset="0.0004" stop-color="#0000ff"/><stop offset="0.3800" stop-color="#0202ff"/><stop offset="0.3849" stop-color="#2222ff"/><stop offset="0.3955" stop-color="#5151ff"/><stop offset="0.4249" stop-color="#8686ff"/><stop offset="0.4714" stop-color="#a8a8ff"/><stop offset="0.5498" stop-color="#b1b1ff"/><stop offset="0.6959" stop-color="#b4b4ff"/><stop offset="0.7604" stop-color="#dcdcff"/><stop offset="0.7963" stop-color="#fffdfd"/><stop offset="0.8927" stop-color="#ff7d7d"/><stop offset="0.9359" stop-color="#ff5a5a"/><stop offset="0.9996" stop-color="#ff5858"/></linearGradient><linearGradient id="f30"><stop offset="0.0004" stop-color="#0000ff"/><stop offset="0.3800" stop-color="#0101ff"/><stop offset="0.3849" stop-color="#2121ff"/><stop offset="0.3955" stop-color="#5050ff"/><stop offset="0.4249" stop-color="#8585ff"/><stop offset="0.4714" stop-color="#a7a7ff"/><stop offset="0.5506" stop-color="#b0b0ff"/><stop offset="0.6959" stop-color="#b3b3ff"/><stop offset="0.7596" stop-color="#dbdbff"/><stop offset="0.7963" stop-color="#fffefe"/><stop offset="0.8927" stop-color="#ff7c7c"/><stop offset="0.9359" stop-color="#ff5959"/><stop offset="0.9996" stop-color="#ff5959"/></linearGradient><linearGradient id="f31"><stop offset="0.0004" stop-color="#0000ff"/><stop offset="0.3800" stop-color="#0000ff"/><stop offset="0.3849" stop-color="#2020ff"/><stop offset="0.3955" stop-color="#5050ff"/><stop offset="0.4249" stop-color="#8585ff"/><stop offset="0.4714" stop-color="#a7a7ff"/><stop offset="0.5522" stop-color="#afafff"/><stop offset="0.6959" stop-color="#b2b2ff"/><stop offset="0.7596" stop-color="#dadaff"/><stop offset="0.7963" stop-color="#fffefe"/><stop offset="0.8927" stop-color="#ff7b7b"/><stop offset="0.9359" stop-color="#ff5858"/><stop offset="0.9996" stop-color="#ff5858"/></linearGradient><linearGradient id="f32"><stop offset="0.0004" stop-color="#0000ff"/><stop offset="0.3800" stop-color="#0000ff"/><stop offset="0.3857" stop-color="#2424ff"/><stop offset="0.3955" stop-color="#4f4fff"/><stop offset="0.4249" stop-color="#8484ff"/><stop offset="0.4714" stop-color="#a6a6ff"/><stop offset="0.5539" stop-color="#aeaeff"/><stop offset="0.6959" stop-color="#b1b1ff"/><stop offset="0.7596" stop-color="#dadaff"/><stop offset="0.7963" stop-color="#fffefe"/><stop offset="0.8918" stop-color="#ff7979"/><stop offset="0.9351" stop-color="#ff5656"/><stop offset="0.9996" stop-color="#ff5757"/></linearGradient><linearGradient id="f33"><stop offset="0.0004" stop-color="#0000ff"/><stop offset="0.3800" stop-color="#0000ff"/><stop offset="0.3882" stop-color="#2f2fff"/><stop offset="0.3963" stop-color="#5050ff"/><stop offset="0.4249" stop-color="#8383ff"/><stop offset="0.4714" stop-color="#a4a4ff"/><stop offset="0.5555" stop-color="#acacff"/><stop offset="0.6959" stop-color="#b0b0ff"/><stop offset="0.7596" stop-color="#d9d9ff"/><stop offset="0.7963" stop-color="#fffefe"/><stop offset="0.8902" stop-color="#ff7979"/><stop offset="0.9351" stop-color="#ff5454"/><stop offset="0.9996" stop-color="#ff5555"/></linearGradient><linearGradient id="f34"><stop offset="0.0004" stop-color="#0000ff"/><stop offset="0.3808" stop-color="#0303ff"/><stop offset="0.3873" stop-color="#2929ff"/><stop offset="0.3963" stop-color="#4e4eff"/><stop offset="0.4257" stop-color="#8282ff"/><stop offset="0.4714" stop-color="#a2a2ff"/><stop offset="0.5596" stop-color="#a9a9ff"/><stop offset="0.6959" stop-color="#adadff"/><stop offset="0.7596" stop-color="#d7d7ff"/><stop offset="0.7971" stop-color="#fffdfd"/><stop offset="0.8886" stop-color="#ff7878"/><stop offset="0.9351" stop-color="#ff5252"/><stop offset="0.9996" stop-color="#ff5353"/></linearGradient><linearGradient id="f35"><stop offset="0.0004" stop-color="#0000ff"/><stop offset="0.3808" stop-color="#0101ff"/><stop offset="0.3865" stop-color="#2323ff"/><stop offset="0.3963" stop-color="#4c4cff"/><stop offset="0.4257" stop-color="#8181ff"/><stop offset="0.4714" stop-color="#a0a0ff"/><stop offset="0.5645" stop-color="#a6a6ff"/><stop offset="0.6959" stop-color="#ababff"/><stop offset="0.7596" stop-color="#d6d6ff"/><stop offset="0.7971" stop-color="#fffefe"/><stop offset="0.8869" stop-color="#ff7878"/><stop offset="0.9351" stop-color="#ff5050"/><stop offset="0.9996" stop-color="#ff5252"/></linearGradient><linearGradient id="f36"><stop offset="0.0004" stop-color="#0000ff"/><stop offset="0.3808" stop-color="#0000ff"/><stop offset="0.3873" stop-color="#2626ff"/><stop offset="0.3963" stop-color="#4b4bff"/><stop offset="0.4257" stop-color="#8181ff"/><stop offset="0.4714" stop-color="#9f9fff"/><stop offset="0.5702" stop-color="#a5a5ff"/><stop offset="0.6959" stop-color="#aaaaff"/><stop offset="0.7596" stop-color="#d5d5ff"/><stop offset="0.7963" stop-color="#fffefe"/><stop offset="0.8845" stop-color="#ff7777"/><stop offset="0.9351" stop-color="#ff4d4d"/><stop offset="0.9996" stop-color="#ff4f4f"/></linearGradient><linearGradient id="f37"><stop offset="0.0004" stop-color="#0000ff"/><stop offset="0.3808" stop-color="#0000ff"/><stop offset="0.3873" stop-color="#2727ff"/><stop offset="0.3971" stop-color="#4e4eff"/><stop offset="0.4265" stop-color="#8383ff"/><stop offset="0.4714" stop-color="#a1a1ff"/><stop offset="0.5751" stop-color="#a7a7ff"/><stop offset="0.6959" stop-color="#acacff"/><stop offset="0.7596" stop-color="#d7d7ff"/><stop offset="0.7947" stop-color="#fffefe"/><stop offset="0.8812" stop-color="#ff7777"/><stop offset="0.9351" stop-color="#ff4949"/><stop offset="0.9996" stop-color="#ff4d4d"/></linearGradient><linearGradient id="f38"><stop offset="0.0004" stop-color="#0000ff"/><stop offset="0.3808" stop-color="#0000ff"/><stop offset="0.3865" stop-color="#2424ff"/><stop offset="0.3963" stop-color="#4d4dff"/><stop offset="0.4265" stop-color="#8585ff"/><stop offset="0.4714" stop-color="#a3a3ff"/><stop offset="0.5792" stop-color="#aaaaff"/><stop offset="0.6959" stop-color="#afafff"/><stop offset="0.7596" stop-color="#dadaff"/><stop offset="0.7931" stop-color="#fffefe"/><stop offset="0.8788" stop-color="#ff7575"/><stop offset="0.9351" stop-color="#ff4545"/><stop offset="0.9996" stop-color="#ff4a4a"/></linearGradient><linearGradient id="f39"><stop offset="0.0004" stop-color="#0000ff"/><stop offset="0.3808" stop-color="#0000ff"/><stop offset="0.3857" stop-color="#2020ff"/><stop offset="0.3963" stop-color="#4d4dff"/><stop offset="0.4265" stop-color="#8787ff"/><stop offset="0.4714" stop-color="#a5a5ff"/><stop offset="0.5857" stop-color="#acacff"/><stop offset="0.6959" stop-color="#b1b1ff"/><stop offset="0.7596" stop-color="#dcdcff"/><stop offset="0.7914" stop-color="#fffefe"/><stop offset="0.8763" stop-color="#ff7373"/><stop offset="0.9343" stop-color="#ff4242"/><stop offset="0.9996" stop-color="#ff4747"/></linearGradient><linearGradient id="f40"><stop offset="0.0004" stop-color="#0000ff"/><stop offset="0.3808" stop-color="#0000ff"/><stop offset="0.3857" stop-color="#2020ff"/><stop offset="0.3963" stop-color="#4e4eff"/><stop offset="0.4273" stop-color="#8989ff"/><stop offset="0.4714" stop-color="#a6a6ff"/><stop offset="0.5947" stop-color="#adadff"/><stop offset="0.6959" stop-color="#b2b2ff"/><stop offset="0.7588" stop-color="#dcdcff"/><stop offset="0.7906" stop-color="#fffdfd"/><stop offset="0.8747" stop-color="#ff7070"/><stop offset="0.9343" stop-color="#ff3e3e"/><stop offset="0.9996" stop-color="#ff4444"/></linearGradient><linearGradient id="f41"><stop offset="0.0004" stop-color="#0000ff"/><stop offset="0.3808" stop-color="#0000ff"/><stop offset="0.3865" stop-color="#2424ff"/><stop offset="0.3971" stop-color="#5050ff"/><stop offset="0.4273" stop-color="#8989ff"/><stop offset="0.4714" stop-color="#a6a6ff"/><stop offset="0.6094" stop-color="#aeaeff"/><stop offset="0.6959" stop-color="#b2b2ff"/><stop offset="0.7588" stop-color="#ddddff"/><stop offset="0.7898" stop-color="#fffdfd"/><stop offset="0.8731" stop-color="#ff6e6e"/><stop offset="0.9327" stop-color="#ff3b3b"/><stop offset="0.9996" stop-color="#ff4242"/></linearGradient><linearGradient id="f42"><stop offset="0.0004" stop-color="#0000ff"/><stop offset="0.3808" stop-color="#0000ff"/><stop offset="0.3873" stop-color="#2727ff"/><stop offset="0.3980" stop-color="#5151ff"/><stop offset="0.4282" stop-color="#8a8aff"/><stop offset="0.4714" stop-color="#a6a6ff"/><stop offset="0.6322" stop-color="#aeaeff"/><stop offset="0.6959" stop-color="#b2b2ff"/><stop offset="0.7588" stop-color="#ddddff"/><stop offset="0.7890" stop-color="#fffefe"/><stop offset="0.8714" stop-color="#ff6c6c"/><stop offset="0.9278" stop-color="#ff3a3a"/><stop offset="0.9735" stop-color="#ff3b3b"/><stop offset="0.9996" stop-color="#ff3f3f"/></linearGradient><linearGradient id="f43"><stop offset="0.0004" stop-color="#0000ff"/><stop offset="0.3808" stop-color="#0000ff"/><stop offset="0.3882" stop-color="#2b2bff"/><stop offset="0.3988" stop-color="#5353ff"/><stop offset="0.4282" stop-color="#8b8bff"/><stop offset="0.4714" stop-color="#a6a6ff"/><stop offset="0.6714" stop-color="#afafff"/><stop offset="0.6984" stop-color="#b4b4ff"/><stop offset="0.7588" stop-color="#ddddff"/><stop offset="0.7882" stop-color="#fffefe"/><stop offset="0.8690" stop-color="#ff6c6c"/><stop offset="0.9000" stop-color="#ff4d4d"/><stop offset="0.9359" stop-color="#ff3434"/><stop offset="0.9996" stop-color="#ff3d3d"/></linearGradient><linearGradient id="f44"><stop offset="0.0004" stop-color="#0000ff"/><stop offset="0.3808" stop-color="#0000ff"/><stop offset="0.3890" stop-color="#2e2eff"/><stop offset="0.3988" stop-color="#5353ff"/><stop offset="0.4290" stop-color="#8c8cff"/><stop offset="0.4722" stop-color="#a6a6ff"/><stop offset="0.6959" stop-color="#b3b3ff"/><stop offset="0.7588" stop-color="#dedeff"/><stop offset="0.7882" stop-color="#fffefe"/><stop offset="0.8665" stop-color="#ff6c6c"/><stop offset="0.8878" stop-color="#ff5454"/><stop offset="0.9351" stop-color="#ff3131"/><stop offset="0.9996" stop-color="#ff3a3a"/></linearGradient><linearGradient id="f45"><stop offset="0.0004" stop-color="#0000ff"/><stop offset="0.3816" stop-color="#0202ff"/><stop offset="0.3865" stop-color="#2222ff"/><stop offset="0.3980" stop-color="#5050ff"/><stop offset="0.4290" stop-color="#8c8cff"/><stop offset="0.4722" stop-color="#a6a6ff"/><stop offset="0.6959" stop-color="#b3b3ff"/><stop offset="0.7588" stop-color="#dedeff"/><stop offset="0.7873" stop-color="#fffefe"/><stop offset="0.8649" stop-color="#ff6b6b"/><stop offset="0.8837" stop-color="#ff5454"/><stop offset="0.9351" stop-color="#ff2e2e"/><stop offset="0.9996" stop-color="#ff3838"/></linearGradient><linearGradient id="f46"><stop offset="0.0004" stop-color="#0000ff"/><stop offset="0.3816" stop-color="#0202ff"/><stop offset="0.3865" stop-color="#2121ff"/><stop offset="0.3980" stop-color="#5050ff"/><stop offset="0.4290" stop-color="#8c8cff"/><stop offset="0.4722" stop-color="#a6a6ff"/><stop offset="0.6959" stop-color="#b3b3ff"/><stop offset="0.7588" stop-color="#dedeff"/><stop offset="0.7873" stop-color="#fffefe"/><stop offset="0.8641" stop-color="#ff6a6a"/><stop offset="0.8820" stop-color="#ff5252"/><stop offset="0.9351" stop-color="#ff2c2c"/><stop offset="0.9996" stop-color="#ff3636"/></linearGradient><linearGradient id="f47"><stop offset="0.0004" stop-color="#0000ff"/><stop offset="0.3816" stop-color="#0101ff"/><stop offset="0.3865" stop-color="#2121ff"/><stop offset="0.3980" stop-color="#4f4fff"/><stop offset="0.4290" stop-color="#8d8dff"/><stop offset="0.4722" stop-color="#a6a6ff"/><stop offset="0.6959" stop-color="#b3b3ff"/><stop offset="0.7588" stop-color="#dfdfff"/><stop offset="0.7873" stop-color="#fffdfd"/><stop offset="0.8633" stop-color="#ff6868"/><stop offset="0.8812" stop-color="#ff5151"/><stop offset="0.9351" stop-color="#ff2a2a"/><stop offset="0.9996" stop-color="#ff3535"/></linearGradient><linearGradient id="f48"><stop offset="0.0004" stop-color="#0000ff"/><stop offset="0.3816" stop-color="#0101ff"/><stop offset="0.3865" stop-color="#2121ff"/><stop offset="0.3980" stop-color="#4f4fff"/><stop offset="0.4290" stop-color="#8d8dff"/><stop offset="0.4722" stop-color="#a6a6ff"/><stop offset="0.6959" stop-color="#b3b3ff"/><stop offset="0.7588" stop-color="#dfdfff"/><stop offset="0.7865" stop-color="#fffefe"/><stop offset="0.8624" stop-color="#ff6868"/><stop offset="0.8804" stop-color="#ff4f4f"/><stop offset="0.9351" stop-color="#ff2828"/><stop offset="0.9996" stop-color="#ff3333"/></linearGradient><linearGradient id="f49"><stop offset="0.0004" stop-color="#0000ff"/><stop offset="0.3816" stop-color="#0101ff"/><stop offset="0.3865" stop-color="#2121ff"/><stop offset="0.3980" stop-color="#4f4fff"/><stop offset="0.4290" stop-color="#8d8dff"/><stop offset="0.4722" stop-color="#a6a6ff"/><stop offset="0.6959" stop-color="#b3b3ff"/><stop offset="0.7580" stop-color="#dedeff"/><stop offset="0.7865" stop-color="#fffdfd"/><stop offset="0.8616" stop-color="#ff6767"/><stop offset="0.8796" stop-color="#ff4e4e"/><stop offset="0.9351" stop-color="#ff2626"/><stop offset="0.9996" stop-color="#ff3232"/></linearGradient><linearGradient id="f50"><stop offset="0.0004" stop-color="#0000ff"/><stop offset="0.3808" stop-color="#0000ff"/><stop offset="0.3890" stop-color="#2d2dff"/><stop offset="0.3996" stop-color="#5454ff"/><stop offset="0.4290" stop-color="#8d8dff"/><stop offset="0.4722" stop-color="#a7a7ff"/><stop offset="0.6959" stop-color="#b3b3ff"/><stop offset="0.7580" stop-color="#dedeff"/><stop offset="0.7857" stop-color="#fffefe"/><stop offset="0.8616" stop-color="#ff6666"/><stop offset="0.8804" stop-color="#ff4c4c"/><stop offset="0.9351" stop-color="#ff2525"/><stop offset="0.9996" stop-color="#ff3131"/></linearGradient><linearGradient id="f51"><stop offset="0.0004" stop-color="#0000ff"/><stop offset="0.3808" stop-color="#0000ff"/><stop offset="0.3873" stop-color="#2727ff"/><stop offset="0.3988" stop-color="#5252ff"/><stop offset="0.4290" stop-color="#8c8cff"/><stop offset="0.4714" stop-color="#a7a7ff"/><stop offset="0.6959" stop-color="#b3b3ff"/><stop offset="0.7580" stop-color="#dedeff"/><stop offset="0.7849" stop-color="#fffefe"/><stop offset="0.8608" stop-color="#ff6565"/><stop offset="0.8804" stop-color="#ff4a4a"/><stop offset="0.9327" stop-color="#ff2424"/><stop offset="0.9996" stop-color="#ff3030"/></linearGradient><linearGradient id="f52"><stop offset="0.0004" stop-color="#0000ff"/><stop offset="0.3808" stop-color="#0101ff"/><stop offset="0.3857" stop-color="#2020ff"/><stop offset="0.3980" stop-color="#5151ff"/><stop offset="0.4290" stop-color="#8c8cff"/><stop offset="0.4714" stop-color="#a7a7ff"/><stop offset="0.6959" stop-color="#b3b3ff"/><stop offset="0.7571" stop-color="#ddddff"/><stop offset="0.7841" stop-color="#fffefe"/><stop offset="0.8592" stop-color="#ff6666"/><stop offset="0.8804" stop-color="#ff4848"/><stop offset="0.9286" stop-color="#ff2424"/><stop offset="0.9996" stop-color="#ff2f2f"/></linearGradient><linearGradient id="f53"><stop offset="0.0004" stop-color="#0000ff"/><stop offset="0.3800" stop-color="#0000ff"/><stop offset="0.3873" stop-color="#2929ff"/><stop offset="0.3988" stop-color="#5454ff"/><stop offset="0.4290" stop-color="#8c8cff"/><stop offset="0.4714" stop-color="#a7a7ff"/><stop offset="0.6959" stop-color="#b4b4ff"/><stop offset="0.7571" stop-color="#dedeff"/><stop offset="0.7833" stop-color="#fffefe"/><stop offset="0.8584" stop-color="#ff6565"/><stop offset="0.8804" stop-color="#ff4646"/><stop offset="0.9220" stop-color="#ff2626"/><stop offset="0.9441" stop-color="#ff2323"/><stop offset="0.9996" stop-color="#ff2d2d"/></linearGradient><linearGradient id="f54"><stop offset="0.0004" stop-color="#0000ff"/><stop offset="0.3800" stop-color="#0000ff"/><stop offset="0.3849" stop-color="#1f1fff"/><stop offset="0.3971" stop-color="#5050ff"/><stop offset="0.4282" stop-color="#8b8bff"/><stop offset="0.4714" stop-color="#a8a8ff"/><stop offset="0.6959" stop-color="#b4b4ff"/><stop offset="0.7563" stop-color="#ddddff"/><stop offset="0.7824" stop-color="#fffefe"/><stop offset="0.8567" stop-color="#ff6565"/><stop offset="0.8804" stop-color="#ff4444"/><stop offset="0.9188" stop-color="#ff2525"/><stop offset="0.9424" stop-color="#ff2121"/><stop offset="0.9996" stop-color="#ff2c2c"/></linearGradient><linearGradient id="f55"><stop offset="0.0004" stop-color="#0000ff"/><stop offset="0.3792" stop-color="#0000ff"/><stop offset="0.3882" stop-color="#2f2fff"/><stop offset="0.3988" stop-color="#5555ff"/><stop offset="0.4282" stop-color="#8a8aff"/><stop offset="0.4706" stop-color="#a8a8ff"/><stop offset="0.6959" stop-color="#b4b4ff"/><stop offset="0.7563" stop-color="#ddddff"/><stop offset="0.7816" stop-color="#fffefe"/><stop offset="0.8551" stop-color="#ff6565"/><stop offset="0.8804" stop-color="#ff4141"/><stop offset="0.9163" stop-color="#ff2323"/><stop offset="0.9433" stop-color="#ff1f1f"/><stop offset="0.9996" stop-color="#ff2a2a"/></linearGradient><linearGradient id="f56"><stop offset="0.0004" stop-color="#0000ff"/><stop offset="0.3792" stop-color="#0000ff"/><stop offset="0.3849" stop-color="#2222ff"/><stop offset="0.3971" stop-color="#5252ff"/><stop offset="0.4273" stop-color="#8989ff"/><stop offset="0.4706" stop-color="#a8a8ff"/><stop offset="0.6959" stop-color="#b5b5ff"/><stop offset="0.7563" stop-color="#ddddff"/><stop offset="0.7808" stop-color="#fffefe"/><stop offset="0.8543" stop-color="#ff6464"/><stop offset="0.8812" stop-color="#ff3e3e"/><stop offset="0.9155" stop-color="#ff2020"/><stop offset="0.9465" stop-color="#ff1e1e"/><stop offset="0.9996" stop-color="#ff2929"/></linearGradient><linearGradient id="f57"><stop offset="0.0004" stop-color="#0000ff"/><stop offset="0.3792" stop-color="#0303ff"/><stop offset="0.3849" stop-color="#2323ff"/><stop offset="0.3971" stop-color="#5353ff"/><stop offset="0.4273" stop-color="#8989ff"/><stop offset="0.4706" stop-color="#a9a9ff"/><stop offset="0.6959" stop-color="#b5b5ff"/><stop offset="0.7555" stop-color="#dcdcff"/><stop offset="0.7800" stop-color="#fffefe"/><stop offset="0.8527" stop-color="#ff6464"/><stop offset="0.8812" stop-color="#ff3b3b"/><stop offset="0.9147" stop-color="#ff1d1d"/><stop offset="0.9506" stop-color="#ff1d1d"/><stop offset="0.9996" stop-color="#ff2727"/></linearGradient><linearGradient id="f58"><stop offset="0.0004" stop-color="#0000ff"/><stop offset="0.3784" stop-color="#0000ff"/><stop offset="0.3841" stop-color="#2121ff"/><stop offset="0.3963" stop-color="#5252ff"/><stop offset="0.4273" stop-color="#8989ff"/><stop offset="0.4706" stop-color="#a9a9ff"/><stop offset="0.6959" stop-color="#b5b5ff"/><stop offset="0.7555" stop-color="#dcdcff"/><stop offset="0.7792" stop-color="#fffefe"/><stop offset="0.8518" stop-color="#ff6363"/><stop offset="0.8812" stop-color="#ff3939"/><stop offset="0.9139" stop-color="#ff1a1a"/><stop offset="0.9604" stop-color="#ff1e1e"/><stop offset="0.9996" stop-color="#ff2626"/></linearGradient><linearGradient id="f59"><stop offset="0.0004" stop-color="#0000ff"/><stop offset="0.3784" stop-color="#0202ff"/><stop offset="0.3841" stop-color="#2222ff"/><stop offset="0.3963" stop-color="#5353ff"/><stop offset="0.4265" stop-color="#8787ff"/><stop offset="0.4706" stop-color="#aaaaff"/><stop offset="0.6959" stop-color="#b6b6ff"/><stop offset="0.7555" stop-color="#dcdcff"/><stop offset="0.7784" stop-color="#fffefe"/><stop offset="0.8510" stop-color="#ff6262"/><stop offset="0.8812" stop-color="#ff3737"/><stop offset="0.9131" stop-color="#ff1717"/><stop offset="0.9816" stop-color="#ff2020"/><stop offset="0.9996" stop-color="#ff2424"/></linearGradient><linearGradient id="f60"><stop offset="0.0004" stop-color="#0000ff"/><stop offset="0.3776" stop-color="#0000ff"/><stop offset="0.3849" stop-color="#2727ff"/><stop offset="0.3963" stop-color="#5454ff"/><stop offset="0.4265" stop-color="#8787ff"/><stop offset="0.4706" stop-color="#aaaaff"/><stop offset="0.6959" stop-color="#b6b6ff"/><stop offset="0.7547" stop-color="#dbdbff"/><stop offset="0.7784" stop-color="#fffefe"/><stop offset="0.8502" stop-color="#ff6161"/><stop offset="0.8820" stop-color="#ff3434"/><stop offset="0.9131" stop-color="#ff1414"/><stop offset="0.9996" stop-color="#ff2323"/></linearGradient><linearGradient id="f61"><stop offset="0.0004" stop-color="#0000ff"/><stop offset="0.3776" stop-color="#0000ff"/><stop offset="0.3824" stop-color="#1d1dff"/><stop offset="0.3955" stop-color="#5252ff"/><stop offset="0.4257" stop-color="#8686ff"/><stop offset="0.4698" stop-color="#aaaaff"/><stop offset="0.6967" stop-color="#b7b7ff"/><stop offset="0.7547" stop-color="#dbdbff"/><stop offset="0.7776" stop-color="#fffefe"/><stop offset="0.8494" stop-color="#ff6060"/><stop offset="0.8820" stop-color="#ff3232"/><stop offset="0.9131" stop-color="#ff1212"/><stop offset="0.9996" stop-color="#ff2222"/></linearGradient><linearGradient id="f62"><stop offset="0.0004" stop-color="#0000ff"/><stop offset="0.3776" stop-color="#0303ff"/><stop offset="0.3841" stop-color="#2525ff"/><stop offset="0.3955" stop-color="#5353ff"/><stop offset="0.4257" stop-color="#8686ff"/><stop offset="0.4698" stop-color="#aaaaff"/><stop offset="0.6967" stop-color="#b7b7ff"/><stop offset="0.7547" stop-color="#dbdbff"/><stop offset="0.7776" stop-color="#fffefe"/><stop offset="0.8486" stop-color="#ff6060"/><stop offset="0.8820" stop-color="#ff3030"/><stop offset="0.9122" stop-color="#ff1010"/><stop offset="0.9996" stop-color="#ff2121"/></linearGradient><linearGradient id="f63"><stop offset="0.0004" stop-color="#0000ff"/><stop offset="0.3767" stop-color="#0000ff"/><stop offset="0.3841" stop-color="#2727ff"/><stop offset="0.3955" stop-color="#5454ff"/><stop offset="0.4257" stop-color="#8686ff"/><stop offset="0.4698" stop-color="#aaaaff"/><stop offset="0.6967" stop-color="#b7b7ff"/><stop offset="0.7547" stop-color="#dcdcff"/><stop offset="0.7767" stop-color="#ffffff"/><stop offset="0.8486" stop-color="#ff5f5f"/><stop offset="0.8829" stop-color="#ff2e2e"/><stop offset="0.9122" stop-color="#ff0e0e"/><stop offset="0.9996" stop-color="#ff2020"/></linearGradient><linearGradient id="f64"><stop offset="0.0004" stop-color="#0000ff"/><stop offset="0.3767" stop-color="#0202ff"/><stop offset="0.3824" stop-color="#2121ff"/><stop offset="0.3947" stop-color="#5353ff"/><stop offset="0.4257" stop-color="#8686ff"/><stop offset="0.4698" stop-color="#ababff"/><stop offset="0.6967" stop-color="#b7b7ff"/><stop offset="0.7547" stop-color="#dcdcff"/><stop offset="0.7767" stop-color="#fffefe"/><stop offset="0.8486" stop-color="#ff5e5e"/><stop offset="0.8837" stop-color="#ff2b2b"/><stop offset="0.9122" stop-color="#ff0d0d"/><stop offset="0.9996" stop-color="#ff1f1f"/></linearGradient><linearGradient id="f65"><stop offset="0.0004" stop-color="#0000ff"/><stop offset="0.3759" stop-color="#0101ff"/><stop offset="0.3824" stop-color="#2424ff"/><stop offset="0.3947" stop-color="#5555ff"/><stop offset="0.4249" stop-color="#8686ff"/><stop offset="0.4698" stop-color="#ababff"/><stop offset="0.6967" stop-color="#b7b7ff"/><stop offset="0.7547" stop-color="#dcdcff"/><stop offset="0.7767" stop-color="#fffefe"/><stop offset="0.8486" stop-color="#ff5d5d"/><stop offset="0.8837" stop-color="#ff2929"/><stop offset="0.9122" stop-color="#ff0c0c"/><stop offset="0.9996" stop-color="#ff1f1f"/></linearGradient><linearGradient id="f66"><stop offset="0.0004" stop-color="#0000ff"/><stop offset="0.3751" stop-color="#0000ff"/><stop offset="0.3833" stop-color="#2c2cff"/><stop offset="0.3939" stop-color="#5555ff"/><stop offset="0.4249" stop-color="#8787ff"/><stop offset="0.4698" stop-color="#ababff"/><stop offset="0.6967" stop-color="#b8b8ff"/><stop offset="0.7547" stop-color="#dcdcff"/><stop offset="0.7759" stop-color="#ffffff"/><stop offset="0.8494" stop-color="#ff5b5b"/><stop offset="0.8845" stop-color="#ff2525"/><stop offset="0.9122" stop-color="#ff0a0a"/><stop offset="0.9996" stop-color="#ff1e1e"/></linearGradient><linearGradient id="f67"><stop offset="0.0004" stop-color="#0000ff"/><stop offset="0.3743" stop-color="#0000ff"/><stop offset="0.3841" stop-color="#3434ff"/><stop offset="0.3947" stop-color="#5959ff"/><stop offset="0.4249" stop-color="#8888ff"/><stop offset="0.4698" stop-color="#ababff"/><stop offset="0.6967" stop-color="#b8b8ff"/><stop offset="0.7547" stop-color="#dcdcff"/><stop offset="0.7759" stop-color="#fffefe"/><stop offset="0.8494" stop-color="#ff5b5b"/><stop offset="0.8845" stop-color="#ff2323"/><stop offset="0.9131" stop-color="#ff0909"/><stop offset="0.9996" stop-color="#ff1e1e"/></linearGradient><linearGradient id="f68"><stop offset="0.0004" stop-color="#0000ff"/><stop offset="0.3735" stop-color="#0101ff"/><stop offset="0.3833" stop-color="#3535ff"/><stop offset="0.3939" stop-color="#5a5aff"/><stop offset="0.4249" stop-color="#8989ff"/><stop offset="0.4706" stop-color="#acacff"/><stop offset="0.6967" stop-color="#b8b8ff"/><stop offset="0.7547" stop-color="#dcdcff"/><stop offset="0.7759" stop-color="#fffdfd"/><stop offset="0.8502" stop-color="#ff5959"/><stop offset="0.8845" stop-color="#ff2020"/><stop offset="0.9131" stop-color="#ff0707"/><stop offset="0.9849" stop-color="#ff1919"/><stop offset="0.9996" stop-color="#ff1d1d"/></linearGradient><linearGradient id="f69"><stop offset="0.0004" stop-color="#0000ff"/><stop offset="0.3727" stop-color="#0101ff"/><stop offset="0.3824" stop-color="#3737ff"/><stop offset="0.3931" stop-color="#5a5aff"/><stop offset="0.4241" stop-color="#8a8aff"/><stop offset="0.4698" stop-color="#acacff"/><stop offset="0.6461" stop-color="#b4b4ff"/><stop offset="0.6976" stop-color="#b9b9ff"/><stop offset="0.7539" stop-color="#dbdbff"/><stop offset="0.7751" stop-color="#fffefe"/><stop offset="0.8510" stop-color="#ff5757"/><stop offset="0.8853" stop-color="#ff1c1c"/><stop offset="0.9131" stop-color="#ff0505"/><stop offset="0.9759" stop-color="#ff1414"/><stop offset="0.9996" stop-color="#ff1d1d"/></linearGradient><linearGradient id="f70"><stop offset="0.0004" stop-color="#0000ff"/><stop offset="0.3718" stop-color="#0303ff"/><stop offset="0.3824" stop-color="#3c3cff"/><stop offset="0.3931" stop-color="#5d5dff"/><stop offset="0.4241" stop-color="#8b8bff"/><stop offset="0.4690" stop-color="#acacff"/><stop offset="0.6208" stop-color="#b4b4ff"/><stop offset="0.6967" stop-color="#b8b8ff"/><stop offset="0.7539" stop-color="#dbdbff"/><stop offset="0.7743" stop-color="#ffffff"/><stop offset="0.8535" stop-color="#ff5151"/><stop offset="0.8853" stop-color="#ff1818"/><stop offset="0.9139" stop-color="#ff0303"/><stop offset="0.9710" stop-color="#ff1010"/><stop offset="0.9996" stop-color="#ff1c1c"/></linearGradient><linearGradient id="f71"><stop offset="0.0004" stop-color="#0000ff"/><stop offset="0.3702" stop-color="#0000ff"/><stop offset="0.3816" stop-color="#3e3eff"/><stop offset="0.3922" stop-color="#5e5eff"/><stop offset="0.4233" stop-color="#8c8cff"/><stop offset="0.4673" stop-color="#acacff"/><stop offset="0.5955" stop-color="#b4b4ff"/><stop offset="0.6967" stop-color="#b9b9ff"/><stop offset="0.7539" stop-color="#dcdcff"/><stop offset="0.7743" stop-color="#fffefe"/><stop offset="0.8592" stop-color="#ff4444"/><stop offset="0.8861" stop-color="#ff1414"/><stop offset="0.9139" stop-color="#ff0101"/><stop offset="0.9678" stop-color="#ff0d0d"/><stop offset="0.9996" stop-color="#ff1b1b"/></linearGradient><linearGradient id="f72"><stop offset="0.0004" stop-color="#0000ff"/><stop offset="0.3694" stop-color="#0202ff"/><stop offset="0.3808" stop-color="#4141ff"/><stop offset="0.3922" stop-color="#6161ff"/><stop offset="0.4233" stop-color="#8d8dff"/><stop offset="0.4649" stop-color="#acacff"/><stop offset="0.5637" stop-color="#b4b4ff"/><stop offset="0.6967" stop-color="#b9b9ff"/><stop offset="0.7539" stop-color="#dcdcff"/><stop offset="0.7735" stop-color="#ffffff"/><stop offset="0.8714" stop-color="#ff2929"/><stop offset="0.8878" stop-color="#ff0f0f"/><stop offset="0.9131" stop-color="#ff0000"/><stop offset="0.9645" stop-color="#ff0909"/><stop offset="0.9996" stop-color="#ff1a1a"/></linearGradient><linearGradient id="f73"><stop offset="0.0004" stop-color="#0000ff"/><stop offset="0.3678" stop-color="#0000ff"/><stop offset="0.3800" stop-color="#4343ff"/><stop offset="0.3922" stop-color="#6464ff"/><stop offset="0.4224" stop-color="#8e8eff"/><stop offset="0.4592" stop-color="#a9a9ff"/><stop offset="0.5327" stop-color="#b4b4ff"/><stop offset="0.6967" stop-color="#b9b9ff"/><stop offset="0.7539" stop-color="#dcdcff"/><stop offset="0.7735" stop-color="#fffefe"/><stop offset="0.8820" stop-color="#ff1212"/><stop offset="0.9090" stop-color="#ff0000"/><stop offset="0.9612" stop-color="#ff0505"/><stop offset="0.9996" stop-color="#ff1a1a"/></linearGradient><linearGradient id="f74"><stop offset="0.0004" stop-color="#0000ff"/><stop offset="0.3669" stop-color="#0101ff"/><stop offset="0.3784" stop-color="#4343ff"/><stop offset="0.3906" stop-color="#6363ff"/><stop offset="0.4200" stop-color="#8d8dff"/><stop offset="0.4527" stop-color="#a6a6ff"/><stop offset="0.4894" stop-color="#b1b1ff"/><stop offset="0.6967" stop-color="#babaff"/><stop offset="0.7539" stop-color="#dcdcff"/><stop offset="0.7727" stop-color="#fffefe"/><stop offset="0.8306" stop-color="#ff8080"/><stop offset="0.8845" stop-color="#ff0a0a"/><stop offset="0.9065" stop-color="#ff0000"/><stop offset="0.9629" stop-color="#ff0303"/><stop offset="0.9996" stop-color="#ff1919"/></linearGradient><linearGradient id="f75"><stop offset="0.0004" stop-color="#0000ff"/><stop offset="0.3661" stop-color="#0303ff"/><stop offset="0.3776" stop-color="#4545ff"/><stop offset="0.3906" stop-color="#6666ff"/><stop offset="0.4200" stop-color="#8f8fff"/><stop offset="0.4510" stop-color="#a6a6ff"/><stop offset="0.4918" stop-color="#b2b2ff"/><stop offset="0.6967" stop-color="#babaff"/><stop offset="0.7539" stop-color="#dcdcff"/><stop offset="0.7727" stop-color="#fffefe"/><stop offset="0.8306" stop-color="#ff7f7f"/><stop offset="0.8845" stop-color="#ff0707"/><stop offset="0.9049" stop-color="#ff0000"/><stop offset="0.9661" stop-color="#ff0303"/><stop offset="0.9996" stop-color="#ff1818"/></linearGradient><linearGradient id="f76"><stop offset="0.0004" stop-color="#0000ff"/><stop offset="0.3645" stop-color="#0101ff"/><stop offset="0.3767" stop-color="#4848ff"/><stop offset="0.3906" stop-color="#6969ff"/><stop offset="0.4192" stop-color="#8f8fff"/><stop offset="0.4486" stop-color="#a6a6ff"/><stop offset="0.4943" stop-color="#b3b3ff"/><stop offset="0.6967" stop-color="#babaff"/><stop offset="0.7539" stop-color="#dcdcff"/><stop offset="0.7718" stop-color="#fffefe"/><stop offset="0.8290" stop-color="#ff8383"/><stop offset="0.8845" stop-color="#ff0303"/><stop offset="0.9686" stop-color="#ff0202"/><stop offset="0.9996" stop-color="#ff1717"/></linearGradient><linearGradient id="f77"><stop offset="0.0004" stop-color="#0000ff"/><stop offset="0.3637" stop-color="#0202ff"/><stop offset="0.3751" stop-color="#4747ff"/><stop offset="0.3890" stop-color="#6868ff"/><stop offset="0.4159" stop-color="#8e8eff"/><stop offset="0.4461" stop-color="#a6a6ff"/><stop offset="0.4992" stop-color="#b4b4ff"/><stop offset="0.6967" stop-color="#babaff"/><stop offset="0.7531" stop-color="#dbdbff"/><stop offset="0.7718" stop-color="#fffefe"/><stop offset="0.8290" stop-color="#ff8282"/><stop offset="0.8665" stop-color="#ff2929"/><stop offset="0.8845" stop-color="#ff0000"/><stop offset="0.9718" stop-color="#ff0303"/><stop offset="0.9996" stop-color="#ff1616"/></linearGradient><linearGradient id="f78"><stop offset="0.0004" stop-color="#0000ff"/><stop offset="0.3620" stop-color="#0000ff"/><stop offset="0.3743" stop-color="#4949ff"/><stop offset="0.3898" stop-color="#6c6cff"/><stop offset="0.4167" stop-color="#9090ff"/><stop offset="0.4453" stop-color="#a7a7ff"/><stop offset="0.5082" stop-color="#b6b6ff"/><stop offset="0.6967" stop-color="#bbbbff"/><stop offset="0.7531" stop-color="#dbdbff"/><stop offset="0.7710" stop-color="#fffefe"/><stop offset="0.8273" stop-color="#ff8585"/><stop offset="0.8616" stop-color="#ff3434"/><stop offset="0.8829" stop-color="#ff0000"/><stop offset="0.9743" stop-color="#ff0303"/><stop offset="0.9996" stop-color="#ff1616"/></linearGradient><linearGradient id="f79"><stop offset="0.0004" stop-color="#0000ff"/><stop offset="0.3612" stop-color="#0101ff"/><stop offset="0.3735" stop-color="#4b4bff"/><stop offset="0.3906" stop-color="#7070ff"/><stop offset="0.4200" stop-color="#9494ff"/><stop offset="0.4453" stop-color="#a8a8ff"/><stop offset="0.5155" stop-color="#b6b6ff"/><stop offset="0.6967" stop-color="#bbbbff"/><stop offset="0.7531" stop-color="#dcdcff"/><stop offset="0.7710" stop-color="#fffefe"/><stop offset="0.8273" stop-color="#ff8585"/><stop offset="0.8592" stop-color="#ff3939"/><stop offset="0.8812" stop-color="#ff0000"/><stop offset="0.9759" stop-color="#ff0303"/><stop offset="0.9996" stop-color="#ff1515"/></linearGradient><linearGradient id="f80"><stop offset="0.0004" stop-color="#0000ff"/><stop offset="0.3604" stop-color="#0202ff"/><stop offset="0.3694" stop-color="#3b3bff"/><stop offset="0.3735" stop-color="#5050ff"/><stop offset="0.3971" stop-color="#7d7dff"/><stop offset="0.4412" stop-color="#a7a7ff"/><stop offset="0.5180" stop-color="#b7b7ff"/><stop offset="0.6967" stop-color="#bbbbff"/><stop offset="0.7531" stop-color="#dcdcff"/><stop offset="0.7702" stop-color="#ffffff"/><stop offset="0.8265" stop-color="#ff8686"/><stop offset="0.8576" stop-color="#ff3c3c"/><stop offset="0.8796" stop-color="#ff0000"/><stop offset="0.9776" stop-color="#ff0202"/><stop offset="0.9996" stop-color="#ff1414"/></linearGradient><linearGradient id="f81"><stop offset="0.0004" stop-color="#0000ff"/><stop offset="0.3596" stop-color="#0303ff"/><stop offset="0.3678" stop-color="#3636ff"/><stop offset="0.3718" stop-color="#4f4fff"/><stop offset="0.3947" stop-color="#7c7cff"/><stop offset="0.4404" stop-color="#a8a8ff"/><stop offset="0.5229" stop-color="#b8b8ff"/><stop offset="0.6967" stop-color="#bbbbff"/><stop offset="0.7531" stop-color="#dcdcff"/><stop offset="0.7702" stop-color="#fffefe"/><stop offset="0.8265" stop-color="#ff8686"/><stop offset="0.8567" stop-color="#ff3d3d"/><stop offset="0.8788" stop-color="#ff0000"/><stop offset="0.9792" stop-color="#ff0303"/><stop offset="0.9996" stop-color="#ff1414"/></linearGradient><linearGradient id="f82"><stop offset="0.0004" stop-color="#0000ff"/><stop offset="0.3580" stop-color="#0000ff"/><stop offset="0.3661" stop-color="#3030ff"/><stop offset="0.3710" stop-color="#5050ff"/><stop offset="0.3955" stop-color="#7f7fff"/><stop offset="0.4404" stop-color="#a9a9ff"/><stop offset="0.5237" stop-color="#b8b8ff"/><stop offset="0.6967" stop-color="#bbbbff"/><stop offset="0.7531" stop-color="#dcdcff"/><stop offset="0.7702" stop-color="#fffdfd"/><stop offset="0.8273" stop-color="#ff8383"/><stop offset="0.8559" stop-color="#ff3f3f"/><stop offset="0.8780" stop-color="#ff0000"/><stop offset="0.9808" stop-color="#ff0303"/><stop offset="0.9996" stop-color="#ff1313"/></linearGradient><linearGradient id="f83"><stop offset="0.0004" stop-color="#0000ff"/><stop offset="0.3580" stop-color="#0303ff"/><stop offset="0.3653" stop-color="#2f2fff"/><stop offset="0.3702" stop-color="#5151ff"/><stop offset="0.3963" stop-color="#8181ff"/><stop offset="0.4412" stop-color="#aaaaff"/><stop offset="0.5245" stop-color="#b8b8ff"/><stop offset="0.6967" stop-color="#bcbcff"/><stop offset="0.7531" stop-color="#dcdcff"/><stop offset="0.7694" stop-color="#ffffff"/><stop offset="0.8265" stop-color="#ff8585"/><stop offset="0.8551" stop-color="#ff4141"/><stop offset="0.8771" stop-color="#ff0000"/><stop offset="0.9816" stop-color="#ff0303"/><stop offset="0.9996" stop-color="#ff1313"/></linearGradient><linearGradient id="f84"><stop offset="0.0004" stop-color="#0000ff"/><stop offset="0.3571" stop-color="#0202ff"/><stop offset="0.3645" stop-color="#2e2eff"/><stop offset="0.3694" stop-color="#5151ff"/><stop offset="0.3939" stop-color="#7f7fff"/><stop offset="0.4404" stop-color="#aaaaff"/><stop offset="0.5245" stop-color="#b9b9ff"/><stop offset="0.6967" stop-color="#bcbcff"/><stop offset="0.7531" stop-color="#dcdcff"/><stop offset="0.7694" stop-color="#fffefe"/><stop offset="0.8273" stop-color="#ff8383"/><stop offset="0.8551" stop-color="#ff4040"/><stop offset="0.8763" stop-color="#ff0000"/><stop offset="0.9824" stop-color="#ff0303"/><stop offset="0.9996" stop-color="#ff1212"/></linearGradient><linearGradient id="f85"><stop offset="0.0004" stop-color="#0000ff"/><stop offset="0.3563" stop-color="#0101ff"/><stop offset="0.3645" stop-color="#3333ff"/><stop offset="0.3686" stop-color="#5050ff"/><stop offset="0.3824" stop-color="#6d6dff"/><stop offset="0.4020" stop-color="#8989ff"/><stop offset="0.4412" stop-color="#ababff"/><stop offset="0.5245" stop-color="#b9b9ff"/><stop offset="0.6967" stop-color="#bcbcff"/><stop offset="0.7531" stop-color="#dcdcff"/><stop offset="0.7694" stop-color="#fffefe"/><stop offset="0.8273" stop-color="#ff8282"/><stop offset="0.8551" stop-color="#ff3f3f"/><stop offset="0.8763" stop-color="#ff0000"/><stop offset="0.9833" stop-color="#ff0303"/><stop offset="0.9996" stop-color="#ff1212"/></linearGradient><linearGradient id="f86"><stop offset="0.0004" stop-color="#0000ff"/><stop offset="0.3555" stop-color="#0101ff"/><stop offset="0.3637" stop-color="#3232ff"/><stop offset="0.3678" stop-color="#4f4fff"/><stop offset="0.3784" stop-color="#6666ff"/><stop offset="0.4004" stop-color="#8787ff"/><stop offset="0.4404" stop-color="#ababff"/><stop offset="0.5237" stop-color="#b9b9ff"/><stop offset="0.6967" stop-color="#bcbcff"/><stop offset="0.7531" stop-color="#dcdcff"/><stop offset="0.7694" stop-color="#fffefe"/><stop offset="0.8265" stop-color="#ff8484"/><stop offset="0.8551" stop-color="#ff3f3f"/><stop offset="0.8763" stop-color="#ff0000"/><stop offset="0.9833" stop-color="#ff0303"/><stop offset="0.9996" stop-color="#ff1212"/></linearGradient><linearGradient id="f87"><stop offset="0.0004" stop-color="#0000ff"/><stop offset="0.3547" stop-color="#0202ff"/><stop offset="0.3678" stop-color="#5151ff"/><stop offset="0.3971" stop-color="#8383ff"/><stop offset="0.4404" stop-color="#ababff"/><stop offset="0.5229" stop-color="#babaff"/><stop offset="0.6967" stop-color="#bcbcff"/><stop offset="0.7531" stop-color="#dcdcff"/><stop offset="0.7694" stop-color="#fffefe"/><stop offset="0.8249" stop-color="#ff8787"/><stop offset="0.8551" stop-color="#ff3e3e"/><stop offset="0.8763" stop-color="#ff0000"/><stop offset="0.9824" stop-color="#ff0202"/><stop offset="0.9996" stop-color="#ff1212"/></linearGradient><linearGradient id="f88"><stop offset="0.0004" stop-color="#0000ff"/><stop offset="0.3531" stop-color="#0101ff"/><stop offset="0.3620" stop-color="#3535ff"/><stop offset="0.3669" stop-color="#5151ff"/><stop offset="0.3971" stop-color="#8383ff"/><stop offset="0.4404" stop-color="#ababff"/><stop offset="0.5212" stop-color="#babaff"/><stop offset="0.6967" stop-color="#bdbdff"/><stop offset="0.7531" stop-color="#dcdcff"/><stop offset="0.7694" stop-color="#fffefe"/><stop offset="0.8241" stop-color="#ff8888"/><stop offset="0.8559" stop-color="#ff3b3b"/><stop offset="0.8763" stop-color="#ff0000"/><stop offset="0.9824" stop-color="#ff0303"/><stop offset="0.9996" stop-color="#ff1313"/></linearGradient><linearGradient id="f89"><stop offset="0.0004" stop-color="#0000ff"/><stop offset="0.3514" stop-color="#0000ff"/><stop offset="0.3612" stop-color="#3737ff"/><stop offset="0.3661" stop-color="#5050ff"/><stop offset="0.3971" stop-color="#8282ff"/><stop offset="0.4396" stop-color="#aaaaff"/><stop offset="0.5171" stop-color="#bbbbff"/><stop offset="0.6967" stop-color="#bdbdff"/><stop offset="0.7531" stop-color="#dcdcff"/><stop offset="0.7694" stop-color="#fffefe"/><stop offset="0.8224" stop-color="#ff8b8b"/><stop offset="0.8567" stop-color="#ff3838"/><stop offset="0.8763" stop-color="#ff0000"/><stop offset="0.9824" stop-color="#ff0303"/><stop offset="0.9996" stop-color="#ff1313"/></linearGradient><linearGradient id="f90"><stop offset="0.0004" stop-color="#0000ff"/><stop offset="0.3506" stop-color="#0303ff"/><stop offset="0.3637" stop-color="#4b4bff"/><stop offset="0.3947" stop-color="#7f7fff"/><stop offset="0.4388" stop-color="#aaaaff"/><stop offset="0.5106" stop-color="#bcbcff"/><stop offset="0.6967" stop-color="#bdbdff"/><stop offset="0.7531" stop-color="#dcdcff"/><stop offset="0.7694" stop-color="#fffefe"/><stop offset="0.8216" stop-color="#ff8c8c"/><stop offset="0.8576" stop-color="#ff3434"/><stop offset="0.8763" stop-color="#ff0000"/><stop offset="0.9816" stop-color="#ff0202"/><stop offset="0.9996" stop-color="#ff1313"/></linearGradient><linearGradient id="f91"><stop offset="0.0004" stop-color="#0000ff"/><stop offset="0.3490" stop-color="#0303ff"/><stop offset="0.3629" stop-color="#4b4bff"/><stop offset="0.3963" stop-color="#8080ff"/><stop offset="0.4388" stop-color="#aaaaff"/><stop offset="0.5057" stop-color="#bcbcff"/><stop offset="0.6967" stop-color="#bebeff"/><stop offset="0.7531" stop-color="#dcdcff"/><stop offset="0.7694" stop-color="#fffefe"/><stop offset="0.8200" stop-color="#ff8f8f"/><stop offset="0.8592" stop-color="#ff2f2f"/><stop offset="0.8771" stop-color="#ff0000"/><stop offset="0.9816" stop-color="#ff0303"/><stop offset="0.9996" stop-color="#ff1414"/></linearGradient><linearGradient id="f92"><stop offset="0.0004" stop-color="#0000ff"/><stop offset="0.3465" stop-color="#0000ff"/><stop offset="0.3612" stop-color="#4848ff"/><stop offset="0.3963" stop-color="#7f7fff"/><stop offset="0.4380" stop-color="#a9a9ff"/><stop offset="0.4976" stop-color="#bcbcff"/><stop offset="0.6967" stop-color="#bebeff"/><stop offset="0.7531" stop-color="#dcdcff"/><stop offset="0.7694" stop-color="#fffefe"/><stop offset="0.8192" stop-color="#ff9090"/><stop offset="0.8624" stop-color="#ff2525"/><stop offset="0.8771" stop-color="#ff0000"/><stop offset="0.9808" stop-color="#ff0202"/><stop offset="0.9996" stop-color="#ff1414"/></linearGradient><linearGradient id="f93"><stop offset="0.0004" stop-color="#0000ff"/><stop offset="0.3449" stop-color="#0101ff"/><stop offset="0.3596" stop-color="#4646ff"/><stop offset="0.3963" stop-color="#7e7eff"/><stop offset="0.4371" stop-color="#a9a9ff"/><stop offset="0.4918" stop-color="#bbbbff"/><stop offset="0.6976" stop-color="#bfbfff"/><stop offset="0.7531" stop-color="#dcdcff"/><stop offset="0.7694" stop-color="#fffefe"/><stop offset="0.8184" stop-color="#ff9292"/><stop offset="0.8698" stop-color="#ff1111"/><stop offset="0.8771" stop-color="#ff0000"/><stop offset="0.9808" stop-color="#ff0303"/><stop offset="0.9996" stop-color="#ff1515"/></linearGradient><linearGradient id="f94"><stop offset="0.0004" stop-color="#0000ff"/><stop offset="0.3433" stop-color="#0101ff"/><stop offset="0.3580" stop-color="#4343ff"/><stop offset="0.3971" stop-color="#7e7eff"/><stop offset="0.4363" stop-color="#a8a8ff"/><stop offset="0.4878" stop-color="#bcbcff"/><stop offset="0.6976" stop-color="#c0c0ff"/><stop offset="0.7531" stop-color="#dcdcff"/><stop offset="0.7694" stop-color="#fffefe"/><stop offset="0.8167" stop-color="#ff9595"/><stop offset="0.8771" stop-color="#ff0000"/><stop offset="0.9800" stop-color="#ff0202"/><stop offset="0.9996" stop-color="#ff1515"/></linearGradient><linearGradient id="f95"><stop offset="0.0004" stop-color="#0000ff"/><stop offset="0.3416" stop-color="#0202ff"/><stop offset="0.3555" stop-color="#3f3fff"/><stop offset="0.3955" stop-color="#7b7bff"/><stop offset="0.4355" stop-color="#a7a7ff"/><stop offset="0.4853" stop-color="#bcbcff"/><stop offset="0.6976" stop-color="#c0c0ff"/><stop offset="0.7531" stop-color="#dcdcff"/><stop offset="0.7694" stop-color="#fffefe"/><stop offset="0.8159" stop-color="#ff9696"/><stop offset="0.8771" stop-color="#ff0000"/><stop offset="0.9800" stop-color="#ff0303"/><stop offset="0.9996" stop-color="#ff1616"/></linearGradient><linearGradient id="f96"><stop offset="0.0004" stop-color="#0000ff"/><stop offset="0.3400" stop-color="#0202ff"/><stop offset="0.3531" stop-color="#3a3aff"/><stop offset="0.3718" stop-color="#5a5aff"/><stop offset="0.4273" stop-color="#a1a1ff"/><stop offset="0.4820" stop-color="#bdbdff"/><stop offset="0.6053" stop-color="#bfbfff"/><stop offset="0.6976" stop-color="#c0c0ff"/><stop offset="0.7531" stop-color="#dcdcff"/><stop offset="0.7694" stop-color="#fffefe"/><stop offset="0.8159" stop-color="#ff9595"/><stop offset="0.8780" stop-color="#ff0000"/><stop offset="0.9800" stop-color="#ff0303"/><stop offset="0.9996" stop-color="#ff1616"/></linearGradient><linearGradient id="f97"><stop offset="0.0004" stop-color="#0000ff"/><stop offset="0.3384" stop-color="#0202ff"/><stop offset="0.3490" stop-color="#2f2fff"/><stop offset="0.3571" stop-color="#4444ff"/><stop offset="0.4110" stop-color="#8d8dff"/><stop offset="0.4371" stop-color="#a8a8ff"/><stop offset="0.4837" stop-color="#bebeff"/><stop offset="0.6976" stop-color="#c1c1ff"/><stop offset="0.7531" stop-color="#dcdcff"/><stop offset="0.7694" stop-color="#fffefe"/><stop offset="0.8151" stop-color="#ff9797"/><stop offset="0.8780" stop-color="#ff0000"/><stop offset="0.9792" stop-color="#ff0303"/><stop offset="0.9996" stop-color="#ff1717"/></linearGradient><linearGradient id="f98"><stop offset="0.0004" stop-color="#0000ff"/><stop offset="0.3367" stop-color="#0202ff"/><stop offset="0.3457" stop-color="#2727ff"/><stop offset="0.3547" stop-color="#4040ff"/><stop offset="0.4167" stop-color="#9494ff"/><stop offset="0.4420" stop-color="#aaaaff"/><stop offset="0.4829" stop-color="#bebeff"/><stop offset="0.6976" stop-color="#c1c1ff"/><stop offset="0.7531" stop-color="#dcdcff"/><stop offset="0.7694" stop-color="#fffefe"/><stop offset="0.8143" stop-color="#ff9898"/><stop offset="0.8771" stop-color="#ff0000"/><stop offset="0.9792" stop-color="#ff0303"/><stop offset="0.9996" stop-color="#ff1717"/></linearGradient><linearGradient id="f99"><stop offset="0.0004" stop-color="#0000ff"/><stop offset="0.3351" stop-color="#0101ff"/><stop offset="0.3441" stop-color="#2626ff"/><stop offset="0.3531" stop-color="#3e3eff"/><stop offset="0.4241" stop-color="#9d9dff"/><stop offset="0.4804" stop-color="#bfbfff"/><stop offset="0.6216" stop-color="#c0c0ff"/><stop offset="0.6984" stop-color="#c2c2ff"/><stop offset="0.7531" stop-color="#dcdcff"/><stop offset="0.7694" stop-color="#fffefe"/><stop offset="0.8143" stop-color="#ff9898"/><stop offset="0.8690" stop-color="#ff1313"/><stop offset="0.8788" stop-color="#ff0000"/><stop offset="0.9784" stop-color="#ff0202"/><stop offset="0.9996" stop-color="#ff1717"/></linearGradient><linearGradient id="f100"><stop offset="0.0004" stop-color="#0000ff"/><stop offset="0.3343" stop-color="#0202ff"/><stop offset="0.3424" stop-color="#2424ff"/><stop offset="0.3522" stop-color="#3d3dff"/><stop offset="0.4265" stop-color="#a0a0ff"/><stop offset="0.4804" stop-color="#bfbfff"/><stop offset="0.6363" stop-color="#c0c0ff"/><stop offset="0.6992" stop-color="#c2c2ff"/><stop offset="0.7531" stop-color="#dcdcff"/><stop offset="0.7694" stop-color="#fffefe"/><stop offset="0.8135" stop-color="#ff9999"/><stop offset="0.8641" stop-color="#ff1e1e"/><stop offset="0.8788" stop-color="#ff0000"/><stop offset="0.9784" stop-color="#ff0303"/><stop offset="0.9996" stop-color="#ff1818"/></linearGradient><linearGradient id="f101"><stop offset="0.0004" stop-color="#0000ff"/><stop offset="0.3327" stop-color="#0000ff"/><stop offset="0.3433" stop-color="#2929ff"/><stop offset="0.3539" stop-color="#3f3fff"/><stop offset="0.4290" stop-color="#a2a2ff"/><stop offset="0.4804" stop-color="#c0c0ff"/><stop offset="0.6494" stop-color="#c0c0ff"/><stop offset="0.6992" stop-color="#c3c3ff"/><stop offset="0.7531" stop-color="#dcdcff"/><stop offset="0.7694" stop-color="#fffefe"/><stop offset="0.8135" stop-color="#ff9999"/><stop offset="0.8616" stop-color="#ff2323"/><stop offset="0.8788" stop-color="#ff0000"/><stop offset="0.9784" stop-color="#ff0303"/><stop offset="0.9996" stop-color="#ff1818"/></linearGradient><linearGradient id="f102"><stop offset="0.0004" stop-color="#0000ff"/><stop offset="0.3327" stop-color="#0101ff"/><stop offset="0.3400" stop-color="#2020ff"/><stop offset="0.3498" stop-color="#3939ff"/><stop offset="0.4282" stop-color="#a1a1ff"/><stop offset="0.4804" stop-color="#c0c0ff"/><stop offset="0.6576" stop-color="#c0c0ff"/><stop offset="0.7000" stop-color="#c3c3ff"/><stop offset="0.7531" stop-color="#dcdcff"/><stop offset="0.7694" stop-color="#fffefe"/><stop offset="0.8135" stop-color="#ff9999"/><stop offset="0.8608" stop-color="#ff2424"/><stop offset="0.8788" stop-color="#ff0000"/><stop offset="0.9784" stop-color="#ff0303"/><stop offset="0.9996" stop-color="#ff1818"/></linearGradient><linearGradient id="f103"><stop offset="0.0004" stop-color="#0000ff"/><stop offset="0.3327" stop-color="#0202ff"/><stop offset="0.3416" stop-color="#2626ff"/><stop offset="0.3514" stop-color="#3b3bff"/><stop offset="0.4290" stop-color="#a1a1ff"/><stop offset="0.4804" stop-color="#c0c0ff"/><stop offset="0.6600" stop-color="#c0c0ff"/><stop offset="0.7008" stop-color="#c3c3ff"/><stop offset="0.7531" stop-color="#dcdcff"/><stop offset="0.7694" stop-color="#fffefe"/><stop offset="0.8135" stop-color="#ff9999"/><stop offset="0.8600" stop-color="#ff2626"/><stop offset="0.8788" stop-color="#ff0000"/><stop offset="0.9784" stop-color="#ff0303"/><stop offset="0.9996" stop-color="#ff1818"/></linearGradient><clipPath id="hcf"><rect x="92.0" y="1681.6" width="1224.8" height="310.1"/></clipPath><linearGradient id="cbf" x1="0" y1="0" x2="0" y2="1"><stop offset="0" stop-color="#ff0000"/><stop offset="0.5" stop-color="#ffffff"/><stop offset="1" stop-color="#0000ff"/></linearGradient><linearGradient id="g0"><stop offset="0.0004" stop-color="#acacff"/><stop offset="0.1384" stop-color="#a8a8ff"/><stop offset="0.2747" stop-color="#8e8eff"/><stop offset="0.3155" stop-color="#9b9bff"/><stop offset="0.3931" stop-color="#d5d5ff"/><stop offset="0.4845" stop-color="#efefff"/><stop offset="0.5604" stop-color="#f7f7ff"/><stop offset="0.6404" stop-color="#fcfcff"/><stop offset="0.7065" stop-color="#fffcfc"/><stop offset="0.7702" stop-color="#ffe8e8"/><stop offset="0.8445" stop-color="#ffe1e1"/><stop offset="0.9996" stop-color="#ffe5e5"/></linearGradient><linearGradient id="g1"><stop offset="0.0004" stop-color="#acacff"/><stop offset="0.1384" stop-color="#a8a8ff"/><stop offset="0.2747" stop-color="#8e8eff"/><stop offset="0.3155" stop-color="#9b9bff"/><stop offset="0.3931" stop-color="#d5d5ff"/><stop offset="0.4845" stop-color="#efefff"/><stop offset="0.5604" stop-color="#f7f7ff"/><stop offset="0.6404" stop-color="#fcfcff"/><stop offset="0.7065" stop-color="#fffcfc"/><stop offset="0.7702" stop-color="#ffe8e8"/><stop offset="0.8445" stop-color="#ffe1e1"/><stop offset="0.9996" stop-color="#ffe5e5"/></linearGradient><linearGradient id="g2"><stop offset="0.0004" stop-color="#acacff"/><stop offset="0.1384" stop-color="#a8a8ff"/><stop offset="0.2747" stop-color="#8e8eff"/><stop offset="0.3155" stop-color="#9b9bff"/><stop offset="0.3931" stop-color="#d5d5ff"/><stop offset="0.4845" stop-color="#efefff"/><stop offset="0.5604" stop-color="#f7f7ff"/><stop offset="0.6404" stop-color="#fcfcff"/><stop offset="0.7065" stop-color="#fffcfc"/><stop offset="0.7702" stop-color="#ffe8e8"/><stop offset="0.8445" stop-color="#ffe1e1"/><stop offset="0.9996" stop-color="#ffe5e5"/></linearGradient><linearGradient id="g3"><stop offset="0.0004" stop-color="#acacff"/><stop offset="0.1384" stop-color="#a8a8ff"/><stop offset="0.2747" stop-color="#8e8eff"/><stop offset="0.3155" stop-color="#9b9bff"/><stop offset="0.3931" stop-color="#d5d5ff"/><stop offset="0.4845" stop-color="#efefff"/><stop offset="0.5604" stop-color="#f7f7ff"/><stop offset="0.6412" stop-color="#fcfcff"/><stop offset="0.7065" stop-color="#fffcfc"/><stop offset="0.7702" stop-color="#ffe8e8"/><stop offset="0.8445" stop-color="#ffe1e1"/><stop offset="0.9996" stop-color="#ffe5e5"/></linearGradient><linearGradient id="g4"><stop offset="0.0004" stop-color="#acacff"/><stop offset="0.1384" stop-color="#a8a8ff"/><stop offset="0.2747" stop-color="#8e8eff"/><stop offset="0.3155" stop-color="#9b9bff"/><stop offset="0.3931" stop-color="#d5d5ff"/><stop offset="0.4837" stop-color="#efefff"/><stop offset="0.5620" stop-color="#f7f7ff"/><stop offset="0.6518" stop-color="#fcfcff"/><stop offset="0.7065" stop-color="#fffcfc"/><stop offset="0.7702" stop-color="#ffe8e8"/><stop offset="0.8445" stop-color="#ffe1e1"/><stop offset="0.9996" stop-color="#ffe5e5"/></linearGradient><linearGradient id="g5"><stop offset="0.0004" stop-color="#acacff"/><stop offset="0.1384" stop-color="#a8a8ff"/><stop offset="0.2739" stop-color="#8d8dff"/><stop offset="0.3155" stop-color="#9a9aff"/><stop offset="0.3922" stop-color="#d5d5ff"/><stop offset="0.4820" stop-color="#efefff"/><stop offset="0.5669" stop-color="#f8f8ff"/><stop offset="0.7065" stop-color="#fffcfc"/><stop offset="0.7718" stop-color="#ffe8e8"/><stop offset="0.8445" stop-color="#ffe1e1"/><stop offset="0.9996" stop-color="#ffe5e5"/></linearGradient><linearGradient id="g6"><stop offset="0.0004" stop-color="#adadff"/><stop offset="0.1384" stop-color="#a8a8ff"/><stop offset="0.2739" stop-color="#8d8dff"/><stop offset="0.3155" stop-color="#9a9aff"/><stop offset="0.3922" stop-color="#d5d5ff"/><stop offset="0.4804" stop-color="#eeeeff"/><stop offset="0.5735" stop-color="#f9f9ff"/><stop offset="0.7073" stop-color="#fffcfc"/><stop offset="0.7751" stop-color="#ffe8e8"/><stop offset="0.8461" stop-color="#ffe1e1"/><stop offset="0.9996" stop-color="#ffe5e5"/></linearGradient><linearGradient id="g7"><stop offset="0.0004" stop-color="#adadff"/><stop offset="0.1384" stop-color="#a8a8ff"/><stop offset="0.2731" stop-color="#8c8cff"/><stop offset="0.3163" stop-color="#9a9aff"/><stop offset="0.3914" stop-color="#d5d5ff"/><stop offset="0.4771" stop-color="#eeeeff"/><stop offset="0.6233" stop-color="#fafaff"/><stop offset="0.7082" stop-color="#fffcfc"/><stop offset="0.7808" stop-color="#ffe8e8"/><stop offset="0.8527" stop-color="#ffe1e1"/><stop offset="0.9996" stop-color="#ffe5e5"/></linearGradient><linearGradient id="g8"><stop offset="0.0004" stop-color="#adadff"/><stop offset="0.1384" stop-color="#a9a9ff"/><stop offset="0.2731" stop-color="#8c8cff"/><stop offset="0.3163" stop-color="#9999ff"/><stop offset="0.3914" stop-color="#d5d5ff"/><stop offset="0.4747" stop-color="#ededff"/><stop offset="0.6069" stop-color="#fafaff"/><stop offset="0.7098" stop-color="#fffcfc"/><stop offset="0.7971" stop-color="#ffe5e5"/><stop offset="0.9694" stop-color="#ffe4e4"/><stop offset="0.9996" stop-color="#ffe5e5"/></linearGradient><linearGradient id="g9"><stop offset="0.0004" stop-color="#adadff"/><stop offset="0.1384" stop-color="#a9a9ff"/><stop offset="0.2722" stop-color="#8b8bff"/><stop offset="0.3163" stop-color="#9999ff"/><stop offset="0.3906" stop-color="#d5d5ff"/><stop offset="0.4722" stop-color="#ededff"/><stop offset="0.5351" stop-color="#f4f4ff"/><stop offset="0.5580" stop-color="#fcfcff"/><stop offset="0.6110" stop-color="#f9f9ff"/><stop offset="0.7106" stop-color="#fffcfc"/><stop offset="0.8102" stop-color="#ffe3e3"/><stop offset="0.9996" stop-color="#ffe5e5"/></linearGradient><linearGradient id="g10"><stop offset="0.0004" stop-color="#aeaeff"/><stop offset="0.1384" stop-color="#a9a9ff"/><stop offset="0.2722" stop-color="#8a8aff"/><stop offset="0.3171" stop-color="#9898ff"/><stop offset="0.3906" stop-color="#d5d5ff"/><stop offset="0.4706" stop-color="#ececff"/><stop offset="0.5310" stop-color="#f3f3ff"/><stop offset="0.5449" stop-color="#fffdfd"/><stop offset="0.5580" stop-color="#fffbfb"/><stop offset="0.5686" stop-color="#fbfbff"/><stop offset="0.6665" stop-color="#fafaff"/><stop offset="0.7122" stop-color="#fffcfc"/><stop offset="0.8192" stop-color="#ffe3e3"/><stop offset="0.9996" stop-color="#ffe5e5"/></linearGradient><linearGradient id="g11"><stop offset="0.0004" stop-color="#aeaeff"/><stop offset="0.1384" stop-color="#a9a9ff"/><stop offset="0.2714" stop-color="#8989ff"/><stop offset="0.3180" stop-color="#9898ff"/><stop offset="0.3898" stop-color="#d5d5ff"/><stop offset="0.4682" stop-color="#ececff"/><stop offset="0.5294" stop-color="#f3f3ff"/><stop offset="0.5400" stop-color="#fffefe"/><stop offset="0.5522" stop-color="#fff0f0"/><stop offset="0.5686" stop-color="#fdfdff"/><stop offset="0.5898" stop-color="#f7f7ff"/><stop offset="0.7033" stop-color="#fefeff"/><stop offset="0.8224" stop-color="#ffe3e3"/><stop offset="0.9996" stop-color="#ffe5e5"/></linearGradient><linearGradient id="g12"><stop offset="0.0004" stop-color="#aeaeff"/><stop offset="0.1384" stop-color="#aaaaff"/><stop offset="0.2706" stop-color="#8888ff"/><stop offset="0.3180" stop-color="#9797ff"/><stop offset="0.3890" stop-color="#d5d5ff"/><stop offset="0.4665" stop-color="#ececff"/><stop offset="0.5294" stop-color="#f3f3ff"/><stop offset="0.5392" stop-color="#fffefe"/><stop offset="0.5514" stop-color="#ffeded"/><stop offset="0.5629" stop-color="#fff8f8"/><stop offset="0.5686" stop-color="#fdfdff"/><stop offset="0.5865" stop-color="#f7f7ff"/><stop offset="0.7041" stop-color="#fefeff"/><stop offset="0.8233" stop-color="#ffe3e3"/><stop offset="0.9996" stop-color="#ffe5e5"/></linearGradient><linearGradient id="g13"><stop offset="0.0004" stop-color="#afafff"/><stop offset="0.1384" stop-color="#aaaaff"/><stop offset="0.2706" stop-color="#8888ff"/><stop offset="0.3188" stop-color="#9797ff"/><stop offset="0.3890" stop-color="#d6d6ff"/><stop offset="0.4649" stop-color="#ebebff"/><stop offset="0.5302" stop-color="#f3f3ff"/><stop offset="0.5416" stop-color="#fffdfd"/><stop offset="0.5539" stop-color="#fff4f4"/><stop offset="0.5669" stop-color="#fdfdff"/><stop offset="0.5857" stop-color="#f6f6ff"/><stop offset="0.7057" stop-color="#fefeff"/><stop offset="0.8241" stop-color="#ffe4e4"/><stop offset="0.9996" stop-color="#ffe5e5"/></linearGradient><linearGradient id="g14"><stop offset="0.0004" stop-color="#afafff"/><stop offset="0.1384" stop-color="#ababff"/><stop offset="0.2698" stop-color="#8787ff"/><stop offset="0.3196" stop-color="#9696ff"/><stop offset="0.3882" stop-color="#d6d6ff"/><stop offset="0.4633" stop-color="#ebebff"/><stop offset="0.5327" stop-color="#f2f2ff"/><stop offset="0.5498" stop-color="#fefcfd"/><stop offset="0.5678" stop-color="#f8f8ff"/><stop offset="0.6396" stop-color="#f6f6ff"/><stop offset="0.7204" stop-color="#fffdfd"/><stop offset="0.8241" stop-color="#ffe4e4"/><stop offset="0.9996" stop-color="#ffe5e5"/></linearGradient><linearGradient id="g15"><stop offset="0.0004" stop-color="#afafff"/><stop offset="0.1384" stop-color="#ababff"/><stop offset="0.2690" stop-color="#8686ff"/><stop offset="0.3196" stop-color="#9595ff"/><stop offset="0.3873" stop-color="#d6d6ff"/><stop offset="0.4616" stop-color="#ebebff"/><stop offset="0.5392" stop-color="#f3f3ff"/><stop offset="0.5620" stop-color="#f6f6ff"/><stop offset="0.6714" stop-color="#f8f8ff"/><stop offset="0.7220" stop-color="#fffdfd"/><stop offset="0.8241" stop-color="#ffe4e4"/><stop offset="0.9996" stop-color="#ffe5e5"/></linearGradient><linearGradient id="g16"><stop offset="0.0004" stop-color="#b0b0ff"/><stop offset="0.1384" stop-color="#ababff"/><stop offset="0.2690" stop-color="#8585ff"/><stop offset="0.3204" stop-color="#9595ff"/><stop offset="0.3873" stop-color="#d6d6ff"/><stop offset="0.4608" stop-color="#ebebff"/><stop offset="0.6910" stop-color="#fbfbff"/><stop offset="0.7278" stop-color="#fffcfc"/><stop offset="0.8241" stop-color="#ffe5e5"/><stop offset="0.9996" stop-color="#ffe5e5"/></linearGradient><linearGradient id="g17"><stop offset="0.0004" stop-color="#b0b0ff"/><stop offset="0.1384" stop-color="#acacff"/><stop offset="0.2682" stop-color="#8484ff"/><stop offset="0.3212" stop-color="#9494ff"/><stop offset="0.3865" stop-color="#d6d6ff"/><stop offset="0.4600" stop-color="#ebebff"/><stop offset="0.6804" stop-color="#f9f9ff"/><stop offset="0.7139" stop-color="#fefeff"/><stop offset="0.7792" stop-color="#fff0f0"/><stop offset="0.8265" stop-color="#ffe5e5"/><stop offset="0.9996" stop-color="#ffe5e5"/></linearGradient><linearGradient id="g18"><stop offset="0.0004" stop-color="#b0b0ff"/><stop offset="0.1384" stop-color="#acacff"/><stop offset="0.2682" stop-color="#8383ff"/><stop offset="0.3212" stop-color="#9393ff"/><stop offset="0.3865" stop-color="#d6d6ff"/><stop offset="0.4592" stop-color="#ebebff"/><stop offset="0.6747" stop-color="#f8f8ff"/><stop offset="0.6902" stop-color="#fffcfc"/><stop offset="0.7065" stop-color="#fffdfd"/><stop offset="0.7498" stop-color="#fffafa"/><stop offset="0.8200" stop-color="#ffe6e6"/><stop offset="0.9996" stop-color="#ffe5e5"/></linearGradient><linearGradient id="g19"><stop offset="0.0004" stop-color="#b1b1ff"/><stop offset="0.1376" stop-color="#adadff"/><stop offset="0.2673" stop-color="#8282ff"/><stop offset="0.3220" stop-color="#9393ff"/><stop offset="0.3865" stop-color="#d7d7ff"/><stop offset="0.4584" stop-color="#ebebff"/><stop offset="0.6698" stop-color="#f6f6ff"/><stop offset="0.6853" stop-color="#fffdfd"/><stop offset="0.6976" stop-color="#fff4f4"/><stop offset="0.7163" stop-color="#fefeff"/><stop offset="0.7743" stop-color="#fff4f4"/><stop offset="0.8159" stop-color="#ffe7e7"/><stop offset="0.9996" stop-color="#ffe5e5"/></linearGradient><linearGradient id="g20"><stop offset="0.0004" stop-color="#b1b1ff"/><stop offset="0.1376" stop-color="#adadff"/><stop offset="0.2673" stop-color="#8282ff"/><stop offset="0.3220" stop-color="#9292ff"/><stop offset="0.3857" stop-color="#d7d7ff"/><stop offset="0.4576" stop-color="#ebebff"/><stop offset="0.6641" stop-color="#f5f5ff"/><stop offset="0.6845" stop-color="#fffdfd"/><stop offset="0.6967" stop-color="#fff1f1"/><stop offset="0.7155" stop-color="#fefeff"/><stop offset="0.7694" stop-color="#fff7f7"/><stop offset="0.8127" stop-color="#ffe7e7"/><stop offset="0.9433" stop-color="#ffe4e4"/><stop offset="0.9996" stop-color="#ffe4e4"/></linearGradient><linearGradient id="g21"><stop offset="0.0004" stop-color="#b1b1ff"/><stop offset="0.1367" stop-color="#aeaeff"/><stop offset="0.2665" stop-color="#8181ff"/><stop offset="0.3229" stop-color="#9292ff"/><stop offset="0.3857" stop-color="#d7d7ff"/><stop offset="0.4567" stop-color="#ebebff"/><stop offset="0.6576" stop-color="#f3f3ff"/><stop offset="0.6820" stop-color="#fcfcff"/><stop offset="0.6886" stop-color="#fffafa"/><stop offset="0.7000" stop-color="#fff6f6"/><stop offset="0.7139" stop-color="#fefeff"/><stop offset="0.7661" stop-color="#fffafa"/><stop offset="0.8102" stop-color="#ffe8e8"/><stop offset="0.9155" stop-color="#ffe4e4"/><stop offset="0.9996" stop-color="#ffe4e4"/></linearGradient><linearGradient id="g22"><stop offset="0.0004" stop-color="#b2b2ff"/><stop offset="0.1367" stop-color="#aeaeff"/><stop offset="0.2665" stop-color="#8080ff"/><stop offset="0.3229" stop-color="#9191ff"/><stop offset="0.3857" stop-color="#d7d7ff"/><stop offset="0.4567" stop-color="#ebebff"/><stop offset="0.6527" stop-color="#f2f2ff"/><stop offset="0.6845" stop-color="#fcfcff"/><stop offset="0.7033" stop-color="#fffdfd"/><stop offset="0.7392" stop-color="#ffffff"/><stop offset="0.7751" stop-color="#fff6f6"/><stop offset="0.8127" stop-color="#ffe8e8"/><stop offset="0.9180" stop-color="#ffe4e4"/><stop offset="0.9996" stop-color="#ffe4e4"/></linearGradient><linearGradient id="g23"><stop offset="0.0004" stop-color="#b2b2ff"/><stop offset="0.1367" stop-color="#aeaeff"/><stop offset="0.2657" stop-color="#7f7fff"/><stop offset="0.3229" stop-color="#9090ff"/><stop offset="0.3849" stop-color="#d7d7ff"/><stop offset="0.4559" stop-color="#ebebff"/><stop offset="0.6486" stop-color="#f1f1ff"/><stop offset="0.7057" stop-color="#fcfcff"/><stop offset="0.7653" stop-color="#fffcfc"/><stop offset="0.8086" stop-color="#ffe9e9"/><stop offset="0.8951" stop-color="#ffe4e4"/><stop offset="0.9996" stop-color="#ffe4e4"/></linearGradient><linearGradient id="g24"><stop offset="0.0004" stop-color="#b2b2ff"/><stop offset="0.1359" stop-color="#afafff"/><stop offset="0.2657" stop-color="#7f7fff"/><stop offset="0.3237" stop-color="#9090ff"/><stop offset="0.3849" stop-color="#d7d7ff"/><stop offset="0.4559" stop-color="#ebebff"/><stop offset="0.6461" stop-color="#f1f1ff"/><stop offset="0.7629" stop-color="#fffefe"/><stop offset="0.8086" stop-color="#ffe9e9"/><stop offset="0.8910" stop-color="#ffe4e4"/><stop offset="0.9996" stop-color="#ffe4e4"/></linearGradient><linearGradient id="g25"><stop offset="0.0004" stop-color="#b2b2ff"/><stop offset="0.1359" stop-color="#afafff"/><stop offset="0.2657" stop-color="#7e7eff"/><stop offset="0.3237" stop-color="#9090ff"/><stop offset="0.3849" stop-color="#d8d8ff"/><stop offset="0.4551" stop-color="#ebebff"/><stop offset="0.6445" stop-color="#f0f0ff"/><stop offset="0.7661" stop-color="#fffdfd"/><stop offset="0.8078" stop-color="#ffeaea"/><stop offset="0.8869" stop-color="#ffe4e4"/><stop offset="0.9996" stop-color="#ffe4e4"/></linearGradient><linearGradient id="g26"><stop offset="0.0004" stop-color="#b2b2ff"/><stop offset="0.1359" stop-color="#afafff"/><stop offset="0.2649" stop-color="#7e7eff"/><stop offset="0.3237" stop-color="#9090ff"/><stop offset="0.3849" stop-color="#d8d8ff"/><stop offset="0.4551" stop-color="#ebebff"/><stop offset="0.6437" stop-color="#efefff"/><stop offset="0.7678" stop-color="#fffdfd"/><stop offset="0.8078" stop-color="#ffeaea"/><stop offset="0.8845" stop-color="#ffe4e4"/><stop offset="0.9996" stop-color="#ffe4e4"/></linearGradient><linearGradient id="g27"><stop offset="0.0004" stop-color="#b2b2ff"/><stop offset="0.1359" stop-color="#afafff"/><stop offset="0.2649" stop-color="#7e7eff"/><stop offset="0.3237" stop-color="#8f8fff"/><stop offset="0.3849" stop-color="#d8d8ff"/><stop offset="0.4551" stop-color="#ebebff"/><stop offset="0.6437" stop-color="#efefff"/><stop offset="0.7686" stop-color="#fffdfd"/><stop offset="0.8086" stop-color="#ffeaea"/><stop offset="0.8837" stop-color="#ffe4e4"/><stop offset="0.9996" stop-color="#ffe4e4"/></linearGradient><linearGradient id="g28"><stop offset="0.0004" stop-color="#b2b2ff"/><stop offset="0.1359" stop-color="#afafff"/><stop offset="0.2641" stop-color="#7e7eff"/><stop offset="0.3229" stop-color="#8e8eff"/><stop offset="0.3849" stop-color="#d7d7ff"/><stop offset="0.4543" stop-color="#ebebff"/><stop offset="0.6453" stop-color="#eeeeff"/><stop offset="0.7694" stop-color="#fffdfd"/><stop offset="0.8102" stop-color="#ffebeb"/><stop offset="0.8845" stop-color="#ffe4e4"/><stop offset="0.9996" stop-color="#ffe4e4"/></linearGradient><linearGradient id="g29"><stop offset="0.0004" stop-color="#b2b2ff"/><stop offset="0.1359" stop-color="#afafff"/><stop offset="0.2633" stop-color="#7e7eff"/><stop offset="0.3220" stop-color="#8d8dff"/><stop offset="0.3849" stop-color="#d7d7ff"/><stop offset="0.4543" stop-color="#ebebff"/><stop offset="0.6469" stop-color="#eeeeff"/><stop offset="0.7710" stop-color="#fffcfc"/><stop offset="0.8118" stop-color="#ffebeb"/><stop offset="0.8845" stop-color="#ffe4e4"/><stop offset="0.9996" stop-color="#ffe4e4"/></linearGradient><linearGradient id="g30"><stop offset="0.0004" stop-color="#b2b2ff"/><stop offset="0.1359" stop-color="#afafff"/><stop offset="0.2624" stop-color="#7e7eff"/><stop offset="0.3220" stop-color="#8d8dff"/><stop offset="0.3841" stop-color="#d6d6ff"/><stop offset="0.4535" stop-color="#eaeaff"/><stop offset="0.6486" stop-color="#ededff"/><stop offset="0.7718" stop-color="#fffdfd"/><stop offset="0.8151" stop-color="#ffebeb"/><stop offset="0.8902" stop-color="#ffe4e4"/><stop offset="0.9996" stop-color="#ffe4e4"/></linearGradient><linearGradient id="g31"><stop offset="0.0004" stop-color="#b2b2ff"/><stop offset="0.1359" stop-color="#afafff"/><stop offset="0.2616" stop-color="#7e7eff"/><stop offset="0.3204" stop-color="#8c8cff"/><stop offset="0.3841" stop-color="#d6d6ff"/><stop offset="0.4527" stop-color="#eaeaff"/><stop offset="0.6510" stop-color="#ececff"/><stop offset="0.7661" stop-color="#fefeff"/><stop offset="0.8233" stop-color="#ffe9e9"/><stop offset="0.9588" stop-color="#ffe4e4"/><stop offset="0.9996" stop-color="#ffe4e4"/></linearGradient><linearGradient id="g32"><stop offset="0.0004" stop-color="#b2b2ff"/><stop offset="0.1367" stop-color="#afafff"/><stop offset="0.2600" stop-color="#7e7eff"/><stop offset="0.3196" stop-color="#8b8bff"/><stop offset="0.3612" stop-color="#bdbdff"/><stop offset="0.3865" stop-color="#d7d7ff"/><stop offset="0.4518" stop-color="#eaeaff"/><stop offset="0.6535" stop-color="#ebebff"/><stop offset="0.7580" stop-color="#fbfbff"/><stop offset="0.7751" stop-color="#fffdfd"/><stop offset="0.8298" stop-color="#ffe8e8"/><stop offset="0.9996" stop-color="#ffe4e4"/></linearGradient><linearGradient id="g33"><stop offset="0.0004" stop-color="#b2b2ff"/><stop offset="0.1367" stop-color="#afafff"/><stop offset="0.2584" stop-color="#7e7eff"/><stop offset="0.3171" stop-color="#8a8aff"/><stop offset="0.3490" stop-color="#acacff"/><stop offset="0.3824" stop-color="#d4d4ff"/><stop offset="0.4461" stop-color="#e9e9ff"/><stop offset="0.6567" stop-color="#eaeaff"/><stop offset="0.7449" stop-color="#f7f7ff"/><stop offset="0.7759" stop-color="#fffdfd"/><stop offset="0.8363" stop-color="#ffe7e7"/><stop offset="0.9996" stop-color="#ffe4e4"/></linearGradient><linearGradient id="g34"><stop offset="0.0004" stop-color="#b2b2ff"/><stop offset="0.1367" stop-color="#afafff"/><stop offset="0.2567" stop-color="#7e7eff"/><stop offset="0.3155" stop-color="#8989ff"/><stop offset="0.3449" stop-color="#a6a6ff"/><stop offset="0.3808" stop-color="#d3d3ff"/><stop offset="0.4412" stop-color="#e9e9ff"/><stop offset="0.6608" stop-color="#e9e9ff"/><stop offset="0.7384" stop-color="#f4f4ff"/><stop offset="0.7776" stop-color="#fffdfd"/><stop offset="0.8437" stop-color="#ffe7e7"/><stop offset="0.9996" stop-color="#ffe4e4"/></linearGradient><linearGradient id="g35"><stop offset="0.0004" stop-color="#b2b2ff"/><stop offset="0.1367" stop-color="#afafff"/><stop offset="0.2257" stop-color="#8989ff"/><stop offset="0.2633" stop-color="#7e7eff"/><stop offset="0.3163" stop-color="#8989ff"/><stop offset="0.3457" stop-color="#a7a7ff"/><stop offset="0.3792" stop-color="#d1d1ff"/><stop offset="0.4339" stop-color="#e7e7ff"/><stop offset="0.6706" stop-color="#e9e9ff"/><stop offset="0.7359" stop-color="#f2f2ff"/><stop offset="0.7792" stop-color="#fffdfd"/><stop offset="0.8437" stop-color="#ffe7e7"/><stop offset="0.9996" stop-color="#ffe4e4"/></linearGradient><linearGradient id="g36"><stop offset="0.0004" stop-color="#b2b2ff"/><stop offset="0.1367" stop-color="#afafff"/><stop offset="0.2167" stop-color="#8d8dff"/><stop offset="0.2551" stop-color="#7e7eff"/><stop offset="0.3131" stop-color="#8787ff"/><stop offset="0.3416" stop-color="#a1a1ff"/><stop offset="0.3776" stop-color="#cfcfff"/><stop offset="0.4290" stop-color="#e5e5ff"/><stop offset="0.5645" stop-color="#e7e7ff"/><stop offset="0.6804" stop-color="#e8e8ff"/><stop offset="0.7343" stop-color="#f0f0ff"/><stop offset="0.7816" stop-color="#fffdfd"/><stop offset="0.8437" stop-color="#ffe7e7"/><stop offset="0.9996" stop-color="#ffe4e4"/></linearGradient><linearGradient id="g37"><stop offset="0.0004" stop-color="#b2b2ff"/><stop offset="0.1376" stop-color="#afafff"/><stop offset="0.2127" stop-color="#8f8fff"/><stop offset="0.2518" stop-color="#7f7fff"/><stop offset="0.3122" stop-color="#8686ff"/><stop offset="0.3416" stop-color="#a0a0ff"/><stop offset="0.3767" stop-color="#ceceff"/><stop offset="0.4265" stop-color="#e5e5ff"/><stop offset="0.5522" stop-color="#e7e7ff"/><stop offset="0.6755" stop-color="#e6e6ff"/><stop offset="0.7302" stop-color="#ededff"/><stop offset="0.7833" stop-color="#fffdfd"/><stop offset="0.8437" stop-color="#ffe8e8"/><stop offset="0.9996" stop-color="#ffe4e4"/></linearGradient><linearGradient id="g38"><stop offset="0.0004" stop-color="#b2b2ff"/><stop offset="0.1376" stop-color="#afafff"/><stop offset="0.2086" stop-color="#9292ff"/><stop offset="0.2502" stop-color="#7f7fff"/><stop offset="0.3114" stop-color="#8686ff"/><stop offset="0.3416" stop-color="#a0a0ff"/><stop offset="0.3759" stop-color="#cdcdff"/><stop offset="0.4249" stop-color="#e4e4ff"/><stop offset="0.5424" stop-color="#e7e7ff"/><stop offset="0.6747" stop-color="#e4e4ff"/><stop offset="0.7278" stop-color="#ebebff"/><stop offset="0.7857" stop-color="#fffdfd"/><stop offset="0.8429" stop-color="#ffe8e8"/><stop offset="0.9996" stop-color="#ffe4e4"/></linearGradient><linearGradient id="g39"><stop offset="0.0004" stop-color="#b2b2ff"/><stop offset="0.1376" stop-color="#afafff"/><stop offset="0.2061" stop-color="#9393ff"/><stop offset="0.2486" stop-color="#7e7eff"/><stop offset="0.3114" stop-color="#8585ff"/><stop offset="0.3424" stop-color="#a0a0ff"/><stop offset="0.3751" stop-color="#ccccff"/><stop offset="0.4241" stop-color="#e4e4ff"/><stop offset="0.5441" stop-color="#e6e6ff"/><stop offset="0.6788" stop-color="#e3e3ff"/><stop offset="0.7269" stop-color="#e9e9ff"/><stop offset="0.7882" stop-color="#fffdfd"/><stop offset="0.8420" stop-color="#ffe8e8"/><stop offset="0.9922" stop-color="#ffe4e4"/><stop offset="0.9996" stop-color="#ffe4e4"/></linearGradient><linearGradient id="g40"><stop offset="0.0004" stop-color="#b2b2ff"/><stop offset="0.1376" stop-color="#afafff"/><stop offset="0.2045" stop-color="#9494ff"/><stop offset="0.2478" stop-color="#7e7eff"/><stop offset="0.3106" stop-color="#8585ff"/><stop offset="0.3416" stop-color="#9f9fff"/><stop offset="0.3743" stop-color="#ccccff"/><stop offset="0.4233" stop-color="#e4e4ff"/><stop offset="0.5457" stop-color="#e6e6ff"/><stop offset="0.6820" stop-color="#e2e2ff"/><stop offset="0.7261" stop-color="#e7e7ff"/><stop offset="0.7898" stop-color="#fffefe"/><stop offset="0.8412" stop-color="#ffe9e9"/><stop offset="0.9661" stop-color="#ffe4e4"/><stop offset="0.9996" stop-color="#ffe4e4"/></linearGradient><linearGradient id="g41"><stop offset="0.0004" stop-color="#b2b2ff"/><stop offset="0.1384" stop-color="#afafff"/><stop offset="0.2029" stop-color="#9696ff"/><stop offset="0.2469" stop-color="#7e7eff"/><stop offset="0.3106" stop-color="#8484ff"/><stop offset="0.3416" stop-color="#9e9eff"/><stop offset="0.3743" stop-color="#cbcbff"/><stop offset="0.4233" stop-color="#e4e4ff"/><stop offset="0.5539" stop-color="#e5e5ff"/><stop offset="0.6878" stop-color="#e0e0ff"/><stop offset="0.7261" stop-color="#e6e6ff"/><stop offset="0.7922" stop-color="#fffefe"/><stop offset="0.8404" stop-color="#ffe9e9"/><stop offset="0.9506" stop-color="#ffe4e4"/><stop offset="0.9996" stop-color="#ffe4e4"/></linearGradient><linearGradient id="g42"><stop offset="0.0004" stop-color="#b2b2ff"/><stop offset="0.1384" stop-color="#afafff"/><stop offset="0.2020" stop-color="#9696ff"/><stop offset="0.2469" stop-color="#7e7eff"/><stop offset="0.3106" stop-color="#8484ff"/><stop offset="0.3416" stop-color="#9e9eff"/><stop offset="0.3735" stop-color="#cbcbff"/><stop offset="0.4224" stop-color="#e4e4ff"/><stop offset="0.5547" stop-color="#e4e4ff"/><stop offset="0.6894" stop-color="#dfdfff"/><stop offset="0.7261" stop-color="#e5e5ff"/><stop offset="0.7947" stop-color="#fffdfd"/><stop offset="0.8396" stop-color="#ffeaea"/><stop offset="0.9408" stop-color="#ffe4e4"/><stop offset="0.9996" stop-color="#ffe4e4"/></linearGradient><linearGradient id="g43"><stop offset="0.0004" stop-color="#b2b2ff"/><stop offset="0.1384" stop-color="#afafff"/><stop offset="0.2012" stop-color="#9797ff"/><stop offset="0.2461" stop-color="#7e7eff"/><stop offset="0.3106" stop-color="#8484ff"/><stop offset="0.3416" stop-color="#9d9dff"/><stop offset="0.3735" stop-color="#cbcbff"/><stop offset="0.4224" stop-color="#e4e4ff"/><stop offset="0.5571" stop-color="#e4e4ff"/><stop offset="0.6927" stop-color="#dedeff"/><stop offset="0.7261" stop-color="#e3e3ff"/><stop offset="0.7963" stop-color="#fffefe"/><stop offset="0.8396" stop-color="#ffeaea"/><stop offset="0.9359" stop-color="#ffe4e4"/><stop offset="0.9996" stop-color="#ffe4e4"/></linearGradient><linearGradient id="g44"><stop offset="0.0004" stop-color="#b2b2ff"/><stop offset="0.1384" stop-color="#afafff"/><stop offset="0.2004" stop-color="#9898ff"/><stop offset="0.2461" stop-color="#7d7dff"/><stop offset="0.3106" stop-color="#8383ff"/><stop offset="0.3416" stop-color="#9d9dff"/><stop offset="0.3735" stop-color="#cbcbff"/><stop offset="0.4224" stop-color="#e4e4ff"/><stop offset="0.5571" stop-color="#e3e3ff"/><stop offset="0.6943" stop-color="#ddddff"/><stop offset="0.7261" stop-color="#e2e2ff"/><stop offset="0.7980" stop-color="#fffdfd"/><stop offset="0.8388" stop-color="#ffeaea"/><stop offset="0.9310" stop-color="#ffe4e4"/><stop offset="0.9996" stop-color="#ffe4e4"/></linearGradient><linearGradient id="g45"><stop offset="0.0004" stop-color="#b2b2ff"/><stop offset="0.1384" stop-color="#afafff"/><stop offset="0.2004" stop-color="#9797ff"/><stop offset="0.2461" stop-color="#7d7dff"/><stop offset="0.3106" stop-color="#8383ff"/><stop offset="0.3416" stop-color="#9d9dff"/><stop offset="0.3735" stop-color="#cacaff"/><stop offset="0.4224" stop-color="#e3e3ff"/><stop offset="0.5563" stop-color="#e3e3ff"/><stop offset="0.6951" stop-color="#dcdcff"/><stop offset="0.7261" stop-color="#e2e2ff"/><stop offset="0.7988" stop-color="#fffefe"/><stop offset="0.8388" stop-color="#ffeaea"/><stop offset="0.9294" stop-color="#ffe4e4"/><stop offset="0.9996" stop-color="#ffe4e4"/></linearGradient><linearGradient id="g46"><stop offset="0.0004" stop-color="#b2b2ff"/><stop offset="0.1384" stop-color="#afafff"/><stop offset="0.2004" stop-color="#9797ff"/><stop offset="0.2461" stop-color="#7d7dff"/><stop offset="0.3106" stop-color="#8383ff"/><stop offset="0.3416" stop-color="#9c9cff"/><stop offset="0.3735" stop-color="#cacaff"/><stop offset="0.4224" stop-color="#e3e3ff"/><stop offset="0.5563" stop-color="#e3e3ff"/><stop offset="0.6984" stop-color="#dcdcff"/><stop offset="0.7278" stop-color="#e2e2ff"/><stop offset="0.7996" stop-color="#fffefe"/><stop offset="0.8388" stop-color="#ffebeb"/><stop offset="0.9286" stop-color="#ffe4e4"/><stop offset="0.9996" stop-color="#ffe4e4"/></linearGradient><linearGradient id="g47"><stop offset="0.0004" stop-color="#b2b2ff"/><stop offset="0.1384" stop-color="#aeaeff"/><stop offset="0.2012" stop-color="#9696ff"/><stop offset="0.2461" stop-color="#7d7dff"/><stop offset="0.3106" stop-color="#8383ff"/><stop offset="0.3416" stop-color="#9c9cff"/><stop offset="0.3735" stop-color="#cacaff"/><stop offset="0.4224" stop-color="#e3e3ff"/><stop offset="0.5555" stop-color="#e3e3ff"/><stop offset="0.7016" stop-color="#dcdcff"/><stop offset="0.7318" stop-color="#e3e3ff"/><stop offset="0.8004" stop-color="#fffdfd"/><stop offset="0.8396" stop-color="#ffebeb"/><stop offset="0.9294" stop-color="#ffe4e4"/><stop offset="0.9996" stop-color="#ffe4e4"/></linearGradient><linearGradient id="g48"><stop offset="0.0004" stop-color="#b2b2ff"/><stop offset="0.1376" stop-color="#aeaeff"/><stop offset="0.2012" stop-color="#9696ff"/><stop offset="0.2469" stop-color="#7d7dff"/><stop offset="0.3106" stop-color="#8383ff"/><stop offset="0.3424" stop-color="#9d9dff"/><stop offset="0.3735" stop-color="#c9c9ff"/><stop offset="0.4224" stop-color="#e3e3ff"/><stop offset="0.5531" stop-color="#e3e3ff"/><stop offset="0.7049" stop-color="#dbdbff"/><stop offset="0.7457" stop-color="#e9e9ff"/><stop offset="0.8012" stop-color="#fffdfd"/><stop offset="0.8404" stop-color="#ffebeb"/><stop offset="0.9310" stop-color="#ffe4e4"/><stop offset="0.9996" stop-color="#ffe4e4"/></linearGradient><linearGradient id="g49"><stop offset="0.0004" stop-color="#b2b2ff"/><stop offset="0.1351" stop-color="#aeaeff"/><stop offset="0.2020" stop-color="#9595ff"/><stop offset="0.2469" stop-color="#7d7dff"/><stop offset="0.3106" stop-color="#8282ff"/><stop offset="0.3424" stop-color="#9d9dff"/><stop offset="0.3743" stop-color="#c9c9ff"/><stop offset="0.4233" stop-color="#e3e3ff"/><stop offset="0.5498" stop-color="#e3e3ff"/><stop offset="0.7090" stop-color="#dbdbff"/><stop offset="0.8020" stop-color="#fffdfd"/><stop offset="0.8412" stop-color="#ffebeb"/><stop offset="0.9343" stop-color="#ffe4e4"/><stop offset="0.9996" stop-color="#ffe4e4"/></linearGradient><linearGradient id="g50"><stop offset="0.0004" stop-color="#b2b2ff"/><stop offset="0.1335" stop-color="#aeaeff"/><stop offset="0.2037" stop-color="#9393ff"/><stop offset="0.2478" stop-color="#7c7cff"/><stop offset="0.3106" stop-color="#8282ff"/><stop offset="0.3424" stop-color="#9c9cff"/><stop offset="0.3743" stop-color="#c9c9ff"/><stop offset="0.4233" stop-color="#e2e2ff"/><stop offset="0.5408" stop-color="#e4e4ff"/><stop offset="0.7098" stop-color="#dbdbff"/><stop offset="0.8029" stop-color="#fffdfd"/><stop offset="0.8429" stop-color="#ffeaea"/><stop offset="0.9392" stop-color="#ffe4e4"/><stop offset="0.9996" stop-color="#ffe4e4"/></linearGradient><linearGradient id="g51"><stop offset="0.0004" stop-color="#b2b2ff"/><stop offset="0.1302" stop-color="#aeaeff"/><stop offset="0.2045" stop-color="#9292ff"/><stop offset="0.2486" stop-color="#7c7cff"/><stop offset="0.3114" stop-color="#8282ff"/><stop offset="0.3433" stop-color="#9d9dff"/><stop offset="0.3743" stop-color="#c8c8ff"/><stop offset="0.4241" stop-color="#e2e2ff"/><stop offset="0.5376" stop-color="#e4e4ff"/><stop offset="0.7131" stop-color="#dbdbff"/><stop offset="0.8037" stop-color="#fffdfd"/><stop offset="0.8445" stop-color="#ffeaea"/><stop offset="0.9465" stop-color="#ffe5e5"/><stop offset="0.9996" stop-color="#ffe5e5"/></linearGradient><linearGradient id="g52"><stop offset="0.0004" stop-color="#b2b2ff"/><stop offset="0.1269" stop-color="#aeaeff"/><stop offset="0.2053" stop-color="#9090ff"/><stop offset="0.2494" stop-color="#7c7cff"/><stop offset="0.3098" stop-color="#8181ff"/><stop offset="0.3433" stop-color="#9c9cff"/><stop offset="0.3751" stop-color="#c8c8ff"/><stop offset="0.4249" stop-color="#e2e2ff"/><stop offset="0.5351" stop-color="#e4e4ff"/><stop offset="0.7147" stop-color="#dbdbff"/><stop offset="0.8053" stop-color="#fffdfd"/><stop offset="0.8461" stop-color="#ffeaea"/><stop offset="0.9555" stop-color="#ffe5e5"/><stop offset="0.9996" stop-color="#ffe5e5"/></linearGradient><linearGradient id="g53"><stop offset="0.0004" stop-color="#b2b2ff"/><stop offset="0.1204" stop-color="#afafff"/><stop offset="0.2045" stop-color="#9090ff"/><stop offset="0.2502" stop-color="#7b7bff"/><stop offset="0.3082" stop-color="#8080ff"/><stop offset="0.3433" stop-color="#9c9cff"/><stop offset="0.3751" stop-color="#c7c7ff"/><stop offset="0.4249" stop-color="#e2e2ff"/><stop offset="0.5261" stop-color="#e5e5ff"/><stop offset="0.7155" stop-color="#dadaff"/><stop offset="0.7833" stop-color="#f5f5ff"/><stop offset="0.8061" stop-color="#fffdfd"/><stop offset="0.8469" stop-color="#ffeaea"/><stop offset="0.9612" stop-color="#ffe5e5"/><stop offset="0.9996" stop-color="#ffe5e5"/></linearGradient><linearGradient id="g54"><stop offset="0.0004" stop-color="#b2b2ff"/><stop offset="0.1163" stop-color="#afafff"/><stop offset="0.2053" stop-color="#8f8fff"/><stop offset="0.2518" stop-color="#7b7bff"/><stop offset="0.3065" stop-color="#7f7fff"/><stop offset="0.3424" stop-color="#9a9aff"/><stop offset="0.3759" stop-color="#c7c7ff"/><stop offset="0.4257" stop-color="#e2e2ff"/><stop offset="0.5237" stop-color="#e5e5ff"/><stop offset="0.7171" stop-color="#dadaff"/><stop offset="0.7710" stop-color="#eeeeff"/><stop offset="0.8069" stop-color="#fffdfd"/><stop offset="0.8486" stop-color="#ffeaea"/><stop offset="0.9669" stop-color="#ffe5e5"/><stop offset="0.9996" stop-color="#ffe5e5"/></linearGradient><linearGradient id="g55"><stop offset="0.0004" stop-color="#b2b2ff"/><stop offset="0.1131" stop-color="#afafff"/><stop offset="0.2078" stop-color="#8d8dff"/><stop offset="0.2535" stop-color="#7a7aff"/><stop offset="0.3057" stop-color="#7e7eff"/><stop offset="0.3400" stop-color="#9797ff"/><stop offset="0.3759" stop-color="#c6c6ff"/><stop offset="0.4265" stop-color="#e1e1ff"/><stop offset="0.5220" stop-color="#e5e5ff"/><stop offset="0.7188" stop-color="#dadaff"/><stop offset="0.7653" stop-color="#eaeaff"/><stop offset="0.8078" stop-color="#fffefe"/><stop offset="0.8502" stop-color="#ffeaea"/><stop offset="0.9702" stop-color="#ffe5e5"/><stop offset="0.9996" stop-color="#ffe5e5"/></linearGradient><linearGradient id="g56"><stop offset="0.0004" stop-color="#b2b2ff"/><stop offset="0.1106" stop-color="#afafff"/><stop offset="0.2102" stop-color="#8b8bff"/><stop offset="0.2576" stop-color="#7979ff"/><stop offset="0.3122" stop-color="#8181ff"/><stop offset="0.3457" stop-color="#9e9eff"/><stop offset="0.3767" stop-color="#c6c6ff"/><stop offset="0.4273" stop-color="#e1e1ff"/><stop offset="0.5229" stop-color="#e5e5ff"/><stop offset="0.7196" stop-color="#dadaff"/><stop offset="0.7620" stop-color="#e8e8ff"/><stop offset="0.8086" stop-color="#fffefe"/><stop offset="0.8510" stop-color="#ffeaea"/><stop offset="0.9718" stop-color="#ffe5e5"/><stop offset="0.9996" stop-color="#ffe5e5"/></linearGradient><linearGradient id="g57"><stop offset="0.0004" stop-color="#b2b2ff"/><stop offset="0.1082" stop-color="#afafff"/><stop offset="0.2143" stop-color="#8888ff"/><stop offset="0.2649" stop-color="#7777ff"/><stop offset="0.3180" stop-color="#8383ff"/><stop offset="0.3498" stop-color="#a3a3ff"/><stop offset="0.3776" stop-color="#c6c6ff"/><stop offset="0.4282" stop-color="#e1e1ff"/><stop offset="0.5278" stop-color="#e4e4ff"/><stop offset="0.7196" stop-color="#d9d9ff"/><stop offset="0.7588" stop-color="#e5e5ff"/><stop offset="0.8094" stop-color="#fffefe"/><stop offset="0.8518" stop-color="#ffeaea"/><stop offset="0.9727" stop-color="#ffe5e5"/><stop offset="0.9996" stop-color="#ffe5e5"/></linearGradient><linearGradient id="g58"><stop offset="0.0004" stop-color="#b2b2ff"/><stop offset="0.1065" stop-color="#afafff"/><stop offset="0.2633" stop-color="#7777ff"/><stop offset="0.3188" stop-color="#8383ff"/><stop offset="0.3514" stop-color="#a4a4ff"/><stop offset="0.3776" stop-color="#c5c5ff"/><stop offset="0.4282" stop-color="#e1e1ff"/><stop offset="0.5278" stop-color="#e4e4ff"/><stop offset="0.7204" stop-color="#d9d9ff"/><stop offset="0.7580" stop-color="#e3e3ff"/><stop offset="0.8110" stop-color="#fffdfd"/><stop offset="0.8518" stop-color="#ffeaea"/><stop offset="0.9710" stop-color="#ffe5e5"/><stop offset="0.9996" stop-color="#ffe5e5"/></linearGradient><linearGradient id="g59"><stop offset="0.0004" stop-color="#b2b2ff"/><stop offset="0.1057" stop-color="#afafff"/><stop offset="0.2657" stop-color="#7676ff"/><stop offset="0.3204" stop-color="#8484ff"/><stop offset="0.3531" stop-color="#a6a6ff"/><stop offset="0.3784" stop-color="#c5c5ff"/><stop offset="0.4290" stop-color="#e1e1ff"/><stop offset="0.5531" stop-color="#e2e2ff"/><stop offset="0.7220" stop-color="#d9d9ff"/><stop offset="0.7563" stop-color="#e1e1ff"/><stop offset="0.8118" stop-color="#fffdfd"/><stop offset="0.8518" stop-color="#ffeaea"/><stop offset="0.9694" stop-color="#ffe5e5"/><stop offset="0.9996" stop-color="#ffe5e5"/></linearGradient><linearGradient id="g60"><stop offset="0.0004" stop-color="#b2b2ff"/><stop offset="0.1049" stop-color="#afafff"/><stop offset="0.2673" stop-color="#7575ff"/><stop offset="0.3212" stop-color="#8484ff"/><stop offset="0.3539" stop-color="#a6a6ff"/><stop offset="0.3792" stop-color="#c5c5ff"/><stop offset="0.4290" stop-color="#e0e0ff"/><stop offset="0.4673" stop-color="#e0e0ff"/><stop offset="0.5629" stop-color="#e2e2ff"/><stop offset="0.7229" stop-color="#d8d8ff"/><stop offset="0.7555" stop-color="#e0e0ff"/><stop offset="0.8127" stop-color="#fffdfd"/><stop offset="0.8518" stop-color="#ffebeb"/><stop offset="0.9678" stop-color="#ffe5e5"/><stop offset="0.9996" stop-color="#ffe5e5"/></linearGradient><linearGradient id="g61"><stop offset="0.0004" stop-color="#b2b2ff"/><stop offset="0.1041" stop-color="#afafff"/><stop offset="0.2682" stop-color="#7575ff"/><stop offset="0.3220" stop-color="#8585ff"/><stop offset="0.3547" stop-color="#a7a7ff"/><stop offset="0.3792" stop-color="#c4c4ff"/><stop offset="0.4290" stop-color="#e0e0ff"/><stop offset="0.4600" stop-color="#dfdfff"/><stop offset="0.4992" stop-color="#e0e0ff"/><stop offset="0.5580" stop-color="#e2e2ff"/><stop offset="0.7245" stop-color="#d8d8ff"/><stop offset="0.7555" stop-color="#dfdfff"/><stop offset="0.8135" stop-color="#fffdfd"/><stop offset="0.8518" stop-color="#ffebeb"/><stop offset="0.9661" stop-color="#ffe5e5"/><stop offset="0.9996" stop-color="#ffe5e5"/></linearGradient><linearGradient id="g62"><stop offset="0.0004" stop-color="#b2b2ff"/><stop offset="0.1033" stop-color="#afafff"/><stop offset="0.2690" stop-color="#7474ff"/><stop offset="0.3220" stop-color="#8484ff"/><stop offset="0.3555" stop-color="#a8a8ff"/><stop offset="0.3800" stop-color="#c4c4ff"/><stop offset="0.4290" stop-color="#e0e0ff"/><stop offset="0.4567" stop-color="#dedeff"/><stop offset="0.4894" stop-color="#dbdbff"/><stop offset="0.5376" stop-color="#e3e3ff"/><stop offset="0.7261" stop-color="#d8d8ff"/><stop offset="0.7555" stop-color="#dedeff"/><stop offset="0.8135" stop-color="#fffefe"/><stop offset="0.8518" stop-color="#ffebeb"/><stop offset="0.9653" stop-color="#ffe5e5"/><stop offset="0.9996" stop-color="#ffe5e5"/></linearGradient><linearGradient id="g63"><stop offset="0.0004" stop-color="#b2b2ff"/><stop offset="0.1033" stop-color="#afafff"/><stop offset="0.2690" stop-color="#7474ff"/><stop offset="0.3220" stop-color="#8484ff"/><stop offset="0.3555" stop-color="#a7a7ff"/><stop offset="0.3800" stop-color="#c4c4ff"/><stop offset="0.4290" stop-color="#dfdfff"/><stop offset="0.4543" stop-color="#ddddff"/><stop offset="0.4853" stop-color="#d8d8ff"/><stop offset="0.5327" stop-color="#e3e3ff"/><stop offset="0.7286" stop-color="#d7d7ff"/><stop offset="0.7555" stop-color="#ddddff"/><stop offset="0.8143" stop-color="#fffefe"/><stop offset="0.8518" stop-color="#ffebeb"/><stop offset="0.9645" stop-color="#ffe5e5"/><stop offset="0.9996" stop-color="#ffe5e5"/></linearGradient><linearGradient id="g64"><stop offset="0.0004" stop-color="#b2b2ff"/><stop offset="0.1033" stop-color="#afafff"/><stop offset="0.2690" stop-color="#7474ff"/><stop offset="0.3220" stop-color="#8484ff"/><stop offset="0.3563" stop-color="#a8a8ff"/><stop offset="0.3800" stop-color="#c4c4ff"/><stop offset="0.4290" stop-color="#dfdfff"/><stop offset="0.4543" stop-color="#ddddff"/><stop offset="0.4845" stop-color="#d6d6ff"/><stop offset="0.5318" stop-color="#e3e3ff"/><stop offset="0.7302" stop-color="#d7d7ff"/><stop offset="0.7555" stop-color="#dcdcff"/><stop offset="0.8143" stop-color="#fffefe"/><stop offset="0.8518" stop-color="#ffebeb"/><stop offset="0.9645" stop-color="#ffe6e6"/><stop offset="0.9996" stop-color="#ffe6e6"/></linearGradient><linearGradient id="g65"><stop offset="0.0004" stop-color="#b2b2ff"/><stop offset="0.1024" stop-color="#afafff"/><stop offset="0.2682" stop-color="#7373ff"/><stop offset="0.3220" stop-color="#8484ff"/><stop offset="0.3563" stop-color="#a8a8ff"/><stop offset="0.3808" stop-color="#c4c4ff"/><stop offset="0.4290" stop-color="#dfdfff"/><stop offset="0.4543" stop-color="#ddddff"/><stop offset="0.4853" stop-color="#d7d7ff"/><stop offset="0.5327" stop-color="#e3e3ff"/><stop offset="0.7286" stop-color="#d7d7ff"/><stop offset="0.7547" stop-color="#dcdcff"/><stop offset="0.8143" stop-color="#fffefe"/><stop offset="0.8518" stop-color="#ffebeb"/><stop offset="0.9661" stop-color="#ffe6e6"/><stop offset="0.9996" stop-color="#ffe6e6"/></linearGradient><linearGradient id="g66"><stop offset="0.0004" stop-color="#b2b2ff"/><stop offset="0.1024" stop-color="#afafff"/><stop offset="0.2682" stop-color="#7373ff"/><stop offset="0.3220" stop-color="#8484ff"/><stop offset="0.3563" stop-color="#a7a7ff"/><stop offset="0.3808" stop-color="#c3c3ff"/><stop offset="0.4298" stop-color="#dfdfff"/><stop offset="0.4559" stop-color="#dedeff"/><stop offset="0.4886" stop-color="#dadaff"/><stop offset="0.5359" stop-color="#e3e3ff"/><stop offset="0.7245" stop-color="#d7d7ff"/><stop offset="0.7539" stop-color="#dbdbff"/><stop offset="0.8135" stop-color="#fffefe"/><stop offset="0.8518" stop-color="#ffebeb"/><stop offset="0.9694" stop-color="#ffe6e6"/><stop offset="0.9996" stop-color="#ffe6e6"/></linearGradient><linearGradient id="g67"><stop offset="0.0004" stop-color="#b2b2ff"/><stop offset="0.1024" stop-color="#aeaeff"/><stop offset="0.2673" stop-color="#7373ff"/><stop offset="0.3220" stop-color="#8484ff"/><stop offset="0.3571" stop-color="#a8a8ff"/><stop offset="0.3816" stop-color="#c3c3ff"/><stop offset="0.4306" stop-color="#dfdfff"/><stop offset="0.4592" stop-color="#dedeff"/><stop offset="0.4959" stop-color="#dedeff"/><stop offset="0.5482" stop-color="#e2e2ff"/><stop offset="0.7204" stop-color="#d7d7ff"/><stop offset="0.7539" stop-color="#dcdcff"/><stop offset="0.8127" stop-color="#fffefe"/><stop offset="0.8518" stop-color="#ffebeb"/><stop offset="0.9735" stop-color="#ffe6e6"/><stop offset="0.9996" stop-color="#ffe6e6"/></linearGradient><linearGradient id="g68"><stop offset="0.0004" stop-color="#b2b2ff"/><stop offset="0.1024" stop-color="#aeaeff"/><stop offset="0.2665" stop-color="#7373ff"/><stop offset="0.3212" stop-color="#8383ff"/><stop offset="0.3571" stop-color="#a8a8ff"/><stop offset="0.3816" stop-color="#c3c3ff"/><stop offset="0.4314" stop-color="#e0e0ff"/><stop offset="0.4665" stop-color="#dfdfff"/><stop offset="0.5612" stop-color="#e1e1ff"/><stop offset="0.7180" stop-color="#d6d6ff"/><stop offset="0.7531" stop-color="#dbdbff"/><stop offset="0.8118" stop-color="#fffefe"/><stop offset="0.8527" stop-color="#ffebeb"/><stop offset="0.9816" stop-color="#ffe6e6"/><stop offset="0.9996" stop-color="#ffe6e6"/></linearGradient><linearGradient id="g69"><stop offset="0.0004" stop-color="#b2b2ff"/><stop offset="0.1016" stop-color="#aeaeff"/><stop offset="0.2649" stop-color="#7373ff"/><stop offset="0.3204" stop-color="#8282ff"/><stop offset="0.3571" stop-color="#a7a7ff"/><stop offset="0.3824" stop-color="#c3c3ff"/><stop offset="0.4322" stop-color="#e0e0ff"/><stop offset="0.5669" stop-color="#e1e1ff"/><stop offset="0.7155" stop-color="#d6d6ff"/><stop offset="0.7531" stop-color="#dcdcff"/><stop offset="0.8102" stop-color="#fffefe"/><stop offset="0.8527" stop-color="#ffebeb"/><stop offset="0.9898" stop-color="#ffe6e6"/><stop offset="0.9996" stop-color="#ffe6e6"/></linearGradient><linearGradient id="g70"><stop offset="0.0004" stop-color="#b1b1ff"/><stop offset="0.1016" stop-color="#adadff"/><stop offset="0.2624" stop-color="#7373ff"/><stop offset="0.3196" stop-color="#8181ff"/><stop offset="0.3580" stop-color="#a8a8ff"/><stop offset="0.3833" stop-color="#c3c3ff"/><stop offset="0.4331" stop-color="#e0e0ff"/><stop offset="0.5661" stop-color="#e1e1ff"/><stop offset="0.7131" stop-color="#d6d6ff"/><stop offset="0.7531" stop-color="#dcdcff"/><stop offset="0.8086" stop-color="#fffefe"/><stop offset="0.8527" stop-color="#ffebeb"/><stop offset="0.9996" stop-color="#ffe6e6"/></linearGradient><linearGradient id="g71"><stop offset="0.0004" stop-color="#b1b1ff"/><stop offset="0.1008" stop-color="#adadff"/><stop offset="0.2592" stop-color="#7474ff"/><stop offset="0.3098" stop-color="#7c7cff"/><stop offset="0.3482" stop-color="#9b9bff"/><stop offset="0.3816" stop-color="#c1c1ff"/><stop offset="0.4331" stop-color="#e0e0ff"/><stop offset="0.5392" stop-color="#e2e2ff"/><stop offset="0.7114" stop-color="#d6d6ff"/><stop offset="0.7531" stop-color="#dcdcff"/><stop offset="0.8069" stop-color="#fffefe"/><stop offset="0.8535" stop-color="#ffeaea"/><stop offset="0.9996" stop-color="#ffe6e6"/></linearGradient><linearGradient id="g72"><stop offset="0.0004" stop-color="#b1b1ff"/><stop offset="0.1000" stop-color="#adadff"/><stop offset="0.2559" stop-color="#7474ff"/><stop offset="0.2927" stop-color="#7777ff"/><stop offset="0.3237" stop-color="#8484ff"/><stop offset="0.3604" stop-color="#aaaaff"/><stop offset="0.3873" stop-color="#c5c5ff"/><stop offset="0.4363" stop-color="#e1e1ff"/><stop offset="0.5718" stop-color="#e0e0ff"/><stop offset="0.7090" stop-color="#d5d5ff"/><stop offset="0.7531" stop-color="#dcdcff"/><stop offset="0.8053" stop-color="#fffefe"/><stop offset="0.8535" stop-color="#ffeaea"/><stop offset="0.9996" stop-color="#ffe6e6"/></linearGradient><linearGradient id="g73"><stop offset="0.0004" stop-color="#b0b0ff"/><stop offset="0.0992" stop-color="#adadff"/><stop offset="0.2535" stop-color="#7474ff"/><stop offset="0.2886" stop-color="#7676ff"/><stop offset="0.3220" stop-color="#8383ff"/><stop offset="0.3604" stop-color="#a9a9ff"/><stop offset="0.3890" stop-color="#c6c6ff"/><stop offset="0.4388" stop-color="#e2e2ff"/><stop offset="0.5808" stop-color="#dfdfff"/><stop offset="0.7041" stop-color="#d4d4ff"/><stop offset="0.7522" stop-color="#dcdcff"/><stop offset="0.8037" stop-color="#fffefe"/><stop offset="0.8535" stop-color="#ffeaea"/><stop offset="0.9996" stop-color="#ffe6e6"/></linearGradient><linearGradient id="g74"><stop offset="0.0004" stop-color="#b0b0ff"/><stop offset="0.0984" stop-color="#acacff"/><stop offset="0.2510" stop-color="#7575ff"/><stop offset="0.2869" stop-color="#7575ff"/><stop offset="0.3212" stop-color="#8282ff"/><stop offset="0.3612" stop-color="#aaaaff"/><stop offset="0.3931" stop-color="#c9c9ff"/><stop offset="0.4429" stop-color="#e3e3ff"/><stop offset="0.5898" stop-color="#dedeff"/><stop offset="0.7008" stop-color="#d4d4ff"/><stop offset="0.7522" stop-color="#ddddff"/><stop offset="0.8020" stop-color="#fffefe"/><stop offset="0.8535" stop-color="#ffeaea"/><stop offset="0.9996" stop-color="#ffe6e6"/></linearGradient><linearGradient id="g75"><stop offset="0.0004" stop-color="#b0b0ff"/><stop offset="0.0976" stop-color="#acacff"/><stop offset="0.2486" stop-color="#7575ff"/><stop offset="0.2853" stop-color="#7575ff"/><stop offset="0.3204" stop-color="#8181ff"/><stop offset="0.3620" stop-color="#aaaaff"/><stop offset="0.3980" stop-color="#ccccff"/><stop offset="0.4461" stop-color="#e3e3ff"/><stop offset="0.5906" stop-color="#ddddff"/><stop offset="0.6959" stop-color="#d3d3ff"/><stop offset="0.7522" stop-color="#ddddff"/><stop offset="0.8004" stop-color="#fffefe"/><stop offset="0.8535" stop-color="#ffeaea"/><stop offset="0.9996" stop-color="#ffe7e7"/></linearGradient><linearGradient id="g76"><stop offset="0.0004" stop-color="#b0b0ff"/><stop offset="0.0967" stop-color="#acacff"/><stop offset="0.2453" stop-color="#7575ff"/><stop offset="0.2837" stop-color="#7474ff"/><stop offset="0.3188" stop-color="#7f7fff"/><stop offset="0.3620" stop-color="#a9a9ff"/><stop offset="0.4004" stop-color="#cdcdff"/><stop offset="0.4486" stop-color="#e3e3ff"/><stop offset="0.5906" stop-color="#ddddff"/><stop offset="0.6886" stop-color="#d2d2ff"/><stop offset="0.7514" stop-color="#dcdcff"/><stop offset="0.7988" stop-color="#ffffff"/><stop offset="0.8527" stop-color="#ffeaea"/><stop offset="0.9996" stop-color="#ffe7e7"/></linearGradient><linearGradient id="g77"><stop offset="0.0004" stop-color="#afafff"/><stop offset="0.0959" stop-color="#acacff"/><stop offset="0.2420" stop-color="#7676ff"/><stop offset="0.2820" stop-color="#7474ff"/><stop offset="0.3180" stop-color="#7f7fff"/><stop offset="0.3620" stop-color="#a9a9ff"/><stop offset="0.4020" stop-color="#ceceff"/><stop offset="0.4486" stop-color="#e3e3ff"/><stop offset="0.5890" stop-color="#ddddff"/><stop offset="0.6796" stop-color="#d2d2ff"/><stop offset="0.7506" stop-color="#dcdcff"/><stop offset="0.7963" stop-color="#ffffff"/><stop offset="0.8478" stop-color="#ffeaea"/><stop offset="0.9996" stop-color="#ffe7e7"/></linearGradient><linearGradient id="g78"><stop offset="0.0004" stop-color="#afafff"/><stop offset="0.0951" stop-color="#ababff"/><stop offset="0.2396" stop-color="#7676ff"/><stop offset="0.2820" stop-color="#7373ff"/><stop offset="0.3171" stop-color="#7e7eff"/><stop offset="0.3629" stop-color="#a9a9ff"/><stop offset="0.4061" stop-color="#d0d0ff"/><stop offset="0.4494" stop-color="#e2e2ff"/><stop offset="0.5890" stop-color="#ddddff"/><stop offset="0.6722" stop-color="#d2d2ff"/><stop offset="0.7441" stop-color="#d9d9ff"/><stop offset="0.7955" stop-color="#ffffff"/><stop offset="0.8437" stop-color="#ffebeb"/><stop offset="0.9996" stop-color="#ffe7e7"/></linearGradient><linearGradient id="g79"><stop offset="0.0004" stop-color="#afafff"/><stop offset="0.0943" stop-color="#ababff"/><stop offset="0.2371" stop-color="#7676ff"/><stop offset="0.2812" stop-color="#7373ff"/><stop offset="0.3155" stop-color="#7d7dff"/><stop offset="0.3629" stop-color="#a8a8ff"/><stop offset="0.4069" stop-color="#d0d0ff"/><stop offset="0.4494" stop-color="#e2e2ff"/><stop offset="0.5873" stop-color="#ddddff"/><stop offset="0.6657" stop-color="#d2d2ff"/><stop offset="0.7278" stop-color="#d6d6ff"/><stop offset="0.7539" stop-color="#e0e0ff"/><stop offset="0.7939" stop-color="#ffffff"/><stop offset="0.8363" stop-color="#ffeded"/><stop offset="0.9751" stop-color="#ffe7e7"/><stop offset="0.9996" stop-color="#ffe7e7"/></linearGradient><linearGradient id="g80"><stop offset="0.0004" stop-color="#aeaeff"/><stop offset="0.0935" stop-color="#ababff"/><stop offset="0.2355" stop-color="#7676ff"/><stop offset="0.2804" stop-color="#7373ff"/><stop offset="0.3147" stop-color="#7c7cff"/><stop offset="0.3629" stop-color="#a8a8ff"/><stop offset="0.4069" stop-color="#d0d0ff"/><stop offset="0.4494" stop-color="#e2e2ff"/><stop offset="0.5873" stop-color="#ddddff"/><stop offset="0.6616" stop-color="#d1d1ff"/><stop offset="0.7220" stop-color="#d5d5ff"/><stop offset="0.7531" stop-color="#dfdfff"/><stop offset="0.7922" stop-color="#ffffff"/><stop offset="0.8314" stop-color="#ffeeee"/><stop offset="0.9408" stop-color="#ffe7e7"/><stop offset="0.9996" stop-color="#ffe7e7"/></linearGradient><linearGradient id="g81"><stop offset="0.0004" stop-color="#aeaeff"/><stop offset="0.0918" stop-color="#aaaaff"/><stop offset="0.2339" stop-color="#7676ff"/><stop offset="0.2788" stop-color="#7272ff"/><stop offset="0.3139" stop-color="#7b7bff"/><stop offset="0.3637" stop-color="#a8a8ff"/><stop offset="0.4069" stop-color="#d0d0ff"/><stop offset="0.4486" stop-color="#e2e2ff"/><stop offset="0.5865" stop-color="#ddddff"/><stop offset="0.6584" stop-color="#d1d1ff"/><stop offset="0.7196" stop-color="#d4d4ff"/><stop offset="0.7531" stop-color="#dfdfff"/><stop offset="0.7906" stop-color="#ffffff"/><stop offset="0.8282" stop-color="#ffeeee"/><stop offset="0.9318" stop-color="#ffe7e7"/><stop offset="0.9996" stop-color="#ffe7e7"/></linearGradient><linearGradient id="g82"><stop offset="0.0004" stop-color="#aeaeff"/><stop offset="0.0910" stop-color="#aaaaff"/><stop offset="0.2322" stop-color="#7676ff"/><stop offset="0.2771" stop-color="#7272ff"/><stop offset="0.3131" stop-color="#7a7aff"/><stop offset="0.3645" stop-color="#a8a8ff"/><stop offset="0.4069" stop-color="#cfcfff"/><stop offset="0.4486" stop-color="#e2e2ff"/><stop offset="0.5857" stop-color="#dcdcff"/><stop offset="0.6559" stop-color="#d0d0ff"/><stop offset="0.7171" stop-color="#d4d4ff"/><stop offset="0.7531" stop-color="#e0e0ff"/><stop offset="0.7890" stop-color="#ffffff"/><stop offset="0.8265" stop-color="#ffeeee"/><stop offset="0.9343" stop-color="#ffe7e7"/><stop offset="0.9996" stop-color="#ffe7e7"/></linearGradient><linearGradient id="g83"><stop offset="0.0004" stop-color="#adadff"/><stop offset="0.0902" stop-color="#aaaaff"/><stop offset="0.2306" stop-color="#7575ff"/><stop offset="0.2755" stop-color="#7171ff"/><stop offset="0.3122" stop-color="#7a7aff"/><stop offset="0.3653" stop-color="#a9a9ff"/><stop offset="0.4069" stop-color="#cfcfff"/><stop offset="0.4486" stop-color="#e2e2ff"/><stop offset="0.5849" stop-color="#dcdcff"/><stop offset="0.6543" stop-color="#d0d0ff"/><stop offset="0.7163" stop-color="#d3d3ff"/><stop offset="0.7531" stop-color="#e0e0ff"/><stop offset="0.7882" stop-color="#ffffff"/><stop offset="0.8249" stop-color="#ffeeee"/><stop offset="0.9392" stop-color="#ffe8e8"/><stop offset="0.9996" stop-color="#ffe8e8"/></linearGradient><linearGradient id="g84"><stop offset="0.0004" stop-color="#adadff"/><stop offset="0.0894" stop-color="#aaaaff"/><stop offset="0.2290" stop-color="#7575ff"/><stop offset="0.2739" stop-color="#7171ff"/><stop offset="0.3114" stop-color="#7979ff"/><stop offset="0.3661" stop-color="#a9a9ff"/><stop offset="0.4069" stop-color="#cfcfff"/><stop offset="0.4486" stop-color="#e2e2ff"/><stop offset="0.5849" stop-color="#dcdcff"/><stop offset="0.6527" stop-color="#cfcfff"/><stop offset="0.7147" stop-color="#d3d3ff"/><stop offset="0.7522" stop-color="#e0e0ff"/><stop offset="0.7865" stop-color="#ffffff"/><stop offset="0.8233" stop-color="#ffeded"/><stop offset="0.9465" stop-color="#ffe8e8"/><stop offset="0.9996" stop-color="#ffe8e8"/></linearGradient><linearGradient id="g85"><stop offset="0.0004" stop-color="#adadff"/><stop offset="0.0894" stop-color="#a9a9ff"/><stop offset="0.2282" stop-color="#7575ff"/><stop offset="0.2731" stop-color="#7171ff"/><stop offset="0.3114" stop-color="#7878ff"/><stop offset="0.3669" stop-color="#a9a9ff"/><stop offset="0.4069" stop-color="#ceceff"/><stop offset="0.4486" stop-color="#e1e1ff"/><stop offset="0.5841" stop-color="#dcdcff"/><stop offset="0.6518" stop-color="#cfcfff"/><stop offset="0.7139" stop-color="#d2d2ff"/><stop offset="0.7522" stop-color="#e0e0ff"/><stop offset="0.7857" stop-color="#fffefe"/><stop offset="0.8224" stop-color="#ffeded"/><stop offset="0.9604" stop-color="#ffe8e8"/><stop offset="0.9996" stop-color="#ffe8e8"/></linearGradient><linearGradient id="g86"><stop offset="0.0004" stop-color="#adadff"/><stop offset="0.0886" stop-color="#a9a9ff"/><stop offset="0.2273" stop-color="#7575ff"/><stop offset="0.2714" stop-color="#7070ff"/><stop offset="0.3106" stop-color="#7878ff"/><stop offset="0.3669" stop-color="#a9a9ff"/><stop offset="0.4061" stop-color="#ceceff"/><stop offset="0.4486" stop-color="#e1e1ff"/><stop offset="0.5833" stop-color="#dcdcff"/><stop offset="0.6510" stop-color="#ceceff"/><stop offset="0.7139" stop-color="#d2d2ff"/><stop offset="0.7522" stop-color="#e0e0ff"/><stop offset="0.7849" stop-color="#fffefe"/><stop offset="0.8216" stop-color="#ffeded"/><stop offset="0.9824" stop-color="#ffe8e8"/><stop offset="0.9996" stop-color="#ffe8e8"/></linearGradient><linearGradient id="g87"><stop offset="0.0004" stop-color="#adadff"/><stop offset="0.0886" stop-color="#a9a9ff"/><stop offset="0.2265" stop-color="#7575ff"/><stop offset="0.2706" stop-color="#7070ff"/><stop offset="0.3106" stop-color="#7777ff"/><stop offset="0.3678" stop-color="#a9a9ff"/><stop offset="0.4061" stop-color="#cdcdff"/><stop offset="0.4486" stop-color="#e1e1ff"/><stop offset="0.5833" stop-color="#dcdcff"/><stop offset="0.6502" stop-color="#ceceff"/><stop offset="0.7131" stop-color="#d2d2ff"/><stop offset="0.7522" stop-color="#e0e0ff"/><stop offset="0.7841" stop-color="#fffefe"/><stop offset="0.8216" stop-color="#ffecec"/><stop offset="0.9996" stop-color="#ffe8e8"/></linearGradient><linearGradient id="g88"><stop offset="0.0004" stop-color="#acacff"/><stop offset="0.0878" stop-color="#a9a9ff"/><stop offset="0.2257" stop-color="#7575ff"/><stop offset="0.2698" stop-color="#7070ff"/><stop offset="0.3106" stop-color="#7777ff"/><stop offset="0.3686" stop-color="#aaaaff"/><stop offset="0.4061" stop-color="#cdcdff"/><stop offset="0.4486" stop-color="#e1e1ff"/><stop offset="0.5824" stop-color="#dcdcff"/><stop offset="0.6494" stop-color="#ceceff"/><stop offset="0.7122" stop-color="#d1d1ff"/><stop offset="0.7522" stop-color="#e0e0ff"/><stop offset="0.7833" stop-color="#fffefe"/><stop offset="0.8208" stop-color="#ffecec"/><stop offset="0.9996" stop-color="#ffe8e8"/></linearGradient><linearGradient id="g89"><stop offset="0.0004" stop-color="#acacff"/><stop offset="0.0878" stop-color="#a9a9ff"/><stop offset="0.2249" stop-color="#7575ff"/><stop offset="0.2690" stop-color="#7070ff"/><stop offset="0.3106" stop-color="#7777ff"/><stop offset="0.3686" stop-color="#a9a9ff"/><stop offset="0.4061" stop-color="#cdcdff"/><stop offset="0.4486" stop-color="#e1e1ff"/><stop offset="0.5824" stop-color="#dcdcff"/><stop offset="0.6494" stop-color="#cdcdff"/><stop offset="0.7122" stop-color="#d1d1ff"/><stop offset="0.7522" stop-color="#e1e1ff"/><stop offset="0.7833" stop-color="#fffefe"/><stop offset="0.8208" stop-color="#ffecec"/><stop offset="0.9996" stop-color="#ffe8e8"/></linearGradient><linearGradient id="g90"><stop offset="0.0004" stop-color="#acacff"/><stop offset="0.0878" stop-color="#a9a9ff"/><stop offset="0.2249" stop-color="#7474ff"/><stop offset="0.2690" stop-color="#7070ff"/><stop offset="0.3106" stop-color="#7777ff"/><stop offset="0.3694" stop-color="#aaaaff"/><stop offset="0.4061" stop-color="#cdcdff"/><stop offset="0.4486" stop-color="#e1e1ff"/><stop offset="0.5824" stop-color="#dcdcff"/><stop offset="0.6486" stop-color="#cdcdff"/><stop offset="0.7122" stop-color="#d1d1ff"/><stop offset="0.7522" stop-color="#e1e1ff"/><stop offset="0.7824" stop-color="#fffefe"/><stop offset="0.8208" stop-color="#ffebeb"/><stop offset="0.9996" stop-color="#ffe8e8"/></linearGradient><linearGradient id="g91"><stop offset="0.0004" stop-color="#acacff"/><stop offset="0.0878" stop-color="#a9a9ff"/><stop offset="0.2249" stop-color="#7474ff"/><stop offset="0.2690" stop-color="#7070ff"/><stop offset="0.3106" stop-color="#7777ff"/><stop offset="0.3694" stop-color="#aaaaff"/><stop offset="0.4061" stop-color="#cdcdff"/><stop offset="0.4486" stop-color="#e1e1ff"/><stop offset="0.5824" stop-color="#dcdcff"/><stop offset="0.6486" stop-color="#cdcdff"/><stop offset="0.7122" stop-color="#d1d1ff"/><stop offset="0.7522" stop-color="#e1e1ff"/><stop offset="0.7824" stop-color="#fffefe"/><stop offset="0.8208" stop-color="#ffebeb"/><stop offset="0.9996" stop-color="#ffe8e8"/></linearGradient><linearGradient id="g92"><stop offset="0.0004" stop-color="#acacff"/><stop offset="0.0878" stop-color="#a9a9ff"/><stop offset="0.2249" stop-color="#7474ff"/><stop offset="0.2690" stop-color="#7070ff"/><stop offset="0.3106" stop-color="#7777ff"/><stop offset="0.3694" stop-color="#aaaaff"/><stop offset="0.4061" stop-color="#cdcdff"/><stop offset="0.4486" stop-color="#e1e1ff"/><stop offset="0.5824" stop-color="#dcdcff"/><stop offset="0.6486" stop-color="#cdcdff"/><stop offset="0.7122" stop-color="#d1d1ff"/><stop offset="0.7522" stop-color="#e1e1ff"/><stop offset="0.7824" stop-color="#fffefe"/><stop offset="0.8208" stop-color="#ffebeb"/><stop offset="0.9996" stop-color="#ffe8e8"/></linearGradient><linearGradient id="g93"><stop offset="0.0004" stop-color="#acacff"/><stop offset="0.0878" stop-color="#a9a9ff"/><stop offset="0.2249" stop-color="#7474ff"/><stop offset="0.2690" stop-color="#7070ff"/><stop offset="0.3106" stop-color="#7777ff"/><stop offset="0.3694" stop-color="#aaaaff"/><stop offset="0.4061" stop-color="#cdcdff"/><stop offset="0.4486" stop-color="#e1e1ff"/><stop offset="0.5824" stop-color="#dcdcff"/><stop offset="0.6486" stop-color="#cdcdff"/><stop offset="0.7122" stop-color="#d1d1ff"/><stop offset="0.7522" stop-color="#e1e1ff"/><stop offset="0.7824" stop-color="#fffefe"/><stop offset="0.8208" stop-color="#ffebeb"/><stop offset="0.9996" stop-color="#ffe8e8"/></linearGradient><linearGradient id="g94"><stop offset="0.0004" stop-color="#acacff"/><stop offset="0.0878" stop-color="#a9a9ff"/><stop offset="0.2249" stop-color="#7474ff"/><stop offset="0.2690" stop-color="#7070ff"/><stop offset="0.3106" stop-color="#7777ff"/><stop offset="0.3694" stop-color="#aaaaff"/><stop offset="0.4061" stop-color="#cdcdff"/><stop offset="0.4486" stop-color="#e1e1ff"/><stop offset="0.5824" stop-color="#dcdcff"/><stop offset="0.6486" stop-color="#cdcdff"/><stop offset="0.7122" stop-color="#d1d1ff"/><stop offset="0.7522" stop-color="#e1e1ff"/><stop offset="0.7824" stop-color="#fffefe"/><stop offset="0.8208" stop-color="#ffebeb"/><stop offset="0.9996" stop-color="#ffe8e8"/></linearGradient><linearGradient id="g95"><stop offset="0.0004" stop-color="#acacff"/><stop offset="0.0878" stop-color="#a9a9ff"/><stop offset="0.2249" stop-color="#7474ff"/><stop offset="0.2690" stop-color="#7070ff"/><stop offset="0.3106" stop-color="#7777ff"/><stop offset="0.3694" stop-color="#aaaaff"/><stop offset="0.4061" stop-color="#cdcdff"/><stop offset="0.4486" stop-color="#e1e1ff"/><stop offset="0.5824" stop-color="#dcdcff"/><stop offset="0.6486" stop-color="#cdcdff"/><stop offset="0.7122" stop-color="#d1d1ff"/><stop offset="0.7522" stop-color="#e1e1ff"/><stop offset="0.7824" stop-color="#fffefe"/><stop offset="0.8208" stop-color="#ffebeb"/><stop offset="0.9996" stop-color="#ffe8e8"/></linearGradient><linearGradient id="g96"><stop offset="0.0004" stop-color="#acacff"/><stop offset="0.0878" stop-color="#a9a9ff"/><stop offset="0.2249" stop-color="#7474ff"/><stop offset="0.2690" stop-color="#7070ff"/><stop offset="0.3106" stop-color="#7777ff"/><stop offset="0.3694" stop-color="#aaaaff"/><stop offset="0.4061" stop-color="#cdcdff"/><stop offset="0.4486" stop-color="#e1e1ff"/><stop offset="0.5824" stop-color="#dcdcff"/><stop offset="0.6486" stop-color="#cdcdff"/><stop offset="0.7122" stop-color="#d1d1ff"/><stop offset="0.7522" stop-color="#e1e1ff"/><stop offset="0.7824" stop-color="#fffefe"/><stop offset="0.8208" stop-color="#ffebeb"/><stop offset="0.9996" stop-color="#ffe8e8"/></linearGradient><linearGradient id="g97"><stop offset="0.0004" stop-color="#acacff"/><stop offset="0.0878" stop-color="#a9a9ff"/><stop offset="0.2249" stop-color="#7474ff"/><stop offset="0.2690" stop-color="#7070ff"/><stop offset="0.3106" stop-color="#7777ff"/><stop offset="0.3694" stop-color="#aaaaff"/><stop offset="0.4061" stop-color="#cdcdff"/><stop offset="0.4486" stop-color="#e1e1ff"/><stop offset="0.5824" stop-color="#dcdcff"/><stop offset="0.6486" stop-color="#cdcdff"/><stop offset="0.7122" stop-color="#d1d1ff"/><stop offset="0.7522" stop-color="#e1e1ff"/><stop offset="0.7824" stop-color="#fffefe"/><stop offset="0.8208" stop-color="#ffebeb"/><stop offset="0.9996" stop-color="#ffe8e8"/></linearGradient><linearGradient id="g98"><stop offset="0.0004" stop-color="#acacff"/><stop offset="0.0878" stop-color="#a9a9ff"/><stop offset="0.2249" stop-color="#7474ff"/><stop offset="0.2690" stop-color="#7070ff"/><stop offset="0.3106" stop-color="#7777ff"/><stop offset="0.3694" stop-color="#aaaaff"/><stop offset="0.4061" stop-color="#cdcdff"/><stop offset="0.4486" stop-color="#e1e1ff"/><stop offset="0.5824" stop-color="#dcdcff"/><stop offset="0.6486" stop-color="#cdcdff"/><stop offset="0.7122" stop-color="#d1d1ff"/><stop offset="0.7522" stop-color="#e1e1ff"/><stop offset="0.7824" stop-color="#fffefe"/><stop offset="0.8208" stop-color="#ffebeb"/><stop offset="0.9996" stop-color="#ffe8e8"/></linearGradient><linearGradient id="g99"><stop offset="0.0004" stop-color="#acacff"/><stop offset="0.0878" stop-color="#a9a9ff"/><stop offset="0.2249" stop-color="#7474ff"/><stop offset="0.2690" stop-color="#7070ff"/><stop offset="0.3106" stop-color="#7777ff"/><stop offset="0.3694" stop-color="#aaaaff"/><stop offset="0.4061" stop-color="#cdcdff"/><stop offset="0.4486" stop-color="#e1e1ff"/><stop offset="0.5824" stop-color="#dcdcff"/><stop offset="0.6486" stop-color="#cdcdff"/><stop offset="0.7122" stop-color="#d1d1ff"/><stop offset="0.7522" stop-color="#e1e1ff"/><stop offset="0.7824" stop-color="#fffefe"/><stop offset="0.8208" stop-color="#ffebeb"/><stop offset="0.9996" stop-color="#ffe8e8"/></linearGradient><linearGradient id="g100"><stop offset="0.0004" stop-color="#acacff"/><stop offset="0.0878" stop-color="#a9a9ff"/><stop offset="0.2249" stop-color="#7474ff"/><stop offset="0.2690" stop-color="#7070ff"/><stop offset="0.3106" stop-color="#7777ff"/><stop offset="0.3694" stop-color="#aaaaff"/><stop offset="0.4061" stop-color="#cdcdff"/><stop offset="0.4486" stop-color="#e1e1ff"/><stop offset="0.5824" stop-color="#dcdcff"/><stop offset="0.6486" stop-color="#cdcdff"/><stop offset="0.7122" stop-color="#d1d1ff"/><stop offset="0.7522" stop-color="#e1e1ff"/><stop offset="0.7824" stop-color="#fffefe"/><stop offset="0.8208" stop-color="#ffebeb"/><stop offset="0.9996" stop-color="#ffe8e8"/></linearGradient><linearGradient id="g101"><stop offset="0.0004" stop-color="#acacff"/><stop offset="0.0878" stop-color="#a9a9ff"/><stop offset="0.2249" stop-color="#7474ff"/><stop offset="0.2690" stop-color="#7070ff"/><stop offset="0.3106" stop-color="#7777ff"/><stop offset="0.3694" stop-color="#aaaaff"/><stop offset="0.4061" stop-color="#cdcdff"/><stop offset="0.4486" stop-color="#e1e1ff"/><stop offset="0.5824" stop-color="#dcdcff"/><stop offset="0.6486" stop-color="#cdcdff"/><stop offset="0.7122" stop-color="#d1d1ff"/><stop offset="0.7522" stop-color="#e1e1ff"/><stop offset="0.7824" stop-color="#fffefe"/><stop offset="0.8208" stop-color="#ffebeb"/><stop offset="0.9996" stop-color="#ffe8e8"/></linearGradient><linearGradient id="g102"><stop offset="0.0004" stop-color="#acacff"/><stop offset="0.0878" stop-color="#a9a9ff"/><stop offset="0.2249" stop-color="#7474ff"/><stop offset="0.2690" stop-color="#7070ff"/><stop offset="0.3106" stop-color="#7777ff"/><stop offset="0.3694" stop-color="#aaaaff"/><stop offset="0.4061" stop-color="#cdcdff"/><stop offset="0.4486" stop-color="#e1e1ff"/><stop offset="0.5824" stop-color="#dcdcff"/><stop offset="0.6486" stop-color="#cdcdff"/><stop offset="0.7122" stop-color="#d1d1ff"/><stop offset="0.7522" stop-color="#e1e1ff"/><stop offset="0.7824" stop-color="#fffefe"/><stop offset="0.8208" stop-color="#ffebeb"/><stop offset="0.9996" stop-color="#ffe8e8"/></linearGradient><linearGradient id="g103"><stop offset="0.0004" stop-color="#acacff"/><stop offset="0.0878" stop-color="#a9a9ff"/><stop offset="0.2249" stop-color="#7474ff"/><stop offset="0.2690" stop-color="#7070ff"/><stop offset="0.3106" stop-color="#7777ff"/><stop offset="0.3694" stop-color="#aaaaff"/><stop offset="0.4061" stop-color="#cdcdff"/><stop offset="0.4486" stop-color="#e1e1ff"/><stop offset="0.5824" stop-color="#dcdcff"/><stop offset="0.6486" stop-color="#cdcdff"/><stop offset="0.7122" stop-color="#d1d1ff"/><stop offset="0.7522" stop-color="#e1e1ff"/><stop offset="0.7824" stop-color="#fffefe"/><stop offset="0.8208" stop-color="#ffebeb"/><stop offset="0.9996" stop-color="#ffe8e8"/></linearGradient><clipPath id="hcg"><rect x="93.9" y="2037.9" width="1224.1" height="309.6"/></clipPath><linearGradient id="cbg" x1="0" y1="0" x2="0" y2="1"><stop offset="0" stop-color="#ff0000"/><stop offset="0.5" stop-color="#ffffff"/><stop offset="1" stop-color="#0000ff"/></linearGradient></defs><rect width="1617" height="2441" fill="#fff"/><text x="2.5" y="51.2" font-size="65" font-weight="bold">a</text><text x="575.0" y="51.7" font-size="65" font-weight="bold">b</text><clipPath id="pa"><rect x="79.0" y="38.8" width="443.2" height="425.8"/></clipPath><clipPath id="pa2"><rect x="77.0" y="36.8" width="447.2" height="429.8"/></clipPath><g clip-path="url(#pa)"><rect x="79.0" y="38.8" width="443.2" height="425.8" fill="#a6b5ce"/><linearGradient id="stripg" gradientUnits="userSpaceOnUse" x1="262.8" y1="0" x2="417.8" y2="0" gradientTransform="skewX(-7.125)"><stop offset="0" stop-color="#b4accd"/><stop offset="0.25" stop-color="#aab2cc"/><stop offset="0.7" stop-color="#a9b2cb"/><stop offset="1" stop-color="#b3a9cc"/></linearGradient><polygon points="260.6,30 411.4,30 361.7,470 202.6,470" fill="url(#stripg)"/><polygon points="70,272.1 213.3,388.3 202.6,470 70,470" fill="#cccaa5"/><linearGradient id="purg" gradientUnits="userSpaceOnUse" x1="262" y1="424" x2="232" y2="461"><stop offset="0" stop-color="#8a7cc0"/><stop offset="0.3" stop-color="#6a3cae"/><stop offset="1" stop-color="#6428a6"/></linearGradient><polygon points="213.3,388.3 314.0,470 202.6,470" fill="url(#purg)"/><polygon points="436.1,30 530,30 530,98.5" fill="#ccc8a4"/><radialGradient id="spk"><stop offset="0" stop-color="#c080b8" stop-opacity="0.75"/><stop offset="1" stop-color="#c080b8" stop-opacity="0"/></radialGradient><radialGradient id="spy"><stop offset="0" stop-color="#c8c890" stop-opacity="0.7"/><stop offset="1" stop-color="#c8c890" stop-opacity="0"/></radialGradient><ellipse cx="389.5" cy="93.5" rx="9" ry="11" fill="url(#spk)"/><ellipse cx="412" cy="108" rx="6" ry="7" fill="url(#spy)"/><line x1="260.6" y1="30" x2="202.6" y2="470" stroke="#000" stroke-width="4.6"/><line x1="411.4" y1="30" x2="361.7" y2="470" stroke="#000" stroke-width="4.6"/></g><g clip-path="url(#pa2)"><line x1="77.5" y1="278.2" x2="388.1" y2="530.2" stroke="#000" stroke-width="6.4" stroke-dasharray="13 12.6"/><line x1="458.2" y1="46.2" x2="619.8" y2="164.0" stroke="#000" stroke-width="6.4" stroke-dasharray="13 12.8"/></g><g transform="translate(303.7,244.2) rotate(7.6)"><path d="M-177.2 -55.8h10v10h-10zM-158.0 -55.8h10v10h-10zM-138.9 -55.8h10v10h-10zM-119.7 -55.8h10v10h-10zM-100.6 -55.8h10v10h-10zM-81.4 -55.8h10v10h-10zM-62.2 -55.8h10v10h-10zM-43.1 -55.8h10v10h-10zM-23.9 -55.8h10v10h-10zM-4.8 -55.8h10v10h-10zM14.4 -55.8h10v10h-10zM33.6 -55.8h10v10h-10zM52.7 -55.8h10v10h-10zM71.9 -55.8h10v10h-10zM91.0 -55.8h10v10h-10zM110.2 -55.8h10v10h-10zM129.4 -55.8h10v10h-10zM148.5 -55.8h10v10h-10zM167.7 -55.8h10v10h-10zM180.5 -46.2h10v10h-10zM180.5 -27.0h10v10h-10zM180.5 -7.8h10v10h-10zM180.5 11.3h10v10h-10zM180.5 30.5h10v10h-10zM-189.7 45.8h10v10h-10zM-170.5 45.8h10v10h-10zM-151.3 45.8h10v10h-10zM-132.2 45.8h10v10h-10zM-113.0 45.8h10v10h-10zM-93.9 45.8h10v10h-10zM-74.7 45.8h10v10h-10zM-55.5 45.8h10v10h-10zM-36.4 45.8h10v10h-10zM-17.2 45.8h10v10h-10zM1.9 45.8h10v10h-10zM21.1 45.8h10v10h-10zM40.3 45.8h10v10h-10zM59.4 45.8h10v10h-10zM78.6 45.8h10v10h-10zM97.7 45.8h10v10h-10zM116.9 45.8h10v10h-10zM136.1 45.8h10v10h-10zM155.2 45.8h10v10h-10zM174.4 45.8h10v10h-10zM-190.5 -50.6h10v10h-10zM-190.5 -31.4h10v10h-10zM-190.5 -12.2h10v10h-10zM-190.5 6.9h10v10h-10zM-190.5 26.1h10v10h-10z" fill="#fff"/></g><g transform="translate(310.15,251.45) rotate(7.4)"><polygon points="-51.7,0.0 -10.7,-20.3 -17.0,-5.0 17.0,-5.0 10.7,-20.3 51.7,0.0 10.7,20.3 17.0,5.0 -17.0,5.0 -10.7,20.3" fill="#c8102e" stroke="#e06070" stroke-width="0.8"/></g><text x="259.5" y="165.7" font-size="32">Armchair</text><text x="399.2" y="413.0" font-size="44">3 µm</text><rect x="404.8" y="429.8" width="88.8" height="19.1" fill="#000"/><rect x="710.5" y="38.2" width="880.0" height="416.3" fill="none" stroke="#000" stroke-width="3"/><line x1="710.5" y1="76.1" x2="724.5" y2="76.1" stroke="#000" stroke-width="2.6"/><line x1="1576.5" y1="76.1" x2="1590.5" y2="76.1" stroke="#000" stroke-width="2.6"/><line x1="710.5" y1="170.7" x2="724.5" y2="170.7" stroke="#000" stroke-width="2.6"/><line x1="1576.5" y1="170.7" x2="1590.5" y2="170.7" stroke="#000" stroke-width="2.6"/><line x1="710.5" y1="265.3" x2="724.5" y2="265.3" stroke="#000" stroke-width="2.6"/><line x1="1576.5" y1="265.3" x2="1590.5" y2="265.3" stroke="#000" stroke-width="2.6"/><line x1="710.5" y1="359.9" x2="724.5" y2="359.9" stroke="#000" stroke-width="2.6"/><line x1="1576.5" y1="359.9" x2="1590.5" y2="359.9" stroke="#000" stroke-width="2.6"/><text x="701.6" y="88.4" font-size="36.5" text-anchor="end">-20</text><text x="701.6" y="183.0" font-size="36.5" text-anchor="end">-15</text><text x="701.6" y="277.6" font-size="36.5" text-anchor="end">-10</text><text x="701.6" y="372.2" font-size="36.5" text-anchor="end">-5</text><text x="701.6" y="466.8" font-size="36.5" text-anchor="end">0</text><line x1="864.5" y1="454.5" x2="864.5" y2="440.5" stroke="#000" stroke-width="2.6"/><line x1="864.5" y1="38.2" x2="864.5" y2="52.2" stroke="#000" stroke-width="2.6"/><line x1="1046.2" y1="454.5" x2="1046.2" y2="440.5" stroke="#000" stroke-width="2.6"/><line x1="1046.2" y1="38.2" x2="1046.2" y2="52.2" stroke="#000" stroke-width="2.6"/><line x1="1227.9" y1="454.5" x2="1227.9" y2="440.5" stroke="#000" stroke-width="2.6"/><line x1="1227.9" y1="38.2" x2="1227.9" y2="52.2" stroke="#000" stroke-width="2.6"/><line x1="1409.6" y1="454.5" x2="1409.6" y2="440.5" stroke="#000" stroke-width="2.6"/><line x1="1409.6" y1="38.2" x2="1409.6" y2="52.2" stroke="#000" stroke-width="2.6"/><text x="864.5" y="497.0" font-size="36.5" text-anchor="middle">1.8</text><text x="1046.2" y="497.0" font-size="36.5" text-anchor="middle">2.0</text><text x="1227.9" y="497.0" font-size="36.5" text-anchor="middle">2.2</text><text x="1409.6" y="497.0" font-size="36.5" text-anchor="middle">2.4</text><text x="1591.3" y="497.0" font-size="36.5" text-anchor="middle">2.6</text><text x="1151.5" y="555.2" font-size="48.2" text-anchor="middle">Photon Energy (eV)</text><text transform="translate(607.7,259.2) rotate(-90)" font-size="47" text-anchor="middle"><tspan font-style="italic">I</tspan><tspan font-size="28.5" dy="16">sc</tspan><tspan dy="-16"> (nA)</tspan></text><circle cx="837.1" cy="396.9" r="11.4" fill="#ff0000" stroke="#c00000" stroke-width="1.3"/><circle cx="891.8" cy="239.5" r="11.4" fill="#ff0000" stroke="#c00000" stroke-width="1.3"/><circle cx="1009.8" cy="228.7" r="11.4" fill="#ff0000" stroke="#c00000" stroke-width="1.3"/><circle cx="1273.2" cy="282.8" r="11.4" fill="#ff0000" stroke="#c00000" stroke-width="1.3"/><circle cx="1473.0" cy="212.3" r="11.4" fill="#ff0000" stroke="#c00000" stroke-width="1.3"/><g clip-path="url(#hcc)" shape-rendering="crispEdges"><rect x="92" y="604" width="1225" height="3" fill="url(#c0)"/><rect x="92" y="607" width="1225" height="3" fill="url(#c1)"/><rect x="92" y="610" width="1225" height="3" fill="url(#c2)"/><rect x="92" y="613" width="1225" height="3" fill="url(#c3)"/><rect x="92" y="616" width="1225" height="3" fill="url(#c4)"/><rect x="92" y="619" width="1225" height="3" fill="url(#c5)"/><rect x="92" y="622" width="1225" height="3" fill="url(#c6)"/><rect x="92" y="625" width="1225" height="3" fill="url(#c7)"/><rect x="92" y="628" width="1225" height="3" fill="url(#c8)"/><rect x="92" y="631" width="1225" height="3" fill="url(#c9)"/><rect x="92" y="634" width="1225" height="3" fill="url(#c10)"/><rect x="92" y="637" width="1225" height="3" fill="url(#c11)"/><rect x="92" y="640" width="1225" height="3" fill="url(#c12)"/><rect x="92" y="643" width="1225" height="3" fill="url(#c13)"/><rect x="92" y="646" width="1225" height="3" fill="url(#c14)"/><rect x="92" y="649" width="1225" height="3" fill="url(#c15)"/><rect x="92" y="652" width="1225" height="3" fill="url(#c16)"/><rect x="92" y="655" width="1225" height="3" fill="url(#c17)"/><rect x="92" y="658" width="1225" height="3" fill="url(#c18)"/><rect x="92" y="661" width="1225" height="3" fill="url(#c19)"/><rect x="92" y="664" width="1225" height="3" fill="url(#c20)"/><rect x="92" y="667" width="1225" height="3" fill="url(#c21)"/><rect x="92" y="670" width="1225" height="3" fill="url(#c22)"/><rect x="92" y="673" width="1225" height="3" fill="url(#c23)"/><rect x="92" y="676" width="1225" height="3" fill="url(#c24)"/><rect x="92" y="679" width="1225" height="3" fill="url(#c25)"/><rect x="92" y="682" width="1225" height="3" fill="url(#c26)"/><rect x="92" y="685" width="1225" height="3" fill="url(#c27)"/><rect x="92" y="688" width="1225" height="3" fill="url(#c28)"/><rect x="92" y="691" width="1225" height="3" fill="url(#c29)"/><rect x="92" y="694" width="1225" height="3" fill="url(#c30)"/><rect x="92" y="697" width="1225" height="3" fill="url(#c31)"/><rect x="92" y="700" width="1225" height="3" fill="url(#c32)"/><rect x="92" y="703" width="1225" height="3" fill="url(#c33)"/><rect x="92" y="706" width="1225" height="3" fill="url(#c34)"/><rect x="92" y="709" width="1225" height="3" fill="url(#c35)"/><rect x="92" y="712" width="1225" height="3" fill="url(#c36)"/><rect x="92" y="715" width="1225" height="3" fill="url(#c37)"/><rect x="92" y="718" width="1225" height="3" fill="url(#c38)"/><rect x="92" y="721" width="1225" height="3" fill="url(#c39)"/><rect x="92" y="724" width="1225" height="3" fill="url(#c40)"/><rect x="92" y="727" width="1225" height="3" fill="url(#c41)"/><rect x="92" y="730" width="1225" height="3" fill="url(#c42)"/><rect x="92" y="733" width="1225" height="3" fill="url(#c43)"/><rect x="92" y="736" width="1225" height="3" fill="url(#c44)"/><rect x="92" y="739" width="1225" height="3" fill="url(#c45)"/><rect x="92" y="742" width="1225" height="3" fill="url(#c46)"/><rect x="92" y="745" width="1225" height="3" fill="url(#c47)"/><rect x="92" y="748" width="1225" height="3" fill="url(#c48)"/><rect x="92" y="751" width="1225" height="3" fill="url(#c49)"/><rect x="92" y="754" width="1225" height="3" fill="url(#c50)"/><rect x="92" y="757" width="1225" height="3" fill="url(#c51)"/><rect x="92" y="760" width="1225" height="3" fill="url(#c52)"/><rect x="92" y="763" width="1225" height="3" fill="url(#c53)"/><rect x="92" y="766" width="1225" height="3" fill="url(#c54)"/><rect x="92" y="769" width="1225" height="3" fill="url(#c55)"/><rect x="92" y="772" width="1225" height="3" fill="url(#c56)"/><rect x="92" y="775" width="1225" height="3" fill="url(#c57)"/><rect x="92" y="778" width="1225" height="3" fill="url(#c58)"/><rect x="92" y="781" width="1225" height="3" fill="url(#c59)"/><rect x="92" y="784" width="1225" height="3" fill="url(#c60)"/><rect x="92" y="787" width="1225" height="3" fill="url(#c61)"/><rect x="92" y="790" width="1225" height="3" fill="url(#c62)"/><rect x="92" y="793" width="1225" height="3" fill="url(#c63)"/><rect x="92" y="796" width="1225" height="3" fill="url(#c64)"/><rect x="92" y="799" width="1225" height="3" fill="url(#c65)"/><rect x="92" y="802" width="1225" height="3" fill="url(#c66)"/><rect x="92" y="805" width="1225" height="3" fill="url(#c67)"/><rect x="92" y="808" width="1225" height="3" fill="url(#c68)"/><rect x="92" y="811" width="1225" height="3" fill="url(#c69)"/><rect x="92" y="814" width="1225" height="3" fill="url(#c70)"/><rect x="92" y="817" width="1225" height="3" fill="url(#c71)"/><rect x="92" y="820" width="1225" height="3" fill="url(#c72)"/><rect x="92" y="823" width="1225" height="3" fill="url(#c73)"/><rect x="92" y="826" width="1225" height="3" fill="url(#c74)"/><rect x="92" y="829" width="1225" height="3" fill="url(#c75)"/><rect x="92" y="832" width="1225" height="3" fill="url(#c76)"/><rect x="92" y="835" width="1225" height="3" fill="url(#c77)"/><rect x="92" y="838" width="1225" height="3" fill="url(#c78)"/><rect x="92" y="841" width="1225" height="3" fill="url(#c79)"/><rect x="92" y="844" width="1225" height="3" fill="url(#c80)"/><rect x="92" y="847" width="1225" height="3" fill="url(#c81)"/><rect x="92" y="850" width="1225" height="3" fill="url(#c82)"/><rect x="92" y="853" width="1225" height="3" fill="url(#c83)"/><rect x="92" y="856" width="1225" height="3" fill="url(#c84)"/><rect x="92" y="859" width="1225" height="3" fill="url(#c85)"/><rect x="92" y="862" width="1225" height="3" fill="url(#c86)"/><rect x="92" y="865" width="1225" height="3" fill="url(#c87)"/><rect x="92" y="868" width="1225" height="3" fill="url(#c88)"/><rect x="92" y="871" width="1225" height="3" fill="url(#c89)"/><rect x="92" y="874" width="1225" height="3" fill="url(#c90)"/><rect x="92" y="877" width="1225" height="3" fill="url(#c91)"/><rect x="92" y="880" width="1225" height="3" fill="url(#c92)"/><rect x="92" y="883" width="1225" height="3" fill="url(#c93)"/><rect x="92" y="886" width="1225" height="3" fill="url(#c94)"/><rect x="92" y="889" width="1225" height="3" fill="url(#c95)"/><rect x="92" y="892" width="1225" height="3" fill="url(#c96)"/><rect x="92" y="895" width="1225" height="3" fill="url(#c97)"/><rect x="92" y="898" width="1225" height="3" fill="url(#c98)"/><rect x="92" y="901" width="1225" height="3" fill="url(#c99)"/><rect x="92" y="904" width="1225" height="3" fill="url(#c100)"/><rect x="92" y="907" width="1225" height="3" fill="url(#c101)"/><rect x="92" y="910" width="1225" height="3" fill="url(#c102)"/><rect x="92" y="913" width="1225" height="1" fill="url(#c103)"/></g><line x1="451.1" y1="621.6" x2="451.1" y2="911.5" stroke="#f48d33" stroke-width="9.5" stroke-dasharray="19.5 19"/><line x1="999.9" y1="621.6" x2="999.9" y2="911.5" stroke="#f48d33" stroke-width="9.5" stroke-dasharray="19.5 19"/><rect x="586.4" y="719.8" width="295.8" height="100.2" fill="none" stroke="#000" stroke-width="8" stroke-dasharray="8 8.08"/><rect x="93.0" y="605.2" width="1222.8" height="307.3" fill="none" stroke="#000" stroke-width="2"/><path d="M92.0 864.0h5M1316.8 864.0h-5M92.0 815.0h10M1316.8 815.0h-10M92.0 766.0h5M1316.8 766.0h-5M92.0 717.0h10M1316.8 717.0h-10M92.0 668.0h5M1316.8 668.0h-5M92.0 619.0h10M1316.8 619.0h-10M289.3 913.5v-5M289.3 604.2v5M486.1 913.5v-10M486.1 604.2v10M682.9 913.5v-5M682.9 604.2v5M879.7 913.5v-10M879.7 604.2v10M1076.5 913.5v-5M1076.5 604.2v5M1273.3 913.5v-10M1273.3 604.2v10" stroke="#000" stroke-width="2"/><text x="82.6" y="921.6" font-size="29" text-anchor="end">0</text><text x="82.6" y="823.6" font-size="29" text-anchor="end">1</text><text x="82.6" y="725.6" font-size="29" text-anchor="end">2</text><text x="82.6" y="627.6" font-size="29" text-anchor="end">3</text><text x="92.5" y="945.9" font-size="29" text-anchor="middle">0</text><text x="486.1" y="945.9" font-size="29" text-anchor="middle">4</text><text x="879.7" y="945.9" font-size="29" text-anchor="middle">8</text><text x="1273.3" y="945.9" font-size="29" text-anchor="middle">12</text><text x="108.3" y="673.7" font-size="58" fill="#fff">500 nm</text><text x="103.8" y="900.0" font-size="58" fill="#fff">2.47 eV</text><text transform="translate(50,758.9) rotate(-90)" font-size="33.5" text-anchor="middle"><tspan font-style="italic">Y</tspan> (µm)</text><text x="2.0" y="630.3" font-size="65" font-weight="bold">c</text><rect x="1513.7" y="605.7" width="41.8" height="306.3" fill="url(#cbc)" stroke="#000" stroke-width="3"/><text x="1567.0" y="619.4" font-size="29">40</text><text x="1567.0" y="694.4" font-size="29">20</text><text x="1567.0" y="769.4" font-size="29">0</text><text x="1567.0" y="844.5" font-size="29">−20</text><text x="1567.0" y="919.5" font-size="29">−40</text><path d="M1555.0 609.0h-9M1555.0 684.0h-9M1555.0 759.0h-9M1555.0 834.1h-9M1555.0 909.1h-9" stroke="#000" stroke-width="2.4"/><text x="1345" y="667.5" font-size="48"><tspan font-style="italic">I</tspan><tspan font-size="32" dy="3.5">sc</tspan><tspan dy="-3.5"> (nA)</tspan></text><g clip-path="url(#hcd)" shape-rendering="crispEdges"><rect x="92" y="960" width="1225" height="3" fill="url(#d0)"/><rect x="92" y="963" width="1225" height="3" fill="url(#d1)"/><rect x="92" y="966" width="1225" height="3" fill="url(#d2)"/><rect x="92" y="969" width="1225" height="3" fill="url(#d3)"/><rect x="92" y="972" width="1225" height="3" fill="url(#d4)"/><rect x="92" y="975" width="1225" height="3" fill="url(#d5)"/><rect x="92" y="978" width="1225" height="3" fill="url(#d6)"/><rect x="92" y="981" width="1225" height="3" fill="url(#d7)"/><rect x="92" y="984" width="1225" height="3" fill="url(#d8)"/><rect x="92" y="987" width="1225" height="3" fill="url(#d9)"/><rect x="92" y="990" width="1225" height="3" fill="url(#d10)"/><rect x="92" y="993" width="1225" height="3" fill="url(#d11)"/><rect x="92" y="996" width="1225" height="3" fill="url(#d12)"/><rect x="92" y="999" width="1225" height="3" fill="url(#d13)"/><rect x="92" y="1002" width="1225" height="3" fill="url(#d14)"/><rect x="92" y="1005" width="1225" height="3" fill="url(#d15)"/><rect x="92" y="1008" width="1225" height="3" fill="url(#d16)"/><rect x="92" y="1011" width="1225" height="3" fill="url(#d17)"/><rect x="92" y="1014" width="1225" height="3" fill="url(#d18)"/><rect x="92" y="1017" width="1225" height="3" fill="url(#d19)"/><rect x="92" y="1020" width="1225" height="3" fill="url(#d20)"/><rect x="92" y="1023" width="1225" height="3" fill="url(#d21)"/><rect x="92" y="1026" width="1225" height="3" fill="url(#d22)"/><rect x="92" y="1029" width="1225" height="3" fill="url(#d23)"/><rect x="92" y="1032" width="1225" height="3" fill="url(#d24)"/><rect x="92" y="1035" width="1225" height="3" fill="url(#d25)"/><rect x="92" y="1038" width="1225" height="3" fill="url(#d26)"/><rect x="92" y="1041" width="1225" height="3" fill="url(#d27)"/><rect x="92" y="1044" width="1225" height="3" fill="url(#d28)"/><rect x="92" y="1047" width="1225" height="3" fill="url(#d29)"/><rect x="92" y="1050" width="1225" height="3" fill="url(#d30)"/><rect x="92" y="1053" width="1225" height="3" fill="url(#d31)"/><rect x="92" y="1056" width="1225" height="3" fill="url(#d32)"/><rect x="92" y="1059" width="1225" height="3" fill="url(#d33)"/><rect x="92" y="1062" width="1225" height="3" fill="url(#d34)"/><rect x="92" y="1065" width="1225" height="3" fill="url(#d35)"/><rect x="92" y="1068" width="1225" height="3" fill="url(#d36)"/><rect x="92" y="1071" width="1225" height="3" fill="url(#d37)"/><rect x="92" y="1074" width="1225" height="3" fill="url(#d38)"/><rect x="92" y="1077" width="1225" height="3" fill="url(#d39)"/><rect x="92" y="1080" width="1225" height="3" fill="url(#d40)"/><rect x="92" y="1083" width="1225" height="3" fill="url(#d41)"/><rect x="92" y="1086" width="1225" height="3" fill="url(#d42)"/><rect x="92" y="1089" width="1225" height="3" fill="url(#d43)"/><rect x="92" y="1092" width="1225" height="3" fill="url(#d44)"/><rect x="92" y="1095" width="1225" height="3" fill="url(#d45)"/><rect x="92" y="1098" width="1225" height="3" fill="url(#d46)"/><rect x="92" y="1101" width="1225" height="3" fill="url(#d47)"/><rect x="92" y="1104" width="1225" height="3" fill="url(#d48)"/><rect x="92" y="1107" width="1225" height="3" fill="url(#d49)"/><rect x="92" y="1110" width="1225" height="3" fill="url(#d50)"/><rect x="92" y="1113" width="1225" height="3" fill="url(#d51)"/><rect x="92" y="1116" width="1225" height="3" fill="url(#d52)"/><rect x="92" y="1119" width="1225" height="3" fill="url(#d53)"/><rect x="92" y="1122" width="1225" height="3" fill="url(#d54)"/><rect x="92" y="1125" width="1225" height="3" fill="url(#d55)"/><rect x="92" y="1128" width="1225" height="3" fill="url(#d56)"/><rect x="92" y="1131" width="1225" height="3" fill="url(#d57)"/><rect x="92" y="1134" width="1225" height="3" fill="url(#d58)"/><rect x="92" y="1137" width="1225" height="3" fill="url(#d59)"/><rect x="92" y="1140" width="1225" height="3" fill="url(#d60)"/><rect x="92" y="1143" width="1225" height="3" fill="url(#d61)"/><rect x="92" y="1146" width="1225" height="3" fill="url(#d62)"/><rect x="92" y="1149" width="1225" height="3" fill="url(#d63)"/><rect x="92" y="1152" width="1225" height="3" fill="url(#d64)"/><rect x="92" y="1155" width="1225" height="3" fill="url(#d65)"/><rect x="92" y="1158" width="1225" height="3" fill="url(#d66)"/><rect x="92" y="1161" width="1225" height="3" fill="url(#d67)"/><rect x="92" y="1164" width="1225" height="3" fill="url(#d68)"/><rect x="92" y="1167" width="1225" height="3" fill="url(#d69)"/><rect x="92" y="1170" width="1225" height="3" fill="url(#d70)"/><rect x="92" y="1173" width="1225" height="3" fill="url(#d71)"/><rect x="92" y="1176" width="1225" height="3" fill="url(#d72)"/><rect x="92" y="1179" width="1225" height="3" fill="url(#d73)"/><rect x="92" y="1182" width="1225" height="3" fill="url(#d74)"/><rect x="92" y="1185" width="1225" height="3" fill="url(#d75)"/><rect x="92" y="1188" width="1225" height="3" fill="url(#d76)"/><rect x="92" y="1191" width="1225" height="3" fill="url(#d77)"/><rect x="92" y="1194" width="1225" height="3" fill="url(#d78)"/><rect x="92" y="1197" width="1225" height="3" fill="url(#d79)"/><rect x="92" y="1200" width="1225" height="3" fill="url(#d80)"/><rect x="92" y="1203" width="1225" height="3" fill="url(#d81)"/><rect x="92" y="1206" width="1225" height="3" fill="url(#d82)"/><rect x="92" y="1209" width="1225" height="3" fill="url(#d83)"/><rect x="92" y="1212" width="1225" height="3" fill="url(#d84)"/><rect x="92" y="1215" width="1225" height="3" fill="url(#d85)"/><rect x="92" y="1218" width="1225" height="3" fill="url(#d86)"/><rect x="92" y="1221" width="1225" height="3" fill="url(#d87)"/><rect x="92" y="1224" width="1225" height="3" fill="url(#d88)"/><rect x="92" y="1227" width="1225" height="3" fill="url(#d89)"/><rect x="92" y="1230" width="1225" height="3" fill="url(#d90)"/><rect x="92" y="1233" width="1225" height="3" fill="url(#d91)"/><rect x="92" y="1236" width="1225" height="3" fill="url(#d92)"/><rect x="92" y="1239" width="1225" height="3" fill="url(#d93)"/><rect x="92" y="1242" width="1225" height="3" fill="url(#d94)"/><rect x="92" y="1245" width="1225" height="3" fill="url(#d95)"/><rect x="92" y="1248" width="1225" height="3" fill="url(#d96)"/><rect x="92" y="1251" width="1225" height="3" fill="url(#d97)"/><rect x="92" y="1254" width="1225" height="3" fill="url(#d98)"/><rect x="92" y="1257" width="1225" height="3" fill="url(#d99)"/><rect x="92" y="1260" width="1225" height="3" fill="url(#d100)"/><rect x="92" y="1263" width="1225" height="3" fill="url(#d101)"/><rect x="92" y="1266" width="1225" height="3" fill="url(#d102)"/><rect x="92" y="1269" width="1225" height="2" fill="url(#d103)"/></g><line x1="451.1" y1="977.3" x2="451.1" y2="1268.7" stroke="#f48d33" stroke-width="9.5" stroke-dasharray="19.5 19"/><line x1="999.9" y1="977.3" x2="999.9" y2="1268.7" stroke="#f48d33" stroke-width="9.5" stroke-dasharray="19.5 19"/><rect x="93.0" y="961.9" width="1222.8" height="307.8" fill="none" stroke="#000" stroke-width="2"/><path d="M92.0 1221.2h5M1316.8 1221.2h-5M92.0 1172.2h10M1316.8 1172.2h-10M92.0 1123.2h5M1316.8 1123.2h-5M92.0 1074.2h10M1316.8 1074.2h-10M92.0 1025.2h5M1316.8 1025.2h-5M92.0 976.2h10M1316.8 976.2h-10M289.3 1270.7v-5M289.3 960.9v5M486.1 1270.7v-10M486.1 960.9v10M682.9 1270.7v-5M682.9 960.9v5M879.7 1270.7v-10M879.7 960.9v10M1076.5 1270.7v-5M1076.5 960.9v5M1273.3 1270.7v-10M1273.3 960.9v10" stroke="#000" stroke-width="2"/><text x="82.6" y="1278.8" font-size="29" text-anchor="end">0</text><text x="82.6" y="1180.8" font-size="29" text-anchor="end">1</text><text x="82.6" y="1082.8" font-size="29" text-anchor="end">2</text><text x="82.6" y="984.8" font-size="29" text-anchor="end">3</text><text x="92.5" y="1303.1" font-size="29" text-anchor="middle">0</text><text x="486.1" y="1303.1" font-size="29" text-anchor="middle">4</text><text x="879.7" y="1303.1" font-size="29" text-anchor="middle">8</text><text x="1273.3" y="1303.1" font-size="29" text-anchor="middle">12</text><text x="108.3" y="1028.8" font-size="58" fill="#fff">550 nm</text><text x="103.8" y="1254.6" font-size="58" fill="#fff">2.25 eV</text><text transform="translate(50,1115.8) rotate(-90)" font-size="33.5" text-anchor="middle"><tspan font-style="italic">Y</tspan> (µm)</text><text x="0.5" y="989.8" font-size="65" font-weight="bold">d</text><rect x="1513.7" y="962.4" width="41.8" height="306.8" fill="url(#cbd)" stroke="#000" stroke-width="3"/><text x="1567.0" y="976.1" font-size="29">40</text><text x="1567.0" y="1051.2" font-size="29">20</text><text x="1567.0" y="1126.4" font-size="29">0</text><text x="1567.0" y="1201.5" font-size="29">−20</text><text x="1567.0" y="1276.7" font-size="29">−40</text><path d="M1555.0 965.7h-9M1555.0 1040.8h-9M1555.0 1116.0h-9M1555.0 1191.1h-9M1555.0 1266.3h-9" stroke="#000" stroke-width="2.4"/><text x="1345" y="1021.3" font-size="48"><tspan font-style="italic">I</tspan><tspan font-size="32" dy="3.5">sc</tspan><tspan dy="-3.5"> (nA)</tspan></text><g clip-path="url(#hce)" shape-rendering="crispEdges"><rect x="92" y="1323" width="1225" height="3" fill="url(#e0)"/><rect x="92" y="1326" width="1225" height="3" fill="url(#e1)"/><rect x="92" y="1329" width="1225" height="3" fill="url(#e2)"/><rect x="92" y="1332" width="1225" height="3" fill="url(#e3)"/><rect x="92" y="1335" width="1225" height="3" fill="url(#e4)"/><rect x="92" y="1338" width="1225" height="3" fill="url(#e5)"/><rect x="92" y="1341" width="1225" height="3" fill="url(#e6)"/><rect x="92" y="1344" width="1225" height="3" fill="url(#e7)"/><rect x="92" y="1347" width="1225" height="3" fill="url(#e8)"/><rect x="92" y="1350" width="1225" height="3" fill="url(#e9)"/><rect x="92" y="1353" width="1225" height="3" fill="url(#e10)"/><rect x="92" y="1356" width="1225" height="3" fill="url(#e11)"/><rect x="92" y="1359" width="1225" height="3" fill="url(#e12)"/><rect x="92" y="1362" width="1225" height="3" fill="url(#e13)"/><rect x="92" y="1365" width="1225" height="3" fill="url(#e14)"/><rect x="92" y="1368" width="1225" height="3" fill="url(#e15)"/><rect x="92" y="1371" width="1225" height="3" fill="url(#e16)"/><rect x="92" y="1374" width="1225" height="3" fill="url(#e17)"/><rect x="92" y="1377" width="1225" height="3" fill="url(#e18)"/><rect x="92" y="1380" width="1225" height="3" fill="url(#e19)"/><rect x="92" y="1383" width="1225" height="3" fill="url(#e20)"/><rect x="92" y="1386" width="1225" height="3" fill="url(#e21)"/><rect x="92" y="1389" width="1225" height="3" fill="url(#e22)"/><rect x="92" y="1392" width="1225" height="3" fill="url(#e23)"/><rect x="92" y="1395" width="1225" height="3" fill="url(#e24)"/><rect x="92" y="1398" width="1225" height="3" fill="url(#e25)"/><rect x="92" y="1401" width="1225" height="3" fill="url(#e26)"/><rect x="92" y="1404" width="1225" height="3" fill="url(#e27)"/><rect x="92" y="1407" width="1225" height="3" fill="url(#e28)"/><rect x="92" y="1410" width="1225" height="3" fill="url(#e29)"/><rect x="92" y="1413" width="1225" height="3" fill="url(#e30)"/><rect x="92" y="1416" width="1225" height="3" fill="url(#e31)"/><rect x="92" y="1419" width="1225" height="3" fill="url(#e32)"/><rect x="92" y="1422" width="1225" height="3" fill="url(#e33)"/><rect x="92" y="1425" width="1225" height="3" fill="url(#e34)"/><rect x="92" y="1428" width="1225" height="3" fill="url(#e35)"/><rect x="92" y="1431" width="1225" height="3" fill="url(#e36)"/><rect x="92" y="1434" width="1225" height="3" fill="url(#e37)"/><rect x="92" y="1437" width="1225" height="3" fill="url(#e38)"/><rect x="92" y="1440" width="1225" height="3" fill="url(#e39)"/><rect x="92" y="1443" width="1225" height="3" fill="url(#e40)"/><rect x="92" y="1446" width="1225" height="3" fill="url(#e41)"/><rect x="92" y="1449" width="1225" height="3" fill="url(#e42)"/><rect x="92" y="1452" width="1225" height="3" fill="url(#e43)"/><rect x="92" y="1455" width="1225" height="3" fill="url(#e44)"/><rect x="92" y="1458" width="1225" height="3" fill="url(#e45)"/><rect x="92" y="1461" width="1225" height="3" fill="url(#e46)"/><rect x="92" y="1464" width="1225" height="3" fill="url(#e47)"/><rect x="92" y="1467" width="1225" height="3" fill="url(#e48)"/><rect x="92" y="1470" width="1225" height="3" fill="url(#e49)"/><rect x="92" y="1473" width="1225" height="3" fill="url(#e50)"/><rect x="92" y="1476" width="1225" height="3" fill="url(#e51)"/><rect x="92" y="1479" width="1225" height="3" fill="url(#e52)"/><rect x="92" y="1482" width="1225" height="3" fill="url(#e53)"/><rect x="92" y="1485" width="1225" height="3" fill="url(#e54)"/><rect x="92" y="1488" width="1225" height="3" fill="url(#e55)"/><rect x="92" y="1491" width="1225" height="3" fill="url(#e56)"/><rect x="92" y="1494" width="1225" height="3" fill="url(#e57)"/><rect x="92" y="1497" width="1225" height="3" fill="url(#e58)"/><rect x="92" y="1500" width="1225" height="3" fill="url(#e59)"/><rect x="92" y="1503" width="1225" height="3" fill="url(#e60)"/><rect x="92" y="1506" width="1225" height="3" fill="url(#e61)"/><rect x="92" y="1509" width="1225" height="3" fill="url(#e62)"/><rect x="92" y="1512" width="1225" height="3" fill="url(#e63)"/><rect x="92" y="1515" width="1225" height="3" fill="url(#e64)"/><rect x="92" y="1518" width="1225" height="3" fill="url(#e65)"/><rect x="92" y="1521" width="1225" height="3" fill="url(#e66)"/><rect x="92" y="1524" width="1225" height="3" fill="url(#e67)"/><rect x="92" y="1527" width="1225" height="3" fill="url(#e68)"/><rect x="92" y="1530" width="1225" height="3" fill="url(#e69)"/><rect x="92" y="1533" width="1225" height="3" fill="url(#e70)"/><rect x="92" y="1536" width="1225" height="3" fill="url(#e71)"/><rect x="92" y="1539" width="1225" height="3" fill="url(#e72)"/><rect x="92" y="1542" width="1225" height="3" fill="url(#e73)"/><rect x="92" y="1545" width="1225" height="3" fill="url(#e74)"/><rect x="92" y="1548" width="1225" height="3" fill="url(#e75)"/><rect x="92" y="1551" width="1225" height="3" fill="url(#e76)"/><rect x="92" y="1554" width="1225" height="3" fill="url(#e77)"/><rect x="92" y="1557" width="1225" height="3" fill="url(#e78)"/><rect x="92" y="1560" width="1225" height="3" fill="url(#e79)"/><rect x="92" y="1563" width="1225" height="3" fill="url(#e80)"/><rect x="92" y="1566" width="1225" height="3" fill="url(#e81)"/><rect x="92" y="1569" width="1225" height="3" fill="url(#e82)"/><rect x="92" y="1572" width="1225" height="3" fill="url(#e83)"/><rect x="92" y="1575" width="1225" height="3" fill="url(#e84)"/><rect x="92" y="1578" width="1225" height="3" fill="url(#e85)"/><rect x="92" y="1581" width="1225" height="3" fill="url(#e86)"/><rect x="92" y="1584" width="1225" height="3" fill="url(#e87)"/><rect x="92" y="1587" width="1225" height="3" fill="url(#e88)"/><rect x="92" y="1590" width="1225" height="3" fill="url(#e89)"/><rect x="92" y="1593" width="1225" height="3" fill="url(#e90)"/><rect x="92" y="1596" width="1225" height="3" fill="url(#e91)"/><rect x="92" y="1599" width="1225" height="3" fill="url(#e92)"/><rect x="92" y="1602" width="1225" height="3" fill="url(#e93)"/><rect x="92" y="1605" width="1225" height="3" fill="url(#e94)"/><rect x="92" y="1608" width="1225" height="3" fill="url(#e95)"/><rect x="92" y="1611" width="1225" height="3" fill="url(#e96)"/><rect x="92" y="1614" width="1225" height="3" fill="url(#e97)"/><rect x="92" y="1617" width="1225" height="3" fill="url(#e98)"/><rect x="92" y="1620" width="1225" height="3" fill="url(#e99)"/><rect x="92" y="1623" width="1225" height="3" fill="url(#e100)"/><rect x="92" y="1626" width="1225" height="3" fill="url(#e101)"/><rect x="92" y="1629" width="1225" height="3" fill="url(#e102)"/><rect x="92" y="1632" width="1225" height="1" fill="url(#e103)"/></g><line x1="451.1" y1="1341.0" x2="451.1" y2="1630.7" stroke="#f48d33" stroke-width="9.5" stroke-dasharray="19.5 19"/><line x1="999.9" y1="1341.0" x2="999.9" y2="1630.7" stroke="#f48d33" stroke-width="9.5" stroke-dasharray="19.5 19"/><rect x="93.0" y="1324.0" width="1222.8" height="307.7" fill="none" stroke="#000" stroke-width="2"/><path d="M92.0 1583.2h5M1316.8 1583.2h-5M92.0 1534.2h10M1316.8 1534.2h-10M92.0 1485.2h5M1316.8 1485.2h-5M92.0 1436.2h10M1316.8 1436.2h-10M92.0 1387.2h5M1316.8 1387.2h-5M92.0 1338.2h10M1316.8 1338.2h-10M289.3 1632.7v-5M289.3 1323.0v5M486.1 1632.7v-10M486.1 1323.0v10M682.9 1632.7v-5M682.9 1323.0v5M879.7 1632.7v-10M879.7 1323.0v10M1076.5 1632.7v-5M1076.5 1323.0v5M1273.3 1632.7v-10M1273.3 1323.0v10" stroke="#000" stroke-width="2"/><text x="82.6" y="1640.8" font-size="29" text-anchor="end">0</text><text x="82.6" y="1542.8" font-size="29" text-anchor="end">1</text><text x="82.6" y="1444.8" font-size="29" text-anchor="end">2</text><text x="82.6" y="1346.8" font-size="29" text-anchor="end">3</text><text x="92.5" y="1665.1" font-size="29" text-anchor="middle">0</text><text x="486.1" y="1665.1" font-size="29" text-anchor="middle">4</text><text x="879.7" y="1665.1" font-size="29" text-anchor="middle">8</text><text x="1273.3" y="1665.1" font-size="29" text-anchor="middle">12</text><text x="108.3" y="1389.6" font-size="58" fill="#fff">630 nm</text><text x="103.8" y="1616.5" font-size="58" fill="#fff">1.96 eV</text><text transform="translate(50,1477.8) rotate(-90)" font-size="33.5" text-anchor="middle"><tspan font-style="italic">Y</tspan> (µm)</text><text x="2.0" y="1352.5" font-size="65" font-weight="bold">e</text><rect x="1513.7" y="1324.5" width="41.8" height="306.7" fill="url(#cbe)" stroke="#000" stroke-width="3"/><text x="1567.0" y="1338.2" font-size="29">40</text><text x="1567.0" y="1413.3" font-size="29">20</text><text x="1567.0" y="1488.5" font-size="29">0</text><text x="1567.0" y="1563.6" font-size="29">−20</text><text x="1567.0" y="1638.7" font-size="29">−40</text><path d="M1555.0 1327.8h-9M1555.0 1402.9h-9M1555.0 1478.0h-9M1555.0 1553.2h-9M1555.0 1628.3h-9" stroke="#000" stroke-width="2.4"/><text x="1345" y="1382.9" font-size="48"><tspan font-style="italic">I</tspan><tspan font-size="32" dy="3.5">sc</tspan><tspan dy="-3.5"> (nA)</tspan></text><g clip-path="url(#hcf)" shape-rendering="crispEdges"><rect x="92" y="1681" width="1225" height="3" fill="url(#f0)"/><rect x="92" y="1684" width="1225" height="3" fill="url(#f1)"/><rect x="92" y="1687" width="1225" height="3" fill="url(#f2)"/><rect x="92" y="1690" width="1225" height="3" fill="url(#f3)"/><rect x="92" y="1693" width="1225" height="3" fill="url(#f4)"/><rect x="92" y="1696" width="1225" height="3" fill="url(#f5)"/><rect x="92" y="1699" width="1225" height="3" fill="url(#f6)"/><rect x="92" y="1702" width="1225" height="3" fill="url(#f7)"/><rect x="92" y="1705" width="1225" height="3" fill="url(#f8)"/><rect x="92" y="1708" width="1225" height="3" fill="url(#f9)"/><rect x="92" y="1711" width="1225" height="3" fill="url(#f10)"/><rect x="92" y="1714" width="1225" height="3" fill="url(#f11)"/><rect x="92" y="1717" width="1225" height="3" fill="url(#f12)"/><rect x="92" y="1720" width="1225" height="3" fill="url(#f13)"/><rect x="92" y="1723" width="1225" height="3" fill="url(#f14)"/><rect x="92" y="1726" width="1225" height="3" fill="url(#f15)"/><rect x="92" y="1729" width="1225" height="3" fill="url(#f16)"/><rect x="92" y="1732" width="1225" height="3" fill="url(#f17)"/><rect x="92" y="1735" width="1225" height="3" fill="url(#f18)"/><rect x="92" y="1738" width="1225" height="3" fill="url(#f19)"/><rect x="92" y="1741" width="1225" height="3" fill="url(#f20)"/><rect x="92" y="1744" width="1225" height="3" fill="url(#f21)"/><rect x="92" y="1747" width="1225" height="3" fill="url(#f22)"/><rect x="92" y="1750" width="1225" height="3" fill="url(#f23)"/><rect x="92" y="1753" width="1225" height="3" fill="url(#f24)"/><rect x="92" y="1756" width="1225" height="3" fill="url(#f25)"/><rect x="92" y="1759" width="1225" height="3" fill="url(#f26)"/><rect x="92" y="1762" width="1225" height="3" fill="url(#f27)"/><rect x="92" y="1765" width="1225" height="3" fill="url(#f28)"/><rect x="92" y="1768" width="1225" height="3" fill="url(#f29)"/><rect x="92" y="1771" width="1225" height="3" fill="url(#f30)"/><rect x="92" y="1774" width="1225" height="3" fill="url(#f31)"/><rect x="92" y="1777" width="1225" height="3" fill="url(#f32)"/><rect x="92" y="1780" width="1225" height="3" fill="url(#f33)"/><rect x="92" y="1783" width="1225" height="3" fill="url(#f34)"/><rect x="92" y="1786" width="1225" height="3" fill="url(#f35)"/><rect x="92" y="1789" width="1225" height="3" fill="url(#f36)"/><rect x="92" y="1792" width="1225" height="3" fill="url(#f37)"/><rect x="92" y="1795" width="1225" height="3" fill="url(#f38)"/><rect x="92" y="1798" width="1225" height="3" fill="url(#f39)"/><rect x="92" y="1801" width="1225" height="3" fill="url(#f40)"/><rect x="92" y="1804" width="1225" height="3" fill="url(#f41)"/><rect x="92" y="1807" width="1225" height="3" fill="url(#f42)"/><rect x="92" y="1810" width="1225" height="3" fill="url(#f43)"/><rect x="92" y="1813" width="1225" height="3" fill="url(#f44)"/><rect x="92" y="1816" width="1225" height="3" fill="url(#f45)"/><rect x="92" y="1819" width="1225" height="3" fill="url(#f46)"/><rect x="92" y="1822" width="1225" height="3" fill="url(#f47)"/><rect x="92" y="1825" width="1225" height="3" fill="url(#f48)"/><rect x="92" y="1828" width="1225" height="3" fill="url(#f49)"/><rect x="92" y="1831" width="1225" height="3" fill="url(#f50)"/><rect x="92" y="1834" width="1225" height="3" fill="url(#f51)"/><rect x="92" y="1837" width="1225" height="3" fill="url(#f52)"/><rect x="92" y="1840" width="1225" height="3" fill="url(#f53)"/><rect x="92" y="1843" width="1225" height="3" fill="url(#f54)"/><rect x="92" y="1846" width="1225" height="3" fill="url(#f55)"/><rect x="92" y="1849" width="1225" height="3" fill="url(#f56)"/><rect x="92" y="1852" width="1225" height="3" fill="url(#f57)"/><rect x="92" y="1855" width="1225" height="3" fill="url(#f58)"/><rect x="92" y="1858" width="1225" height="3" fill="url(#f59)"/><rect x="92" y="1861" width="1225" height="3" fill="url(#f60)"/><rect x="92" y="1864" width="1225" height="3" fill="url(#f61)"/><rect x="92" y="1867" width="1225" height="3" fill="url(#f62)"/><rect x="92" y="1870" width="1225" height="3" fill="url(#f63)"/><rect x="92" y="1873" width="1225" height="3" fill="url(#f64)"/><rect x="92" y="1876" width="1225" height="3" fill="url(#f65)"/><rect x="92" y="1879" width="1225" height="3" fill="url(#f66)"/><rect x="92" y="1882" width="1225" height="3" fill="url(#f67)"/><rect x="92" y="1885" width="1225" height="3" fill="url(#f68)"/><rect x="92" y="1888" width="1225" height="3" fill="url(#f69)"/><rect x="92" y="1891" width="1225" height="3" fill="url(#f70)"/><rect x="92" y="1894" width="1225" height="3" fill="url(#f71)"/><rect x="92" y="1897" width="1225" height="3" fill="url(#f72)"/><rect x="92" y="1900" width="1225" height="3" fill="url(#f73)"/><rect x="92" y="1903" width="1225" height="3" fill="url(#f74)"/><rect x="92" y="1906" width="1225" height="3" fill="url(#f75)"/><rect x="92" y="1909" width="1225" height="3" fill="url(#f76)"/><rect x="92" y="1912" width="1225" height="3" fill="url(#f77)"/><rect x="92" y="1915" width="1225" height="3" fill="url(#f78)"/><rect x="92" y="1918" width="1225" height="3" fill="url(#f79)"/><rect x="92" y="1921" width="1225" height="3" fill="url(#f80)"/><rect x="92" y="1924" width="1225" height="3" fill="url(#f81)"/><rect x="92" y="1927" width="1225" height="3" fill="url(#f82)"/><rect x="92" y="1930" width="1225" height="3" fill="url(#f83)"/><rect x="92" y="1933" width="1225" height="3" fill="url(#f84)"/><rect x="92" y="1936" width="1225" height="3" fill="url(#f85)"/><rect x="92" y="1939" width="1225" height="3" fill="url(#f86)"/><rect x="92" y="1942" width="1225" height="3" fill="url(#f87)"/><rect x="92" y="1945" width="1225" height="3" fill="url(#f88)"/><rect x="92" y="1948" width="1225" height="3" fill="url(#f89)"/><rect x="92" y="1951" width="1225" height="3" fill="url(#f90)"/><rect x="92" y="1954" width="1225" height="3" fill="url(#f91)"/><rect x="92" y="1957" width="1225" height="3" fill="url(#f92)"/><rect x="92" y="1960" width="1225" height="3" fill="url(#f93)"/><rect x="92" y="1963" width="1225" height="3" fill="url(#f94)"/><rect x="92" y="1966" width="1225" height="3" fill="url(#f95)"/><rect x="92" y="1969" width="1225" height="3" fill="url(#f96)"/><rect x="92" y="1972" width="1225" height="3" fill="url(#f97)"/><rect x="92" y="1975" width="1225" height="3" fill="url(#f98)"/><rect x="92" y="1978" width="1225" height="3" fill="url(#f99)"/><rect x="92" y="1981" width="1225" height="3" fill="url(#f100)"/><rect x="92" y="1984" width="1225" height="3" fill="url(#f101)"/><rect x="92" y="1987" width="1225" height="3" fill="url(#f102)"/><rect x="92" y="1990" width="1225" height="2" fill="url(#f103)"/></g><line x1="451.1" y1="1698.4" x2="451.1" y2="1989.7" stroke="#f48d33" stroke-width="9.5" stroke-dasharray="19.5 19"/><line x1="999.9" y1="1698.4" x2="999.9" y2="1989.7" stroke="#f48d33" stroke-width="9.5" stroke-dasharray="19.5 19"/><rect x="93.0" y="1682.6" width="1222.8" height="308.1" fill="none" stroke="#000" stroke-width="2"/><path d="M92.0 1942.2h5M1316.8 1942.2h-5M92.0 1893.2h10M1316.8 1893.2h-10M92.0 1844.2h5M1316.8 1844.2h-5M92.0 1795.2h10M1316.8 1795.2h-10M92.0 1746.2h5M1316.8 1746.2h-5M92.0 1697.2h10M1316.8 1697.2h-10M289.3 1991.7v-5M289.3 1681.6v5M486.1 1991.7v-10M486.1 1681.6v10M682.9 1991.7v-5M682.9 1681.6v5M879.7 1991.7v-10M879.7 1681.6v10M1076.5 1991.7v-5M1076.5 1681.6v5M1273.3 1991.7v-10M1273.3 1681.6v10" stroke="#000" stroke-width="2"/><text x="82.6" y="1999.8" font-size="29" text-anchor="end">0</text><text x="82.6" y="1901.8" font-size="29" text-anchor="end">1</text><text x="82.6" y="1803.8" font-size="29" text-anchor="end">2</text><text x="82.6" y="1705.8" font-size="29" text-anchor="end">3</text><text x="92.5" y="2024.1" font-size="29" text-anchor="middle">0</text><text x="486.1" y="2024.1" font-size="29" text-anchor="middle">4</text><text x="879.7" y="2024.1" font-size="29" text-anchor="middle">8</text><text x="1273.3" y="2024.1" font-size="29" text-anchor="middle">12</text><text x="108.3" y="1748.2" font-size="58" fill="#fff">675 nm</text><text x="103.8" y="1973.3" font-size="58" fill="#fff">1.83 eV</text><text transform="translate(50,1836.7) rotate(-90)" font-size="33.5" text-anchor="middle"><tspan font-style="italic">Y</tspan> (µm)</text><text x="11.5" y="1711.7" font-size="65" font-weight="bold">f</text><rect x="1513.7" y="1683.1" width="41.8" height="307.1" fill="url(#cbf)" stroke="#000" stroke-width="3"/><text x="1567.0" y="1696.8" font-size="29">40</text><text x="1567.0" y="1772.0" font-size="29">20</text><text x="1567.0" y="1847.2" font-size="29">0</text><text x="1567.0" y="1922.5" font-size="29">−20</text><text x="1567.0" y="1997.7" font-size="29">−40</text><path d="M1555.0 1686.4h-9M1555.0 1761.6h-9M1555.0 1836.8h-9M1555.0 1912.1h-9M1555.0 1987.3h-9" stroke="#000" stroke-width="2.4"/><text x="1345" y="1741.6" font-size="48"><tspan font-style="italic">I</tspan><tspan font-size="32" dy="3.5">sc</tspan><tspan dy="-3.5"> (nA)</tspan></text><g clip-path="url(#hcg)" shape-rendering="crispEdges"><rect x="93" y="2037" width="1225" height="3" fill="url(#g0)"/><rect x="93" y="2040" width="1225" height="3" fill="url(#g1)"/><rect x="93" y="2043" width="1225" height="3" fill="url(#g2)"/><rect x="93" y="2046" width="1225" height="3" fill="url(#g3)"/><rect x="93" y="2049" width="1225" height="3" fill="url(#g4)"/><rect x="93" y="2052" width="1225" height="3" fill="url(#g5)"/><rect x="93" y="2055" width="1225" height="3" fill="url(#g6)"/><rect x="93" y="2058" width="1225" height="3" fill="url(#g7)"/><rect x="93" y="2061" width="1225" height="3" fill="url(#g8)"/><rect x="93" y="2064" width="1225" height="3" fill="url(#g9)"/><rect x="93" y="2067" width="1225" height="3" fill="url(#g10)"/><rect x="93" y="2070" width="1225" height="3" fill="url(#g11)"/><rect x="93" y="2073" width="1225" height="3" fill="url(#g12)"/><rect x="93" y="2076" width="1225" height="3" fill="url(#g13)"/><rect x="93" y="2079" width="1225" height="3" fill="url(#g14)"/><rect x="93" y="2082" width="1225" height="3" fill="url(#g15)"/><rect x="93" y="2085" width="1225" height="3" fill="url(#g16)"/><rect x="93" y="2088" width="1225" height="3" fill="url(#g17)"/><rect x="93" y="2091" width="1225" height="3" fill="url(#g18)"/><rect x="93" y="2094" width="1225" height="3" fill="url(#g19)"/><rect x="93" y="2097" width="1225" height="3" fill="url(#g20)"/><rect x="93" y="2100" width="1225" height="3" fill="url(#g21)"/><rect x="93" y="2103" width="1225" height="3" fill="url(#g22)"/><rect x="93" y="2106" width="1225" height="3" fill="url(#g23)"/><rect x="93" y="2109" width="1225" height="3" fill="url(#g24)"/><rect x="93" y="2112" width="1225" height="3" fill="url(#g25)"/><rect x="93" y="2115" width="1225" height="3" fill="url(#g26)"/><rect x="93" y="2118" width="1225" height="3" fill="url(#g27)"/><rect x="93" y="2121" width="1225" height="3" fill="url(#g28)"/><rect x="93" y="2124" width="1225" height="3" fill="url(#g29)"/><rect x="93" y="2127" width="1225" height="3" fill="url(#g30)"/><rect x="93" y="2130" width="1225" height="3" fill="url(#g31)"/><rect x="93" y="2133" width="1225" height="3" fill="url(#g32)"/><rect x="93" y="2136" width="1225" height="3" fill="url(#g33)"/><rect x="93" y="2139" width="1225" height="3" fill="url(#g34)"/><rect x="93" y="2142" width="1225" height="3" fill="url(#g35)"/><rect x="93" y="2145" width="1225" height="3" fill="url(#g36)"/><rect x="93" y="2148" width="1225" height="3" fill="url(#g37)"/><rect x="93" y="2151" width="1225" height="3" fill="url(#g38)"/><rect x="93" y="2154" width="1225" height="3" fill="url(#g39)"/><rect x="93" y="2157" width="1225" height="3" fill="url(#g40)"/><rect x="93" y="2160" width="1225" height="3" fill="url(#g41)"/><rect x="93" y="2163" width="1225" height="3" fill="url(#g42)"/><rect x="93" y="2166" width="1225" height="3" fill="url(#g43)"/><rect x="93" y="2169" width="1225" height="3" fill="url(#g44)"/><rect x="93" y="2172" width="1225" height="3" fill="url(#g45)"/><rect x="93" y="2175" width="1225" height="3" fill="url(#g46)"/><rect x="93" y="2178" width="1225" height="3" fill="url(#g47)"/><rect x="93" y="2181" width="1225" height="3" fill="url(#g48)"/><rect x="93" y="2184" width="1225" height="3" fill="url(#g49)"/><rect x="93" y="2187" width="1225" height="3" fill="url(#g50)"/><rect x="93" y="2190" width="1225" height="3" fill="url(#g51)"/><rect x="93" y="2193" width="1225" height="3" fill="url(#g52)"/><rect x="93" y="2196" width="1225" height="3" fill="url(#g53)"/><rect x="93" y="2199" width="1225" height="3" fill="url(#g54)"/><rect x="93" y="2202" width="1225" height="3" fill="url(#g55)"/><rect x="93" y="2205" width="1225" height="3" fill="url(#g56)"/><rect x="93" y="2208" width="1225" height="3" fill="url(#g57)"/><rect x="93" y="2211" width="1225" height="3" fill="url(#g58)"/><rect x="93" y="2214" width="1225" height="3" fill="url(#g59)"/><rect x="93" y="2217" width="1225" height="3" fill="url(#g60)"/><rect x="93" y="2220" width="1225" height="3" fill="url(#g61)"/><rect x="93" y="2223" width="1225" height="3" fill="url(#g62)"/><rect x="93" y="2226" width="1225" height="3" fill="url(#g63)"/><rect x="93" y="2229" width="1225" height="3" fill="url(#g64)"/><rect x="93" y="2232" width="1225" height="3" fill="url(#g65)"/><rect x="93" y="2235" width="1225" height="3" fill="url(#g66)"/><rect x="93" y="2238" width="1225" height="3" fill="url(#g67)"/><rect x="93" y="2241" width="1225" height="3" fill="url(#g68)"/><rect x="93" y="2244" width="1225" height="3" fill="url(#g69)"/><rect x="93" y="2247" width="1225" height="3" fill="url(#g70)"/><rect x="93" y="2250" width="1225" height="3" fill="url(#g71)"/><rect x="93" y="2253" width="1225" height="3" fill="url(#g72)"/><rect x="93" y="2256" width="1225" height="3" fill="url(#g73)"/><rect x="93" y="2259" width="1225" height="3" fill="url(#g74)"/><rect x="93" y="2262" width="1225" height="3" fill="url(#g75)"/><rect x="93" y="2265" width="1225" height="3" fill="url(#g76)"/><rect x="93" y="2268" width="1225" height="3" fill="url(#g77)"/><rect x="93" y="2271" width="1225" height="3" fill="url(#g78)"/><rect x="93" y="2274" width="1225" height="3" fill="url(#g79)"/><rect x="93" y="2277" width="1225" height="3" fill="url(#g80)"/><rect x="93" y="2280" width="1225" height="3" fill="url(#g81)"/><rect x="93" y="2283" width="1225" height="3" fill="url(#g82)"/><rect x="93" y="2286" width="1225" height="3" fill="url(#g83)"/><rect x="93" y="2289" width="1225" height="3" fill="url(#g84)"/><rect x="93" y="2292" width="1225" height="3" fill="url(#g85)"/><rect x="93" y="2295" width="1225" height="3" fill="url(#g86)"/><rect x="93" y="2298" width="1225" height="3" fill="url(#g87)"/><rect x="93" y="2301" width="1225" height="3" fill="url(#g88)"/><rect x="93" y="2304" width="1225" height="3" fill="url(#g89)"/><rect x="93" y="2307" width="1225" height="3" fill="url(#g90)"/><rect x="93" y="2310" width="1225" height="3" fill="url(#g91)"/><rect x="93" y="2313" width="1225" height="3" fill="url(#g92)"/><rect x="93" y="2316" width="1225" height="3" fill="url(#g93)"/><rect x="93" y="2319" width="1225" height="3" fill="url(#g94)"/><rect x="93" y="2322" width="1225" height="3" fill="url(#g95)"/><rect x="93" y="2325" width="1225" height="3" fill="url(#g96)"/><rect x="93" y="2328" width="1225" height="3" fill="url(#g97)"/><rect x="93" y="2331" width="1225" height="3" fill="url(#g98)"/><rect x="93" y="2334" width="1225" height="3" fill="url(#g99)"/><rect x="93" y="2337" width="1225" height="3" fill="url(#g100)"/><rect x="93" y="2340" width="1225" height="3" fill="url(#g101)"/><rect x="93" y="2343" width="1225" height="3" fill="url(#g102)"/><rect x="93" y="2346" width="1225" height="2" fill="url(#g103)"/></g><line x1="451.1" y1="2056.7" x2="451.1" y2="2345.5" stroke="#f48d33" stroke-width="9.5" stroke-dasharray="19.7 19.3"/><line x1="999.9" y1="2056.7" x2="999.9" y2="2345.5" stroke="#f48d33" stroke-width="9.5" stroke-dasharray="19.7 19.3"/><rect x="94.9" y="2038.9" width="1222.1" height="307.6" fill="none" stroke="#000" stroke-width="2"/><path d="M93.9 2298.0h5M1318.0 2298.0h-5M93.9 2249.0h10M1318.0 2249.0h-10M93.9 2200.0h5M1318.0 2200.0h-5M93.9 2151.0h10M1318.0 2151.0h-10M93.9 2102.0h5M1318.0 2102.0h-5M93.9 2053.0h10M1318.0 2053.0h-10M291.2 2347.5v-5M291.2 2037.9v5M488.0 2347.5v-10M488.0 2037.9v10M684.8 2347.5v-5M684.8 2037.9v5M881.6 2347.5v-10M881.6 2037.9v10M1078.4 2347.5v-5M1078.4 2037.9v5M1275.2 2347.5v-10M1275.2 2037.9v10" stroke="#000" stroke-width="2"/><text x="84.1" y="2355.6" font-size="29" text-anchor="end">0</text><text x="84.1" y="2257.6" font-size="29" text-anchor="end">1</text><text x="84.1" y="2159.6" font-size="29" text-anchor="end">2</text><text x="84.1" y="2061.6" font-size="29" text-anchor="end">3</text><text x="94.4" y="2379.9" font-size="29" text-anchor="middle">0</text><text x="488.0" y="2379.9" font-size="29" text-anchor="middle">4</text><text x="881.6" y="2379.9" font-size="29" text-anchor="middle">8</text><text x="1275.2" y="2379.9" font-size="29" text-anchor="middle">12</text><text x="108.3" y="2104.6" font-size="58" fill="#fff">700 nm</text><text x="103.8" y="2330.0" font-size="58" fill="#fff">1.77 eV</text><text transform="translate(50,2192.7) rotate(-90)" font-size="33.5" text-anchor="middle"><tspan font-style="italic">Y</tspan> (µm)</text><text x="1.0" y="2061.5" font-size="65" font-weight="bold">g</text><rect x="1515.1" y="2039.4" width="41.8" height="306.6" fill="url(#cbg)" stroke="#000" stroke-width="3"/><text x="1568.4" y="2053.1" font-size="29">40</text><text x="1568.4" y="2128.2" font-size="29">20</text><text x="1568.4" y="2203.3" font-size="29">0</text><text x="1568.4" y="2278.4" font-size="29">−20</text><text x="1568.4" y="2353.5" font-size="29">−40</text><path d="M1556.4 2042.7h-9M1556.4 2117.8h-9M1556.4 2192.9h-9M1556.4 2268.0h-9M1556.4 2343.1h-9" stroke="#000" stroke-width="2.4"/><text x="1345" y="2097.9" font-size="48"><tspan font-style="italic">I</tspan><tspan font-size="32" dy="3.5">sc</tspan><tspan dy="-3.5"> (nA)</tspan></text><text x="705" y="2431.4" font-size="34" text-anchor="middle"><tspan font-style="italic">X</tspan> (µm)</text></svg></body></html>
